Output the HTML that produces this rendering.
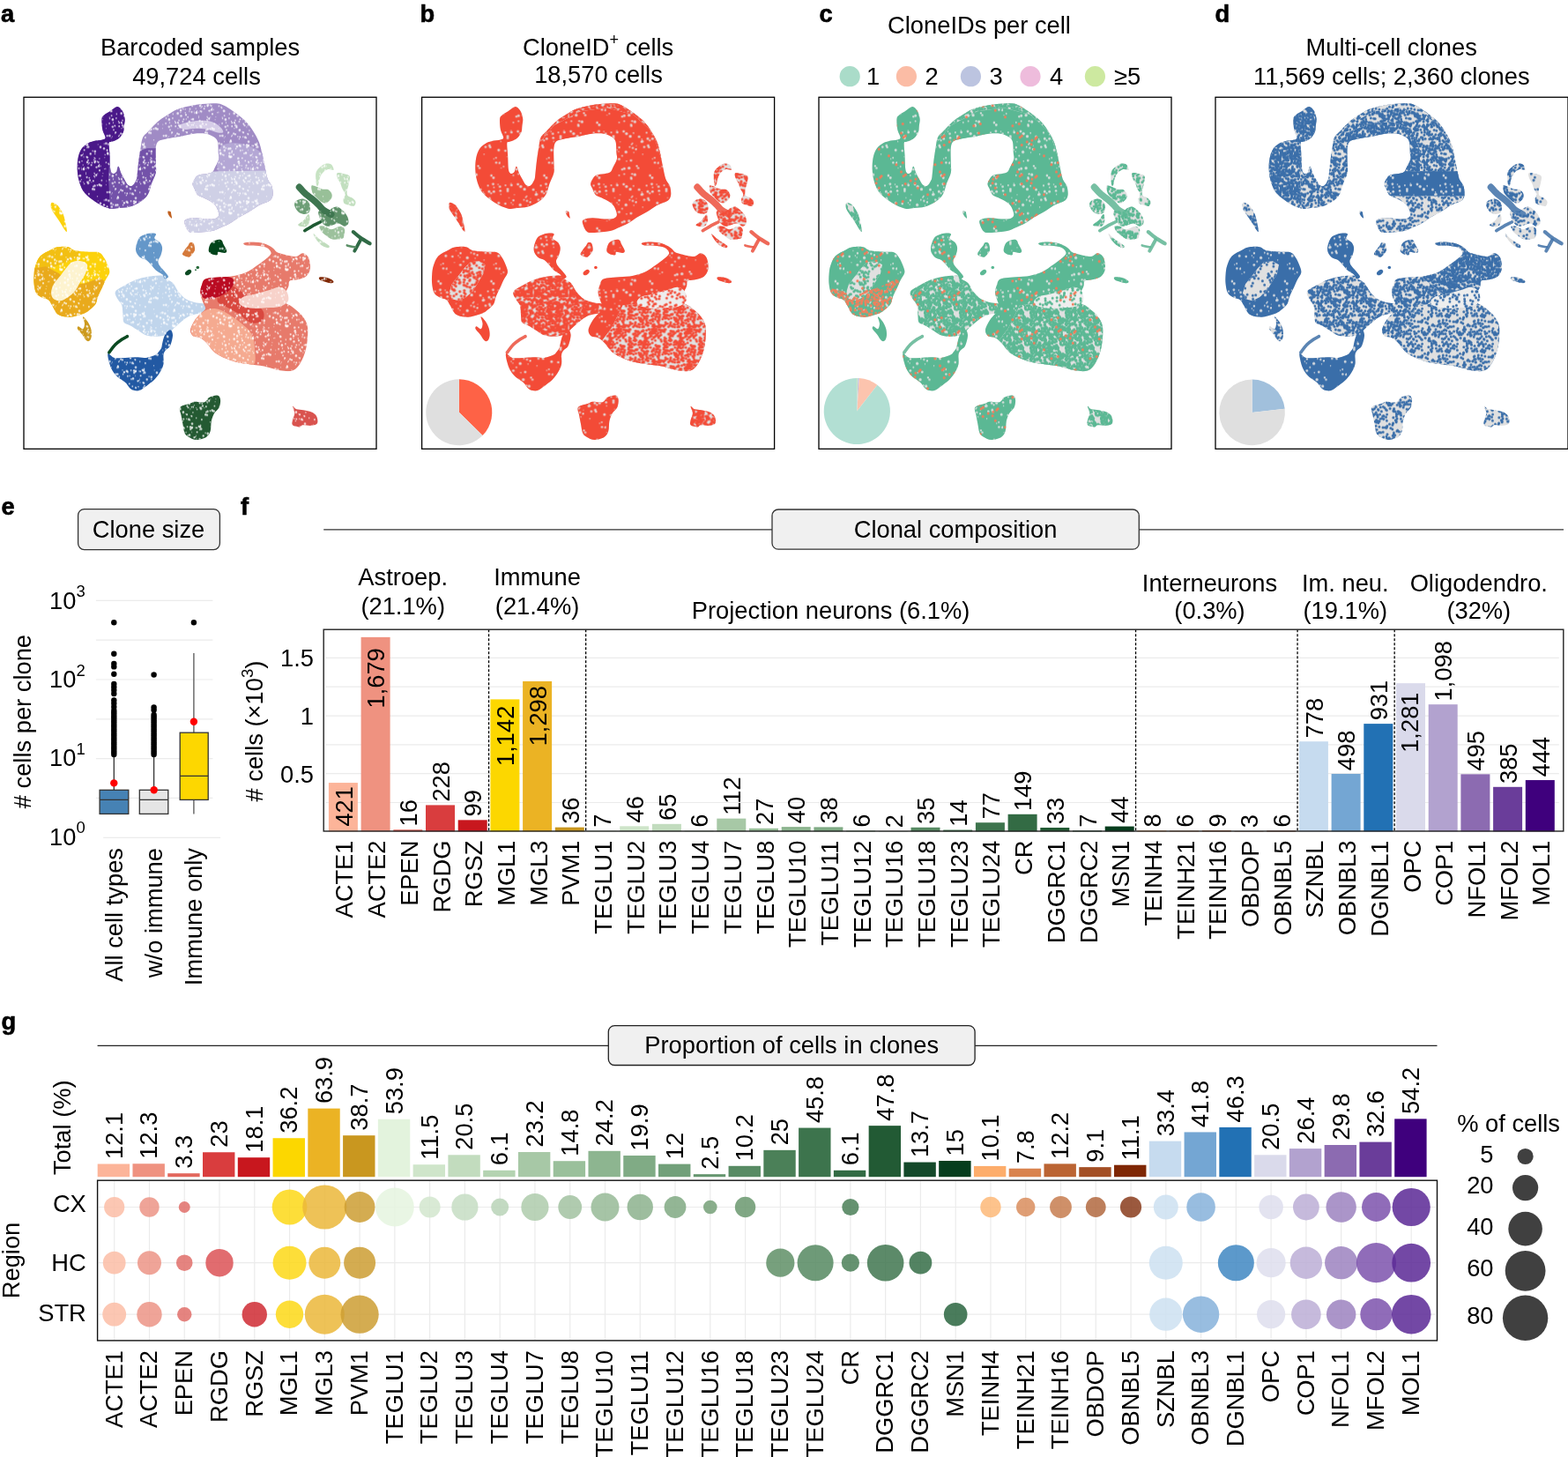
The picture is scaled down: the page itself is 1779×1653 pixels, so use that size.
<!DOCTYPE html><html><head><meta charset="utf-8"><title>Figure</title><style>html,body{margin:0;padding:0;background:#fff;width:1779px;height:1653px;overflow:hidden}svg{display:block}text{font-family:"Liberation Sans", Arial, Helvetica, sans-serif;font-size:27.3px;fill:#000}</style></head><body>
<svg width="1779" height="1653" viewBox="0 0 1779 1653">
<rect width="1779" height="1653" fill="#fff"/>
<text x="1" y="25" font-size="31" font-weight="bold" stroke="#000" stroke-width="0.6">a</text>
<text x="476.5" y="25" font-size="31" font-weight="bold" stroke="#000" stroke-width="0.6">b</text>
<text x="929.5" y="25" font-size="31" font-weight="bold" stroke="#000" stroke-width="0.6">c</text>
<text x="1378.5" y="25" font-size="31" font-weight="bold" stroke="#000" stroke-width="0.6">d</text>
<text x="227" y="63.3" text-anchor="middle">Barcoded samples</text>
<text x="223" y="95.8" text-anchor="middle">49,724 cells</text>
<text x="678.6" y="62.9" text-anchor="middle">CloneID<tspan dy="-12" font-size="18">+</tspan><tspan dy="12"> cells</tspan></text>
<text x="679" y="94.4" text-anchor="middle">18,570 cells</text>
<text x="1111" y="38.4" text-anchor="middle">CloneIDs per cell</text>
<text x="1578.7" y="63.3" text-anchor="middle">Multi-cell clones</text>
<text x="1578.8" y="95.8" text-anchor="middle">11,569 cells; 2,360 clones</text>
<circle cx="964.2" cy="86.7" r="11.6" fill="#aadcc9"/>
<text x="983" y="95.5">1</text>
<circle cx="1028.4" cy="86.7" r="11.6" fill="#fbbca5"/>
<text x="1049.5" y="95.5">2</text>
<circle cx="1101.4" cy="86.7" r="11.6" fill="#bcc4e0"/>
<text x="1122.5" y="95.5">3</text>
<circle cx="1169" cy="86.7" r="11.6" fill="#eebcdc"/>
<text x="1191" y="95.5">4</text>
<circle cx="1242.4" cy="86.7" r="11.6" fill="#cde9a0"/>
<text x="1264" y="95.5">≥5</text>
<defs><clipPath id="c_S"><path d="M104 11.4 C105.8 10.6 106.7 10.6 108.1 11.4 C109.5 12.2 111.1 14.1 112.2 16.3 C113.3 18.5 114.3 21.8 114.6 24.5 C114.9 27.2 114.1 30.3 113.8 32.7 C113.5 35.2 113.8 37 113 39.2 C112.2 41.4 110.4 44.2 108.9 45.8 C107.4 47.4 105.6 48.2 104 49 C102.4 49.8 100.3 50.2 99.1 50.7 C97.9 51.2 97 49.8 96.7 52.3 C96.4 54.8 97.2 60.5 97.5 65.4 C97.8 70.3 97.8 78.2 98.3 81.7 C98.8 85.2 99.7 86 100.8 86.6 C101.9 87.1 103.7 86.4 104.8 85 C105.9 83.6 106.3 78.1 107.3 78.4 C108.3 78.7 109.5 84.2 110.6 86.6 C111.7 89 112.8 90.8 114 93 C115.2 95.2 116.5 98.2 118 99.5 C119.5 100.8 121.5 101.2 123 100.5 C124.5 99.8 126.1 96.8 127 95 C127.9 93.2 128 93.5 128.5 89.9 C129 86.3 129.5 79 130.2 73.5 C130.9 68 131.8 61.8 132.6 57.2 C133.4 52.6 133.6 48.8 135 45.8 C136.4 42.8 137.8 42.3 140.8 39.2 C143.8 36.1 148.9 30.4 153 27 C157.1 23.6 161.6 21.1 165.3 18.8 C169 16.6 170.4 15.1 175 13.5 C179.6 11.9 187 10.1 193 9 C199 8 205.7 7.4 210.9 7.2 C216.1 7 219.9 6.6 224.4 8.1 C228.9 9.6 233.4 13 237.9 16.2 C242.4 19.3 247.7 23.2 251.4 27 C255.2 30.8 257.8 34.8 260.4 38.7 C262.9 42.6 265 46.4 266.7 50.4 C268.4 54.4 269.2 58.7 270.3 63 C271.4 67.3 271.9 71.5 273 76.4 C274.1 81.3 275.2 88.4 276.6 92.4 C278 96.4 280.3 97.5 281.3 100.5 C282.3 103.5 282.9 107.8 282.6 110.6 C282.3 113.4 281.2 115.6 279.3 117.3 C277.4 119 273.7 119.6 271.2 120.7 C268.7 121.8 267.2 122.4 264.4 124.1 C261.6 125.8 257.7 128.8 254.3 130.8 C250.9 132.8 247.6 134.2 244.2 136.2 C240.8 138.2 237.5 141.1 234.1 143 C230.7 144.9 227.4 146.2 224 147.7 C220.6 149.1 217.7 150.8 213.8 151.7 C209.9 152.6 204.7 152.9 200.4 153.1 C196.1 153.3 191.1 154.6 188.2 153.1 C185.3 151.6 183.6 146.7 182.8 144.3 C182 141.9 181.7 140.1 183.5 138.9 C185.3 137.7 189.7 137 193.6 136.9 C197.5 136.8 203.2 138.1 207.1 138.2 C211 138.3 214.8 138.4 217.2 137.6 C219.6 136.8 221.1 135.6 221.3 133.5 C221.5 131.4 219.8 127.1 218.6 124.8 C217.3 122.5 216.3 121.2 213.8 119.4 C211.3 117.6 206.5 115.5 203.7 114 C200.9 112.5 198.7 112.3 197 110.6 C195.3 108.9 194.5 105.9 193.6 103.8 C192.7 101.7 191 100.3 191.6 97.8 C192.2 95.3 194.4 90.8 197 89 C199.6 87.2 204.3 87.7 207.1 87 C209.9 86.3 212.1 86.3 213.8 85 C215.5 83.7 215.9 81.4 217.2 78.9 C218.4 76.4 220.7 72.8 221.3 70.1 C221.9 67.4 221 66.3 220.8 63 C220.6 59.7 220.8 53.4 219.9 50.4 C219 47.4 217.7 46.5 215.4 45 C213.2 43.5 210.1 42 206.4 41.4 C202.7 40.8 197.5 40.9 193 41.4 C188.5 41.9 182.5 43.5 179.5 44.1 C176.5 44.7 178.1 44.5 175 45 C171.9 45.5 164.9 46.6 161.2 47.4 C157.5 48.2 154.9 48.2 153 49.8 C151.1 51.4 150.3 53.2 149.8 57.2 C149.3 61.2 149.8 68.7 149.8 73.5 C149.8 78.3 150.6 81.7 149.8 85.8 C149 89.9 146.4 93.9 144.9 98 C143.4 102.1 142.9 106.9 140.8 110.3 C138.8 113.7 136 116.2 132.6 118.5 C129.2 120.8 124.5 123 120.4 124.2 C116.3 125.4 111.6 125.4 108.1 125.8 C104.5 126.2 102.5 127.1 99.1 126.6 C95.7 126 91.7 124.5 87.7 122.5 C83.8 120.5 78.8 117.1 75.4 114.4 C72 111.7 69.5 109.6 67.3 106.2 C65.1 102.8 63.5 98.1 62.4 94 C61.3 89.9 60.9 85.8 60.7 81.7 C60.6 77.6 60.8 73.1 61.5 69.4 C62.2 65.7 63.2 62.3 64.8 59.6 C66.4 56.9 68.8 54.7 71.3 53.1 C73.8 51.5 76.5 50.6 79.5 49.8 C82.5 49 87.1 48.9 89.3 48.2 C91.5 47.5 92.6 47.7 92.6 45.8 C92.6 43.9 90 40.3 89.3 36.8 C88.6 33.2 88.2 27.2 88.5 24.5 C88.8 21.8 89.5 21.8 91 20.4 C92.5 19 95.3 17.8 97.5 16.3 C99.7 14.8 102.2 12.2 104 11.4Z"/></clipPath><clipPath id="c_Y_STREAK"><path d="M31.5 119.8 C32.4 119 34.6 120.2 36 121 C37.4 121.8 38.5 122.6 40 124.6 C41.5 126.6 43.5 129.6 44.8 133 C46.1 136.4 47.1 141.8 47.8 145 C48.5 148.2 49.1 151.7 48.8 152.5 C48.5 153.3 47.3 151.8 46 150 C44.7 148.2 42.8 144.4 41 141.6 C39.2 138.8 36.7 135.6 35 133 C33.3 130.4 31.5 128 30.9 125.8 C30.3 123.6 30.6 120.6 31.5 119.8Z"/></clipPath><clipPath id="c_Y_RING"><path d="M13.2 191.2 C14.4 187.7 15.8 183.1 18.7 180.1 C21.6 177.1 27.2 174.8 30.5 173.1 C33.8 171.4 35.1 170.5 38.4 170 C41.7 169.5 46.9 169.3 50.2 170 C53.5 170.7 54.1 173 58 173.9 C61.9 174.8 69.2 175 73.8 175.4 C78.4 175.8 82.6 175.1 85.5 176.2 C88.4 177.3 89.3 179.5 91 182 C92.7 184.5 94.5 188.4 95.5 191.2 C96.5 194 97.7 196.4 97.3 199 C96.9 201.6 94.3 204.4 93 207 C91.7 209.6 91 211.4 89.5 214.7 C88 217.9 85.3 223.2 84 226.5 C82.7 229.8 83.1 232 81.6 234.4 C80.1 236.8 77 239.3 75 241 C73 242.7 72.6 243.3 69.8 244.6 C67 245.8 61.5 247.7 58 248.5 C54.5 249.3 51.9 249.7 48.6 249.3 C45.3 248.9 41.2 248.4 38.4 246.2 C35.6 244 33.7 238.7 32 236 C30.3 233.3 30 231.5 28 230 C26 228.5 22.3 228.3 20 227 C17.7 225.7 15.4 224.5 14 222 C12.6 219.5 12 215.5 11.6 212 C11.2 208.5 11.3 204.5 11.6 201 C11.9 197.5 12 194.7 13.2 191.2Z"/></clipPath><clipPath id="c_Y_TAIL"><path d="M67 249 C67.5 248.5 70.5 251.8 72 254 C73.5 256.2 75.2 259.3 76 262 C76.8 264.7 77.2 267.7 77 270 C76.8 272.3 76 275 75 276 C74 277 72.5 277.2 71 276 C69.5 274.8 67.7 271.2 66 269 C64.3 266.8 61.7 264.5 61 263 C60.3 261.5 61 260 62 260 C63 260 65.8 263.5 67 263 C68.2 262.5 69 259.3 69 257 C69 254.7 66.5 249.5 67 249Z"/></clipPath><clipPath id="c_B_MED"><path d="M127.2 169.6 C127.7 166.7 129.3 161.8 131.1 159.4 C132.9 157 135.7 156.2 138.2 155.4 C140.7 154.6 144.1 154.3 146.1 154.3 C148.1 154.3 149.6 154.4 150 155.4 C150.4 156.4 147.6 158.6 148.4 160.2 C149.2 161.8 153.2 163.1 154.7 164.9 C156.1 166.7 157 168.8 157.1 171.2 C157.2 173.6 156.3 176.7 155.5 179.1 C154.7 181.5 152.7 183.4 152.4 185.4 C152.2 187.4 152.9 189.1 154 190.9 C155.1 192.7 157 194.3 158.7 196.4 C160.4 198.5 163.8 201.9 164 203.5 C164.2 205.1 161.2 206.4 160 206 C158.8 205.6 158.8 202.7 157.1 201.1 C155.4 199.5 152.1 198.2 150 196.4 C147.9 194.6 146.3 192.1 144.5 190.1 C142.7 188.1 141 185.9 139 184.6 C137 183.3 134.5 183.5 132.7 182.2 C130.9 180.9 128.9 178.8 128 176.7 C127.1 174.6 126.7 172.5 127.2 169.6Z"/></clipPath><clipPath id="c_B_LIGHT"><path d="M104 220.6 C105.4 218 111.2 215.5 115 213.3 C118.8 211.1 122.8 208.9 127 207.3 C131.2 205.7 134.9 204.4 140 203.6 C145.1 202.8 153.4 201.8 157.3 202.4 C161.2 203 161.3 205.9 163.3 207.3 C165.3 208.7 167.4 208.8 169.4 211 C171.4 213.2 173 217.6 175.4 220.6 C177.8 223.6 181 227 184 229 C187 231 190.4 231.9 193.6 232.7 C196.8 233.5 199.9 233.3 203 234 C206.1 234.7 210 235.7 212 237 C214 238.3 216.2 240.7 215 242 C213.8 243.3 208.2 244.3 205 245 C201.8 245.7 198.9 245.4 196 246 C193.1 246.6 190.3 247 187.5 248.4 C184.7 249.8 182 252 179 254.4 C176 256.8 172 260.6 169.4 263 C166.8 265.4 166.3 267.6 163.3 269 C160.3 270.4 155.2 271.2 151.2 271.4 C147.1 271.6 142.4 271.2 139 270.2 C135.6 269.2 133.7 267.1 130.7 265.3 C127.7 263.5 123.8 260.9 121 259.3 C118.2 257.7 115.1 257.5 113.7 255.7 C112.3 253.9 112.9 251.6 112.5 248.4 C112.1 245.2 112.3 239.5 111.3 236.3 C110.3 233.1 107.7 231.6 106.5 229 C105.3 226.4 102.6 223.2 104 220.6Z"/></clipPath><clipPath id="c_B_DARK"><path d="M95.6 290.7 C96.6 289.9 99.6 294.8 102.8 295.6 C106 296.4 111 295.7 115 295.6 C119 295.5 123 295 127 295 C131 295 135.2 296.1 139 295.6 C142.8 295.1 147.8 293 150 292 C152.2 291 151.5 290.7 152.5 289.5 C153.5 288.3 155.2 286.5 156 284.7 C156.8 282.9 156.6 281.1 157.3 278.6 C158 276.2 158.6 272.4 160 270 C161.4 267.6 164.5 264 166 264 C167.5 264 169 266.9 169 270 C169 273.1 167.3 279.5 166 282.3 C164.7 285.1 162.2 285.4 161 287 C159.8 288.6 158.9 289.4 158.5 292 C158.1 294.6 159.1 299.6 158.5 302.8 C157.9 306 156.6 308.5 155 311.3 C153.4 314.1 151 317.4 148.8 319.8 C146.6 322.2 144.2 323.8 141.6 325.8 C139 327.8 135.4 330.7 133 331.9 C130.6 333.1 129 333.2 127 333 C125 332.8 123 332.3 121 330.7 C119 329.1 117.4 325.6 115 323.4 C112.6 321.2 108.9 319.6 106.5 317.4 C104.1 315.2 102 312.8 100.4 310 C98.8 307.2 97.6 303.6 96.8 300.4 C96 297.2 94.6 291.5 95.6 290.7Z"/></clipPath><clipPath id="c_R_MAIN"><path d="M249.6 165.4 C251 164.8 256.7 164.2 260.5 164.3 C264.3 164.4 269 164.9 272.6 166 C276.2 167.1 279.9 169.3 282.3 170.9 C284.7 172.5 285.1 174.5 287.1 175.7 C289.1 176.9 290.8 177.3 294.4 178.1 C298 178.9 305.3 180.8 308.9 180.6 C312.5 180.4 314 177 316.2 177 C318.4 177 320.8 178.8 322.2 180.6 C323.6 182.4 324.2 185.2 324.6 187.8 C325 190.4 325.4 193.7 324.6 196.3 C323.8 198.9 322.4 201.8 319.8 203.6 C317.2 205.4 311.9 206.4 308.9 207.2 C305.9 208 303 207.2 301.6 208.4 C300.2 209.6 301.2 212 300.4 214.4 C299.6 216.8 297.4 219.9 296.8 222.9 C296.2 225.9 295.6 230.2 296.8 232.6 C298 235 301 235 304 237.4 C307 239.8 312.2 243.8 315 247 C317.8 250.2 319.8 253.2 321 256.8 C322.2 260.4 322.4 263.9 322.2 268.9 C322 273.9 321.2 281.6 319.8 287 C318.4 292.4 316.1 297.8 313.7 301.6 C311.3 305.4 309.1 308.6 305.3 310 C301.5 311.4 296.1 310.8 290.7 310 C285.2 309.2 278.7 306.4 272.6 305.2 C266.6 304 260.4 303.8 254.4 302.8 C248.3 301.8 242.4 301.1 236.3 299.1 C230.2 297.1 222.9 294.1 218.1 290.7 C213.3 287.3 210.3 281.6 207.3 278.6 C204.3 275.7 202.6 274.3 200 273 C197.4 271.7 193.8 272.5 192 271 C190.2 269.5 188.7 267 189 264 C189.3 261 192.2 256 194 253 C195.8 250 198 248.2 200 246 C202 243.8 205.5 242.3 206 240 C206.5 237.7 204 235 203 232 C202 229 200.2 225.2 200 222 C199.8 218.8 201.2 215.5 202 213 C202.8 210.5 203.1 208.3 204.8 207 C206.5 205.7 208.8 205.5 212 205 C215.2 204.5 219.5 204.4 224.2 204 C228.9 203.6 235 203.6 240 202.5 C245 201.4 250.2 199.7 254.4 197.7 C258.6 195.7 261.9 192.9 265.3 190.5 C268.7 188.1 272.5 185.4 275 183.2 C277.5 181 280 179.3 280.5 177.5 C281 175.7 279.3 173.8 278 172.5 C276.7 171.2 275.5 170.5 272.6 169.8 C269.7 169.1 263.9 168.6 260.5 168.3 C257.1 168 253.8 168.5 252 168 C250.2 167.5 248.2 166 249.6 165.4Z"/></clipPath><clipPath id="c_R_SMALL"><path d="M305 350.6 C305.4 349.9 307.4 353.3 309.5 354 C311.6 354.7 314.6 354.4 317.4 355 C320.2 355.6 324 356.2 326.4 357.3 C328.8 358.4 330.9 359.7 332 361.8 C333.1 363.9 334 367.9 333.1 369.7 C332.2 371.5 329.2 372.1 326.4 372.5 C323.6 372.9 318.5 371.7 316.3 372 C314.1 372.3 314.9 374.2 313 374.2 C311.1 374.2 306.3 373.3 305 372 C303.7 370.7 304.6 368.6 305 366.3 C305.4 364.1 307.3 361.1 307.3 358.5 C307.3 355.9 304.6 351.4 305 350.6Z"/></clipPath><clipPath id="c_BROWN"><path d="M335.5 204.2 C336.7 203.8 340.8 204.1 343 204.5 C345.2 204.9 347.6 206 349 206.8 C350.4 207.7 351.7 208.9 351.5 209.6 C351.3 210.3 349.6 211 348 211 C346.4 211 344 210.1 342 209.5 C340 208.9 337.1 208.1 336 207.2 C334.9 206.3 334.3 204.6 335.5 204.2Z"/></clipPath><clipPath id="c_DG_BLOB"><path d="M209.7 174.2 C209.5 172.2 210.7 167.8 212.1 165.8 C213.5 163.8 216.1 162.7 218.1 162.1 C220.1 161.5 222.8 161.3 224.2 162.1 C225.6 162.9 225.6 165 226.6 167 C227.6 169 230 172.6 230.2 174.2 C230.4 175.8 229.4 176.4 227.8 176.6 C226.2 176.8 222 175 220.6 175.4 C219.2 175.8 220.6 178.6 219.4 179 C218.2 179.4 214.9 178.7 213.3 177.9 C211.7 177.1 209.9 176.2 209.7 174.2Z"/></clipPath><clipPath id="c_DG_BOTTOM"><path d="M177.4 351.7 C179 349.6 185.4 348.8 188.1 347.8 C190.8 346.8 190.9 345.8 193.7 345.5 C196.5 345.2 202.2 346.8 205 346 C207.8 345.2 208.2 341.8 210.6 340.5 C213 339.2 217.5 337.8 219.6 338.2 C221.7 338.6 222.6 340.4 223 342.7 C223.4 344.9 222.9 349.1 221.8 351.7 C220.7 354.3 217.7 355.9 216.2 358.5 C214.7 361.1 213.6 364.1 212.8 367.5 C212.1 370.9 212.6 375.7 211.7 378.7 C210.8 381.7 209.8 383.7 207.2 385.4 C204.6 387.1 199.4 388.8 196 388.8 C192.6 388.8 189.2 386.7 187 385.4 C184.8 384.1 183.6 383.6 182.5 381 C181.4 378.4 180.9 373.1 180.2 369.7 C179.5 366.3 179 363.7 178.5 360.7 C178 357.7 175.8 353.8 177.4 351.7Z"/></clipPath><clipPath id="c_G_ARC"><path d="M331.3 86.7 C331.8 83.6 333.1 82.2 334.8 80.4 C336.6 78.6 339.5 76.3 341.8 75.6 C344.1 74.9 347.1 75.1 348.7 76.3 C350.3 77.5 352.1 81.6 351.5 82.5 C350.9 83.4 347.3 81.2 345.2 81.8 C343.1 82.4 340.6 84.1 339 86 C337.4 87.9 336.3 90.7 335.5 93 C334.7 95.3 334.6 99 334 100 C333.4 101 332.4 101.4 332 99.2 C331.6 97 330.8 89.8 331.3 86.7Z"/></clipPath><clipPath id="c_G_RCOL"><path d="M355.7 86 C356.9 85.3 360.3 86.1 362.6 86.7 C364.9 87.3 368.6 87.7 369.6 89.5 C370.7 91.3 369.4 95 368.9 97.8 C368.4 100.6 367 103.9 366.8 106.2 C366.6 108.5 366.5 110.4 367.5 111.8 C368.5 113.2 371.5 113.3 373 114.5 C374.5 115.7 376.2 117.2 376.5 118.7 C376.8 120.2 375.9 123 374.5 123.6 C373.1 124.2 370.1 122.8 368.2 122.2 C366.3 121.6 364.2 121.3 363.3 120.1 C362.4 118.9 362.4 116.8 362.6 115.2 C362.8 113.6 364.9 112.4 364.7 110.4 C364.5 108.4 362.1 105.5 361.2 103.4 C360.3 101.3 360.1 99.9 359.2 97.8 C358.3 95.7 356.3 92.9 355.7 90.9 C355.1 88.9 354.5 86.7 355.7 86Z"/></clipPath><clipPath id="c_G_MEDTOP"><path d="M326.4 100.6 C327 99.3 329.3 100.7 331.3 101.3 C333.3 101.9 336 103.5 338.3 104.1 C340.6 104.7 343.4 103.9 345.2 104.8 C347 105.7 348.8 108 349.4 109.7 C350 111.4 349.8 113.5 348.7 115.2 C347.6 116.9 345 119.5 343.1 120.1 C341.2 120.7 339.3 119.6 337.6 118.7 C335.9 117.8 334.3 116.1 332.7 114.5 C331.1 112.9 328.9 111.3 327.8 109 C326.8 106.7 325.8 101.9 326.4 100.6Z"/></clipPath><clipPath id="c_G_LEFT"><path d="M307 122.2 C306.8 120.1 308.1 118.5 309.7 117.3 C311.3 116.1 314.5 115 316.7 115.2 C318.9 115.4 321.6 117 323 118.7 C324.4 120.5 325 123.6 325 125.7 C325 127.8 324.3 130 323 131.2 C321.7 132.3 319.4 132.8 317.4 132.6 C315.4 132.4 312.8 131.5 311.1 129.8 C309.4 128.1 307.2 124.3 307 122.2Z"/></clipPath><clipPath id="c_G_LL"><path d="M311.1 144.5 C311.7 143.3 315.4 141.6 317.4 139.6 C319.4 137.6 321.8 132.6 323 132.6 C324.2 132.6 324.8 137.3 324.4 139.6 C324 141.9 322.6 145.3 320.9 146.5 C319.1 147.7 315.5 146.8 313.9 146.5 C312.3 146.2 310.5 145.7 311.1 144.5Z"/></clipPath><clipPath id="c_G_CENTER"><path d="M334.8 129.2 C336.4 128 342.6 129.8 345.2 129.2 C347.8 128.6 348.4 126.5 350.1 125.7 C351.9 124.9 353.6 123.7 355.7 124.3 C357.8 124.9 360.6 127.2 362.6 129.2 C364.6 131.2 366.6 133.8 367.5 136.1 C368.4 138.4 368.8 141.4 368.2 143.1 C367.6 144.8 365.9 146.5 364 146.5 C362.1 146.5 359.4 143.3 357.1 143.1 C354.8 142.9 352.2 144.6 350.1 145.2 C348 145.8 346.4 146.8 344.5 146.5 C342.6 146.2 340.5 144.8 339 143.1 C337.5 141.4 336.2 138.4 335.5 136.1 C334.8 133.8 333.2 130.3 334.8 129.2Z"/></clipPath><clipPath id="c_G_RING"><path d="M335.5 146.5 C336.2 145.6 339.6 145.9 341.8 146.5 C344 147.1 345.8 150 348.7 150 C351.6 150 356.6 146.5 359.2 146.5 C361.8 146.5 363.3 148.2 364 150 C364.7 151.8 363.8 155.2 363.3 157 C362.8 158.8 363.4 159.8 361.2 160.5 C359 161.2 353.1 161.8 350.1 161.2 C347.1 160.6 345.2 158.5 343.1 157 C341 155.5 338.9 153.8 337.6 152.1 C336.3 150.3 334.8 147.4 335.5 146.5Z"/></clipPath><clipPath id="c_G_BSTREAK"><path d="M329.2 154.9 C330.1 155.5 332.7 158.8 334.8 160.5 C336.9 162.2 339.8 163.9 341.8 165.3 C343.8 166.7 346 167.9 346.6 168.8 C347.2 169.7 346.5 170.9 345.2 170.9 C343.9 170.9 341.1 170.2 339 168.8 C336.9 167.4 334.3 164.6 332.7 162.6 C331.1 160.6 329.8 158.3 329.2 157 C328.6 155.7 328.3 154.3 329.2 154.9Z"/></clipPath><clipPath id="c_ORANGE"><path d="M179.9 178.3 C179.6 177.1 181.2 175.2 182.3 173.6 C183.4 172 185.1 170.2 186.2 168.8 C187.2 167.4 187.5 165.4 188.6 164.9 C189.7 164.4 191.6 164.4 192.5 165.7 C193.4 167 194.2 170.8 194.1 172.8 C194 174.8 192.8 176.1 191.7 177.5 C190.6 178.9 189.1 180.9 187.8 181.4 C186.5 181.9 185.2 181.1 183.9 180.6 C182.6 180.1 180.2 179.5 179.9 178.3Z"/></clipPath><clipPath id="c_ORANGE_S"><path d="M163.3 129.5 C163.7 129 165.8 129.1 166.5 129.8 C167.2 130.6 167.2 132.8 167.5 134 C167.8 135.2 168.2 137 168 137.3 C167.8 137.6 166.9 136.7 166.2 136 C165.5 135.3 164.5 134.1 164 133 C163.5 131.9 162.9 130 163.3 129.5Z"/></clipPath><pattern id="pr75" patternUnits="userSpaceOnUse" width="40" height="40"><g fill="#f34b37"><circle cx="31.2" cy="9.4" r="1.5"/><circle cx="1.2" cy="8.9" r="1.5"/><circle cx="41.2" cy="8.9" r="1.5"/><circle cx="17.7" cy="3" r="1.5"/><circle cx="37.5" cy="2.8" r="1.5"/><circle cx="20.6" cy="14.7" r="1.5"/><circle cx="13.4" cy="17.5" r="1.5"/><circle cx="36" cy="36.1" r="1.5"/><circle cx="11" cy="1" r="1.5"/><circle cx="11" cy="41" r="1.5"/><circle cx="26.5" cy="20.2" r="1.5"/><circle cx="12.9" cy="7.1" r="1.5"/><circle cx="32.5" cy="24.9" r="1.5"/><circle cx="36.1" cy="24.6" r="1.5"/><circle cx="36.3" cy="24.7" r="1.5"/><circle cx="14.7" cy="22" r="1.5"/><circle cx="21.7" cy="3.2" r="1.5"/><circle cx="14.3" cy="0.8" r="1.5"/><circle cx="14.3" cy="40.8" r="1.5"/><circle cx="27.5" cy="33.9" r="1.5"/><circle cx="16.1" cy="34.8" r="1.5"/><circle cx="2.5" cy="12.1" r="1.5"/><circle cx="35.3" cy="32.9" r="1.5"/><circle cx="6.9" cy="16.5" r="1.5"/><circle cx="14" cy="4.4" r="1.5"/><circle cx="25.7" cy="1.2" r="1.5"/><circle cx="25.7" cy="41.2" r="1.5"/><circle cx="9.6" cy="7.5" r="1.5"/><circle cx="32.7" cy="19.2" r="1.5"/><circle cx="34" cy="3.4" r="1.5"/><circle cx="10.1" cy="30.5" r="1.5"/><circle cx="1.2" cy="34.7" r="1.5"/><circle cx="41.2" cy="34.7" r="1.5"/><circle cx="16.4" cy="30.6" r="1.5"/><circle cx="20.1" cy="7.4" r="1.5"/><circle cx="26.3" cy="3.9" r="1.5"/><circle cx="19" cy="26.3" r="1.5"/><circle cx="12.7" cy="22.2" r="1.5"/><circle cx="21.2" cy="15.7" r="1.5"/><circle cx="9.2" cy="21.5" r="1.5"/><circle cx="23.3" cy="3.7" r="1.5"/><circle cx="22.9" cy="2.4" r="1.5"/><circle cx="26.9" cy="21.1" r="1.5"/><circle cx="0.6" cy="24.9" r="1.5"/><circle cx="40.6" cy="24.9" r="1.5"/><circle cx="20.3" cy="26.1" r="1.5"/><circle cx="3.2" cy="4.1" r="1.5"/><circle cx="-0.9" cy="1.3" r="1.5"/><circle cx="-0.9" cy="41.3" r="1.5"/><circle cx="39.1" cy="1.3" r="1.5"/><circle cx="39.1" cy="41.3" r="1.5"/><circle cx="-0.5" cy="5.9" r="1.5"/><circle cx="39.5" cy="5.9" r="1.5"/><circle cx="14.2" cy="19.6" r="1.5"/><circle cx="24" cy="36.4" r="1.5"/><circle cx="15.5" cy="31.3" r="1.5"/><circle cx="17" cy="27.7" r="1.5"/><circle cx="22.8" cy="22.1" r="1.5"/><circle cx="25.2" cy="17.8" r="1.5"/><circle cx="8.6" cy="14.8" r="1.5"/><circle cx="25" cy="34.2" r="1.5"/><circle cx="13.8" cy="1.4" r="1.5"/><circle cx="13.8" cy="41.4" r="1.5"/><circle cx="34" cy="4.8" r="1.5"/><circle cx="28.4" cy="7.5" r="1.5"/><circle cx="24.1" cy="15.3" r="1.5"/><circle cx="13.4" cy="15.3" r="1.5"/><circle cx="17.3" cy="35.2" r="1.5"/><circle cx="25.6" cy="25.6" r="1.5"/><circle cx="34.1" cy="36.9" r="1.5"/><circle cx="30.7" cy="17.3" r="1.5"/><circle cx="-0.9" cy="19.7" r="1.5"/><circle cx="39.1" cy="19.7" r="1.5"/><circle cx="36.4" cy="20.5" r="1.5"/><circle cx="37.2" cy="13.2" r="1.5"/><circle cx="32.4" cy="12" r="1.5"/><circle cx="22.2" cy="34.2" r="1.5"/><circle cx="21.4" cy="32.8" r="1.5"/><circle cx="8.4" cy="23.4" r="1.5"/><circle cx="31.6" cy="19.9" r="1.5"/><circle cx="-0.8" cy="3" r="1.5"/><circle cx="39.2" cy="3" r="1.5"/><circle cx="28.8" cy="37.8" r="1.5"/><circle cx="36.3" cy="7" r="1.5"/><circle cx="37.1" cy="7.5" r="1.5"/><circle cx="23.2" cy="22.3" r="1.5"/><circle cx="27.7" cy="12.7" r="1.5"/><circle cx="3.2" cy="2.5" r="1.5"/><circle cx="28.4" cy="-1.4" r="1.5"/><circle cx="28.4" cy="38.6" r="1.5"/><circle cx="13.6" cy="31.5" r="1.5"/><circle cx="13.9" cy="6.3" r="1.5"/><circle cx="37.6" cy="37" r="1.5"/><circle cx="1.3" cy="14.4" r="1.5"/><circle cx="41.3" cy="14.4" r="1.5"/><circle cx="31.8" cy="32.4" r="1.5"/><circle cx="34.1" cy="1.1" r="1.5"/><circle cx="34.1" cy="41.1" r="1.5"/><circle cx="4.6" cy="3.4" r="1.5"/><circle cx="30.1" cy="33.8" r="1.5"/><circle cx="17.8" cy="6.5" r="1.5"/><circle cx="25.8" cy="1.2" r="1.5"/><circle cx="25.8" cy="41.2" r="1.5"/><circle cx="27.3" cy="20.7" r="1.5"/><circle cx="24.3" cy="2.7" r="1.5"/><circle cx="3.7" cy="21.3" r="1.5"/><circle cx="26.6" cy="37.1" r="1.5"/><circle cx="33.2" cy="14.2" r="1.5"/><circle cx="21.7" cy="27.8" r="1.5"/><circle cx="27.9" cy="9.1" r="1.5"/><circle cx="14.9" cy="38.3" r="1.5"/><circle cx="29.6" cy="25" r="1.5"/><circle cx="9.3" cy="21.6" r="1.5"/><circle cx="33.4" cy="35.1" r="1.5"/><circle cx="33.1" cy="22.3" r="1.5"/><circle cx="35" cy="20" r="1.5"/><circle cx="16.2" cy="33.8" r="1.5"/><circle cx="33.4" cy="32.5" r="1.5"/><circle cx="3.7" cy="4.7" r="1.5"/><circle cx="26.4" cy="14.3" r="1.5"/><circle cx="37.4" cy="-0.9" r="1.5"/><circle cx="37.4" cy="39.1" r="1.5"/><circle cx="3.7" cy="4.9" r="1.5"/><circle cx="15.2" cy="5.3" r="1.5"/><circle cx="13" cy="2.6" r="1.5"/><circle cx="24.3" cy="33.2" r="1.5"/><circle cx="17.6" cy="21.7" r="1.5"/><circle cx="5.5" cy="37.1" r="1.5"/><circle cx="24.4" cy="25.9" r="1.5"/><circle cx="-1.2" cy="5.9" r="1.5"/><circle cx="38.8" cy="5.9" r="1.5"/><circle cx="15.7" cy="22.4" r="1.5"/><circle cx="37.4" cy="5.9" r="1.5"/><circle cx="21" cy="17.9" r="1.5"/><circle cx="25.1" cy="7" r="1.5"/><circle cx="1.2" cy="25.4" r="1.5"/><circle cx="41.2" cy="25.4" r="1.5"/><circle cx="4.6" cy="2.2" r="1.5"/><circle cx="17.4" cy="20" r="1.5"/><circle cx="28.7" cy="35.5" r="1.5"/><circle cx="28" cy="20.2" r="1.5"/><circle cx="1.3" cy="12.9" r="1.5"/><circle cx="41.3" cy="12.9" r="1.5"/><circle cx="21" cy="19.2" r="1.5"/><circle cx="36.5" cy="9.7" r="1.5"/><circle cx="7.9" cy="28.4" r="1.5"/><circle cx="21.1" cy="21.5" r="1.5"/><circle cx="16.9" cy="5.1" r="1.5"/><circle cx="29.4" cy="23.1" r="1.5"/><circle cx="5" cy="4.5" r="1.5"/><circle cx="15.1" cy="0.5" r="1.5"/><circle cx="15.1" cy="40.5" r="1.5"/><circle cx="14" cy="18.6" r="1.5"/><circle cx="37.7" cy="20.7" r="1.5"/><circle cx="28.7" cy="21.4" r="1.5"/><circle cx="25.8" cy="32.9" r="1.5"/><circle cx="7.7" cy="30" r="1.5"/><circle cx="18.9" cy="28.2" r="1.5"/><circle cx="12.6" cy="26.4" r="1.5"/><circle cx="32.1" cy="17.2" r="1.5"/><circle cx="15.8" cy="23.9" r="1.5"/><circle cx="20.4" cy="28" r="1.5"/><circle cx="25.5" cy="31.5" r="1.5"/><circle cx="4" cy="11.8" r="1.5"/><circle cx="12.8" cy="32.1" r="1.5"/><circle cx="11.6" cy="32.1" r="1.5"/><circle cx="15.3" cy="13" r="1.5"/><circle cx="10.3" cy="29.9" r="1.5"/><circle cx="1.6" cy="16" r="1.5"/><circle cx="33.3" cy="22.4" r="1.5"/><circle cx="2.6" cy="16.4" r="1.5"/><circle cx="25.9" cy="11.3" r="1.5"/><circle cx="32.8" cy="-1.4" r="1.5"/><circle cx="32.8" cy="38.6" r="1.5"/><circle cx="2.7" cy="7.3" r="1.5"/><circle cx="2.6" cy="14" r="1.5"/><circle cx="2.7" cy="25.2" r="1.5"/><circle cx="13.9" cy="30.6" r="1.5"/><circle cx="17.7" cy="17.8" r="1.5"/><circle cx="35.7" cy="13.8" r="1.5"/><circle cx="4.2" cy="25.8" r="1.5"/><circle cx="19.4" cy="33" r="1.5"/><circle cx="26.9" cy="31.4" r="1.5"/><circle cx="11" cy="18.7" r="1.5"/><circle cx="35" cy="19.9" r="1.5"/><circle cx="32.6" cy="7" r="1.5"/><circle cx="17.3" cy="28.2" r="1.5"/><circle cx="32.1" cy="3.9" r="1.5"/><circle cx="2.1" cy="16.7" r="1.5"/><circle cx="35.9" cy="4.7" r="1.5"/><circle cx="25.4" cy="7.8" r="1.5"/><circle cx="21.7" cy="11.5" r="1.5"/><circle cx="6.8" cy="29.2" r="1.5"/><circle cx="14.7" cy="33.6" r="1.5"/><circle cx="13.3" cy="23.7" r="1.5"/><circle cx="14.7" cy="4.5" r="1.5"/><circle cx="8.9" cy="24.2" r="1.5"/><circle cx="0.8" cy="14.8" r="1.5"/><circle cx="40.8" cy="14.8" r="1.5"/><circle cx="37.7" cy="37.3" r="1.5"/><circle cx="35.1" cy="0.6" r="1.5"/><circle cx="35.1" cy="40.6" r="1.5"/><circle cx="29.7" cy="24.2" r="1.5"/><circle cx="8.2" cy="28.4" r="1.5"/><circle cx="12.6" cy="22.1" r="1.5"/><circle cx="30.7" cy="33" r="1.5"/><circle cx="26.3" cy="-1.5" r="1.5"/><circle cx="26.3" cy="38.5" r="1.5"/><circle cx="14.9" cy="25.1" r="1.5"/><circle cx="27.8" cy="24" r="1.5"/><circle cx="24.5" cy="16" r="1.5"/><circle cx="15.3" cy="32" r="1.5"/><circle cx="22.6" cy="37.7" r="1.5"/><circle cx="37.7" cy="22.9" r="1.5"/><circle cx="11" cy="21.8" r="1.5"/><circle cx="8.7" cy="6.4" r="1.5"/><circle cx="8.7" cy="11.1" r="1.5"/><circle cx="-0.6" cy="37.3" r="1.5"/><circle cx="39.4" cy="37.3" r="1.5"/><circle cx="14.7" cy="29.8" r="1.5"/><circle cx="-1.1" cy="34.9" r="1.5"/><circle cx="38.9" cy="34.9" r="1.5"/><circle cx="35.2" cy="3.1" r="1.5"/><circle cx="13.1" cy="5.8" r="1.5"/><circle cx="17.2" cy="10.2" r="1.5"/><circle cx="13.5" cy="35.2" r="1.5"/><circle cx="13.1" cy="18.3" r="1.5"/><circle cx="35.1" cy="13.1" r="1.5"/><circle cx="35.8" cy="36.6" r="1.5"/><circle cx="1.7" cy="12" r="1.5"/><circle cx="28.7" cy="7.9" r="1.5"/><circle cx="9.1" cy="21.7" r="1.5"/><circle cx="3.7" cy="2.1" r="1.5"/><circle cx="34.3" cy="24.3" r="1.5"/><circle cx="4.9" cy="23.4" r="1.5"/><circle cx="20.3" cy="8.5" r="1.5"/><circle cx="1.2" cy="25.9" r="1.5"/><circle cx="41.2" cy="25.9" r="1.5"/><circle cx="35" cy="24" r="1.5"/><circle cx="4.1" cy="30.6" r="1.5"/><circle cx="28.1" cy="0.9" r="1.5"/><circle cx="28.1" cy="40.9" r="1.5"/><circle cx="29.8" cy="21.7" r="1.5"/><circle cx="27.1" cy="23.2" r="1.5"/><circle cx="33.9" cy="3.9" r="1.5"/><circle cx="25.8" cy="13.9" r="1.5"/><circle cx="-0.5" cy="36.7" r="1.5"/><circle cx="39.5" cy="36.7" r="1.5"/><circle cx="20" cy="-0.8" r="1.5"/><circle cx="20" cy="39.2" r="1.5"/><circle cx="28.4" cy="15.8" r="1.5"/><circle cx="5.2" cy="35.8" r="1.5"/><circle cx="0.4" cy="21.4" r="1.5"/><circle cx="40.4" cy="21.4" r="1.5"/><circle cx="-0.5" cy="-1.4" r="1.5"/><circle cx="-0.5" cy="38.6" r="1.5"/><circle cx="39.5" cy="-1.4" r="1.5"/><circle cx="39.5" cy="38.6" r="1.5"/><circle cx="28.6" cy="13.2" r="1.5"/><circle cx="29.6" cy="6.2" r="1.5"/><circle cx="24.9" cy="1.4" r="1.5"/><circle cx="24.9" cy="41.4" r="1.5"/><circle cx="9.1" cy="20.3" r="1.5"/><circle cx="16.3" cy="9.8" r="1.5"/><circle cx="22.5" cy="26.1" r="1.5"/><circle cx="4.2" cy="20.8" r="1.5"/><circle cx="24.2" cy="26.1" r="1.5"/><circle cx="35.8" cy="33.9" r="1.5"/><circle cx="15.5" cy="30.9" r="1.5"/><circle cx="31.5" cy="34.3" r="1.5"/><circle cx="32.8" cy="34.8" r="1.5"/><circle cx="32.9" cy="34.7" r="1.5"/><circle cx="27" cy="4.5" r="1.5"/><circle cx="27.9" cy="16.7" r="1.5"/><circle cx="12.6" cy="15.4" r="1.5"/><circle cx="26.3" cy="37.3" r="1.5"/><circle cx="7.7" cy="25.8" r="1.5"/><circle cx="20.7" cy="10.3" r="1.5"/><circle cx="34.1" cy="12.4" r="1.5"/><circle cx="36.7" cy="22.3" r="1.5"/><circle cx="36" cy="14.5" r="1.5"/><circle cx="9.1" cy="6" r="1.5"/><circle cx="33.7" cy="8.9" r="1.5"/><circle cx="34" cy="2.1" r="1.5"/><circle cx="4.7" cy="18.7" r="1.5"/><circle cx="31.5" cy="-0.3" r="1.5"/><circle cx="31.5" cy="39.7" r="1.5"/><circle cx="7.3" cy="11.4" r="1.5"/><circle cx="31.5" cy="28.8" r="1.5"/><circle cx="9.2" cy="13.6" r="1.5"/><circle cx="0.4" cy="26.2" r="1.5"/><circle cx="40.4" cy="26.2" r="1.5"/><circle cx="28.1" cy="0.9" r="1.5"/><circle cx="28.1" cy="40.9" r="1.5"/><circle cx="23.9" cy="35" r="1.5"/><circle cx="25.8" cy="0.5" r="1.5"/><circle cx="25.8" cy="40.5" r="1.5"/><circle cx="13.8" cy="17.6" r="1.5"/><circle cx="23.6" cy="32.7" r="1.5"/><circle cx="35.4" cy="17.6" r="1.5"/><circle cx="12.2" cy="32.1" r="1.5"/><circle cx="33.9" cy="7.7" r="1.5"/><circle cx="15.5" cy="14.5" r="1.5"/><circle cx="11.7" cy="24.2" r="1.5"/><circle cx="17.8" cy="36.6" r="1.5"/><circle cx="15.4" cy="13.9" r="1.5"/><circle cx="30.4" cy="0.4" r="1.5"/><circle cx="30.4" cy="40.4" r="1.5"/><circle cx="4.8" cy="13.5" r="1.5"/><circle cx="36.5" cy="34.9" r="1.5"/><circle cx="10" cy="32.1" r="1.5"/><circle cx="2.9" cy="2.2" r="1.5"/><circle cx="17.6" cy="6.9" r="1.5"/><circle cx="26.3" cy="33.1" r="1.5"/><circle cx="1.2" cy="13.4" r="1.5"/><circle cx="41.2" cy="13.4" r="1.5"/><circle cx="6.2" cy="30.7" r="1.5"/><circle cx="8" cy="19" r="1.5"/><circle cx="8.3" cy="9.5" r="1.5"/><circle cx="8.3" cy="35.7" r="1.5"/><circle cx="31.3" cy="25.4" r="1.5"/><circle cx="4.8" cy="34.7" r="1.5"/><circle cx="3.8" cy="36.3" r="1.5"/><circle cx="36.5" cy="30.1" r="1.5"/><circle cx="9.3" cy="19.5" r="1.5"/><circle cx="32.9" cy="7.9" r="1.5"/><circle cx="4.1" cy="23.1" r="1.5"/><circle cx="2.8" cy="22.1" r="1.5"/><circle cx="24" cy="4.9" r="1.5"/><circle cx="6.2" cy="4.5" r="1.5"/><circle cx="21.7" cy="17.3" r="1.5"/><circle cx="26.2" cy="25.9" r="1.5"/><circle cx="11.4" cy="14" r="1.5"/><circle cx="17" cy="19" r="1.5"/><circle cx="35.6" cy="8" r="1.5"/><circle cx="27.1" cy="11.1" r="1.5"/><circle cx="5.4" cy="36.2" r="1.5"/><circle cx="2.3" cy="2" r="1.5"/><circle cx="8" cy="29.8" r="1.5"/><circle cx="23.9" cy="8.3" r="1.5"/><circle cx="7.3" cy="37.9" r="1.5"/><circle cx="29" cy="13.9" r="1.5"/><circle cx="22" cy="1.9" r="1.5"/><circle cx="15.3" cy="7.1" r="1.5"/><circle cx="28" cy="21.2" r="1.5"/><circle cx="4.5" cy="17.1" r="1.5"/><circle cx="23.6" cy="17.7" r="1.5"/><circle cx="34.2" cy="24" r="1.5"/><circle cx="37.9" cy="24.5" r="1.5"/><circle cx="13.3" cy="23.8" r="1.5"/><circle cx="16.1" cy="27.1" r="1.5"/><circle cx="17.6" cy="13.3" r="1.5"/><circle cx="31.1" cy="6.8" r="1.5"/><circle cx="31.5" cy="14.9" r="1.5"/><circle cx="5.5" cy="5.2" r="1.5"/><circle cx="37.9" cy="26.1" r="1.5"/><circle cx="17.8" cy="5.4" r="1.5"/><circle cx="12.8" cy="10.1" r="1.5"/><circle cx="10.7" cy="31" r="1.5"/><circle cx="27.8" cy="14" r="1.5"/><circle cx="11.9" cy="21.2" r="1.5"/><circle cx="29.2" cy="13.6" r="1.5"/><circle cx="32.3" cy="23.6" r="1.5"/><circle cx="8.6" cy="23.8" r="1.5"/><circle cx="34.9" cy="-0.9" r="1.5"/><circle cx="34.9" cy="39.1" r="1.5"/><circle cx="4.5" cy="21" r="1.5"/><circle cx="0.8" cy="29.5" r="1.5"/><circle cx="40.8" cy="29.5" r="1.5"/><circle cx="19.4" cy="5.2" r="1.5"/><circle cx="12.3" cy="5.1" r="1.5"/><circle cx="11.1" cy="-0.3" r="1.5"/><circle cx="11.1" cy="39.7" r="1.5"/><circle cx="1.9" cy="17.8" r="1.5"/><circle cx="24.6" cy="5.9" r="1.5"/><circle cx="19.5" cy="20.3" r="1.5"/><circle cx="0.7" cy="29.6" r="1.5"/><circle cx="40.7" cy="29.6" r="1.5"/><circle cx="37.3" cy="24.8" r="1.5"/><circle cx="23.6" cy="11.2" r="1.5"/><circle cx="23.1" cy="25.3" r="1.5"/><circle cx="36.5" cy="6" r="1.5"/><circle cx="4.8" cy="25.5" r="1.5"/><circle cx="3.3" cy="11.5" r="1.5"/><circle cx="8.5" cy="21.4" r="1.5"/><circle cx="25" cy="11.7" r="1.5"/><circle cx="6.6" cy="11.6" r="1.5"/><circle cx="26.4" cy="9.6" r="1.5"/><circle cx="24.4" cy="23.2" r="1.5"/><circle cx="23" cy="0.5" r="1.5"/><circle cx="23" cy="40.5" r="1.5"/><circle cx="13.1" cy="37.9" r="1.5"/><circle cx="12.4" cy="17.9" r="1.5"/><circle cx="5.5" cy="32.8" r="1.5"/><circle cx="18.5" cy="1.4" r="1.5"/><circle cx="18.5" cy="41.4" r="1.5"/><circle cx="19" cy="13.7" r="1.5"/><circle cx="10.9" cy="8.8" r="1.5"/><circle cx="27.1" cy="22.9" r="1.5"/><circle cx="3.7" cy="24" r="1.5"/><circle cx="1" cy="20" r="1.5"/><circle cx="41" cy="20" r="1.5"/><circle cx="30.7" cy="29.4" r="1.5"/><circle cx="37.4" cy="6.6" r="1.5"/><circle cx="3.6" cy="19.1" r="1.5"/><circle cx="37.3" cy="2.8" r="1.5"/><circle cx="28.7" cy="30.3" r="1.5"/><circle cx="28.2" cy="7.1" r="1.5"/><circle cx="-0.8" cy="6" r="1.5"/><circle cx="39.2" cy="6" r="1.5"/><circle cx="24.6" cy="36.5" r="1.5"/><circle cx="9.9" cy="20.7" r="1.5"/><circle cx="9.2" cy="22.1" r="1.5"/><circle cx="36.5" cy="34.8" r="1.5"/><circle cx="9.2" cy="37.3" r="1.5"/><circle cx="16.9" cy="0.6" r="1.5"/><circle cx="16.9" cy="40.6" r="1.5"/><circle cx="11.1" cy="35.5" r="1.5"/><circle cx="1" cy="19.2" r="1.5"/><circle cx="41" cy="19.2" r="1.5"/><circle cx="3.9" cy="35.2" r="1.5"/><circle cx="29.5" cy="14.8" r="1.5"/><circle cx="10.4" cy="4.6" r="1.5"/><circle cx="34.7" cy="5.2" r="1.5"/><circle cx="23" cy="29.6" r="1.5"/><circle cx="5" cy="24.5" r="1.5"/><circle cx="23.9" cy="25.8" r="1.5"/><circle cx="37" cy="13.9" r="1.5"/><circle cx="34.2" cy="22.6" r="1.5"/><circle cx="28.8" cy="38.2" r="1.5"/><circle cx="32.9" cy="9.8" r="1.5"/><circle cx="31.6" cy="-0.5" r="1.5"/><circle cx="31.6" cy="39.5" r="1.5"/><circle cx="4.9" cy="33.9" r="1.5"/><circle cx="13.3" cy="16.7" r="1.5"/><circle cx="5.5" cy="-0.8" r="1.5"/><circle cx="5.5" cy="39.2" r="1.5"/><circle cx="24.6" cy="10.9" r="1.5"/><circle cx="36.6" cy="5.4" r="1.5"/><circle cx="5" cy="5" r="1.5"/><circle cx="37.2" cy="21.2" r="1.5"/><circle cx="36.3" cy="21.6" r="1.5"/><circle cx="1.6" cy="8.7" r="1.5"/><circle cx="29.7" cy="33" r="1.5"/><circle cx="17.7" cy="0.6" r="1.5"/><circle cx="17.7" cy="40.6" r="1.5"/><circle cx="25.3" cy="25.1" r="1.5"/><circle cx="36.1" cy="26.6" r="1.5"/><circle cx="17.8" cy="24.9" r="1.5"/><circle cx="26.1" cy="24.1" r="1.5"/><circle cx="23.8" cy="8.4" r="1.5"/><circle cx="13.4" cy="23.5" r="1.5"/><circle cx="2.8" cy="29.1" r="1.5"/><circle cx="13.9" cy="31.7" r="1.5"/><circle cx="37.7" cy="8.2" r="1.5"/><circle cx="15.4" cy="32.1" r="1.5"/><circle cx="5.4" cy="15.7" r="1.5"/><circle cx="4.4" cy="18.1" r="1.5"/><circle cx="10.8" cy="23.1" r="1.5"/><circle cx="33.9" cy="19.4" r="1.5"/><circle cx="10.6" cy="33.3" r="1.5"/><circle cx="30.1" cy="20.4" r="1.5"/><circle cx="36.3" cy="12.2" r="1.5"/><circle cx="12.2" cy="10.1" r="1.5"/><circle cx="12" cy="22.9" r="1.5"/><circle cx="16.5" cy="26.4" r="1.5"/><circle cx="15.6" cy="38.5" r="1.5"/><circle cx="1.6" cy="33.5" r="1.5"/><circle cx="2.2" cy="10" r="1.5"/><circle cx="27" cy="6.5" r="1.5"/><circle cx="38.3" cy="28.5" r="1.5"/><circle cx="23" cy="11" r="1.5"/><circle cx="22.4" cy="7.7" r="1.5"/><circle cx="30.6" cy="33.5" r="1.5"/><circle cx="7.3" cy="11.8" r="1.5"/><circle cx="10.5" cy="0.2" r="1.5"/><circle cx="10.5" cy="40.2" r="1.5"/><circle cx="23.7" cy="-0.6" r="1.5"/><circle cx="23.7" cy="39.4" r="1.5"/><circle cx="34.5" cy="18.7" r="1.5"/><circle cx="27" cy="7.9" r="1.5"/><circle cx="16.7" cy="31.9" r="1.5"/><circle cx="9.8" cy="25.5" r="1.5"/><circle cx="33" cy="1.8" r="1.5"/><circle cx="33.2" cy="9.5" r="1.5"/><circle cx="23.8" cy="33" r="1.5"/><circle cx="0.1" cy="10.2" r="1.5"/><circle cx="40.1" cy="10.2" r="1.5"/></g></pattern><pattern id="pr55" patternUnits="userSpaceOnUse" width="40" height="40"><g fill="#f34b37"><circle cx="29.9" cy="9.3" r="1.5"/><circle cx="11.1" cy="16.1" r="1.5"/><circle cx="28.4" cy="9.4" r="1.5"/><circle cx="15.7" cy="15.4" r="1.5"/><circle cx="23.4" cy="26.6" r="1.5"/><circle cx="28.2" cy="21.1" r="1.5"/><circle cx="12.7" cy="3.4" r="1.5"/><circle cx="-0.1" cy="28.7" r="1.5"/><circle cx="39.9" cy="28.7" r="1.5"/><circle cx="12.9" cy="29.8" r="1.5"/><circle cx="23.3" cy="26.1" r="1.5"/><circle cx="7.3" cy="4.1" r="1.5"/><circle cx="35.5" cy="32.8" r="1.5"/><circle cx="14.9" cy="24.5" r="1.5"/><circle cx="11.1" cy="25.4" r="1.5"/><circle cx="30.3" cy="23.8" r="1.5"/><circle cx="20.7" cy="23.5" r="1.5"/><circle cx="31.3" cy="25.4" r="1.5"/><circle cx="37.3" cy="2.5" r="1.5"/><circle cx="29.2" cy="3.2" r="1.5"/><circle cx="36.1" cy="11" r="1.5"/><circle cx="28.8" cy="24" r="1.5"/><circle cx="36.5" cy="7.2" r="1.5"/><circle cx="12.4" cy="10.5" r="1.5"/><circle cx="23.4" cy="23.9" r="1.5"/><circle cx="34.3" cy="9.4" r="1.5"/><circle cx="13.9" cy="-1" r="1.5"/><circle cx="13.9" cy="39" r="1.5"/><circle cx="12.6" cy="38.4" r="1.5"/><circle cx="31.9" cy="37.1" r="1.5"/><circle cx="11" cy="2.2" r="1.5"/><circle cx="35.6" cy="8.9" r="1.5"/><circle cx="12.3" cy="30.4" r="1.5"/><circle cx="30.3" cy="20.4" r="1.5"/><circle cx="19.6" cy="30.6" r="1.5"/><circle cx="19.7" cy="16.6" r="1.5"/><circle cx="36.9" cy="33.9" r="1.5"/><circle cx="24.9" cy="19.8" r="1.5"/><circle cx="30.3" cy="20.3" r="1.5"/><circle cx="28.5" cy="21" r="1.5"/><circle cx="16" cy="0.5" r="1.5"/><circle cx="16" cy="40.5" r="1.5"/><circle cx="27.4" cy="20.3" r="1.5"/><circle cx="9.4" cy="12.4" r="1.5"/><circle cx="37.9" cy="10.6" r="1.5"/><circle cx="9" cy="-1.1" r="1.5"/><circle cx="9" cy="38.9" r="1.5"/><circle cx="2.1" cy="36.6" r="1.5"/><circle cx="29" cy="11.3" r="1.5"/><circle cx="14" cy="4.7" r="1.5"/><circle cx="4.6" cy="26.6" r="1.5"/><circle cx="36.9" cy="37.9" r="1.5"/><circle cx="3.6" cy="25.4" r="1.5"/><circle cx="27.7" cy="5.6" r="1.5"/><circle cx="11.3" cy="-0" r="1.5"/><circle cx="11.3" cy="40" r="1.5"/><circle cx="16.8" cy="19" r="1.5"/><circle cx="21.7" cy="26" r="1.5"/><circle cx="22.2" cy="14.3" r="1.5"/><circle cx="18.5" cy="28.2" r="1.5"/><circle cx="12.4" cy="8.8" r="1.5"/><circle cx="16.1" cy="3.9" r="1.5"/><circle cx="37.1" cy="37" r="1.5"/><circle cx="15.5" cy="8.6" r="1.5"/><circle cx="22.4" cy="11.6" r="1.5"/><circle cx="17" cy="37.8" r="1.5"/><circle cx="26.6" cy="3.3" r="1.5"/><circle cx="3.5" cy="19.5" r="1.5"/><circle cx="27.3" cy="19.9" r="1.5"/><circle cx="9.6" cy="37.7" r="1.5"/><circle cx="13" cy="28.3" r="1.5"/><circle cx="23.6" cy="17.7" r="1.5"/><circle cx="15.1" cy="16.6" r="1.5"/><circle cx="-0.1" cy="20.5" r="1.5"/><circle cx="39.9" cy="20.5" r="1.5"/><circle cx="29.2" cy="18.1" r="1.5"/><circle cx="-1.4" cy="16.9" r="1.5"/><circle cx="38.6" cy="16.9" r="1.5"/><circle cx="15.1" cy="33.3" r="1.5"/><circle cx="20.4" cy="31" r="1.5"/><circle cx="23.3" cy="32.2" r="1.5"/><circle cx="13.4" cy="31.3" r="1.5"/><circle cx="31.1" cy="35" r="1.5"/><circle cx="33.8" cy="25.2" r="1.5"/><circle cx="29.7" cy="2.4" r="1.5"/><circle cx="29.3" cy="13" r="1.5"/><circle cx="21.9" cy="23.5" r="1.5"/><circle cx="35.5" cy="37.2" r="1.5"/><circle cx="36.4" cy="23.6" r="1.5"/><circle cx="12.9" cy="11.2" r="1.5"/><circle cx="37.3" cy="17.1" r="1.5"/><circle cx="7.2" cy="36.7" r="1.5"/><circle cx="1.2" cy="33" r="1.5"/><circle cx="41.2" cy="33" r="1.5"/><circle cx="33.1" cy="11.8" r="1.5"/><circle cx="7" cy="11.8" r="1.5"/><circle cx="8.4" cy="10.8" r="1.5"/><circle cx="7.2" cy="12.4" r="1.5"/><circle cx="1.4" cy="19.1" r="1.5"/><circle cx="41.4" cy="19.1" r="1.5"/><circle cx="-1.2" cy="-0.4" r="1.5"/><circle cx="-1.2" cy="39.6" r="1.5"/><circle cx="38.8" cy="-0.4" r="1.5"/><circle cx="38.8" cy="39.6" r="1.5"/><circle cx="28.2" cy="27.5" r="1.5"/><circle cx="22.6" cy="6.7" r="1.5"/><circle cx="12.2" cy="3.9" r="1.5"/><circle cx="0.1" cy="11.8" r="1.5"/><circle cx="40.1" cy="11.8" r="1.5"/><circle cx="7" cy="20.7" r="1.5"/><circle cx="35.2" cy="23.7" r="1.5"/><circle cx="4.6" cy="20.3" r="1.5"/><circle cx="3.2" cy="35.8" r="1.5"/><circle cx="34.6" cy="0.4" r="1.5"/><circle cx="34.6" cy="40.4" r="1.5"/><circle cx="30.2" cy="7.1" r="1.5"/><circle cx="36.5" cy="15.5" r="1.5"/><circle cx="25.6" cy="23.1" r="1.5"/><circle cx="10.7" cy="30.9" r="1.5"/><circle cx="11.4" cy="20.2" r="1.5"/><circle cx="24.9" cy="25.2" r="1.5"/><circle cx="22.9" cy="23" r="1.5"/><circle cx="9.4" cy="25.8" r="1.5"/><circle cx="0.3" cy="29.1" r="1.5"/><circle cx="40.3" cy="29.1" r="1.5"/><circle cx="14.2" cy="28.3" r="1.5"/><circle cx="0.9" cy="0.9" r="1.5"/><circle cx="0.9" cy="40.9" r="1.5"/><circle cx="40.9" cy="0.9" r="1.5"/><circle cx="40.9" cy="40.9" r="1.5"/><circle cx="38.2" cy="2.9" r="1.5"/><circle cx="0.5" cy="35.9" r="1.5"/><circle cx="40.5" cy="35.9" r="1.5"/><circle cx="26.3" cy="30.3" r="1.5"/><circle cx="26.3" cy="5.9" r="1.5"/><circle cx="24.8" cy="12" r="1.5"/><circle cx="21.8" cy="20" r="1.5"/><circle cx="13.4" cy="30.1" r="1.5"/><circle cx="27.4" cy="13.7" r="1.5"/><circle cx="11.9" cy="20.4" r="1.5"/><circle cx="16.2" cy="18.9" r="1.5"/><circle cx="2.4" cy="25.2" r="1.5"/><circle cx="21.1" cy="34.7" r="1.5"/><circle cx="5.9" cy="1" r="1.5"/><circle cx="5.9" cy="41" r="1.5"/><circle cx="17.8" cy="23.6" r="1.5"/><circle cx="26.1" cy="6.2" r="1.5"/><circle cx="28.4" cy="15.7" r="1.5"/><circle cx="13.3" cy="31.4" r="1.5"/><circle cx="11" cy="7.9" r="1.5"/><circle cx="2.5" cy="0.3" r="1.5"/><circle cx="2.5" cy="40.3" r="1.5"/><circle cx="10.3" cy="17.5" r="1.5"/><circle cx="29.9" cy="6.9" r="1.5"/><circle cx="11.4" cy="2.9" r="1.5"/><circle cx="6.1" cy="9.9" r="1.5"/><circle cx="28" cy="2.3" r="1.5"/><circle cx="28.6" cy="2.7" r="1.5"/><circle cx="24.7" cy="31.4" r="1.5"/><circle cx="10.9" cy="13" r="1.5"/><circle cx="33.1" cy="19" r="1.5"/><circle cx="34.5" cy="25.8" r="1.5"/><circle cx="13.3" cy="1.1" r="1.5"/><circle cx="13.3" cy="41.1" r="1.5"/><circle cx="24.9" cy="35.9" r="1.5"/><circle cx="21" cy="8.5" r="1.5"/><circle cx="14" cy="17.9" r="1.5"/><circle cx="9.3" cy="37.9" r="1.5"/><circle cx="32.5" cy="24.3" r="1.5"/><circle cx="30.9" cy="27.1" r="1.5"/><circle cx="35.2" cy="26" r="1.5"/><circle cx="23.1" cy="33" r="1.5"/><circle cx="8.4" cy="14.5" r="1.5"/><circle cx="38.3" cy="7.4" r="1.5"/><circle cx="37.4" cy="3.9" r="1.5"/><circle cx="13.7" cy="29.1" r="1.5"/><circle cx="7.3" cy="18.1" r="1.5"/><circle cx="15.4" cy="11.3" r="1.5"/><circle cx="35.3" cy="3.8" r="1.5"/><circle cx="23.6" cy="21.3" r="1.5"/><circle cx="16.5" cy="8.2" r="1.5"/><circle cx="27.2" cy="29" r="1.5"/><circle cx="28.6" cy="33.1" r="1.5"/><circle cx="38" cy="-0.1" r="1.5"/><circle cx="38" cy="39.9" r="1.5"/><circle cx="9.9" cy="38.2" r="1.5"/><circle cx="16.8" cy="16" r="1.5"/><circle cx="28.4" cy="31.4" r="1.5"/><circle cx="36.1" cy="2.3" r="1.5"/><circle cx="2" cy="17" r="1.5"/><circle cx="15.1" cy="8.4" r="1.5"/><circle cx="6" cy="17.6" r="1.5"/><circle cx="6.3" cy="38.2" r="1.5"/><circle cx="25.8" cy="23.3" r="1.5"/><circle cx="15.1" cy="36.6" r="1.5"/><circle cx="2" cy="34.6" r="1.5"/><circle cx="17.5" cy="23.3" r="1.5"/><circle cx="3.6" cy="29.8" r="1.5"/><circle cx="-1.3" cy="7.5" r="1.5"/><circle cx="38.7" cy="7.5" r="1.5"/><circle cx="25.4" cy="1.4" r="1.5"/><circle cx="25.4" cy="41.4" r="1.5"/><circle cx="15.6" cy="8" r="1.5"/><circle cx="14.8" cy="13.5" r="1.5"/><circle cx="2.4" cy="15.4" r="1.5"/><circle cx="8.2" cy="36.5" r="1.5"/><circle cx="26.1" cy="25.6" r="1.5"/><circle cx="18.8" cy="13.3" r="1.5"/><circle cx="12.5" cy="36.9" r="1.5"/><circle cx="9.9" cy="5" r="1.5"/><circle cx="27.9" cy="14.6" r="1.5"/><circle cx="18.6" cy="27.3" r="1.5"/><circle cx="14.3" cy="0.4" r="1.5"/><circle cx="14.3" cy="40.4" r="1.5"/><circle cx="3.8" cy="6.7" r="1.5"/><circle cx="26.4" cy="8.8" r="1.5"/><circle cx="12.6" cy="36.3" r="1.5"/><circle cx="2" cy="28" r="1.5"/><circle cx="21.5" cy="-1.3" r="1.5"/><circle cx="21.5" cy="38.7" r="1.5"/><circle cx="13.4" cy="33.3" r="1.5"/><circle cx="10.3" cy="20.7" r="1.5"/><circle cx="34.6" cy="4.6" r="1.5"/><circle cx="18.7" cy="32" r="1.5"/><circle cx="5.6" cy="29" r="1.5"/><circle cx="1.9" cy="30.9" r="1.5"/><circle cx="13.7" cy="29.6" r="1.5"/><circle cx="1" cy="7.9" r="1.5"/><circle cx="41" cy="7.9" r="1.5"/><circle cx="16.5" cy="33.2" r="1.5"/><circle cx="23.1" cy="18.8" r="1.5"/><circle cx="16.6" cy="1.5" r="1.5"/><circle cx="16.6" cy="41.5" r="1.5"/><circle cx="11.1" cy="24.5" r="1.5"/><circle cx="34.6" cy="6.2" r="1.5"/><circle cx="16.5" cy="1" r="1.5"/><circle cx="16.5" cy="41" r="1.5"/><circle cx="38.1" cy="7.3" r="1.5"/><circle cx="20.6" cy="12.5" r="1.5"/><circle cx="2.6" cy="6.5" r="1.5"/><circle cx="25.2" cy="9.6" r="1.5"/><circle cx="19.7" cy="26.2" r="1.5"/><circle cx="8.4" cy="0.6" r="1.5"/><circle cx="8.4" cy="40.6" r="1.5"/><circle cx="4.4" cy="6" r="1.5"/><circle cx="12.7" cy="9.2" r="1.5"/><circle cx="14.8" cy="35.2" r="1.5"/><circle cx="29.8" cy="30.8" r="1.5"/><circle cx="22.8" cy="7.1" r="1.5"/><circle cx="35.7" cy="18.4" r="1.5"/><circle cx="31.4" cy="18.7" r="1.5"/><circle cx="9.5" cy="7.1" r="1.5"/><circle cx="22" cy="7" r="1.5"/><circle cx="4.4" cy="31" r="1.5"/><circle cx="19.5" cy="3.9" r="1.5"/><circle cx="13.3" cy="33.2" r="1.5"/><circle cx="34.4" cy="20.2" r="1.5"/><circle cx="12.1" cy="2.3" r="1.5"/><circle cx="21.9" cy="28.2" r="1.5"/><circle cx="13.8" cy="37.2" r="1.5"/><circle cx="23.3" cy="5" r="1.5"/><circle cx="7.3" cy="27.4" r="1.5"/><circle cx="35.1" cy="0.4" r="1.5"/><circle cx="35.1" cy="40.4" r="1.5"/><circle cx="20.2" cy="28.2" r="1.5"/><circle cx="31.3" cy="29.8" r="1.5"/><circle cx="5.6" cy="25.8" r="1.5"/><circle cx="38.4" cy="3.5" r="1.5"/><circle cx="35.2" cy="35.4" r="1.5"/><circle cx="10.2" cy="15.2" r="1.5"/><circle cx="18.6" cy="0.2" r="1.5"/><circle cx="18.6" cy="40.2" r="1.5"/><circle cx="8.4" cy="11.1" r="1.5"/><circle cx="2.9" cy="10.7" r="1.5"/><circle cx="23.1" cy="7.2" r="1.5"/><circle cx="24.6" cy="27.9" r="1.5"/><circle cx="22.3" cy="18.2" r="1.5"/></g></pattern><pattern id="pr35" patternUnits="userSpaceOnUse" width="40" height="40"><g fill="#f34b37"><circle cx="12" cy="4.4" r="1.5"/><circle cx="14" cy="8.2" r="1.5"/><circle cx="2" cy="29.5" r="1.5"/><circle cx="7.8" cy="13.2" r="1.5"/><circle cx="25.2" cy="33.4" r="1.5"/><circle cx="7.6" cy="9.9" r="1.5"/><circle cx="5.7" cy="28.8" r="1.5"/><circle cx="18.5" cy="23.6" r="1.5"/><circle cx="10.3" cy="36.6" r="1.5"/><circle cx="34.4" cy="7.3" r="1.5"/><circle cx="38.3" cy="10.6" r="1.5"/><circle cx="32.7" cy="37.6" r="1.5"/><circle cx="22.1" cy="31.1" r="1.5"/><circle cx="2.4" cy="7.2" r="1.5"/><circle cx="4.8" cy="25.4" r="1.5"/><circle cx="14.5" cy="1.6" r="1.5"/><circle cx="7.2" cy="30.7" r="1.5"/><circle cx="14.6" cy="34.6" r="1.5"/><circle cx="18.7" cy="1" r="1.5"/><circle cx="18.7" cy="41" r="1.5"/><circle cx="6.6" cy="35.6" r="1.5"/><circle cx="19.8" cy="28" r="1.5"/><circle cx="21.6" cy="12" r="1.5"/><circle cx="8" cy="37" r="1.5"/><circle cx="14.6" cy="7" r="1.5"/><circle cx="8.8" cy="26.9" r="1.5"/><circle cx="0.2" cy="4.7" r="1.5"/><circle cx="40.2" cy="4.7" r="1.5"/><circle cx="31" cy="37.3" r="1.5"/><circle cx="13.4" cy="28.8" r="1.5"/><circle cx="26.3" cy="38.2" r="1.5"/><circle cx="32.1" cy="25.4" r="1.5"/><circle cx="19.7" cy="26.4" r="1.5"/><circle cx="27.1" cy="9" r="1.5"/><circle cx="36.6" cy="18.2" r="1.5"/><circle cx="8" cy="12.9" r="1.5"/><circle cx="27.2" cy="7.6" r="1.5"/><circle cx="18.9" cy="28.7" r="1.5"/><circle cx="20" cy="17.1" r="1.5"/><circle cx="-1.2" cy="6.5" r="1.5"/><circle cx="38.8" cy="6.5" r="1.5"/><circle cx="14" cy="26.6" r="1.5"/><circle cx="37.4" cy="9.4" r="1.5"/><circle cx="16.7" cy="-0.4" r="1.5"/><circle cx="16.7" cy="39.6" r="1.5"/><circle cx="3.4" cy="9.7" r="1.5"/><circle cx="15" cy="15.9" r="1.5"/><circle cx="30.7" cy="21.8" r="1.5"/><circle cx="17.1" cy="12.9" r="1.5"/><circle cx="7.3" cy="-1.3" r="1.5"/><circle cx="7.3" cy="38.7" r="1.5"/><circle cx="37.2" cy="12.9" r="1.5"/><circle cx="16.4" cy="34.5" r="1.5"/><circle cx="19.7" cy="5.1" r="1.5"/><circle cx="17.2" cy="-1.4" r="1.5"/><circle cx="17.2" cy="38.6" r="1.5"/><circle cx="27.5" cy="26" r="1.5"/><circle cx="10.9" cy="33" r="1.5"/><circle cx="34.3" cy="17.5" r="1.5"/><circle cx="22.7" cy="-0.4" r="1.5"/><circle cx="22.7" cy="39.6" r="1.5"/><circle cx="15.8" cy="20.8" r="1.5"/><circle cx="13.7" cy="2.6" r="1.5"/><circle cx="15.9" cy="19.3" r="1.5"/><circle cx="31.9" cy="3.5" r="1.5"/><circle cx="14.4" cy="15.6" r="1.5"/><circle cx="11.5" cy="37.8" r="1.5"/><circle cx="1.3" cy="38.5" r="1.5"/><circle cx="41.3" cy="38.5" r="1.5"/><circle cx="13.3" cy="2.9" r="1.5"/><circle cx="31.7" cy="0.4" r="1.5"/><circle cx="31.7" cy="40.4" r="1.5"/><circle cx="19.1" cy="24.7" r="1.5"/><circle cx="13.9" cy="31.1" r="1.5"/><circle cx="20.3" cy="3.9" r="1.5"/><circle cx="26.9" cy="2.1" r="1.5"/><circle cx="33.9" cy="29" r="1.5"/><circle cx="7.9" cy="7.1" r="1.5"/><circle cx="32" cy="32.9" r="1.5"/><circle cx="23.6" cy="2.4" r="1.5"/><circle cx="-1.4" cy="14.6" r="1.5"/><circle cx="38.6" cy="14.6" r="1.5"/><circle cx="12.7" cy="2.3" r="1.5"/><circle cx="-0.8" cy="23.4" r="1.5"/><circle cx="39.2" cy="23.4" r="1.5"/><circle cx="19.3" cy="18.2" r="1.5"/><circle cx="23.9" cy="2.4" r="1.5"/><circle cx="24.7" cy="2.2" r="1.5"/><circle cx="33.5" cy="34.2" r="1.5"/><circle cx="23.9" cy="20" r="1.5"/><circle cx="22" cy="10" r="1.5"/><circle cx="-0.7" cy="6.7" r="1.5"/><circle cx="39.3" cy="6.7" r="1.5"/><circle cx="22.7" cy="10.5" r="1.5"/><circle cx="8.8" cy="37" r="1.5"/><circle cx="32.1" cy="29.6" r="1.5"/><circle cx="8.2" cy="19.3" r="1.5"/><circle cx="2.3" cy="11" r="1.5"/><circle cx="1.2" cy="31.9" r="1.5"/><circle cx="41.2" cy="31.9" r="1.5"/><circle cx="31.4" cy="38.1" r="1.5"/><circle cx="5.5" cy="31.6" r="1.5"/><circle cx="14.2" cy="30" r="1.5"/><circle cx="32.3" cy="35.5" r="1.5"/><circle cx="9" cy="3.6" r="1.5"/><circle cx="11.7" cy="11.5" r="1.5"/><circle cx="30.6" cy="-0.3" r="1.5"/><circle cx="30.6" cy="39.7" r="1.5"/><circle cx="11.5" cy="15" r="1.5"/><circle cx="4" cy="2.1" r="1.5"/><circle cx="15.1" cy="2.5" r="1.5"/><circle cx="11.3" cy="2" r="1.5"/><circle cx="33.6" cy="30.1" r="1.5"/><circle cx="2.6" cy="38" r="1.5"/><circle cx="26.1" cy="0.4" r="1.5"/><circle cx="26.1" cy="40.4" r="1.5"/><circle cx="37.1" cy="19.2" r="1.5"/><circle cx="29.4" cy="30" r="1.5"/><circle cx="34.9" cy="8.8" r="1.5"/><circle cx="13.8" cy="0.3" r="1.5"/><circle cx="13.8" cy="40.3" r="1.5"/><circle cx="37.2" cy="34.4" r="1.5"/><circle cx="32" cy="1.9" r="1.5"/><circle cx="18.8" cy="4" r="1.5"/><circle cx="27.5" cy="9.6" r="1.5"/><circle cx="25.4" cy="14.6" r="1.5"/><circle cx="16.8" cy="26.3" r="1.5"/><circle cx="17.9" cy="26.1" r="1.5"/><circle cx="3.1" cy="20.5" r="1.5"/><circle cx="8.5" cy="2.4" r="1.5"/><circle cx="3.1" cy="11.1" r="1.5"/><circle cx="18.5" cy="27.1" r="1.5"/><circle cx="14" cy="31.5" r="1.5"/><circle cx="8.1" cy="21.8" r="1.5"/><circle cx="24.8" cy="38.4" r="1.5"/><circle cx="23.4" cy="4.6" r="1.5"/><circle cx="9.4" cy="23.2" r="1.5"/><circle cx="16.7" cy="23" r="1.5"/><circle cx="8.5" cy="7.2" r="1.5"/><circle cx="33.6" cy="15.2" r="1.5"/><circle cx="26.6" cy="3.2" r="1.5"/><circle cx="29.4" cy="4.8" r="1.5"/><circle cx="22" cy="6.4" r="1.5"/><circle cx="23.5" cy="8.3" r="1.5"/><circle cx="35.9" cy="19" r="1.5"/><circle cx="37.6" cy="33.4" r="1.5"/><circle cx="28.7" cy="34.5" r="1.5"/><circle cx="24.9" cy="11.2" r="1.5"/><circle cx="8.3" cy="26.1" r="1.5"/><circle cx="13.4" cy="37.3" r="1.5"/><circle cx="34.5" cy="11.9" r="1.5"/><circle cx="37.7" cy="37" r="1.5"/><circle cx="9.9" cy="13.9" r="1.5"/><circle cx="36.3" cy="25.6" r="1.5"/><circle cx="20" cy="12.8" r="1.5"/></g></pattern><pattern id="pr20" patternUnits="userSpaceOnUse" width="40" height="40"><g fill="#f34b37"><circle cx="15.9" cy="-0.7" r="1.5"/><circle cx="15.9" cy="39.3" r="1.5"/><circle cx="2.4" cy="22.3" r="1.5"/><circle cx="1.8" cy="33" r="1.5"/><circle cx="20.9" cy="25.6" r="1.5"/><circle cx="3.6" cy="11.5" r="1.5"/><circle cx="31" cy="6.4" r="1.5"/><circle cx="2.1" cy="7.8" r="1.5"/><circle cx="20.4" cy="11.8" r="1.5"/><circle cx="24.1" cy="6.4" r="1.5"/><circle cx="4" cy="26.2" r="1.5"/><circle cx="37.5" cy="35.1" r="1.5"/><circle cx="37.8" cy="27.9" r="1.5"/><circle cx="2.2" cy="1.7" r="1.5"/><circle cx="35.8" cy="36" r="1.5"/><circle cx="19.4" cy="7.8" r="1.5"/><circle cx="37.6" cy="9.5" r="1.5"/><circle cx="24.5" cy="21.6" r="1.5"/><circle cx="10.9" cy="10" r="1.5"/><circle cx="1.4" cy="15" r="1.5"/><circle cx="41.4" cy="15" r="1.5"/><circle cx="10.9" cy="7" r="1.5"/><circle cx="12.3" cy="-0.5" r="1.5"/><circle cx="12.3" cy="39.5" r="1.5"/><circle cx="28.6" cy="15.5" r="1.5"/><circle cx="16.8" cy="32.7" r="1.5"/><circle cx="16" cy="26.5" r="1.5"/><circle cx="3" cy="38" r="1.5"/><circle cx="12.6" cy="15.6" r="1.5"/><circle cx="34.8" cy="3.4" r="1.5"/><circle cx="18.8" cy="30.5" r="1.5"/><circle cx="23.6" cy="34.8" r="1.5"/><circle cx="16" cy="38" r="1.5"/><circle cx="12" cy="22.9" r="1.5"/><circle cx="22.1" cy="7.9" r="1.5"/><circle cx="29.4" cy="5.4" r="1.5"/><circle cx="1.6" cy="37.9" r="1.5"/><circle cx="25" cy="19.8" r="1.5"/><circle cx="12.6" cy="9.6" r="1.5"/><circle cx="29.8" cy="25.7" r="1.5"/><circle cx="21.2" cy="16.2" r="1.5"/><circle cx="21.8" cy="31.8" r="1.5"/><circle cx="33.6" cy="19.4" r="1.5"/><circle cx="21.2" cy="22.7" r="1.5"/><circle cx="11.4" cy="13.7" r="1.5"/><circle cx="26.1" cy="29" r="1.5"/><circle cx="33.2" cy="37.9" r="1.5"/><circle cx="25.7" cy="23.5" r="1.5"/><circle cx="3.5" cy="2.8" r="1.5"/><circle cx="37" cy="3.8" r="1.5"/><circle cx="8.6" cy="35.8" r="1.5"/><circle cx="30.2" cy="3" r="1.5"/><circle cx="17.3" cy="28" r="1.5"/><circle cx="12.9" cy="18.2" r="1.5"/><circle cx="13.3" cy="26.7" r="1.5"/><circle cx="3.8" cy="20.1" r="1.5"/><circle cx="8.6" cy="6.5" r="1.5"/><circle cx="9.2" cy="28.2" r="1.5"/><circle cx="7.2" cy="21.4" r="1.5"/><circle cx="30.4" cy="37.3" r="1.5"/><circle cx="22.2" cy="15.5" r="1.5"/><circle cx="-0.7" cy="23.8" r="1.5"/><circle cx="39.3" cy="23.8" r="1.5"/><circle cx="29.3" cy="28.7" r="1.5"/><circle cx="17.9" cy="35" r="1.5"/><circle cx="27.9" cy="0" r="1.5"/><circle cx="27.9" cy="40" r="1.5"/><circle cx="22.3" cy="37.1" r="1.5"/><circle cx="25.2" cy="34.4" r="1.5"/><circle cx="16.2" cy="1.9" r="1.5"/><circle cx="0.4" cy="19.4" r="1.5"/><circle cx="40.4" cy="19.4" r="1.5"/><circle cx="7.4" cy="36.5" r="1.5"/><circle cx="10" cy="24.5" r="1.5"/><circle cx="3" cy="11.3" r="1.5"/><circle cx="14.8" cy="16.6" r="1.5"/><circle cx="24.6" cy="27" r="1.5"/><circle cx="26.2" cy="11.2" r="1.5"/><circle cx="14.9" cy="-1" r="1.5"/><circle cx="14.9" cy="39" r="1.5"/><circle cx="15.9" cy="11" r="1.5"/></g></pattern><pattern id="pt75" patternUnits="userSpaceOnUse" width="40" height="40"><g fill="#5bb894"><circle cx="2.6" cy="7.6" r="1.5"/><circle cx="21.4" cy="9.1" r="1.5"/><circle cx="37.1" cy="21.1" r="1.5"/><circle cx="13.1" cy="21.8" r="1.5"/><circle cx="32.9" cy="16.7" r="1.5"/><circle cx="16.8" cy="10" r="1.5"/><circle cx="28.4" cy="28.9" r="1.5"/><circle cx="36.3" cy="16.1" r="1.5"/><circle cx="32.1" cy="26.3" r="1.5"/><circle cx="37.6" cy="32.4" r="1.5"/><circle cx="16.1" cy="3.5" r="1.5"/><circle cx="17.6" cy="23" r="1.5"/><circle cx="37.3" cy="33.6" r="1.5"/><circle cx="21.5" cy="37.1" r="1.5"/><circle cx="29.5" cy="37.2" r="1.5"/><circle cx="28.6" cy="17.8" r="1.5"/><circle cx="19.7" cy="25.8" r="1.5"/><circle cx="18.3" cy="10.6" r="1.5"/><circle cx="33.1" cy="35.1" r="1.5"/><circle cx="30.2" cy="20.4" r="1.5"/><circle cx="10" cy="38.2" r="1.5"/><circle cx="21.8" cy="34.1" r="1.5"/><circle cx="24.2" cy="4" r="1.5"/><circle cx="29" cy="28.9" r="1.5"/><circle cx="25.1" cy="37.4" r="1.5"/><circle cx="16.7" cy="34.1" r="1.5"/><circle cx="21.4" cy="2.7" r="1.5"/><circle cx="1.9" cy="13.7" r="1.5"/><circle cx="-0.1" cy="0.4" r="1.5"/><circle cx="-0.1" cy="40.4" r="1.5"/><circle cx="39.9" cy="0.4" r="1.5"/><circle cx="39.9" cy="40.4" r="1.5"/><circle cx="10.9" cy="-0.5" r="1.5"/><circle cx="10.9" cy="39.5" r="1.5"/><circle cx="36.6" cy="15.4" r="1.5"/><circle cx="14.4" cy="1.1" r="1.5"/><circle cx="14.4" cy="41.1" r="1.5"/><circle cx="22.4" cy="9.2" r="1.5"/><circle cx="-0.8" cy="32.8" r="1.5"/><circle cx="39.2" cy="32.8" r="1.5"/><circle cx="2.5" cy="21.4" r="1.5"/><circle cx="30" cy="3.1" r="1.5"/><circle cx="10.6" cy="14.8" r="1.5"/><circle cx="23.4" cy="31.8" r="1.5"/><circle cx="9.4" cy="32.7" r="1.5"/><circle cx="35.1" cy="21.9" r="1.5"/><circle cx="16.8" cy="36.4" r="1.5"/><circle cx="11.6" cy="34.5" r="1.5"/><circle cx="19.4" cy="4.6" r="1.5"/><circle cx="26.9" cy="15.9" r="1.5"/><circle cx="4" cy="19.7" r="1.5"/><circle cx="12.3" cy="5.7" r="1.5"/><circle cx="21.4" cy="27.5" r="1.5"/><circle cx="28" cy="25" r="1.5"/><circle cx="8.9" cy="0.8" r="1.5"/><circle cx="8.9" cy="40.8" r="1.5"/><circle cx="4.2" cy="36.5" r="1.5"/><circle cx="4.5" cy="31.3" r="1.5"/><circle cx="17.4" cy="20.1" r="1.5"/><circle cx="7.8" cy="18.1" r="1.5"/><circle cx="3.8" cy="4.7" r="1.5"/><circle cx="36.9" cy="11" r="1.5"/><circle cx="35" cy="22.4" r="1.5"/><circle cx="6.5" cy="37.4" r="1.5"/><circle cx="9.6" cy="0.8" r="1.5"/><circle cx="9.6" cy="40.8" r="1.5"/><circle cx="24.2" cy="34.1" r="1.5"/><circle cx="27.4" cy="19.1" r="1.5"/><circle cx="17" cy="25.4" r="1.5"/><circle cx="21.4" cy="-1.3" r="1.5"/><circle cx="21.4" cy="38.7" r="1.5"/><circle cx="20.4" cy="29.9" r="1.5"/><circle cx="5.1" cy="17.3" r="1.5"/><circle cx="10.5" cy="25.6" r="1.5"/><circle cx="0.9" cy="4" r="1.5"/><circle cx="40.9" cy="4" r="1.5"/><circle cx="28.2" cy="35.2" r="1.5"/><circle cx="4.1" cy="14.4" r="1.5"/><circle cx="37.7" cy="13.9" r="1.5"/><circle cx="29.5" cy="9.4" r="1.5"/><circle cx="21.8" cy="29.3" r="1.5"/><circle cx="1.2" cy="22.5" r="1.5"/><circle cx="41.2" cy="22.5" r="1.5"/><circle cx="11.7" cy="19.3" r="1.5"/><circle cx="22.4" cy="13.6" r="1.5"/><circle cx="4.5" cy="2.6" r="1.5"/><circle cx="1.3" cy="13" r="1.5"/><circle cx="41.3" cy="13" r="1.5"/><circle cx="18.2" cy="8.3" r="1.5"/><circle cx="23.7" cy="-1.2" r="1.5"/><circle cx="23.7" cy="38.8" r="1.5"/><circle cx="16.9" cy="30.2" r="1.5"/><circle cx="9.7" cy="24.4" r="1.5"/><circle cx="15.9" cy="21.7" r="1.5"/><circle cx="25.7" cy="17" r="1.5"/><circle cx="4.7" cy="36.8" r="1.5"/><circle cx="30.8" cy="2.8" r="1.5"/><circle cx="34.6" cy="11.2" r="1.5"/><circle cx="32.5" cy="29.2" r="1.5"/><circle cx="30.7" cy="29.8" r="1.5"/><circle cx="16.5" cy="6.7" r="1.5"/><circle cx="5.3" cy="17.5" r="1.5"/><circle cx="7.1" cy="34.1" r="1.5"/><circle cx="38.5" cy="13" r="1.5"/><circle cx="36.5" cy="1.3" r="1.5"/><circle cx="36.5" cy="41.3" r="1.5"/><circle cx="28" cy="4.1" r="1.5"/><circle cx="21.5" cy="0" r="1.5"/><circle cx="21.5" cy="40" r="1.5"/><circle cx="10.8" cy="-1.2" r="1.5"/><circle cx="10.8" cy="38.8" r="1.5"/><circle cx="7" cy="4.2" r="1.5"/><circle cx="17.4" cy="15.1" r="1.5"/><circle cx="18.5" cy="14.4" r="1.5"/><circle cx="31.6" cy="4.2" r="1.5"/><circle cx="34.3" cy="13.9" r="1.5"/><circle cx="23.5" cy="4.1" r="1.5"/><circle cx="13.7" cy="33.7" r="1.5"/><circle cx="17.2" cy="36.8" r="1.5"/><circle cx="24.8" cy="34.6" r="1.5"/><circle cx="-0.2" cy="31.1" r="1.5"/><circle cx="39.8" cy="31.1" r="1.5"/><circle cx="23.7" cy="34.8" r="1.5"/><circle cx="2.8" cy="23.8" r="1.5"/><circle cx="24.6" cy="-1" r="1.5"/><circle cx="24.6" cy="39" r="1.5"/><circle cx="10.6" cy="17.4" r="1.5"/><circle cx="28.3" cy="13.3" r="1.5"/><circle cx="14.7" cy="4" r="1.5"/><circle cx="34.9" cy="12.3" r="1.5"/><circle cx="-0.4" cy="13.4" r="1.5"/><circle cx="39.6" cy="13.4" r="1.5"/><circle cx="21.5" cy="31.4" r="1.5"/><circle cx="12.7" cy="11.9" r="1.5"/><circle cx="32.5" cy="8.2" r="1.5"/><circle cx="1.5" cy="30.8" r="1.5"/><circle cx="41.5" cy="30.8" r="1.5"/><circle cx="10" cy="9.5" r="1.5"/><circle cx="31.4" cy="6.2" r="1.5"/><circle cx="3.3" cy="3.2" r="1.5"/><circle cx="25.3" cy="20.1" r="1.5"/><circle cx="9.7" cy="23.5" r="1.5"/><circle cx="31.4" cy="10.8" r="1.5"/><circle cx="29.2" cy="35" r="1.5"/><circle cx="-0.4" cy="22.7" r="1.5"/><circle cx="39.6" cy="22.7" r="1.5"/><circle cx="9.1" cy="16.8" r="1.5"/><circle cx="11.2" cy="30.3" r="1.5"/><circle cx="12.1" cy="2.1" r="1.5"/><circle cx="13.6" cy="12.7" r="1.5"/><circle cx="30.2" cy="31.3" r="1.5"/><circle cx="34.9" cy="14" r="1.5"/><circle cx="16" cy="18.4" r="1.5"/><circle cx="4.2" cy="26.3" r="1.5"/><circle cx="3.7" cy="6.9" r="1.5"/><circle cx="29.5" cy="25" r="1.5"/><circle cx="19.7" cy="26.7" r="1.5"/><circle cx="14.9" cy="32.4" r="1.5"/><circle cx="8.7" cy="12.3" r="1.5"/><circle cx="24.6" cy="5.3" r="1.5"/><circle cx="25.6" cy="14.7" r="1.5"/><circle cx="2.6" cy="3.5" r="1.5"/><circle cx="22" cy="22.3" r="1.5"/><circle cx="33.7" cy="24.6" r="1.5"/><circle cx="-0.7" cy="12.8" r="1.5"/><circle cx="39.3" cy="12.8" r="1.5"/><circle cx="34" cy="34.3" r="1.5"/><circle cx="5.4" cy="8.2" r="1.5"/><circle cx="22.8" cy="4.5" r="1.5"/><circle cx="33.1" cy="35.6" r="1.5"/><circle cx="25.9" cy="4.7" r="1.5"/><circle cx="35.8" cy="20.2" r="1.5"/><circle cx="2.6" cy="26.6" r="1.5"/><circle cx="30.2" cy="21.2" r="1.5"/><circle cx="1.3" cy="9.4" r="1.5"/><circle cx="41.3" cy="9.4" r="1.5"/><circle cx="16" cy="5.4" r="1.5"/><circle cx="24.7" cy="-0.5" r="1.5"/><circle cx="24.7" cy="39.5" r="1.5"/><circle cx="20.8" cy="6.1" r="1.5"/><circle cx="15.4" cy="5.2" r="1.5"/><circle cx="7.2" cy="3.7" r="1.5"/><circle cx="32" cy="13.6" r="1.5"/><circle cx="20.3" cy="26.1" r="1.5"/><circle cx="15.9" cy="2.7" r="1.5"/><circle cx="7.1" cy="9.7" r="1.5"/><circle cx="10.5" cy="29.6" r="1.5"/><circle cx="5.3" cy="19.1" r="1.5"/><circle cx="5.4" cy="34" r="1.5"/><circle cx="7.6" cy="24.9" r="1.5"/><circle cx="21.4" cy="13.8" r="1.5"/><circle cx="33.2" cy="33.3" r="1.5"/><circle cx="11.9" cy="7.9" r="1.5"/><circle cx="7.3" cy="36" r="1.5"/><circle cx="17" cy="34.1" r="1.5"/><circle cx="31.6" cy="26.3" r="1.5"/><circle cx="21.6" cy="23.7" r="1.5"/><circle cx="17.5" cy="-1" r="1.5"/><circle cx="17.5" cy="39" r="1.5"/><circle cx="12.6" cy="11.5" r="1.5"/><circle cx="0.5" cy="3.9" r="1.5"/><circle cx="40.5" cy="3.9" r="1.5"/><circle cx="36.5" cy="36.6" r="1.5"/><circle cx="36" cy="23" r="1.5"/><circle cx="10.9" cy="1.2" r="1.5"/><circle cx="10.9" cy="41.2" r="1.5"/><circle cx="33.4" cy="13.5" r="1.5"/><circle cx="35.7" cy="14" r="1.5"/><circle cx="34.1" cy="24.8" r="1.5"/><circle cx="25.8" cy="19.8" r="1.5"/><circle cx="7" cy="11.4" r="1.5"/><circle cx="24.7" cy="37.8" r="1.5"/><circle cx="35.2" cy="32" r="1.5"/><circle cx="24.7" cy="22.5" r="1.5"/><circle cx="6.2" cy="31.4" r="1.5"/><circle cx="24.7" cy="23.5" r="1.5"/><circle cx="8.4" cy="3" r="1.5"/><circle cx="5.7" cy="28.5" r="1.5"/><circle cx="25.2" cy="32.9" r="1.5"/><circle cx="32.7" cy="11.6" r="1.5"/><circle cx="13.4" cy="35.8" r="1.5"/><circle cx="14.8" cy="10" r="1.5"/><circle cx="2.5" cy="26.2" r="1.5"/><circle cx="5.7" cy="-0.7" r="1.5"/><circle cx="5.7" cy="39.3" r="1.5"/><circle cx="8.6" cy="17.3" r="1.5"/><circle cx="18.5" cy="28.4" r="1.5"/><circle cx="17.3" cy="29.5" r="1.5"/><circle cx="32.5" cy="13.1" r="1.5"/><circle cx="33.7" cy="16.4" r="1.5"/><circle cx="4.7" cy="23.7" r="1.5"/><circle cx="1.8" cy="6.7" r="1.5"/><circle cx="6.8" cy="35.8" r="1.5"/><circle cx="2" cy="33.4" r="1.5"/><circle cx="28.7" cy="5.7" r="1.5"/><circle cx="6.5" cy="5.7" r="1.5"/><circle cx="-1.4" cy="24.2" r="1.5"/><circle cx="38.6" cy="24.2" r="1.5"/><circle cx="29.1" cy="29.5" r="1.5"/><circle cx="6.4" cy="9.3" r="1.5"/><circle cx="17.3" cy="5.6" r="1.5"/><circle cx="31.3" cy="18.9" r="1.5"/><circle cx="22.4" cy="6.6" r="1.5"/><circle cx="25.4" cy="12.2" r="1.5"/><circle cx="21.7" cy="16.4" r="1.5"/><circle cx="3.8" cy="29.4" r="1.5"/><circle cx="17.7" cy="27.1" r="1.5"/><circle cx="13.2" cy="25.5" r="1.5"/><circle cx="21.7" cy="28.7" r="1.5"/><circle cx="2.5" cy="0" r="1.5"/><circle cx="2.5" cy="40" r="1.5"/><circle cx="16.6" cy="35.3" r="1.5"/><circle cx="31.4" cy="33.3" r="1.5"/><circle cx="20.2" cy="9.6" r="1.5"/><circle cx="19.1" cy="14.8" r="1.5"/><circle cx="-1.3" cy="35.6" r="1.5"/><circle cx="38.7" cy="35.6" r="1.5"/><circle cx="-1.5" cy="21.8" r="1.5"/><circle cx="38.5" cy="21.8" r="1.5"/><circle cx="12" cy="25.2" r="1.5"/><circle cx="0.8" cy="17.9" r="1.5"/><circle cx="40.8" cy="17.9" r="1.5"/><circle cx="20.6" cy="-1.2" r="1.5"/><circle cx="20.6" cy="38.8" r="1.5"/><circle cx="24" cy="28.9" r="1.5"/><circle cx="23.3" cy="15.4" r="1.5"/><circle cx="3.1" cy="2.3" r="1.5"/><circle cx="2.6" cy="16.7" r="1.5"/><circle cx="17.1" cy="30.9" r="1.5"/><circle cx="24.8" cy="13" r="1.5"/><circle cx="5.9" cy="31.2" r="1.5"/><circle cx="12.4" cy="7" r="1.5"/><circle cx="36" cy="34.6" r="1.5"/><circle cx="29.4" cy="24.2" r="1.5"/><circle cx="2.9" cy="11.3" r="1.5"/><circle cx="30" cy="24.6" r="1.5"/><circle cx="24.9" cy="32" r="1.5"/><circle cx="0.4" cy="5.4" r="1.5"/><circle cx="40.4" cy="5.4" r="1.5"/><circle cx="16.8" cy="35.5" r="1.5"/><circle cx="24.5" cy="29" r="1.5"/><circle cx="10.2" cy="10.9" r="1.5"/><circle cx="-0.8" cy="33.4" r="1.5"/><circle cx="39.2" cy="33.4" r="1.5"/><circle cx="25.1" cy="20.3" r="1.5"/><circle cx="17.3" cy="10" r="1.5"/><circle cx="34.2" cy="13.1" r="1.5"/><circle cx="-1" cy="12.8" r="1.5"/><circle cx="39" cy="12.8" r="1.5"/><circle cx="28.4" cy="34.8" r="1.5"/><circle cx="15.7" cy="23.9" r="1.5"/><circle cx="11.8" cy="13" r="1.5"/><circle cx="32.1" cy="17.5" r="1.5"/><circle cx="6.7" cy="8.1" r="1.5"/><circle cx="36" cy="31.7" r="1.5"/><circle cx="34.3" cy="37.9" r="1.5"/><circle cx="15.9" cy="4.8" r="1.5"/><circle cx="35" cy="29.7" r="1.5"/><circle cx="29.6" cy="23.8" r="1.5"/><circle cx="1" cy="37.7" r="1.5"/><circle cx="41" cy="37.7" r="1.5"/><circle cx="28.3" cy="2.6" r="1.5"/><circle cx="-1.3" cy="20.9" r="1.5"/><circle cx="38.7" cy="20.9" r="1.5"/><circle cx="25.8" cy="38.1" r="1.5"/><circle cx="23.1" cy="12.9" r="1.5"/><circle cx="23.4" cy="3.3" r="1.5"/><circle cx="4.5" cy="22.6" r="1.5"/><circle cx="26.8" cy="16.3" r="1.5"/><circle cx="13.2" cy="22.5" r="1.5"/><circle cx="33.8" cy="31.9" r="1.5"/><circle cx="25.6" cy="37" r="1.5"/><circle cx="26.9" cy="10.1" r="1.5"/><circle cx="36.9" cy="15.1" r="1.5"/><circle cx="32.9" cy="22.5" r="1.5"/><circle cx="14.6" cy="21.9" r="1.5"/><circle cx="1.1" cy="18.8" r="1.5"/><circle cx="41.1" cy="18.8" r="1.5"/><circle cx="3.7" cy="22.1" r="1.5"/><circle cx="0.2" cy="13" r="1.5"/><circle cx="40.2" cy="13" r="1.5"/><circle cx="5.5" cy="12.7" r="1.5"/><circle cx="-1.4" cy="12" r="1.5"/><circle cx="38.6" cy="12" r="1.5"/><circle cx="25.9" cy="37.1" r="1.5"/><circle cx="24.5" cy="8.7" r="1.5"/><circle cx="38.3" cy="13.6" r="1.5"/><circle cx="32.7" cy="25.7" r="1.5"/><circle cx="23.5" cy="30.8" r="1.5"/><circle cx="26.7" cy="2.6" r="1.5"/><circle cx="18.9" cy="21.4" r="1.5"/><circle cx="29.7" cy="1.2" r="1.5"/><circle cx="29.7" cy="41.2" r="1.5"/><circle cx="7.8" cy="10" r="1.5"/><circle cx="16.1" cy="24.5" r="1.5"/><circle cx="2.7" cy="22.9" r="1.5"/><circle cx="-1.5" cy="37" r="1.5"/><circle cx="38.5" cy="37" r="1.5"/><circle cx="28.9" cy="21.7" r="1.5"/><circle cx="31.9" cy="10" r="1.5"/><circle cx="0.8" cy="15.3" r="1.5"/><circle cx="40.8" cy="15.3" r="1.5"/><circle cx="10.6" cy="14.7" r="1.5"/><circle cx="31.4" cy="4.5" r="1.5"/><circle cx="34.9" cy="21" r="1.5"/><circle cx="37.6" cy="22.4" r="1.5"/><circle cx="11.9" cy="8.7" r="1.5"/><circle cx="18.9" cy="13.7" r="1.5"/><circle cx="26.9" cy="16" r="1.5"/><circle cx="7.4" cy="28.3" r="1.5"/><circle cx="10.9" cy="-1.2" r="1.5"/><circle cx="10.9" cy="38.8" r="1.5"/><circle cx="13.1" cy="28.7" r="1.5"/><circle cx="16.6" cy="17.6" r="1.5"/><circle cx="5.7" cy="31.7" r="1.5"/><circle cx="16.1" cy="31.2" r="1.5"/><circle cx="27.6" cy="27.3" r="1.5"/><circle cx="16.4" cy="30.5" r="1.5"/><circle cx="23.5" cy="8.5" r="1.5"/><circle cx="27.6" cy="34.6" r="1.5"/><circle cx="23.2" cy="18.2" r="1.5"/><circle cx="37" cy="24.1" r="1.5"/><circle cx="11.9" cy="29.7" r="1.5"/><circle cx="25.8" cy="21.1" r="1.5"/><circle cx="10.7" cy="3.4" r="1.5"/><circle cx="17.1" cy="6.4" r="1.5"/><circle cx="20.7" cy="3.8" r="1.5"/><circle cx="24.6" cy="6" r="1.5"/><circle cx="32.3" cy="23.4" r="1.5"/><circle cx="36.7" cy="11.9" r="1.5"/><circle cx="14.8" cy="28.9" r="1.5"/><circle cx="11.9" cy="18.3" r="1.5"/><circle cx="0.3" cy="4" r="1.5"/><circle cx="40.3" cy="4" r="1.5"/><circle cx="28.2" cy="2.8" r="1.5"/><circle cx="18.5" cy="10.3" r="1.5"/><circle cx="7.5" cy="16.5" r="1.5"/><circle cx="3.6" cy="-0.4" r="1.5"/><circle cx="3.6" cy="39.6" r="1.5"/><circle cx="25.6" cy="37.7" r="1.5"/><circle cx="2.4" cy="2.6" r="1.5"/><circle cx="27.6" cy="38.3" r="1.5"/><circle cx="29.3" cy="26.3" r="1.5"/><circle cx="31.5" cy="19.7" r="1.5"/><circle cx="4.8" cy="27.6" r="1.5"/><circle cx="36.3" cy="19.7" r="1.5"/><circle cx="28.1" cy="23.8" r="1.5"/><circle cx="34.8" cy="0.8" r="1.5"/><circle cx="34.8" cy="40.8" r="1.5"/><circle cx="21.8" cy="0.8" r="1.5"/><circle cx="21.8" cy="40.8" r="1.5"/><circle cx="33" cy="19.5" r="1.5"/><circle cx="11.1" cy="9.8" r="1.5"/><circle cx="36.3" cy="15.7" r="1.5"/><circle cx="29.3" cy="27.6" r="1.5"/><circle cx="10.7" cy="5.2" r="1.5"/><circle cx="11.2" cy="8.2" r="1.5"/><circle cx="35.5" cy="26.6" r="1.5"/><circle cx="11.7" cy="33.7" r="1.5"/><circle cx="15.7" cy="0.1" r="1.5"/><circle cx="15.7" cy="40.1" r="1.5"/><circle cx="30.2" cy="17.3" r="1.5"/><circle cx="12.4" cy="6.7" r="1.5"/><circle cx="35.8" cy="23.5" r="1.5"/><circle cx="21.4" cy="6.2" r="1.5"/><circle cx="27.3" cy="3.3" r="1.5"/><circle cx="35.4" cy="12.8" r="1.5"/><circle cx="28.9" cy="16.2" r="1.5"/><circle cx="5.9" cy="0.2" r="1.5"/><circle cx="5.9" cy="40.2" r="1.5"/><circle cx="36.8" cy="36.7" r="1.5"/><circle cx="15.5" cy="3.3" r="1.5"/><circle cx="12.4" cy="26.5" r="1.5"/><circle cx="8.5" cy="1.6" r="1.5"/><circle cx="18.3" cy="22.3" r="1.5"/><circle cx="11.5" cy="31.9" r="1.5"/><circle cx="27.8" cy="17.1" r="1.5"/><circle cx="18" cy="1" r="1.5"/><circle cx="18" cy="41" r="1.5"/><circle cx="0" cy="17.3" r="1.5"/><circle cx="40" cy="17.3" r="1.5"/><circle cx="14.6" cy="3.1" r="1.5"/><circle cx="0.3" cy="24.7" r="1.5"/><circle cx="40.3" cy="24.7" r="1.5"/><circle cx="6.9" cy="11.8" r="1.5"/><circle cx="27.1" cy="24.8" r="1.5"/><circle cx="19.2" cy="4.6" r="1.5"/><circle cx="24.9" cy="18.5" r="1.5"/><circle cx="9.9" cy="25.5" r="1.5"/><circle cx="7.1" cy="26.1" r="1.5"/><circle cx="6.7" cy="27" r="1.5"/><circle cx="15.1" cy="26.3" r="1.5"/><circle cx="21.7" cy="11.6" r="1.5"/><circle cx="25.4" cy="19.7" r="1.5"/><circle cx="27.5" cy="17.9" r="1.5"/><circle cx="6.3" cy="3.6" r="1.5"/><circle cx="8.6" cy="33" r="1.5"/><circle cx="15.9" cy="36.3" r="1.5"/><circle cx="8.2" cy="2.7" r="1.5"/><circle cx="3.1" cy="32.4" r="1.5"/><circle cx="1" cy="0.9" r="1.5"/><circle cx="1" cy="40.9" r="1.5"/><circle cx="41" cy="0.9" r="1.5"/><circle cx="41" cy="40.9" r="1.5"/><circle cx="10.8" cy="4.1" r="1.5"/><circle cx="6.6" cy="5" r="1.5"/><circle cx="20.3" cy="7.4" r="1.5"/><circle cx="32.2" cy="14.2" r="1.5"/><circle cx="17.7" cy="35.4" r="1.5"/><circle cx="7.3" cy="33.3" r="1.5"/><circle cx="26.2" cy="29.6" r="1.5"/><circle cx="5.3" cy="31.4" r="1.5"/><circle cx="20.5" cy="2" r="1.5"/><circle cx="24.1" cy="5.3" r="1.5"/><circle cx="2.5" cy="26.4" r="1.5"/><circle cx="32.9" cy="10.7" r="1.5"/><circle cx="33.6" cy="20.2" r="1.5"/><circle cx="3.8" cy="35.6" r="1.5"/><circle cx="34.4" cy="16.9" r="1.5"/><circle cx="24.6" cy="6.2" r="1.5"/><circle cx="16.3" cy="-0.8" r="1.5"/><circle cx="16.3" cy="39.2" r="1.5"/><circle cx="19.8" cy="0.6" r="1.5"/><circle cx="19.8" cy="40.6" r="1.5"/><circle cx="28.3" cy="28.2" r="1.5"/><circle cx="37.9" cy="32.5" r="1.5"/><circle cx="10.4" cy="13.5" r="1.5"/><circle cx="25.8" cy="33.6" r="1.5"/><circle cx="19.3" cy="13" r="1.5"/><circle cx="33.7" cy="17.5" r="1.5"/><circle cx="38.2" cy="0.5" r="1.5"/><circle cx="38.2" cy="40.5" r="1.5"/><circle cx="35.6" cy="28.9" r="1.5"/><circle cx="35.7" cy="34.6" r="1.5"/><circle cx="35.5" cy="29.5" r="1.5"/><circle cx="9.7" cy="30.2" r="1.5"/><circle cx="4.7" cy="9.5" r="1.5"/><circle cx="34.2" cy="-0.7" r="1.5"/><circle cx="34.2" cy="39.3" r="1.5"/><circle cx="1.7" cy="10" r="1.5"/><circle cx="3.6" cy="-0.8" r="1.5"/><circle cx="3.6" cy="39.2" r="1.5"/><circle cx="19" cy="-1.3" r="1.5"/><circle cx="19" cy="38.7" r="1.5"/><circle cx="33.6" cy="9.4" r="1.5"/><circle cx="29.3" cy="28.5" r="1.5"/><circle cx="13.1" cy="28.2" r="1.5"/><circle cx="38.4" cy="-0.7" r="1.5"/><circle cx="38.4" cy="39.3" r="1.5"/><circle cx="0.8" cy="8.1" r="1.5"/><circle cx="40.8" cy="8.1" r="1.5"/><circle cx="14" cy="26.1" r="1.5"/><circle cx="29.8" cy="5" r="1.5"/><circle cx="15.7" cy="15.2" r="1.5"/><circle cx="20.2" cy="24.2" r="1.5"/></g></pattern><pattern id="pt55" patternUnits="userSpaceOnUse" width="40" height="40"><g fill="#5bb894"><circle cx="31.2" cy="9.4" r="1.5"/><circle cx="1.2" cy="8.9" r="1.5"/><circle cx="41.2" cy="8.9" r="1.5"/><circle cx="17.7" cy="3" r="1.5"/><circle cx="37.5" cy="2.8" r="1.5"/><circle cx="20.6" cy="14.7" r="1.5"/><circle cx="13.4" cy="17.5" r="1.5"/><circle cx="36" cy="36.1" r="1.5"/><circle cx="11" cy="1" r="1.5"/><circle cx="11" cy="41" r="1.5"/><circle cx="26.5" cy="20.2" r="1.5"/><circle cx="12.9" cy="7.1" r="1.5"/><circle cx="32.5" cy="24.9" r="1.5"/><circle cx="36.1" cy="24.6" r="1.5"/><circle cx="36.3" cy="24.7" r="1.5"/><circle cx="14.7" cy="22" r="1.5"/><circle cx="21.7" cy="3.2" r="1.5"/><circle cx="14.3" cy="0.8" r="1.5"/><circle cx="14.3" cy="40.8" r="1.5"/><circle cx="27.5" cy="33.9" r="1.5"/><circle cx="16.1" cy="34.8" r="1.5"/><circle cx="2.5" cy="12.1" r="1.5"/><circle cx="35.3" cy="32.9" r="1.5"/><circle cx="6.9" cy="16.5" r="1.5"/><circle cx="14" cy="4.4" r="1.5"/><circle cx="25.7" cy="1.2" r="1.5"/><circle cx="25.7" cy="41.2" r="1.5"/><circle cx="9.6" cy="7.5" r="1.5"/><circle cx="32.7" cy="19.2" r="1.5"/><circle cx="34" cy="3.4" r="1.5"/><circle cx="10.1" cy="30.5" r="1.5"/><circle cx="1.2" cy="34.7" r="1.5"/><circle cx="41.2" cy="34.7" r="1.5"/><circle cx="16.4" cy="30.6" r="1.5"/><circle cx="20.1" cy="7.4" r="1.5"/><circle cx="26.3" cy="3.9" r="1.5"/><circle cx="19" cy="26.3" r="1.5"/><circle cx="12.7" cy="22.2" r="1.5"/><circle cx="21.2" cy="15.7" r="1.5"/><circle cx="9.2" cy="21.5" r="1.5"/><circle cx="23.3" cy="3.7" r="1.5"/><circle cx="22.9" cy="2.4" r="1.5"/><circle cx="26.9" cy="21.1" r="1.5"/><circle cx="0.6" cy="24.9" r="1.5"/><circle cx="40.6" cy="24.9" r="1.5"/><circle cx="20.3" cy="26.1" r="1.5"/><circle cx="3.2" cy="4.1" r="1.5"/><circle cx="-0.9" cy="1.3" r="1.5"/><circle cx="-0.9" cy="41.3" r="1.5"/><circle cx="39.1" cy="1.3" r="1.5"/><circle cx="39.1" cy="41.3" r="1.5"/><circle cx="-0.5" cy="5.9" r="1.5"/><circle cx="39.5" cy="5.9" r="1.5"/><circle cx="14.2" cy="19.6" r="1.5"/><circle cx="24" cy="36.4" r="1.5"/><circle cx="15.5" cy="31.3" r="1.5"/><circle cx="17" cy="27.7" r="1.5"/><circle cx="22.8" cy="22.1" r="1.5"/><circle cx="25.2" cy="17.8" r="1.5"/><circle cx="8.6" cy="14.8" r="1.5"/><circle cx="25" cy="34.2" r="1.5"/><circle cx="13.8" cy="1.4" r="1.5"/><circle cx="13.8" cy="41.4" r="1.5"/><circle cx="34" cy="4.8" r="1.5"/><circle cx="28.4" cy="7.5" r="1.5"/><circle cx="24.1" cy="15.3" r="1.5"/><circle cx="13.4" cy="15.3" r="1.5"/><circle cx="17.3" cy="35.2" r="1.5"/><circle cx="25.6" cy="25.6" r="1.5"/><circle cx="34.1" cy="36.9" r="1.5"/><circle cx="30.7" cy="17.3" r="1.5"/><circle cx="-0.9" cy="19.7" r="1.5"/><circle cx="39.1" cy="19.7" r="1.5"/><circle cx="36.4" cy="20.5" r="1.5"/><circle cx="37.2" cy="13.2" r="1.5"/><circle cx="32.4" cy="12" r="1.5"/><circle cx="22.2" cy="34.2" r="1.5"/><circle cx="21.4" cy="32.8" r="1.5"/><circle cx="8.4" cy="23.4" r="1.5"/><circle cx="31.6" cy="19.9" r="1.5"/><circle cx="-0.8" cy="3" r="1.5"/><circle cx="39.2" cy="3" r="1.5"/><circle cx="28.8" cy="37.8" r="1.5"/><circle cx="36.3" cy="7" r="1.5"/><circle cx="37.1" cy="7.5" r="1.5"/><circle cx="23.2" cy="22.3" r="1.5"/><circle cx="27.7" cy="12.7" r="1.5"/><circle cx="3.2" cy="2.5" r="1.5"/><circle cx="28.4" cy="-1.4" r="1.5"/><circle cx="28.4" cy="38.6" r="1.5"/><circle cx="13.6" cy="31.5" r="1.5"/><circle cx="13.9" cy="6.3" r="1.5"/><circle cx="37.6" cy="37" r="1.5"/><circle cx="1.3" cy="14.4" r="1.5"/><circle cx="41.3" cy="14.4" r="1.5"/><circle cx="31.8" cy="32.4" r="1.5"/><circle cx="34.1" cy="1.1" r="1.5"/><circle cx="34.1" cy="41.1" r="1.5"/><circle cx="4.6" cy="3.4" r="1.5"/><circle cx="30.1" cy="33.8" r="1.5"/><circle cx="17.8" cy="6.5" r="1.5"/><circle cx="25.8" cy="1.2" r="1.5"/><circle cx="25.8" cy="41.2" r="1.5"/><circle cx="27.3" cy="20.7" r="1.5"/><circle cx="24.3" cy="2.7" r="1.5"/><circle cx="3.7" cy="21.3" r="1.5"/><circle cx="26.6" cy="37.1" r="1.5"/><circle cx="33.2" cy="14.2" r="1.5"/><circle cx="21.7" cy="27.8" r="1.5"/><circle cx="27.9" cy="9.1" r="1.5"/><circle cx="14.9" cy="38.3" r="1.5"/><circle cx="29.6" cy="25" r="1.5"/><circle cx="9.3" cy="21.6" r="1.5"/><circle cx="33.4" cy="35.1" r="1.5"/><circle cx="33.1" cy="22.3" r="1.5"/><circle cx="35" cy="20" r="1.5"/><circle cx="16.2" cy="33.8" r="1.5"/><circle cx="33.4" cy="32.5" r="1.5"/><circle cx="3.7" cy="4.7" r="1.5"/><circle cx="26.4" cy="14.3" r="1.5"/><circle cx="37.4" cy="-0.9" r="1.5"/><circle cx="37.4" cy="39.1" r="1.5"/><circle cx="3.7" cy="4.9" r="1.5"/><circle cx="15.2" cy="5.3" r="1.5"/><circle cx="13" cy="2.6" r="1.5"/><circle cx="24.3" cy="33.2" r="1.5"/><circle cx="17.6" cy="21.7" r="1.5"/><circle cx="5.5" cy="37.1" r="1.5"/><circle cx="24.4" cy="25.9" r="1.5"/><circle cx="-1.2" cy="5.9" r="1.5"/><circle cx="38.8" cy="5.9" r="1.5"/><circle cx="15.7" cy="22.4" r="1.5"/><circle cx="37.4" cy="5.9" r="1.5"/><circle cx="21" cy="17.9" r="1.5"/><circle cx="25.1" cy="7" r="1.5"/><circle cx="1.2" cy="25.4" r="1.5"/><circle cx="41.2" cy="25.4" r="1.5"/><circle cx="4.6" cy="2.2" r="1.5"/><circle cx="17.4" cy="20" r="1.5"/><circle cx="28.7" cy="35.5" r="1.5"/><circle cx="28" cy="20.2" r="1.5"/><circle cx="1.3" cy="12.9" r="1.5"/><circle cx="41.3" cy="12.9" r="1.5"/><circle cx="21" cy="19.2" r="1.5"/><circle cx="36.5" cy="9.7" r="1.5"/><circle cx="7.9" cy="28.4" r="1.5"/><circle cx="21.1" cy="21.5" r="1.5"/><circle cx="16.9" cy="5.1" r="1.5"/><circle cx="29.4" cy="23.1" r="1.5"/><circle cx="5" cy="4.5" r="1.5"/><circle cx="15.1" cy="0.5" r="1.5"/><circle cx="15.1" cy="40.5" r="1.5"/><circle cx="14" cy="18.6" r="1.5"/><circle cx="37.7" cy="20.7" r="1.5"/><circle cx="28.7" cy="21.4" r="1.5"/><circle cx="25.8" cy="32.9" r="1.5"/><circle cx="7.7" cy="30" r="1.5"/><circle cx="18.9" cy="28.2" r="1.5"/><circle cx="12.6" cy="26.4" r="1.5"/><circle cx="32.1" cy="17.2" r="1.5"/><circle cx="15.8" cy="23.9" r="1.5"/><circle cx="20.4" cy="28" r="1.5"/><circle cx="25.5" cy="31.5" r="1.5"/><circle cx="4" cy="11.8" r="1.5"/><circle cx="12.8" cy="32.1" r="1.5"/><circle cx="11.6" cy="32.1" r="1.5"/><circle cx="15.3" cy="13" r="1.5"/><circle cx="10.3" cy="29.9" r="1.5"/><circle cx="1.6" cy="16" r="1.5"/><circle cx="33.3" cy="22.4" r="1.5"/><circle cx="2.6" cy="16.4" r="1.5"/><circle cx="25.9" cy="11.3" r="1.5"/><circle cx="32.8" cy="-1.4" r="1.5"/><circle cx="32.8" cy="38.6" r="1.5"/><circle cx="2.7" cy="7.3" r="1.5"/><circle cx="2.6" cy="14" r="1.5"/><circle cx="2.7" cy="25.2" r="1.5"/><circle cx="13.9" cy="30.6" r="1.5"/><circle cx="17.7" cy="17.8" r="1.5"/><circle cx="35.7" cy="13.8" r="1.5"/><circle cx="4.2" cy="25.8" r="1.5"/><circle cx="19.4" cy="33" r="1.5"/><circle cx="26.9" cy="31.4" r="1.5"/><circle cx="11" cy="18.7" r="1.5"/><circle cx="35" cy="19.9" r="1.5"/><circle cx="32.6" cy="7" r="1.5"/><circle cx="17.3" cy="28.2" r="1.5"/><circle cx="32.1" cy="3.9" r="1.5"/><circle cx="2.1" cy="16.7" r="1.5"/><circle cx="35.9" cy="4.7" r="1.5"/><circle cx="25.4" cy="7.8" r="1.5"/><circle cx="21.7" cy="11.5" r="1.5"/><circle cx="6.8" cy="29.2" r="1.5"/><circle cx="14.7" cy="33.6" r="1.5"/><circle cx="13.3" cy="23.7" r="1.5"/><circle cx="14.7" cy="4.5" r="1.5"/><circle cx="8.9" cy="24.2" r="1.5"/><circle cx="0.8" cy="14.8" r="1.5"/><circle cx="40.8" cy="14.8" r="1.5"/><circle cx="37.7" cy="37.3" r="1.5"/><circle cx="35.1" cy="0.6" r="1.5"/><circle cx="35.1" cy="40.6" r="1.5"/><circle cx="29.7" cy="24.2" r="1.5"/><circle cx="8.2" cy="28.4" r="1.5"/><circle cx="12.6" cy="22.1" r="1.5"/><circle cx="30.7" cy="33" r="1.5"/><circle cx="26.3" cy="-1.5" r="1.5"/><circle cx="26.3" cy="38.5" r="1.5"/><circle cx="14.9" cy="25.1" r="1.5"/><circle cx="27.8" cy="24" r="1.5"/><circle cx="24.5" cy="16" r="1.5"/><circle cx="15.3" cy="32" r="1.5"/><circle cx="22.6" cy="37.7" r="1.5"/><circle cx="37.7" cy="22.9" r="1.5"/><circle cx="11" cy="21.8" r="1.5"/><circle cx="8.7" cy="6.4" r="1.5"/><circle cx="8.7" cy="11.1" r="1.5"/><circle cx="-0.6" cy="37.3" r="1.5"/><circle cx="39.4" cy="37.3" r="1.5"/><circle cx="14.7" cy="29.8" r="1.5"/><circle cx="-1.1" cy="34.9" r="1.5"/><circle cx="38.9" cy="34.9" r="1.5"/><circle cx="35.2" cy="3.1" r="1.5"/><circle cx="13.1" cy="5.8" r="1.5"/><circle cx="17.2" cy="10.2" r="1.5"/><circle cx="13.5" cy="35.2" r="1.5"/><circle cx="13.1" cy="18.3" r="1.5"/><circle cx="35.1" cy="13.1" r="1.5"/><circle cx="35.8" cy="36.6" r="1.5"/><circle cx="1.7" cy="12" r="1.5"/><circle cx="28.7" cy="7.9" r="1.5"/><circle cx="9.1" cy="21.7" r="1.5"/><circle cx="3.7" cy="2.1" r="1.5"/><circle cx="34.3" cy="24.3" r="1.5"/><circle cx="4.9" cy="23.4" r="1.5"/><circle cx="20.3" cy="8.5" r="1.5"/><circle cx="1.2" cy="25.9" r="1.5"/><circle cx="41.2" cy="25.9" r="1.5"/><circle cx="35" cy="24" r="1.5"/><circle cx="4.1" cy="30.6" r="1.5"/><circle cx="28.1" cy="0.9" r="1.5"/><circle cx="28.1" cy="40.9" r="1.5"/><circle cx="29.8" cy="21.7" r="1.5"/><circle cx="27.1" cy="23.2" r="1.5"/><circle cx="33.9" cy="3.9" r="1.5"/><circle cx="25.8" cy="13.9" r="1.5"/><circle cx="-0.5" cy="36.7" r="1.5"/><circle cx="39.5" cy="36.7" r="1.5"/><circle cx="20" cy="-0.8" r="1.5"/><circle cx="20" cy="39.2" r="1.5"/><circle cx="28.4" cy="15.8" r="1.5"/><circle cx="5.2" cy="35.8" r="1.5"/><circle cx="0.4" cy="21.4" r="1.5"/><circle cx="40.4" cy="21.4" r="1.5"/><circle cx="-0.5" cy="-1.4" r="1.5"/><circle cx="-0.5" cy="38.6" r="1.5"/><circle cx="39.5" cy="-1.4" r="1.5"/><circle cx="39.5" cy="38.6" r="1.5"/><circle cx="28.6" cy="13.2" r="1.5"/><circle cx="29.6" cy="6.2" r="1.5"/><circle cx="24.9" cy="1.4" r="1.5"/><circle cx="24.9" cy="41.4" r="1.5"/><circle cx="9.1" cy="20.3" r="1.5"/><circle cx="16.3" cy="9.8" r="1.5"/><circle cx="22.5" cy="26.1" r="1.5"/><circle cx="4.2" cy="20.8" r="1.5"/><circle cx="24.2" cy="26.1" r="1.5"/><circle cx="35.8" cy="33.9" r="1.5"/><circle cx="15.5" cy="30.9" r="1.5"/><circle cx="31.5" cy="34.3" r="1.5"/><circle cx="32.8" cy="34.8" r="1.5"/><circle cx="32.9" cy="34.7" r="1.5"/><circle cx="27" cy="4.5" r="1.5"/><circle cx="27.9" cy="16.7" r="1.5"/><circle cx="12.6" cy="15.4" r="1.5"/><circle cx="26.3" cy="37.3" r="1.5"/><circle cx="7.7" cy="25.8" r="1.5"/><circle cx="20.7" cy="10.3" r="1.5"/><circle cx="34.1" cy="12.4" r="1.5"/><circle cx="36.7" cy="22.3" r="1.5"/><circle cx="36" cy="14.5" r="1.5"/></g></pattern><pattern id="pt35" patternUnits="userSpaceOnUse" width="40" height="40"><g fill="#5bb894"><circle cx="29.9" cy="9.3" r="1.5"/><circle cx="11.1" cy="16.1" r="1.5"/><circle cx="28.4" cy="9.4" r="1.5"/><circle cx="15.7" cy="15.4" r="1.5"/><circle cx="23.4" cy="26.6" r="1.5"/><circle cx="28.2" cy="21.1" r="1.5"/><circle cx="12.7" cy="3.4" r="1.5"/><circle cx="-0.1" cy="28.7" r="1.5"/><circle cx="39.9" cy="28.7" r="1.5"/><circle cx="12.9" cy="29.8" r="1.5"/><circle cx="23.3" cy="26.1" r="1.5"/><circle cx="7.3" cy="4.1" r="1.5"/><circle cx="35.5" cy="32.8" r="1.5"/><circle cx="14.9" cy="24.5" r="1.5"/><circle cx="11.1" cy="25.4" r="1.5"/><circle cx="30.3" cy="23.8" r="1.5"/><circle cx="20.7" cy="23.5" r="1.5"/><circle cx="31.3" cy="25.4" r="1.5"/><circle cx="37.3" cy="2.5" r="1.5"/><circle cx="29.2" cy="3.2" r="1.5"/><circle cx="36.1" cy="11" r="1.5"/><circle cx="28.8" cy="24" r="1.5"/><circle cx="36.5" cy="7.2" r="1.5"/><circle cx="12.4" cy="10.5" r="1.5"/><circle cx="23.4" cy="23.9" r="1.5"/><circle cx="34.3" cy="9.4" r="1.5"/><circle cx="13.9" cy="-1" r="1.5"/><circle cx="13.9" cy="39" r="1.5"/><circle cx="12.6" cy="38.4" r="1.5"/><circle cx="31.9" cy="37.1" r="1.5"/><circle cx="11" cy="2.2" r="1.5"/><circle cx="35.6" cy="8.9" r="1.5"/><circle cx="12.3" cy="30.4" r="1.5"/><circle cx="30.3" cy="20.4" r="1.5"/><circle cx="19.6" cy="30.6" r="1.5"/><circle cx="19.7" cy="16.6" r="1.5"/><circle cx="36.9" cy="33.9" r="1.5"/><circle cx="24.9" cy="19.8" r="1.5"/><circle cx="30.3" cy="20.3" r="1.5"/><circle cx="28.5" cy="21" r="1.5"/><circle cx="16" cy="0.5" r="1.5"/><circle cx="16" cy="40.5" r="1.5"/><circle cx="27.4" cy="20.3" r="1.5"/><circle cx="9.4" cy="12.4" r="1.5"/><circle cx="37.9" cy="10.6" r="1.5"/><circle cx="9" cy="-1.1" r="1.5"/><circle cx="9" cy="38.9" r="1.5"/><circle cx="2.1" cy="36.6" r="1.5"/><circle cx="29" cy="11.3" r="1.5"/><circle cx="14" cy="4.7" r="1.5"/><circle cx="4.6" cy="26.6" r="1.5"/><circle cx="36.9" cy="37.9" r="1.5"/><circle cx="3.6" cy="25.4" r="1.5"/><circle cx="27.7" cy="5.6" r="1.5"/><circle cx="11.3" cy="-0" r="1.5"/><circle cx="11.3" cy="40" r="1.5"/><circle cx="16.8" cy="19" r="1.5"/><circle cx="21.7" cy="26" r="1.5"/><circle cx="22.2" cy="14.3" r="1.5"/><circle cx="18.5" cy="28.2" r="1.5"/><circle cx="12.4" cy="8.8" r="1.5"/><circle cx="16.1" cy="3.9" r="1.5"/><circle cx="37.1" cy="37" r="1.5"/><circle cx="15.5" cy="8.6" r="1.5"/><circle cx="22.4" cy="11.6" r="1.5"/><circle cx="17" cy="37.8" r="1.5"/><circle cx="26.6" cy="3.3" r="1.5"/><circle cx="3.5" cy="19.5" r="1.5"/><circle cx="27.3" cy="19.9" r="1.5"/><circle cx="9.6" cy="37.7" r="1.5"/><circle cx="13" cy="28.3" r="1.5"/><circle cx="23.6" cy="17.7" r="1.5"/><circle cx="15.1" cy="16.6" r="1.5"/><circle cx="-0.1" cy="20.5" r="1.5"/><circle cx="39.9" cy="20.5" r="1.5"/><circle cx="29.2" cy="18.1" r="1.5"/><circle cx="-1.4" cy="16.9" r="1.5"/><circle cx="38.6" cy="16.9" r="1.5"/><circle cx="15.1" cy="33.3" r="1.5"/><circle cx="20.4" cy="31" r="1.5"/><circle cx="23.3" cy="32.2" r="1.5"/><circle cx="13.4" cy="31.3" r="1.5"/><circle cx="31.1" cy="35" r="1.5"/><circle cx="33.8" cy="25.2" r="1.5"/><circle cx="29.7" cy="2.4" r="1.5"/><circle cx="29.3" cy="13" r="1.5"/><circle cx="21.9" cy="23.5" r="1.5"/><circle cx="35.5" cy="37.2" r="1.5"/><circle cx="36.4" cy="23.6" r="1.5"/><circle cx="12.9" cy="11.2" r="1.5"/><circle cx="37.3" cy="17.1" r="1.5"/><circle cx="7.2" cy="36.7" r="1.5"/><circle cx="1.2" cy="33" r="1.5"/><circle cx="41.2" cy="33" r="1.5"/><circle cx="33.1" cy="11.8" r="1.5"/><circle cx="7" cy="11.8" r="1.5"/><circle cx="8.4" cy="10.8" r="1.5"/><circle cx="7.2" cy="12.4" r="1.5"/><circle cx="1.4" cy="19.1" r="1.5"/><circle cx="41.4" cy="19.1" r="1.5"/><circle cx="-1.2" cy="-0.4" r="1.5"/><circle cx="-1.2" cy="39.6" r="1.5"/><circle cx="38.8" cy="-0.4" r="1.5"/><circle cx="38.8" cy="39.6" r="1.5"/><circle cx="28.2" cy="27.5" r="1.5"/><circle cx="22.6" cy="6.7" r="1.5"/><circle cx="12.2" cy="3.9" r="1.5"/><circle cx="0.1" cy="11.8" r="1.5"/><circle cx="40.1" cy="11.8" r="1.5"/><circle cx="7" cy="20.7" r="1.5"/><circle cx="35.2" cy="23.7" r="1.5"/><circle cx="4.6" cy="20.3" r="1.5"/><circle cx="3.2" cy="35.8" r="1.5"/><circle cx="34.6" cy="0.4" r="1.5"/><circle cx="34.6" cy="40.4" r="1.5"/><circle cx="30.2" cy="7.1" r="1.5"/><circle cx="36.5" cy="15.5" r="1.5"/><circle cx="25.6" cy="23.1" r="1.5"/><circle cx="10.7" cy="30.9" r="1.5"/><circle cx="11.4" cy="20.2" r="1.5"/><circle cx="24.9" cy="25.2" r="1.5"/><circle cx="22.9" cy="23" r="1.5"/><circle cx="9.4" cy="25.8" r="1.5"/><circle cx="0.3" cy="29.1" r="1.5"/><circle cx="40.3" cy="29.1" r="1.5"/><circle cx="14.2" cy="28.3" r="1.5"/><circle cx="0.9" cy="0.9" r="1.5"/><circle cx="0.9" cy="40.9" r="1.5"/><circle cx="40.9" cy="0.9" r="1.5"/><circle cx="40.9" cy="40.9" r="1.5"/><circle cx="38.2" cy="2.9" r="1.5"/><circle cx="0.5" cy="35.9" r="1.5"/><circle cx="40.5" cy="35.9" r="1.5"/><circle cx="26.3" cy="30.3" r="1.5"/><circle cx="26.3" cy="5.9" r="1.5"/><circle cx="24.8" cy="12" r="1.5"/><circle cx="21.8" cy="20" r="1.5"/><circle cx="13.4" cy="30.1" r="1.5"/><circle cx="27.4" cy="13.7" r="1.5"/><circle cx="11.9" cy="20.4" r="1.5"/><circle cx="16.2" cy="18.9" r="1.5"/><circle cx="2.4" cy="25.2" r="1.5"/><circle cx="21.1" cy="34.7" r="1.5"/><circle cx="5.9" cy="1" r="1.5"/><circle cx="5.9" cy="41" r="1.5"/><circle cx="17.8" cy="23.6" r="1.5"/><circle cx="26.1" cy="6.2" r="1.5"/><circle cx="28.4" cy="15.7" r="1.5"/><circle cx="13.3" cy="31.4" r="1.5"/><circle cx="11" cy="7.9" r="1.5"/><circle cx="2.5" cy="0.3" r="1.5"/><circle cx="2.5" cy="40.3" r="1.5"/><circle cx="10.3" cy="17.5" r="1.5"/><circle cx="29.9" cy="6.9" r="1.5"/><circle cx="11.4" cy="2.9" r="1.5"/><circle cx="6.1" cy="9.9" r="1.5"/><circle cx="28" cy="2.3" r="1.5"/><circle cx="28.6" cy="2.7" r="1.5"/><circle cx="24.7" cy="31.4" r="1.5"/><circle cx="10.9" cy="13" r="1.5"/></g></pattern><pattern id="pt20" patternUnits="userSpaceOnUse" width="40" height="40"><g fill="#5bb894"><circle cx="20.7" cy="14.2" r="1.5"/><circle cx="21.6" cy="17.6" r="1.5"/><circle cx="1.7" cy="8.3" r="1.5"/><circle cx="36.8" cy="27.1" r="1.5"/><circle cx="22" cy="32.3" r="1.5"/><circle cx="2" cy="-0.4" r="1.5"/><circle cx="2" cy="39.6" r="1.5"/><circle cx="24.4" cy="34.4" r="1.5"/><circle cx="5.9" cy="26.8" r="1.5"/><circle cx="25.2" cy="27.9" r="1.5"/><circle cx="7.9" cy="17.2" r="1.5"/><circle cx="18.1" cy="0.6" r="1.5"/><circle cx="18.1" cy="40.6" r="1.5"/><circle cx="20.2" cy="8.5" r="1.5"/><circle cx="18" cy="1" r="1.5"/><circle cx="18" cy="41" r="1.5"/><circle cx="38.2" cy="25.1" r="1.5"/><circle cx="17.2" cy="34.3" r="1.5"/><circle cx="35.4" cy="2.3" r="1.5"/><circle cx="-0.8" cy="17.6" r="1.5"/><circle cx="39.2" cy="17.6" r="1.5"/><circle cx="18.5" cy="35.3" r="1.5"/><circle cx="7.7" cy="2.1" r="1.5"/><circle cx="14.3" cy="35.7" r="1.5"/><circle cx="22.6" cy="33" r="1.5"/><circle cx="32.4" cy="5.4" r="1.5"/><circle cx="27.1" cy="14.8" r="1.5"/><circle cx="13.4" cy="18.7" r="1.5"/><circle cx="34.5" cy="27.9" r="1.5"/><circle cx="8.3" cy="15.3" r="1.5"/><circle cx="10.7" cy="24.8" r="1.5"/><circle cx="2" cy="5.3" r="1.5"/><circle cx="38.4" cy="8.3" r="1.5"/><circle cx="7.8" cy="2.5" r="1.5"/><circle cx="6.1" cy="22.8" r="1.5"/><circle cx="24.6" cy="20.2" r="1.5"/><circle cx="25.6" cy="13.3" r="1.5"/><circle cx="18.1" cy="20.9" r="1.5"/><circle cx="2" cy="17.9" r="1.5"/><circle cx="13.5" cy="9.5" r="1.5"/><circle cx="27.3" cy="19.1" r="1.5"/><circle cx="7.3" cy="15.7" r="1.5"/><circle cx="17.8" cy="22.1" r="1.5"/><circle cx="8.1" cy="19.3" r="1.5"/><circle cx="7.3" cy="30.2" r="1.5"/><circle cx="8.9" cy="11.1" r="1.5"/><circle cx="30.9" cy="21.6" r="1.5"/><circle cx="37.4" cy="-0.3" r="1.5"/><circle cx="37.4" cy="39.7" r="1.5"/><circle cx="30.2" cy="27.6" r="1.5"/><circle cx="17.1" cy="30.9" r="1.5"/><circle cx="35.2" cy="18" r="1.5"/><circle cx="32.8" cy="22.3" r="1.5"/><circle cx="17" cy="28.6" r="1.5"/><circle cx="10.8" cy="14.4" r="1.5"/><circle cx="23.1" cy="14.5" r="1.5"/><circle cx="33.2" cy="16.3" r="1.5"/><circle cx="36.2" cy="8.5" r="1.5"/><circle cx="38.5" cy="22.8" r="1.5"/><circle cx="13.7" cy="-0.8" r="1.5"/><circle cx="13.7" cy="39.2" r="1.5"/><circle cx="24.1" cy="4.6" r="1.5"/><circle cx="-1.4" cy="22" r="1.5"/><circle cx="38.6" cy="22" r="1.5"/><circle cx="23.1" cy="-1.1" r="1.5"/><circle cx="23.1" cy="38.9" r="1.5"/><circle cx="33.1" cy="36.1" r="1.5"/><circle cx="2.5" cy="16.5" r="1.5"/><circle cx="13" cy="11.3" r="1.5"/><circle cx="9.4" cy="28.8" r="1.5"/><circle cx="14.4" cy="18.1" r="1.5"/><circle cx="35.9" cy="17.3" r="1.5"/><circle cx="19.7" cy="33.2" r="1.5"/><circle cx="30.1" cy="31.3" r="1.5"/><circle cx="10.3" cy="3.5" r="1.5"/><circle cx="11.1" cy="34.8" r="1.5"/><circle cx="29.9" cy="20.6" r="1.5"/><circle cx="36.9" cy="8.7" r="1.5"/><circle cx="21.9" cy="2.3" r="1.5"/><circle cx="38.3" cy="31.7" r="1.5"/><circle cx="32.5" cy="5.9" r="1.5"/><circle cx="34.7" cy="25.4" r="1.5"/></g></pattern><pattern id="pb75" patternUnits="userSpaceOnUse" width="40" height="40"><g fill="#3a6ea9"><circle cx="0.3" cy="12.2" r="1.5"/><circle cx="40.3" cy="12.2" r="1.5"/><circle cx="33.7" cy="35.8" r="1.5"/><circle cx="7.4" cy="10.4" r="1.5"/><circle cx="26" cy="7.7" r="1.5"/><circle cx="11" cy="27.2" r="1.5"/><circle cx="12.2" cy="17" r="1.5"/><circle cx="22.1" cy="12.1" r="1.5"/><circle cx="13.8" cy="12.7" r="1.5"/><circle cx="37.9" cy="27.8" r="1.5"/><circle cx="20.3" cy="7.6" r="1.5"/><circle cx="22.4" cy="32.7" r="1.5"/><circle cx="3.8" cy="2.6" r="1.5"/><circle cx="6.2" cy="30.1" r="1.5"/><circle cx="32.5" cy="15.4" r="1.5"/><circle cx="34.7" cy="-0.2" r="1.5"/><circle cx="34.7" cy="39.8" r="1.5"/><circle cx="2.3" cy="4.4" r="1.5"/><circle cx="26.3" cy="27.7" r="1.5"/><circle cx="6.9" cy="21.4" r="1.5"/><circle cx="-0.5" cy="2.3" r="1.5"/><circle cx="39.5" cy="2.3" r="1.5"/><circle cx="1.5" cy="21.7" r="1.5"/><circle cx="41.5" cy="21.7" r="1.5"/><circle cx="29.6" cy="13.3" r="1.5"/><circle cx="30.9" cy="11.5" r="1.5"/><circle cx="24" cy="0.2" r="1.5"/><circle cx="24" cy="40.2" r="1.5"/><circle cx="26.2" cy="28.7" r="1.5"/><circle cx="15.9" cy="29.2" r="1.5"/><circle cx="1.6" cy="17" r="1.5"/><circle cx="11.4" cy="26.6" r="1.5"/><circle cx="37.3" cy="25.5" r="1.5"/><circle cx="14.1" cy="7.2" r="1.5"/><circle cx="16.3" cy="9.6" r="1.5"/><circle cx="12.9" cy="-0.7" r="1.5"/><circle cx="12.9" cy="39.3" r="1.5"/><circle cx="-1.5" cy="10.1" r="1.5"/><circle cx="38.5" cy="10.1" r="1.5"/><circle cx="3.6" cy="21.8" r="1.5"/><circle cx="25.9" cy="0.2" r="1.5"/><circle cx="25.9" cy="40.2" r="1.5"/><circle cx="4.8" cy="4.2" r="1.5"/><circle cx="26.6" cy="8.6" r="1.5"/><circle cx="19" cy="7.2" r="1.5"/><circle cx="32.9" cy="20.4" r="1.5"/><circle cx="8.4" cy="26.8" r="1.5"/><circle cx="20.8" cy="-0" r="1.5"/><circle cx="20.8" cy="40" r="1.5"/><circle cx="14" cy="35.5" r="1.5"/><circle cx="27.8" cy="36.5" r="1.5"/><circle cx="19.3" cy="22.4" r="1.5"/><circle cx="33.4" cy="9.6" r="1.5"/><circle cx="30.8" cy="19.6" r="1.5"/><circle cx="32.8" cy="26.7" r="1.5"/><circle cx="20.1" cy="34.7" r="1.5"/><circle cx="28.9" cy="13.8" r="1.5"/><circle cx="7.1" cy="0.7" r="1.5"/><circle cx="7.1" cy="40.7" r="1.5"/><circle cx="7" cy="2.8" r="1.5"/><circle cx="25" cy="1.5" r="1.5"/><circle cx="25" cy="41.5" r="1.5"/><circle cx="29.3" cy="38.4" r="1.5"/><circle cx="29.2" cy="22.9" r="1.5"/><circle cx="-0.8" cy="-1.2" r="1.5"/><circle cx="-0.8" cy="38.8" r="1.5"/><circle cx="39.2" cy="-1.2" r="1.5"/><circle cx="39.2" cy="38.8" r="1.5"/><circle cx="2" cy="35.8" r="1.5"/><circle cx="32.8" cy="12.6" r="1.5"/><circle cx="36.8" cy="7.7" r="1.5"/><circle cx="22.6" cy="26.9" r="1.5"/><circle cx="33.6" cy="0.1" r="1.5"/><circle cx="33.6" cy="40.1" r="1.5"/><circle cx="23.4" cy="7" r="1.5"/><circle cx="34.4" cy="25.9" r="1.5"/><circle cx="31.5" cy="35.9" r="1.5"/><circle cx="10.6" cy="22.9" r="1.5"/><circle cx="18.5" cy="17.1" r="1.5"/><circle cx="29" cy="15.6" r="1.5"/><circle cx="18.6" cy="16.9" r="1.5"/><circle cx="8" cy="19.6" r="1.5"/><circle cx="26.3" cy="10.6" r="1.5"/><circle cx="15.7" cy="18.3" r="1.5"/><circle cx="1.7" cy="29.5" r="1.5"/><circle cx="31.9" cy="28.7" r="1.5"/><circle cx="19.4" cy="28" r="1.5"/><circle cx="18.1" cy="29" r="1.5"/><circle cx="20.1" cy="9.7" r="1.5"/><circle cx="28.4" cy="29.1" r="1.5"/><circle cx="-1" cy="35.1" r="1.5"/><circle cx="39" cy="35.1" r="1.5"/><circle cx="33.8" cy="1.1" r="1.5"/><circle cx="33.8" cy="41.1" r="1.5"/><circle cx="11.4" cy="35.4" r="1.5"/><circle cx="-0.3" cy="25" r="1.5"/><circle cx="39.7" cy="25" r="1.5"/><circle cx="9.4" cy="1.7" r="1.5"/><circle cx="35.2" cy="35.6" r="1.5"/><circle cx="2.5" cy="13.6" r="1.5"/><circle cx="21.1" cy="18.7" r="1.5"/><circle cx="33.9" cy="20.7" r="1.5"/><circle cx="38.3" cy="7.6" r="1.5"/><circle cx="6.5" cy="15.7" r="1.5"/><circle cx="31.3" cy="37.2" r="1.5"/><circle cx="4.2" cy="22.5" r="1.5"/><circle cx="2.3" cy="8.2" r="1.5"/><circle cx="5.8" cy="14" r="1.5"/><circle cx="6.3" cy="25.5" r="1.5"/><circle cx="31.3" cy="17.1" r="1.5"/><circle cx="18.1" cy="8.2" r="1.5"/><circle cx="2.9" cy="18" r="1.5"/><circle cx="32.5" cy="5.3" r="1.5"/><circle cx="37.2" cy="16.3" r="1.5"/><circle cx="17.7" cy="17.2" r="1.5"/><circle cx="12.7" cy="34.2" r="1.5"/><circle cx="10.5" cy="22.7" r="1.5"/><circle cx="19.5" cy="4.8" r="1.5"/><circle cx="28.5" cy="-1.4" r="1.5"/><circle cx="28.5" cy="38.6" r="1.5"/><circle cx="2.8" cy="12.8" r="1.5"/><circle cx="36.8" cy="24.8" r="1.5"/><circle cx="9.5" cy="14.7" r="1.5"/><circle cx="17.3" cy="35.2" r="1.5"/><circle cx="37.8" cy="23.4" r="1.5"/><circle cx="20.3" cy="35.3" r="1.5"/><circle cx="32.4" cy="2.4" r="1.5"/><circle cx="1" cy="36.3" r="1.5"/><circle cx="41" cy="36.3" r="1.5"/><circle cx="30.7" cy="-1.5" r="1.5"/><circle cx="30.7" cy="38.5" r="1.5"/><circle cx="20.5" cy="20.6" r="1.5"/><circle cx="32.6" cy="27.3" r="1.5"/><circle cx="26" cy="9.9" r="1.5"/><circle cx="20" cy="8.1" r="1.5"/><circle cx="2.6" cy="21.5" r="1.5"/><circle cx="6.2" cy="5" r="1.5"/><circle cx="15.4" cy="35.7" r="1.5"/><circle cx="11.8" cy="17.7" r="1.5"/><circle cx="18.6" cy="17.7" r="1.5"/><circle cx="37.5" cy="2" r="1.5"/><circle cx="30.9" cy="12.9" r="1.5"/><circle cx="14.4" cy="31.5" r="1.5"/><circle cx="6.9" cy="29.6" r="1.5"/><circle cx="24.9" cy="13.9" r="1.5"/><circle cx="33.6" cy="30.5" r="1.5"/><circle cx="11.5" cy="9.6" r="1.5"/><circle cx="27" cy="2.6" r="1.5"/><circle cx="4.1" cy="26.5" r="1.5"/><circle cx="-1.2" cy="25.6" r="1.5"/><circle cx="38.8" cy="25.6" r="1.5"/><circle cx="37.9" cy="9.2" r="1.5"/><circle cx="2.2" cy="35.3" r="1.5"/><circle cx="30.3" cy="37.4" r="1.5"/><circle cx="32.9" cy="29.8" r="1.5"/><circle cx="9.1" cy="4.2" r="1.5"/><circle cx="30" cy="14.6" r="1.5"/><circle cx="33.8" cy="12.4" r="1.5"/><circle cx="24.5" cy="20.3" r="1.5"/><circle cx="3.7" cy="5.5" r="1.5"/><circle cx="31.3" cy="6.9" r="1.5"/><circle cx="1.2" cy="30.9" r="1.5"/><circle cx="41.2" cy="30.9" r="1.5"/><circle cx="10.5" cy="29.6" r="1.5"/><circle cx="12.1" cy="24.6" r="1.5"/><circle cx="36.9" cy="3.9" r="1.5"/><circle cx="16.8" cy="-0.2" r="1.5"/><circle cx="16.8" cy="39.8" r="1.5"/><circle cx="26.2" cy="30.1" r="1.5"/><circle cx="6.1" cy="16.1" r="1.5"/><circle cx="37.3" cy="24.5" r="1.5"/><circle cx="5.2" cy="7.2" r="1.5"/><circle cx="11.2" cy="6.3" r="1.5"/><circle cx="16" cy="9.7" r="1.5"/><circle cx="-0.1" cy="29.3" r="1.5"/><circle cx="39.9" cy="29.3" r="1.5"/><circle cx="31.7" cy="2" r="1.5"/><circle cx="14" cy="18.4" r="1.5"/><circle cx="1.4" cy="17.5" r="1.5"/><circle cx="41.4" cy="17.5" r="1.5"/><circle cx="13" cy="6.3" r="1.5"/><circle cx="19.8" cy="11.9" r="1.5"/><circle cx="1.5" cy="24.3" r="1.5"/><circle cx="41.5" cy="24.3" r="1.5"/><circle cx="9.7" cy="28.3" r="1.5"/><circle cx="7.5" cy="15.1" r="1.5"/><circle cx="29.9" cy="1.2" r="1.5"/><circle cx="29.9" cy="41.2" r="1.5"/><circle cx="23.4" cy="0" r="1.5"/><circle cx="23.4" cy="40" r="1.5"/><circle cx="-0.8" cy="24" r="1.5"/><circle cx="39.2" cy="24" r="1.5"/><circle cx="-1.3" cy="7.6" r="1.5"/><circle cx="38.7" cy="7.6" r="1.5"/><circle cx="16.8" cy="11.5" r="1.5"/><circle cx="30.7" cy="37.5" r="1.5"/><circle cx="21.8" cy="31.8" r="1.5"/><circle cx="6.4" cy="27.6" r="1.5"/><circle cx="8.4" cy="21.1" r="1.5"/><circle cx="31.3" cy="-1.3" r="1.5"/><circle cx="31.3" cy="38.7" r="1.5"/><circle cx="29" cy="32.8" r="1.5"/><circle cx="16.6" cy="10.8" r="1.5"/><circle cx="37.8" cy="16.6" r="1.5"/><circle cx="23.4" cy="20.2" r="1.5"/><circle cx="7.7" cy="14" r="1.5"/><circle cx="0" cy="37.8" r="1.5"/><circle cx="40" cy="37.8" r="1.5"/><circle cx="24.7" cy="20.1" r="1.5"/><circle cx="36.6" cy="15.3" r="1.5"/><circle cx="13" cy="37.9" r="1.5"/><circle cx="34.6" cy="21.9" r="1.5"/><circle cx="24.1" cy="3.9" r="1.5"/><circle cx="23.2" cy="4.2" r="1.5"/><circle cx="25.1" cy="25.2" r="1.5"/><circle cx="29.4" cy="35.6" r="1.5"/><circle cx="32.6" cy="8.4" r="1.5"/><circle cx="-0.9" cy="22.9" r="1.5"/><circle cx="39.1" cy="22.9" r="1.5"/><circle cx="2.7" cy="3.7" r="1.5"/><circle cx="13.3" cy="5.9" r="1.5"/><circle cx="3.7" cy="2.7" r="1.5"/><circle cx="9.9" cy="30.2" r="1.5"/><circle cx="31.7" cy="30.3" r="1.5"/><circle cx="25.8" cy="14.5" r="1.5"/><circle cx="34.6" cy="22.4" r="1.5"/><circle cx="1.8" cy="35.1" r="1.5"/><circle cx="23.1" cy="3.2" r="1.5"/><circle cx="24.8" cy="15.5" r="1.5"/><circle cx="19" cy="29" r="1.5"/><circle cx="12.7" cy="20.3" r="1.5"/><circle cx="28.8" cy="9.5" r="1.5"/><circle cx="12.4" cy="7.8" r="1.5"/><circle cx="9.1" cy="34.8" r="1.5"/><circle cx="13.8" cy="32.5" r="1.5"/><circle cx="2.7" cy="31.5" r="1.5"/><circle cx="1.3" cy="9.1" r="1.5"/><circle cx="41.3" cy="9.1" r="1.5"/><circle cx="18.5" cy="34.3" r="1.5"/><circle cx="30.4" cy="11.9" r="1.5"/><circle cx="31.8" cy="15" r="1.5"/><circle cx="35.6" cy="22.3" r="1.5"/><circle cx="19.5" cy="2.3" r="1.5"/><circle cx="28.1" cy="15" r="1.5"/><circle cx="7.4" cy="21.6" r="1.5"/><circle cx="3.2" cy="16.3" r="1.5"/><circle cx="18.4" cy="9.4" r="1.5"/><circle cx="-1.1" cy="17.8" r="1.5"/><circle cx="38.9" cy="17.8" r="1.5"/><circle cx="10.8" cy="25.3" r="1.5"/><circle cx="12.7" cy="6" r="1.5"/><circle cx="17.9" cy="33.5" r="1.5"/><circle cx="6.3" cy="9.9" r="1.5"/><circle cx="34.6" cy="6.9" r="1.5"/><circle cx="37.2" cy="5.7" r="1.5"/><circle cx="28" cy="32.9" r="1.5"/><circle cx="0.7" cy="2.4" r="1.5"/><circle cx="40.7" cy="2.4" r="1.5"/><circle cx="14.1" cy="27.6" r="1.5"/><circle cx="30.2" cy="30.3" r="1.5"/><circle cx="19.4" cy="23.5" r="1.5"/><circle cx="28" cy="19.5" r="1.5"/><circle cx="6.7" cy="17.7" r="1.5"/><circle cx="14.8" cy="25.1" r="1.5"/><circle cx="8.5" cy="18.1" r="1.5"/><circle cx="14.9" cy="28.2" r="1.5"/><circle cx="35.2" cy="4.6" r="1.5"/><circle cx="4.6" cy="22.2" r="1.5"/><circle cx="6.1" cy="35" r="1.5"/><circle cx="24.5" cy="19.1" r="1.5"/><circle cx="30.2" cy="22.2" r="1.5"/><circle cx="4.2" cy="35.7" r="1.5"/><circle cx="0.1" cy="28.2" r="1.5"/><circle cx="40.1" cy="28.2" r="1.5"/><circle cx="25.3" cy="27" r="1.5"/><circle cx="25.6" cy="25.1" r="1.5"/><circle cx="6.4" cy="27.4" r="1.5"/><circle cx="12.6" cy="21.1" r="1.5"/><circle cx="23.2" cy="24" r="1.5"/><circle cx="6.8" cy="33.2" r="1.5"/><circle cx="31.1" cy="4.4" r="1.5"/><circle cx="37.7" cy="27.4" r="1.5"/><circle cx="-0.9" cy="36.4" r="1.5"/><circle cx="39.1" cy="36.4" r="1.5"/><circle cx="35.2" cy="38.4" r="1.5"/><circle cx="35.9" cy="15.4" r="1.5"/><circle cx="10.8" cy="30.3" r="1.5"/><circle cx="15.6" cy="21.5" r="1.5"/><circle cx="12.4" cy="9.4" r="1.5"/><circle cx="29.4" cy="34.9" r="1.5"/><circle cx="-0.7" cy="31.3" r="1.5"/><circle cx="39.3" cy="31.3" r="1.5"/><circle cx="33.5" cy="9.1" r="1.5"/><circle cx="29.1" cy="2.7" r="1.5"/><circle cx="19.6" cy="-1.3" r="1.5"/><circle cx="19.6" cy="38.7" r="1.5"/><circle cx="36.4" cy="3.3" r="1.5"/><circle cx="16" cy="21" r="1.5"/><circle cx="34.1" cy="14.8" r="1.5"/><circle cx="28.5" cy="19.4" r="1.5"/><circle cx="26.7" cy="14.8" r="1.5"/><circle cx="4.2" cy="8" r="1.5"/><circle cx="17.6" cy="32.4" r="1.5"/><circle cx="20.2" cy="37.4" r="1.5"/><circle cx="0.5" cy="-0.3" r="1.5"/><circle cx="0.5" cy="39.7" r="1.5"/><circle cx="40.5" cy="-0.3" r="1.5"/><circle cx="40.5" cy="39.7" r="1.5"/><circle cx="28" cy="32.5" r="1.5"/><circle cx="9.3" cy="35.1" r="1.5"/><circle cx="16.7" cy="33.4" r="1.5"/><circle cx="6.5" cy="31.8" r="1.5"/><circle cx="21.6" cy="38.4" r="1.5"/><circle cx="1.6" cy="27.6" r="1.5"/><circle cx="19.8" cy="25.2" r="1.5"/><circle cx="20.1" cy="20" r="1.5"/><circle cx="26.9" cy="22.9" r="1.5"/><circle cx="38" cy="18.7" r="1.5"/><circle cx="23.8" cy="12.8" r="1.5"/><circle cx="10.8" cy="26.4" r="1.5"/><circle cx="26.8" cy="15.7" r="1.5"/><circle cx="18.5" cy="30.5" r="1.5"/><circle cx="5.9" cy="6.1" r="1.5"/><circle cx="33" cy="32.2" r="1.5"/><circle cx="26.5" cy="10.9" r="1.5"/><circle cx="15.9" cy="17" r="1.5"/><circle cx="30.4" cy="26.8" r="1.5"/><circle cx="5.3" cy="24.2" r="1.5"/><circle cx="10.4" cy="13.3" r="1.5"/><circle cx="30.9" cy="31.3" r="1.5"/><circle cx="17" cy="1.1" r="1.5"/><circle cx="17" cy="41.1" r="1.5"/><circle cx="23.9" cy="10" r="1.5"/><circle cx="18.6" cy="27" r="1.5"/><circle cx="1.4" cy="31.8" r="1.5"/><circle cx="41.4" cy="31.8" r="1.5"/><circle cx="14.4" cy="31.7" r="1.5"/><circle cx="21.1" cy="25.5" r="1.5"/><circle cx="13.4" cy="23.1" r="1.5"/><circle cx="13.4" cy="25.3" r="1.5"/><circle cx="35.7" cy="19.8" r="1.5"/><circle cx="5.4" cy="16.6" r="1.5"/><circle cx="25.8" cy="36.7" r="1.5"/><circle cx="29.6" cy="27" r="1.5"/><circle cx="22.3" cy="29.5" r="1.5"/><circle cx="14.8" cy="2.9" r="1.5"/><circle cx="34.3" cy="24.1" r="1.5"/><circle cx="1" cy="34.9" r="1.5"/><circle cx="41" cy="34.9" r="1.5"/><circle cx="30.9" cy="15.1" r="1.5"/><circle cx="4.5" cy="20.6" r="1.5"/><circle cx="13.8" cy="8.6" r="1.5"/><circle cx="4.6" cy="29.1" r="1.5"/><circle cx="35.2" cy="8.3" r="1.5"/><circle cx="17.9" cy="38.4" r="1.5"/><circle cx="22.3" cy="3.9" r="1.5"/><circle cx="4.6" cy="36.1" r="1.5"/><circle cx="28.2" cy="27.2" r="1.5"/><circle cx="37.7" cy="29.1" r="1.5"/><circle cx="26.2" cy="18.2" r="1.5"/><circle cx="3.1" cy="23.1" r="1.5"/><circle cx="23.2" cy="28.7" r="1.5"/><circle cx="21.7" cy="26.8" r="1.5"/><circle cx="36.7" cy="25.5" r="1.5"/><circle cx="29.1" cy="34.6" r="1.5"/><circle cx="4.8" cy="6.9" r="1.5"/><circle cx="27.6" cy="12.3" r="1.5"/><circle cx="31.1" cy="26.7" r="1.5"/><circle cx="6.6" cy="3.3" r="1.5"/><circle cx="28.1" cy="11.7" r="1.5"/><circle cx="34.1" cy="35.8" r="1.5"/><circle cx="20.8" cy="10.3" r="1.5"/><circle cx="15.4" cy="36.4" r="1.5"/><circle cx="27.2" cy="1.7" r="1.5"/><circle cx="20.6" cy="12.6" r="1.5"/><circle cx="7.5" cy="-1.2" r="1.5"/><circle cx="7.5" cy="38.8" r="1.5"/><circle cx="24.2" cy="20.9" r="1.5"/><circle cx="21.7" cy="11.3" r="1.5"/><circle cx="31" cy="24.6" r="1.5"/><circle cx="3.6" cy="18.6" r="1.5"/><circle cx="12.4" cy="30.2" r="1.5"/><circle cx="10.2" cy="33" r="1.5"/><circle cx="36.2" cy="12.9" r="1.5"/><circle cx="23.9" cy="29.5" r="1.5"/><circle cx="7.5" cy="17.8" r="1.5"/><circle cx="29.8" cy="12.7" r="1.5"/><circle cx="23.8" cy="29" r="1.5"/><circle cx="11.5" cy="16.5" r="1.5"/><circle cx="31" cy="36.5" r="1.5"/><circle cx="25.6" cy="21.3" r="1.5"/><circle cx="28.2" cy="23.3" r="1.5"/><circle cx="24.7" cy="35.8" r="1.5"/><circle cx="23" cy="35.9" r="1.5"/><circle cx="28.1" cy="2.6" r="1.5"/><circle cx="2.3" cy="12.5" r="1.5"/><circle cx="6.1" cy="17.2" r="1.5"/><circle cx="0.7" cy="30.2" r="1.5"/><circle cx="40.7" cy="30.2" r="1.5"/><circle cx="36.9" cy="6.4" r="1.5"/><circle cx="35.4" cy="8.1" r="1.5"/><circle cx="12.2" cy="26.6" r="1.5"/><circle cx="25.9" cy="16.6" r="1.5"/><circle cx="22.4" cy="21.6" r="1.5"/><circle cx="26.9" cy="28.3" r="1.5"/><circle cx="7.8" cy="30.3" r="1.5"/><circle cx="36.2" cy="34.2" r="1.5"/><circle cx="19.2" cy="12" r="1.5"/><circle cx="33.1" cy="8.5" r="1.5"/><circle cx="6.9" cy="23.8" r="1.5"/><circle cx="26" cy="6.3" r="1.5"/><circle cx="15.9" cy="-1.2" r="1.5"/><circle cx="15.9" cy="38.8" r="1.5"/><circle cx="8.2" cy="8.8" r="1.5"/><circle cx="0.3" cy="19.1" r="1.5"/><circle cx="40.3" cy="19.1" r="1.5"/><circle cx="16.6" cy="22.2" r="1.5"/><circle cx="32.4" cy="9" r="1.5"/><circle cx="25.6" cy="11.3" r="1.5"/><circle cx="16.4" cy="25.3" r="1.5"/><circle cx="0.1" cy="4.2" r="1.5"/><circle cx="40.1" cy="4.2" r="1.5"/><circle cx="23.3" cy="34.5" r="1.5"/><circle cx="34.5" cy="33.3" r="1.5"/><circle cx="13.9" cy="4.7" r="1.5"/><circle cx="36.3" cy="34.9" r="1.5"/><circle cx="38.4" cy="5.8" r="1.5"/><circle cx="6.2" cy="16.5" r="1.5"/><circle cx="19.7" cy="19.2" r="1.5"/><circle cx="5.8" cy="6.5" r="1.5"/><circle cx="13.1" cy="37.9" r="1.5"/><circle cx="32.7" cy="4" r="1.5"/><circle cx="34.1" cy="27.8" r="1.5"/><circle cx="16" cy="9.2" r="1.5"/><circle cx="2.9" cy="37.4" r="1.5"/><circle cx="4.4" cy="3.9" r="1.5"/><circle cx="30.2" cy="29.5" r="1.5"/><circle cx="25.1" cy="11.3" r="1.5"/><circle cx="-1.2" cy="17.2" r="1.5"/><circle cx="38.8" cy="17.2" r="1.5"/><circle cx="17.2" cy="6.2" r="1.5"/><circle cx="19.9" cy="0.1" r="1.5"/><circle cx="19.9" cy="40.1" r="1.5"/><circle cx="7.8" cy="5.1" r="1.5"/><circle cx="9.5" cy="25.9" r="1.5"/><circle cx="20.2" cy="32.9" r="1.5"/><circle cx="35.4" cy="22.2" r="1.5"/><circle cx="25.2" cy="35.5" r="1.5"/><circle cx="9.5" cy="9.4" r="1.5"/><circle cx="28.3" cy="20" r="1.5"/><circle cx="34.3" cy="0.6" r="1.5"/><circle cx="34.3" cy="40.6" r="1.5"/><circle cx="4.8" cy="4.4" r="1.5"/><circle cx="37.7" cy="-1.3" r="1.5"/><circle cx="37.7" cy="38.7" r="1.5"/><circle cx="17.9" cy="-0.8" r="1.5"/><circle cx="17.9" cy="39.2" r="1.5"/><circle cx="14.5" cy="9.9" r="1.5"/><circle cx="30.6" cy="3.9" r="1.5"/><circle cx="19.3" cy="29.8" r="1.5"/><circle cx="18.1" cy="17.4" r="1.5"/><circle cx="16.6" cy="32" r="1.5"/><circle cx="29.2" cy="34.2" r="1.5"/><circle cx="15.4" cy="16.2" r="1.5"/><circle cx="33.5" cy="34.3" r="1.5"/><circle cx="0.7" cy="7.9" r="1.5"/><circle cx="40.7" cy="7.9" r="1.5"/><circle cx="28.2" cy="19.3" r="1.5"/><circle cx="21.4" cy="32.5" r="1.5"/><circle cx="27.6" cy="19.8" r="1.5"/><circle cx="10.4" cy="24.6" r="1.5"/><circle cx="29.2" cy="6" r="1.5"/><circle cx="31.4" cy="5.3" r="1.5"/><circle cx="37.1" cy="32.2" r="1.5"/><circle cx="25.7" cy="21.2" r="1.5"/><circle cx="23.2" cy="13.6" r="1.5"/><circle cx="18.8" cy="20.2" r="1.5"/><circle cx="35.2" cy="6.7" r="1.5"/><circle cx="19.4" cy="32.6" r="1.5"/><circle cx="38.4" cy="16.6" r="1.5"/><circle cx="11" cy="17.1" r="1.5"/><circle cx="-1.5" cy="23.4" r="1.5"/><circle cx="38.5" cy="23.4" r="1.5"/><circle cx="31.1" cy="8.8" r="1.5"/><circle cx="14.4" cy="17.1" r="1.5"/><circle cx="0.9" cy="-0.9" r="1.5"/><circle cx="0.9" cy="39.1" r="1.5"/><circle cx="40.9" cy="-0.9" r="1.5"/><circle cx="40.9" cy="39.1" r="1.5"/><circle cx="18.1" cy="-0.2" r="1.5"/><circle cx="18.1" cy="39.8" r="1.5"/><circle cx="29.2" cy="-0" r="1.5"/><circle cx="29.2" cy="40" r="1.5"/></g></pattern><pattern id="pb55" patternUnits="userSpaceOnUse" width="40" height="40"><g fill="#3a6ea9"><circle cx="15.9" cy="3.4" r="1.5"/><circle cx="5.3" cy="19.3" r="1.5"/><circle cx="27.9" cy="6.3" r="1.5"/><circle cx="2.9" cy="2.7" r="1.5"/><circle cx="-0.6" cy="34.5" r="1.5"/><circle cx="39.4" cy="34.5" r="1.5"/><circle cx="6.1" cy="7.9" r="1.5"/><circle cx="9.5" cy="6.8" r="1.5"/><circle cx="15.1" cy="12.9" r="1.5"/><circle cx="33.4" cy="5.4" r="1.5"/><circle cx="29.2" cy="1.4" r="1.5"/><circle cx="29.2" cy="41.4" r="1.5"/><circle cx="22.7" cy="17.9" r="1.5"/><circle cx="36.1" cy="21.2" r="1.5"/><circle cx="38.1" cy="7.3" r="1.5"/><circle cx="37.1" cy="33.5" r="1.5"/><circle cx="34.1" cy="5.9" r="1.5"/><circle cx="20.2" cy="-0.1" r="1.5"/><circle cx="20.2" cy="39.9" r="1.5"/><circle cx="15.8" cy="32.3" r="1.5"/><circle cx="16.3" cy="28.8" r="1.5"/><circle cx="31.3" cy="7.7" r="1.5"/><circle cx="37.7" cy="21.5" r="1.5"/><circle cx="28.1" cy="37.7" r="1.5"/><circle cx="24.7" cy="18.2" r="1.5"/><circle cx="29.3" cy="22.6" r="1.5"/><circle cx="14.7" cy="35.9" r="1.5"/><circle cx="29.5" cy="16.2" r="1.5"/><circle cx="14.9" cy="32.1" r="1.5"/><circle cx="7.2" cy="15" r="1.5"/><circle cx="6.5" cy="30" r="1.5"/><circle cx="6.6" cy="14.5" r="1.5"/><circle cx="4.4" cy="19.1" r="1.5"/><circle cx="11.6" cy="31.6" r="1.5"/><circle cx="37.2" cy="37.5" r="1.5"/><circle cx="8.2" cy="37.3" r="1.5"/><circle cx="32.1" cy="26.6" r="1.5"/><circle cx="15.7" cy="30.6" r="1.5"/><circle cx="34.8" cy="33.2" r="1.5"/><circle cx="9.8" cy="29.8" r="1.5"/><circle cx="35.7" cy="20.1" r="1.5"/><circle cx="0.6" cy="37.2" r="1.5"/><circle cx="40.6" cy="37.2" r="1.5"/><circle cx="29.8" cy="23.6" r="1.5"/><circle cx="17.7" cy="30.7" r="1.5"/><circle cx="14.3" cy="28.8" r="1.5"/><circle cx="26.8" cy="20.6" r="1.5"/><circle cx="6.7" cy="16.2" r="1.5"/><circle cx="7.1" cy="28.7" r="1.5"/><circle cx="19.3" cy="10.4" r="1.5"/><circle cx="6.5" cy="13.9" r="1.5"/><circle cx="18.2" cy="2.6" r="1.5"/><circle cx="20.2" cy="4.8" r="1.5"/><circle cx="15.4" cy="36.9" r="1.5"/><circle cx="24.4" cy="7.9" r="1.5"/><circle cx="3.1" cy="-1.1" r="1.5"/><circle cx="3.1" cy="38.9" r="1.5"/><circle cx="16.4" cy="34.8" r="1.5"/><circle cx="14.5" cy="32" r="1.5"/><circle cx="11.9" cy="7.4" r="1.5"/><circle cx="18.5" cy="35.9" r="1.5"/><circle cx="-0.2" cy="26.2" r="1.5"/><circle cx="39.8" cy="26.2" r="1.5"/><circle cx="29.4" cy="9.5" r="1.5"/><circle cx="2.1" cy="22.2" r="1.5"/><circle cx="26.7" cy="21.7" r="1.5"/><circle cx="32.4" cy="15.5" r="1.5"/><circle cx="36.2" cy="15" r="1.5"/><circle cx="20.1" cy="18.1" r="1.5"/><circle cx="22.1" cy="14.1" r="1.5"/><circle cx="36.5" cy="24.9" r="1.5"/><circle cx="4.2" cy="23.7" r="1.5"/><circle cx="7.9" cy="26.8" r="1.5"/><circle cx="25.2" cy="15.9" r="1.5"/><circle cx="35.4" cy="24.5" r="1.5"/><circle cx="36.9" cy="2.9" r="1.5"/><circle cx="15.7" cy="36.6" r="1.5"/><circle cx="9.7" cy="27.9" r="1.5"/><circle cx="-1" cy="19.4" r="1.5"/><circle cx="39" cy="19.4" r="1.5"/><circle cx="22.7" cy="3" r="1.5"/><circle cx="30.7" cy="9.6" r="1.5"/><circle cx="14.1" cy="8" r="1.5"/><circle cx="9.9" cy="17.4" r="1.5"/><circle cx="-0.8" cy="16.5" r="1.5"/><circle cx="39.2" cy="16.5" r="1.5"/><circle cx="30.4" cy="12.8" r="1.5"/><circle cx="28.8" cy="3.4" r="1.5"/><circle cx="5.9" cy="10.9" r="1.5"/><circle cx="8.1" cy="4.7" r="1.5"/><circle cx="19.7" cy="24.2" r="1.5"/><circle cx="29.2" cy="28.7" r="1.5"/><circle cx="-0.7" cy="35.5" r="1.5"/><circle cx="39.3" cy="35.5" r="1.5"/><circle cx="27.6" cy="9.2" r="1.5"/><circle cx="14.1" cy="34.4" r="1.5"/><circle cx="37.9" cy="35.6" r="1.5"/><circle cx="20.8" cy="7" r="1.5"/><circle cx="0.5" cy="31.3" r="1.5"/><circle cx="40.5" cy="31.3" r="1.5"/><circle cx="21.1" cy="33.1" r="1.5"/><circle cx="17.6" cy="30.7" r="1.5"/><circle cx="36.8" cy="22.7" r="1.5"/><circle cx="36.1" cy="27.8" r="1.5"/><circle cx="21.2" cy="24.5" r="1.5"/><circle cx="17" cy="29.2" r="1.5"/><circle cx="5.6" cy="33.5" r="1.5"/><circle cx="5" cy="31.3" r="1.5"/><circle cx="7.1" cy="24.1" r="1.5"/><circle cx="28.6" cy="19.2" r="1.5"/><circle cx="29.4" cy="37.5" r="1.5"/><circle cx="8.2" cy="32" r="1.5"/><circle cx="15.1" cy="20.2" r="1.5"/><circle cx="9.6" cy="29.1" r="1.5"/><circle cx="6.5" cy="13.8" r="1.5"/><circle cx="29.4" cy="19.3" r="1.5"/><circle cx="32.4" cy="14" r="1.5"/><circle cx="1" cy="27.5" r="1.5"/><circle cx="41" cy="27.5" r="1.5"/><circle cx="13.5" cy="15.2" r="1.5"/><circle cx="30.6" cy="24.5" r="1.5"/><circle cx="24.1" cy="9.4" r="1.5"/><circle cx="32.8" cy="36.9" r="1.5"/><circle cx="19.5" cy="11" r="1.5"/><circle cx="31.5" cy="32.4" r="1.5"/><circle cx="17.7" cy="29.4" r="1.5"/><circle cx="21.6" cy="31.6" r="1.5"/><circle cx="26" cy="7.6" r="1.5"/><circle cx="11.4" cy="28.1" r="1.5"/><circle cx="30.7" cy="23.6" r="1.5"/><circle cx="11.1" cy="27.6" r="1.5"/><circle cx="36.2" cy="32.6" r="1.5"/><circle cx="1.1" cy="24.9" r="1.5"/><circle cx="41.1" cy="24.9" r="1.5"/><circle cx="18.6" cy="18.4" r="1.5"/><circle cx="26.3" cy="34.6" r="1.5"/><circle cx="6.2" cy="13.2" r="1.5"/><circle cx="-0.4" cy="15.7" r="1.5"/><circle cx="39.6" cy="15.7" r="1.5"/><circle cx="7.4" cy="4.9" r="1.5"/><circle cx="22.1" cy="9.9" r="1.5"/><circle cx="16.4" cy="23.8" r="1.5"/><circle cx="26.5" cy="6.8" r="1.5"/><circle cx="10.7" cy="25.1" r="1.5"/><circle cx="24.6" cy="29" r="1.5"/><circle cx="26.6" cy="18.6" r="1.5"/><circle cx="6.4" cy="14.6" r="1.5"/><circle cx="28.5" cy="26.9" r="1.5"/><circle cx="24.4" cy="1.5" r="1.5"/><circle cx="22" cy="30" r="1.5"/><circle cx="5.7" cy="1.9" r="1.5"/><circle cx="6.2" cy="19.1" r="1.5"/><circle cx="8.2" cy="11.3" r="1.5"/><circle cx="23.7" cy="16.5" r="1.5"/><circle cx="11.4" cy="32" r="1.5"/><circle cx="14.4" cy="10" r="1.5"/><circle cx="1.6" cy="20.9" r="1.5"/><circle cx="34" cy="-0" r="1.5"/><circle cx="34" cy="40" r="1.5"/><circle cx="36.2" cy="31.4" r="1.5"/><circle cx="14.3" cy="13.4" r="1.5"/><circle cx="0.7" cy="0.1" r="1.5"/><circle cx="0.7" cy="40.1" r="1.5"/><circle cx="40.7" cy="0.1" r="1.5"/><circle cx="40.7" cy="40.1" r="1.5"/><circle cx="21.9" cy="13.1" r="1.5"/><circle cx="14" cy="5.4" r="1.5"/><circle cx="20.6" cy="36.4" r="1.5"/><circle cx="19.7" cy="16.1" r="1.5"/><circle cx="9.8" cy="14.8" r="1.5"/><circle cx="7.7" cy="6.1" r="1.5"/><circle cx="12.2" cy="15.9" r="1.5"/><circle cx="31.9" cy="15.7" r="1.5"/><circle cx="37.7" cy="16.1" r="1.5"/><circle cx="17.1" cy="13.3" r="1.5"/><circle cx="2.8" cy="20.3" r="1.5"/><circle cx="10.8" cy="38.1" r="1.5"/><circle cx="8.4" cy="20.4" r="1.5"/><circle cx="7.3" cy="28.8" r="1.5"/><circle cx="0.4" cy="32.7" r="1.5"/><circle cx="40.4" cy="32.7" r="1.5"/><circle cx="4.7" cy="2.8" r="1.5"/><circle cx="13.3" cy="32" r="1.5"/><circle cx="30.6" cy="27" r="1.5"/><circle cx="26.8" cy="20.3" r="1.5"/><circle cx="33.8" cy="24.8" r="1.5"/><circle cx="2.3" cy="1" r="1.5"/><circle cx="2.3" cy="41" r="1.5"/><circle cx="26.2" cy="36.7" r="1.5"/><circle cx="35" cy="6.1" r="1.5"/><circle cx="30.5" cy="33.4" r="1.5"/><circle cx="13.6" cy="17.9" r="1.5"/><circle cx="11.4" cy="17.9" r="1.5"/><circle cx="27.8" cy="32.7" r="1.5"/><circle cx="25.2" cy="36.1" r="1.5"/><circle cx="26.9" cy="38" r="1.5"/><circle cx="35.4" cy="8" r="1.5"/><circle cx="5" cy="33.7" r="1.5"/><circle cx="35.6" cy="17" r="1.5"/><circle cx="36.9" cy="34.6" r="1.5"/><circle cx="6.8" cy="24.6" r="1.5"/><circle cx="9.3" cy="18.8" r="1.5"/><circle cx="37.3" cy="33.6" r="1.5"/><circle cx="23.6" cy="14.8" r="1.5"/><circle cx="19.6" cy="30.2" r="1.5"/><circle cx="26.3" cy="20.3" r="1.5"/><circle cx="-0.5" cy="16.1" r="1.5"/><circle cx="39.5" cy="16.1" r="1.5"/><circle cx="9.9" cy="21.5" r="1.5"/><circle cx="0.4" cy="15.5" r="1.5"/><circle cx="40.4" cy="15.5" r="1.5"/><circle cx="4.7" cy="12.2" r="1.5"/><circle cx="1.5" cy="32" r="1.5"/><circle cx="41.5" cy="32" r="1.5"/><circle cx="27.5" cy="27.6" r="1.5"/><circle cx="18" cy="9.2" r="1.5"/><circle cx="4.1" cy="20" r="1.5"/><circle cx="6.6" cy="7.4" r="1.5"/><circle cx="16.8" cy="16.5" r="1.5"/><circle cx="24.7" cy="2.2" r="1.5"/><circle cx="4.6" cy="7.4" r="1.5"/><circle cx="28.7" cy="22.5" r="1.5"/><circle cx="14.5" cy="1.7" r="1.5"/><circle cx="2.4" cy="17.9" r="1.5"/><circle cx="25.1" cy="0.3" r="1.5"/><circle cx="25.1" cy="40.3" r="1.5"/><circle cx="29.7" cy="20.6" r="1.5"/><circle cx="29.9" cy="20.2" r="1.5"/><circle cx="24.4" cy="10.7" r="1.5"/><circle cx="4.2" cy="6.5" r="1.5"/><circle cx="28.5" cy="3.3" r="1.5"/><circle cx="11.8" cy="6.2" r="1.5"/><circle cx="11.9" cy="33.8" r="1.5"/><circle cx="33.2" cy="13.4" r="1.5"/><circle cx="7.7" cy="23.2" r="1.5"/><circle cx="18.3" cy="19.4" r="1.5"/><circle cx="3.7" cy="15.3" r="1.5"/><circle cx="28" cy="37.4" r="1.5"/><circle cx="4.6" cy="13.8" r="1.5"/><circle cx="32" cy="21.2" r="1.5"/><circle cx="15.8" cy="0.7" r="1.5"/><circle cx="15.8" cy="40.7" r="1.5"/><circle cx="34" cy="12.9" r="1.5"/><circle cx="31.8" cy="23.9" r="1.5"/><circle cx="17.4" cy="38.2" r="1.5"/><circle cx="24.9" cy="9.7" r="1.5"/><circle cx="2.8" cy="7.5" r="1.5"/><circle cx="37.5" cy="0.1" r="1.5"/><circle cx="37.5" cy="40.1" r="1.5"/><circle cx="9.9" cy="2.5" r="1.5"/><circle cx="0.2" cy="1.7" r="1.5"/><circle cx="40.2" cy="1.7" r="1.5"/><circle cx="6" cy="19.7" r="1.5"/><circle cx="5.6" cy="24.7" r="1.5"/><circle cx="-0.2" cy="18.1" r="1.5"/><circle cx="39.8" cy="18.1" r="1.5"/><circle cx="25.4" cy="7.3" r="1.5"/><circle cx="29.4" cy="36.3" r="1.5"/><circle cx="14.4" cy="29.1" r="1.5"/><circle cx="28.3" cy="35.9" r="1.5"/><circle cx="21.6" cy="14.8" r="1.5"/><circle cx="19.9" cy="31.4" r="1.5"/><circle cx="2.3" cy="3.2" r="1.5"/><circle cx="9.9" cy="22.3" r="1.5"/><circle cx="4" cy="30.7" r="1.5"/><circle cx="5.8" cy="28.4" r="1.5"/><circle cx="28.7" cy="31.3" r="1.5"/><circle cx="19.4" cy="3.6" r="1.5"/><circle cx="21.3" cy="6.4" r="1.5"/><circle cx="0.8" cy="31" r="1.5"/><circle cx="40.8" cy="31" r="1.5"/><circle cx="13.2" cy="2.9" r="1.5"/></g></pattern><pattern id="pb35" patternUnits="userSpaceOnUse" width="40" height="40"><g fill="#3a6ea9"><circle cx="30.6" cy="25.8" r="1.5"/><circle cx="7.9" cy="27.1" r="1.5"/><circle cx="17.1" cy="34" r="1.5"/><circle cx="21.1" cy="8.1" r="1.5"/><circle cx="24.5" cy="34.2" r="1.5"/><circle cx="34.8" cy="13.1" r="1.5"/><circle cx="18.6" cy="28.6" r="1.5"/><circle cx="1.5" cy="9.9" r="1.5"/><circle cx="41.5" cy="9.9" r="1.5"/><circle cx="18.9" cy="34.5" r="1.5"/><circle cx="1.8" cy="35.9" r="1.5"/><circle cx="30.8" cy="1.5" r="1.5"/><circle cx="7.1" cy="36.6" r="1.5"/><circle cx="5.1" cy="8.8" r="1.5"/><circle cx="7.9" cy="-0.7" r="1.5"/><circle cx="7.9" cy="39.3" r="1.5"/><circle cx="26" cy="7.7" r="1.5"/><circle cx="34.6" cy="-0.1" r="1.5"/><circle cx="34.6" cy="39.9" r="1.5"/><circle cx="14" cy="2.3" r="1.5"/><circle cx="15.4" cy="20.8" r="1.5"/><circle cx="14" cy="6.3" r="1.5"/><circle cx="14" cy="13.8" r="1.5"/><circle cx="23.5" cy="0.6" r="1.5"/><circle cx="23.5" cy="40.6" r="1.5"/><circle cx="-1.2" cy="15.6" r="1.5"/><circle cx="38.8" cy="15.6" r="1.5"/><circle cx="4.2" cy="36.7" r="1.5"/><circle cx="34.6" cy="27.1" r="1.5"/><circle cx="12.1" cy="26.2" r="1.5"/><circle cx="5.2" cy="7.4" r="1.5"/><circle cx="5.3" cy="2.2" r="1.5"/><circle cx="13.9" cy="26" r="1.5"/><circle cx="24.2" cy="1.1" r="1.5"/><circle cx="24.2" cy="41.1" r="1.5"/><circle cx="22.6" cy="6.3" r="1.5"/><circle cx="2.5" cy="26.1" r="1.5"/><circle cx="19.9" cy="0.3" r="1.5"/><circle cx="19.9" cy="40.3" r="1.5"/><circle cx="27.3" cy="31.7" r="1.5"/><circle cx="18.7" cy="1.5" r="1.5"/><circle cx="18.7" cy="41.5" r="1.5"/><circle cx="30.2" cy="20" r="1.5"/><circle cx="9.4" cy="26.6" r="1.5"/><circle cx="24.1" cy="2.9" r="1.5"/><circle cx="24.8" cy="9.4" r="1.5"/><circle cx="0.8" cy="16.7" r="1.5"/><circle cx="40.8" cy="16.7" r="1.5"/><circle cx="25.9" cy="20.2" r="1.5"/><circle cx="27.7" cy="20.4" r="1.5"/><circle cx="35" cy="22.6" r="1.5"/><circle cx="14.9" cy="6.1" r="1.5"/><circle cx="24.1" cy="21.5" r="1.5"/><circle cx="18" cy="15.4" r="1.5"/><circle cx="10.1" cy="38.5" r="1.5"/><circle cx="12" cy="19.7" r="1.5"/><circle cx="38" cy="28" r="1.5"/><circle cx="32.3" cy="14.7" r="1.5"/><circle cx="18.6" cy="2.1" r="1.5"/><circle cx="22.1" cy="31.5" r="1.5"/><circle cx="-0.9" cy="29.5" r="1.5"/><circle cx="39.1" cy="29.5" r="1.5"/><circle cx="9.1" cy="37.4" r="1.5"/><circle cx="25.4" cy="7.8" r="1.5"/><circle cx="7.9" cy="36.7" r="1.5"/><circle cx="28" cy="27.7" r="1.5"/><circle cx="11.6" cy="8.1" r="1.5"/><circle cx="5.6" cy="-0" r="1.5"/><circle cx="5.6" cy="40" r="1.5"/><circle cx="0.9" cy="12" r="1.5"/><circle cx="40.9" cy="12" r="1.5"/><circle cx="16.2" cy="5.6" r="1.5"/><circle cx="2" cy="22.9" r="1.5"/><circle cx="27.1" cy="5" r="1.5"/><circle cx="22.1" cy="13" r="1.5"/><circle cx="10.4" cy="30" r="1.5"/><circle cx="16.5" cy="28.2" r="1.5"/><circle cx="36.8" cy="29.7" r="1.5"/><circle cx="34" cy="25.1" r="1.5"/><circle cx="28.4" cy="36.6" r="1.5"/><circle cx="13.8" cy="29.4" r="1.5"/><circle cx="21" cy="28.6" r="1.5"/><circle cx="13.3" cy="8" r="1.5"/><circle cx="6.7" cy="17.9" r="1.5"/><circle cx="15.2" cy="17.3" r="1.5"/><circle cx="23.6" cy="21.6" r="1.5"/><circle cx="30" cy="14.7" r="1.5"/><circle cx="38.1" cy="33.3" r="1.5"/><circle cx="37.1" cy="26.6" r="1.5"/><circle cx="1.7" cy="9.9" r="1.5"/><circle cx="19.4" cy="0.2" r="1.5"/><circle cx="19.4" cy="40.2" r="1.5"/><circle cx="2.7" cy="33.5" r="1.5"/><circle cx="32" cy="32.4" r="1.5"/><circle cx="15.1" cy="20.7" r="1.5"/><circle cx="10.5" cy="0.9" r="1.5"/><circle cx="10.5" cy="40.9" r="1.5"/><circle cx="36.1" cy="28.8" r="1.5"/><circle cx="13.7" cy="17.5" r="1.5"/><circle cx="20.4" cy="33.5" r="1.5"/><circle cx="25.6" cy="25.9" r="1.5"/><circle cx="6.1" cy="4.7" r="1.5"/><circle cx="34.3" cy="35.3" r="1.5"/><circle cx="21.9" cy="24.8" r="1.5"/><circle cx="11.9" cy="19.4" r="1.5"/><circle cx="13.3" cy="14.6" r="1.5"/><circle cx="8.4" cy="19.5" r="1.5"/><circle cx="2.4" cy="20.7" r="1.5"/><circle cx="21" cy="-0.5" r="1.5"/><circle cx="21" cy="39.5" r="1.5"/><circle cx="25" cy="35" r="1.5"/><circle cx="30.8" cy="5.3" r="1.5"/><circle cx="30.4" cy="31.2" r="1.5"/><circle cx="1.8" cy="3.4" r="1.5"/><circle cx="2.6" cy="36.4" r="1.5"/><circle cx="9.3" cy="29" r="1.5"/><circle cx="34.4" cy="14.1" r="1.5"/><circle cx="33.5" cy="2.9" r="1.5"/><circle cx="15.2" cy="28.3" r="1.5"/><circle cx="16.9" cy="8.3" r="1.5"/><circle cx="16.8" cy="25.9" r="1.5"/><circle cx="22.3" cy="37.8" r="1.5"/><circle cx="9.5" cy="30.9" r="1.5"/><circle cx="20.4" cy="16.4" r="1.5"/><circle cx="13.2" cy="31.9" r="1.5"/><circle cx="10" cy="23.6" r="1.5"/><circle cx="6.3" cy="29.2" r="1.5"/><circle cx="10.4" cy="4.9" r="1.5"/><circle cx="26.2" cy="28.5" r="1.5"/><circle cx="24.1" cy="7.6" r="1.5"/><circle cx="5.4" cy="-0.7" r="1.5"/><circle cx="5.4" cy="39.3" r="1.5"/><circle cx="33.9" cy="15.3" r="1.5"/><circle cx="17.5" cy="37.7" r="1.5"/><circle cx="31" cy="2" r="1.5"/><circle cx="1.2" cy="24.3" r="1.5"/><circle cx="41.2" cy="24.3" r="1.5"/><circle cx="5.9" cy="19" r="1.5"/><circle cx="18.9" cy="24.7" r="1.5"/><circle cx="18.8" cy="16.9" r="1.5"/><circle cx="37.5" cy="10.9" r="1.5"/><circle cx="18.3" cy="12.7" r="1.5"/><circle cx="34.4" cy="7.1" r="1.5"/><circle cx="33.6" cy="34.6" r="1.5"/><circle cx="0.6" cy="27.9" r="1.5"/><circle cx="40.6" cy="27.9" r="1.5"/><circle cx="28.8" cy="4.6" r="1.5"/><circle cx="3.7" cy="23.6" r="1.5"/><circle cx="2.4" cy="34" r="1.5"/><circle cx="25.9" cy="13.9" r="1.5"/><circle cx="22.7" cy="9" r="1.5"/><circle cx="4.3" cy="6.4" r="1.5"/><circle cx="20.3" cy="23.8" r="1.5"/><circle cx="23" cy="17.2" r="1.5"/><circle cx="21.1" cy="19.5" r="1.5"/><circle cx="29.7" cy="2" r="1.5"/><circle cx="26.6" cy="-0.1" r="1.5"/><circle cx="26.6" cy="39.9" r="1.5"/></g></pattern><pattern id="pb20" patternUnits="userSpaceOnUse" width="40" height="40"><g fill="#3a6ea9"><circle cx="26" cy="28.4" r="1.5"/><circle cx="31.8" cy="8.4" r="1.5"/><circle cx="25.9" cy="32" r="1.5"/><circle cx="28.4" cy="6.2" r="1.5"/><circle cx="4.3" cy="5.5" r="1.5"/><circle cx="11" cy="34.8" r="1.5"/><circle cx="2.6" cy="29" r="1.5"/><circle cx="19.4" cy="24.3" r="1.5"/><circle cx="2.3" cy="25" r="1.5"/><circle cx="4.6" cy="-0.4" r="1.5"/><circle cx="4.6" cy="39.6" r="1.5"/><circle cx="32" cy="25.2" r="1.5"/><circle cx="21.8" cy="7.6" r="1.5"/><circle cx="29.9" cy="24" r="1.5"/><circle cx="23.7" cy="38" r="1.5"/><circle cx="34.3" cy="26.9" r="1.5"/><circle cx="21.3" cy="2.9" r="1.5"/><circle cx="15.7" cy="12.9" r="1.5"/><circle cx="19.9" cy="17.3" r="1.5"/><circle cx="28.6" cy="15.9" r="1.5"/><circle cx="9.4" cy="30.6" r="1.5"/><circle cx="22.7" cy="9.9" r="1.5"/><circle cx="33.6" cy="16.7" r="1.5"/><circle cx="15.8" cy="20.5" r="1.5"/><circle cx="1" cy="3.6" r="1.5"/><circle cx="41" cy="3.6" r="1.5"/><circle cx="24.5" cy="10" r="1.5"/><circle cx="18.3" cy="30" r="1.5"/><circle cx="25" cy="11.3" r="1.5"/><circle cx="19.5" cy="26.6" r="1.5"/><circle cx="19" cy="19.8" r="1.5"/><circle cx="32.8" cy="0.4" r="1.5"/><circle cx="32.8" cy="40.4" r="1.5"/><circle cx="5" cy="37.1" r="1.5"/><circle cx="20.4" cy="25.4" r="1.5"/><circle cx="3.3" cy="3.7" r="1.5"/><circle cx="24.5" cy="15.6" r="1.5"/><circle cx="35.7" cy="2" r="1.5"/><circle cx="36.5" cy="31.9" r="1.5"/><circle cx="20.8" cy="2.2" r="1.5"/><circle cx="1" cy="14.3" r="1.5"/><circle cx="41" cy="14.3" r="1.5"/><circle cx="33.5" cy="29" r="1.5"/><circle cx="34" cy="29.3" r="1.5"/><circle cx="4.1" cy="37.2" r="1.5"/><circle cx="8.8" cy="5.7" r="1.5"/><circle cx="6" cy="2.6" r="1.5"/><circle cx="24.2" cy="5.5" r="1.5"/><circle cx="14.1" cy="24.7" r="1.5"/><circle cx="29.8" cy="37.4" r="1.5"/><circle cx="15.6" cy="27.4" r="1.5"/><circle cx="31.3" cy="12.9" r="1.5"/><circle cx="11.3" cy="20.4" r="1.5"/><circle cx="36.1" cy="24.1" r="1.5"/><circle cx="38.3" cy="7" r="1.5"/><circle cx="28" cy="1.7" r="1.5"/><circle cx="33.4" cy="36.2" r="1.5"/><circle cx="13.4" cy="8.6" r="1.5"/><circle cx="33" cy="5.4" r="1.5"/><circle cx="16.5" cy="21" r="1.5"/><circle cx="23.3" cy="24" r="1.5"/><circle cx="24.4" cy="23.2" r="1.5"/><circle cx="29.1" cy="26.7" r="1.5"/><circle cx="27.4" cy="3.9" r="1.5"/><circle cx="5.7" cy="24.4" r="1.5"/><circle cx="2.9" cy="34.6" r="1.5"/><circle cx="8.9" cy="38.4" r="1.5"/><circle cx="-0.5" cy="4.4" r="1.5"/><circle cx="39.5" cy="4.4" r="1.5"/><circle cx="2.4" cy="11.1" r="1.5"/><circle cx="27.3" cy="20.7" r="1.5"/><circle cx="17.1" cy="19.9" r="1.5"/><circle cx="20.3" cy="23.4" r="1.5"/><circle cx="20" cy="0.6" r="1.5"/><circle cx="20" cy="40.6" r="1.5"/><circle cx="25.5" cy="7.5" r="1.5"/><circle cx="12" cy="31.5" r="1.5"/><circle cx="2.9" cy="31.4" r="1.5"/><circle cx="19.3" cy="4.5" r="1.5"/><circle cx="33.1" cy="28.7" r="1.5"/></g></pattern><pattern id="po35" patternUnits="userSpaceOnUse" width="40" height="40"><g fill="#f0805c"><circle cx="1.8" cy="36.8" r="1.5"/><circle cx="11.5" cy="3.4" r="1.5"/><circle cx="15" cy="27" r="1.5"/><circle cx="23.8" cy="33" r="1.5"/><circle cx="4.8" cy="31.8" r="1.5"/><circle cx="17.3" cy="6.1" r="1.5"/><circle cx="24.4" cy="16.4" r="1.5"/><circle cx="25.6" cy="32.6" r="1.5"/><circle cx="13.1" cy="2.3" r="1.5"/><circle cx="6.2" cy="12.6" r="1.5"/><circle cx="9.3" cy="30.3" r="1.5"/><circle cx="36.8" cy="6.7" r="1.5"/><circle cx="0.5" cy="27.6" r="1.5"/><circle cx="40.5" cy="27.6" r="1.5"/><circle cx="22.7" cy="23.2" r="1.5"/><circle cx="20.1" cy="21.2" r="1.5"/><circle cx="31.8" cy="1.2" r="1.5"/><circle cx="31.8" cy="41.2" r="1.5"/><circle cx="30.9" cy="19.8" r="1.5"/><circle cx="-0.7" cy="6.4" r="1.5"/><circle cx="39.3" cy="6.4" r="1.5"/><circle cx="4" cy="14.6" r="1.5"/><circle cx="32.7" cy="32.8" r="1.5"/><circle cx="32.1" cy="13.5" r="1.5"/><circle cx="20.7" cy="9.6" r="1.5"/><circle cx="20.1" cy="2.4" r="1.5"/><circle cx="3.4" cy="31" r="1.5"/><circle cx="13.1" cy="1.5" r="1.5"/><circle cx="6.9" cy="4.9" r="1.5"/><circle cx="19.5" cy="18.6" r="1.5"/><circle cx="8.6" cy="20.3" r="1.5"/><circle cx="38.2" cy="9.8" r="1.5"/><circle cx="14.7" cy="4" r="1.5"/><circle cx="8.3" cy="8.5" r="1.5"/><circle cx="0.6" cy="11.8" r="1.5"/><circle cx="40.6" cy="11.8" r="1.5"/><circle cx="2.7" cy="14.9" r="1.5"/><circle cx="30.7" cy="37.2" r="1.5"/><circle cx="-0.6" cy="7.5" r="1.5"/><circle cx="39.4" cy="7.5" r="1.5"/><circle cx="26.4" cy="25" r="1.5"/><circle cx="23.6" cy="35.3" r="1.5"/><circle cx="6.4" cy="30.3" r="1.5"/><circle cx="4.6" cy="10.8" r="1.5"/><circle cx="15.9" cy="18.6" r="1.5"/><circle cx="7.2" cy="24.1" r="1.5"/><circle cx="28.5" cy="6.8" r="1.5"/><circle cx="2.7" cy="9.5" r="1.5"/><circle cx="22.1" cy="16.2" r="1.5"/><circle cx="27.1" cy="18.8" r="1.5"/><circle cx="3" cy="8.7" r="1.5"/><circle cx="32" cy="13.2" r="1.5"/><circle cx="28.3" cy="6" r="1.5"/><circle cx="12.7" cy="31.5" r="1.5"/><circle cx="32.8" cy="35.3" r="1.5"/><circle cx="30.8" cy="28.9" r="1.5"/><circle cx="14.1" cy="20.2" r="1.5"/><circle cx="24.2" cy="24.7" r="1.5"/><circle cx="28.2" cy="27" r="1.5"/><circle cx="37.2" cy="31.4" r="1.5"/><circle cx="23.8" cy="19.3" r="1.5"/><circle cx="1.3" cy="1.5" r="1.5"/><circle cx="1.3" cy="41.5" r="1.5"/><circle cx="41.3" cy="1.5" r="1.5"/><circle cx="41.3" cy="41.5" r="1.5"/><circle cx="22.5" cy="9.4" r="1.5"/><circle cx="32.6" cy="34.6" r="1.5"/><circle cx="23" cy="27.6" r="1.5"/><circle cx="17.8" cy="18.5" r="1.5"/><circle cx="5.5" cy="-0" r="1.5"/><circle cx="5.5" cy="40" r="1.5"/><circle cx="-0.9" cy="13.3" r="1.5"/><circle cx="39.1" cy="13.3" r="1.5"/><circle cx="33.5" cy="31" r="1.5"/><circle cx="27.3" cy="29.8" r="1.5"/><circle cx="8.3" cy="0.2" r="1.5"/><circle cx="8.3" cy="40.2" r="1.5"/><circle cx="13" cy="33.6" r="1.5"/><circle cx="12.4" cy="9.6" r="1.5"/><circle cx="-1" cy="29.6" r="1.5"/><circle cx="39" cy="29.6" r="1.5"/><circle cx="19" cy="36.5" r="1.5"/><circle cx="9.8" cy="22.5" r="1.5"/><circle cx="27.8" cy="33.8" r="1.5"/><circle cx="29.9" cy="9.4" r="1.5"/><circle cx="2.8" cy="32.9" r="1.5"/><circle cx="16.5" cy="24.6" r="1.5"/><circle cx="27.8" cy="-0.4" r="1.5"/><circle cx="27.8" cy="39.6" r="1.5"/><circle cx="17.5" cy="6" r="1.5"/><circle cx="8.7" cy="9.2" r="1.5"/><circle cx="24.7" cy="4.9" r="1.5"/><circle cx="11.7" cy="8.3" r="1.5"/><circle cx="35.1" cy="30.2" r="1.5"/><circle cx="5.1" cy="35.1" r="1.5"/><circle cx="23.9" cy="33.1" r="1.5"/><circle cx="19.1" cy="21.3" r="1.5"/><circle cx="8.5" cy="10.1" r="1.5"/><circle cx="32.6" cy="26.6" r="1.5"/><circle cx="16" cy="32.5" r="1.5"/><circle cx="22.9" cy="29" r="1.5"/><circle cx="25.6" cy="15.8" r="1.5"/><circle cx="16.1" cy="27" r="1.5"/><circle cx="37.5" cy="20.8" r="1.5"/><circle cx="10.8" cy="9.2" r="1.5"/><circle cx="15.3" cy="13" r="1.5"/><circle cx="3.4" cy="28.5" r="1.5"/><circle cx="28.7" cy="5.1" r="1.5"/><circle cx="8.6" cy="32.2" r="1.5"/><circle cx="10.3" cy="3.3" r="1.5"/><circle cx="21.7" cy="17.9" r="1.5"/><circle cx="8.2" cy="8.7" r="1.5"/><circle cx="9.6" cy="3.1" r="1.5"/><circle cx="29.1" cy="10.2" r="1.5"/><circle cx="10.3" cy="27.9" r="1.5"/><circle cx="26.3" cy="36.3" r="1.5"/><circle cx="4.7" cy="11.4" r="1.5"/><circle cx="12.2" cy="20.5" r="1.5"/><circle cx="25.1" cy="-0.6" r="1.5"/><circle cx="25.1" cy="39.4" r="1.5"/><circle cx="18.5" cy="19.9" r="1.5"/><circle cx="38.5" cy="16.8" r="1.5"/><circle cx="31.6" cy="19.7" r="1.5"/><circle cx="19.8" cy="6.3" r="1.5"/><circle cx="31.1" cy="31.9" r="1.5"/><circle cx="3.5" cy="36" r="1.5"/><circle cx="3.7" cy="15.3" r="1.5"/><circle cx="22.6" cy="33.2" r="1.5"/><circle cx="35.3" cy="21" r="1.5"/><circle cx="15.4" cy="10" r="1.5"/><circle cx="31.5" cy="0.4" r="1.5"/><circle cx="31.5" cy="40.4" r="1.5"/><circle cx="35.9" cy="-0.9" r="1.5"/><circle cx="35.9" cy="39.1" r="1.5"/><circle cx="22.5" cy="12.2" r="1.5"/><circle cx="28.3" cy="22.5" r="1.5"/><circle cx="15.2" cy="24.1" r="1.5"/><circle cx="16" cy="31.5" r="1.5"/><circle cx="27.8" cy="18.8" r="1.5"/><circle cx="38.2" cy="33.6" r="1.5"/><circle cx="7.3" cy="24" r="1.5"/><circle cx="17.7" cy="8.6" r="1.5"/><circle cx="36.1" cy="1.2" r="1.5"/><circle cx="36.1" cy="41.2" r="1.5"/><circle cx="1.8" cy="18" r="1.5"/><circle cx="8.3" cy="34.3" r="1.5"/><circle cx="36.6" cy="12.6" r="1.5"/><circle cx="10.9" cy="13.5" r="1.5"/><circle cx="30.3" cy="23" r="1.5"/><circle cx="1" cy="18.2" r="1.5"/><circle cx="41" cy="18.2" r="1.5"/><circle cx="13.2" cy="35.8" r="1.5"/><circle cx="30.2" cy="6.1" r="1.5"/><circle cx="36.9" cy="19.8" r="1.5"/><circle cx="19.2" cy="30.1" r="1.5"/><circle cx="24.8" cy="20" r="1.5"/><circle cx="7" cy="18.2" r="1.5"/></g></pattern><pattern id="porsprinkle" patternUnits="userSpaceOnUse" width="44" height="44"><g fill="#ef7d5a"><circle cx="7.3" cy="30.3" r="1.5"/><circle cx="21.1" cy="9.5" r="1.5"/><circle cx="35.5" cy="22.5" r="1.5"/><circle cx="10.4" cy="0.1" r="1.5"/><circle cx="10.4" cy="44.1" r="1.5"/><circle cx="25.8" cy="3" r="1.5"/><circle cx="10.2" cy="10.2" r="1.5"/><circle cx="-0.1" cy="32.5" r="1.5"/><circle cx="43.9" cy="32.5" r="1.5"/><circle cx="27.1" cy="1.5" r="1.5"/><circle cx="27.1" cy="45.5" r="1.5"/><circle cx="21.9" cy="5.1" r="1.5"/><circle cx="16.2" cy="6.8" r="1.5"/><circle cx="5.5" cy="40.8" r="1.5"/><circle cx="24.3" cy="15.1" r="1.5"/><circle cx="8.2" cy="1.6" r="1.5"/></g></pattern><pattern id="pholes" patternUnits="userSpaceOnUse" width="60" height="60"><g fill="#e3e3e3" fill-opacity="0.9"><circle cx="37.4" cy="44.5" r="1.4"/><circle cx="56.5" cy="44.4" r="1.6"/><circle cx="1.7" cy="27.9" r="1.6"/><circle cx="38.9" cy="54.1" r="0.7"/><circle cx="28.1" cy="14.8" r="1.1"/><circle cx="34.4" cy="0.8" r="0.8"/><circle cx="34.4" cy="60.8" r="0.8"/><circle cx="16.8" cy="55" r="1.4"/><circle cx="9.6" cy="47.8" r="0.7"/><circle cx="37" cy="7.6" r="0.6"/><circle cx="52.3" cy="12.6" r="0.8"/><circle cx="58.9" cy="52.3" r="0.9"/><circle cx="57.7" cy="32.4" r="1.3"/><circle cx="12.3" cy="56.5" r="1.3"/><circle cx="58" cy="53.6" r="0.9"/><circle cx="21.7" cy="10" r="0.7"/><circle cx="3.9" cy="18.1" r="1.2"/><circle cx="0.2" cy="40.7" r="0.9"/><circle cx="60.2" cy="40.7" r="0.9"/><circle cx="18.6" cy="49.1" r="1.1"/><circle cx="18.9" cy="28.9" r="1.3"/><circle cx="3.4" cy="58.5" r="0.6"/><circle cx="45" cy="50.7" r="0.6"/><circle cx="47.3" cy="22" r="1.2"/><circle cx="0.5" cy="2.8" r="0.7"/><circle cx="60.5" cy="2.8" r="0.7"/><circle cx="57.3" cy="11.8" r="1.4"/><circle cx="55.8" cy="56.5" r="0.9"/><circle cx="21.3" cy="31.5" r="1.4"/><circle cx="6.5" cy="44.9" r="1.4"/><circle cx="51.6" cy="2.2" r="1.6"/><circle cx="5.5" cy="20.4" r="1.2"/><circle cx="55.1" cy="20.4" r="1.6"/><circle cx="32.7" cy="18.7" r="0.9"/><circle cx="10.6" cy="4.7" r="0.7"/><circle cx="41.4" cy="-0.2" r="0.7"/><circle cx="41.4" cy="59.8" r="0.7"/><circle cx="2.9" cy="-0.8" r="1.1"/><circle cx="2.9" cy="59.2" r="1.1"/><circle cx="24.4" cy="14.2" r="1.2"/><circle cx="49.6" cy="27.3" r="1"/><circle cx="3.3" cy="55" r="0.6"/><circle cx="29.6" cy="50.3" r="0.7"/><circle cx="43.9" cy="57" r="1.2"/><circle cx="47.3" cy="6.4" r="1"/><circle cx="9" cy="50.7" r="0.9"/><circle cx="27.2" cy="-0" r="1.5"/><circle cx="27.2" cy="60" r="1.5"/><circle cx="58.6" cy="27.2" r="1.1"/><circle cx="43.8" cy="28.7" r="0.9"/><circle cx="24.2" cy="8.8" r="1"/><circle cx="-0.7" cy="57.6" r="1.2"/><circle cx="59.3" cy="57.6" r="1.2"/><circle cx="30" cy="20.3" r="0.6"/><circle cx="16.3" cy="46.9" r="1.5"/><circle cx="21.7" cy="47.2" r="1.4"/><circle cx="41.7" cy="39.8" r="1.4"/><circle cx="21.8" cy="42.3" r="0.9"/><circle cx="29.1" cy="46.2" r="1.3"/><circle cx="17.6" cy="56.7" r="1.3"/><circle cx="34.8" cy="0.7" r="1.2"/><circle cx="34.8" cy="60.7" r="1.2"/><circle cx="15" cy="40.3" r="1.1"/><circle cx="49" cy="38.8" r="1.4"/><circle cx="20.9" cy="38.6" r="1.4"/><circle cx="49.7" cy="21" r="1.5"/><circle cx="52.2" cy="41.3" r="1.6"/><circle cx="57.4" cy="31.1" r="1.1"/><circle cx="10" cy="50.2" r="1.6"/><circle cx="28.6" cy="41.5" r="1.3"/><circle cx="43.8" cy="10.3" r="1.4"/><circle cx="34.9" cy="39.9" r="1"/><circle cx="37.4" cy="46.5" r="1.3"/><circle cx="43.2" cy="1.7" r="0.7"/><circle cx="26.5" cy="39" r="0.8"/><circle cx="41.2" cy="37.9" r="0.6"/><circle cx="28.3" cy="13.6" r="0.6"/></g></pattern><pattern id="pspeck" patternUnits="userSpaceOnUse" width="64" height="64"><g fill="#ffffff" fill-opacity="0.8"><circle cx="20.7" cy="9.7" r="1"/><circle cx="4.6" cy="34.3" r="0.8"/><circle cx="3.7" cy="32.5" r="0.5"/><circle cx="27.8" cy="4.5" r="0.5"/><circle cx="27.2" cy="52.9" r="0.6"/><circle cx="14.3" cy="40.2" r="1.3"/><circle cx="36.9" cy="25.4" r="1.3"/><circle cx="3" cy="54.9" r="0.7"/><circle cx="9.2" cy="7.5" r="0.7"/><circle cx="52.2" cy="11.6" r="1"/><circle cx="40.9" cy="23.8" r="0.9"/><circle cx="4" cy="3.8" r="0.6"/><circle cx="43.5" cy="27.4" r="0.7"/><circle cx="37.5" cy="29" r="0.7"/><circle cx="50.8" cy="44.7" r="0.7"/><circle cx="36.8" cy="33.6" r="1.2"/><circle cx="46.7" cy="18.4" r="1.3"/><circle cx="7.6" cy="26.8" r="1.1"/><circle cx="9.7" cy="31.3" r="0.5"/><circle cx="42.8" cy="48.9" r="1"/><circle cx="56" cy="20.1" r="1.1"/><circle cx="38" cy="37.1" r="0.9"/><circle cx="53.8" cy="60.5" r="0.9"/><circle cx="42.5" cy="3.9" r="1.1"/><circle cx="41.4" cy="-0.4" r="1.2"/><circle cx="41.4" cy="63.6" r="1.2"/><circle cx="18.2" cy="24.7" r="1.1"/><circle cx="1.4" cy="29.5" r="0.6"/><circle cx="7.5" cy="3.8" r="1.1"/><circle cx="8.3" cy="15.8" r="0.8"/><circle cx="55.8" cy="5.2" r="0.9"/><circle cx="35.2" cy="56.5" r="1.2"/><circle cx="55.3" cy="17.8" r="0.8"/><circle cx="23" cy="56.6" r="1.3"/><circle cx="9.7" cy="11.3" r="0.7"/><circle cx="14.9" cy="31" r="1"/><circle cx="16.8" cy="0.3" r="0.8"/><circle cx="16.8" cy="64.3" r="0.8"/><circle cx="23.6" cy="36.2" r="1.3"/><circle cx="44.2" cy="33" r="1"/><circle cx="43.3" cy="3.5" r="1.3"/><circle cx="49.9" cy="56" r="1.2"/><circle cx="25.1" cy="25.5" r="0.5"/><circle cx="40.6" cy="4" r="0.5"/><circle cx="13.4" cy="10.4" r="0.8"/><circle cx="3.4" cy="0" r="0.6"/><circle cx="3.4" cy="64" r="0.6"/><circle cx="6.5" cy="23.3" r="0.5"/><circle cx="56" cy="39.3" r="0.6"/><circle cx="16.1" cy="22.2" r="0.8"/><circle cx="7.9" cy="54.3" r="1.3"/><circle cx="29.8" cy="31" r="0.5"/><circle cx="6.5" cy="21.9" r="0.7"/><circle cx="53" cy="10.3" r="0.5"/><circle cx="60.9" cy="33.8" r="0.6"/><circle cx="34.8" cy="1.7" r="0.9"/><circle cx="62.6" cy="55.3" r="1.1"/><circle cx="16.7" cy="23.5" r="0.6"/><circle cx="49.4" cy="34.1" r="1.2"/><circle cx="21.1" cy="14.3" r="1.2"/><circle cx="-1" cy="54.6" r="1.2"/><circle cx="63" cy="54.6" r="1.2"/><circle cx="52.4" cy="47.4" r="0.7"/><circle cx="33.1" cy="22.8" r="0.5"/><circle cx="1.8" cy="17.9" r="0.7"/><circle cx="44.3" cy="61.2" r="0.9"/><circle cx="60" cy="-0.8" r="1.3"/><circle cx="60" cy="63.2" r="1.3"/><circle cx="23.3" cy="14.1" r="0.7"/><circle cx="12.6" cy="13.1" r="1"/><circle cx="57.6" cy="53.8" r="0.9"/><circle cx="41.8" cy="51.2" r="0.5"/><circle cx="42.3" cy="58.2" r="1.2"/><circle cx="48" cy="30.6" r="0.6"/><circle cx="50.5" cy="21.3" r="1.2"/><circle cx="62.2" cy="25.3" r="0.8"/><circle cx="60.6" cy="46.4" r="0.6"/><circle cx="8.1" cy="9.7" r="1.3"/><circle cx="51.6" cy="9.4" r="1.2"/><circle cx="62.7" cy="42.1" r="0.8"/><circle cx="35.1" cy="8.4" r="0.5"/><circle cx="62.1" cy="41.6" r="0.9"/><circle cx="59.8" cy="27.8" r="1.2"/><circle cx="52.9" cy="13.5" r="0.7"/><circle cx="18.7" cy="15.4" r="1"/><circle cx="16.6" cy="26.8" r="0.6"/><circle cx="58.2" cy="22.6" r="0.9"/><circle cx="37.3" cy="57.9" r="0.8"/><circle cx="58.7" cy="32.1" r="0.9"/><circle cx="33.5" cy="1.2" r="0.8"/><circle cx="11.7" cy="0.3" r="1.2"/><circle cx="11.7" cy="64.3" r="1.2"/><circle cx="11" cy="30.3" r="1.1"/><circle cx="35.6" cy="20.9" r="0.9"/><circle cx="35.5" cy="50.2" r="0.5"/><circle cx="35.9" cy="15.9" r="0.7"/><circle cx="49.4" cy="32.5" r="1"/><circle cx="48.6" cy="58.4" r="0.8"/><circle cx="39.2" cy="32.4" r="0.9"/><circle cx="44.3" cy="29" r="0.9"/><circle cx="30.6" cy="60.3" r="1.1"/><circle cx="56.1" cy="60.3" r="0.7"/><circle cx="35.8" cy="60.4" r="1.2"/><circle cx="8.8" cy="7.8" r="0.8"/><circle cx="4.6" cy="15.4" r="0.5"/><circle cx="42.8" cy="50.2" r="1.3"/><circle cx="9.9" cy="45.8" r="1"/><circle cx="9.2" cy="56.5" r="1.3"/><circle cx="14.1" cy="61" r="0.8"/><circle cx="31.2" cy="-0.6" r="1.2"/><circle cx="31.2" cy="63.4" r="1.2"/><circle cx="10.3" cy="27.6" r="0.9"/><circle cx="21.7" cy="12.5" r="0.7"/><circle cx="46.2" cy="1.2" r="0.9"/><circle cx="28.2" cy="1.2" r="0.7"/><circle cx="39.9" cy="32.8" r="0.5"/><circle cx="-1" cy="50.5" r="1.3"/><circle cx="63" cy="50.5" r="1.3"/><circle cx="6.7" cy="17" r="0.5"/><circle cx="49.9" cy="17.3" r="0.6"/><circle cx="27" cy="58.3" r="1.2"/><circle cx="16.6" cy="9.6" r="1.3"/><circle cx="36.5" cy="44.8" r="0.5"/><circle cx="3.7" cy="44" r="0.8"/><circle cx="4.6" cy="60.1" r="1"/><circle cx="51.3" cy="5.4" r="1.2"/><circle cx="4.3" cy="55.2" r="0.9"/><circle cx="21.7" cy="35.4" r="1.3"/><circle cx="17.1" cy="8.3" r="0.9"/><circle cx="15.3" cy="7" r="0.6"/><circle cx="3.2" cy="12.9" r="0.7"/><circle cx="19.5" cy="48.6" r="0.7"/><circle cx="32" cy="11.4" r="0.8"/><circle cx="1.2" cy="16" r="0.5"/><circle cx="46.9" cy="35.3" r="0.6"/><circle cx="30.4" cy="59.8" r="0.5"/><circle cx="52.4" cy="27.7" r="0.9"/><circle cx="53.4" cy="25.2" r="0.9"/><circle cx="44" cy="62.9" r="0.8"/><circle cx="53.3" cy="45.2" r="1"/><circle cx="25.9" cy="22.2" r="0.5"/><circle cx="8.3" cy="4.5" r="1.1"/><circle cx="16.4" cy="10.4" r="0.5"/><circle cx="53.8" cy="55.7" r="1.1"/><circle cx="18" cy="15.5" r="0.7"/><circle cx="29.4" cy="10.1" r="0.9"/><circle cx="16.8" cy="61.6" r="1.3"/><circle cx="35" cy="15.6" r="1.3"/><circle cx="19.8" cy="22.8" r="0.5"/><circle cx="24.4" cy="30.4" r="0.9"/><circle cx="12.9" cy="32.3" r="0.5"/><circle cx="16.9" cy="5.7" r="0.8"/><circle cx="2.7" cy="1.4" r="0.7"/><circle cx="14.9" cy="37.5" r="0.9"/><circle cx="48" cy="42.1" r="1.1"/><circle cx="56.3" cy="24.9" r="0.7"/><circle cx="-1" cy="9.6" r="1.1"/><circle cx="63" cy="9.6" r="1.1"/><circle cx="41.2" cy="2.8" r="1.2"/><circle cx="57.1" cy="40.1" r="1.1"/><circle cx="52" cy="8.9" r="0.9"/><circle cx="32.3" cy="53.4" r="1.2"/><circle cx="52.9" cy="37.4" r="1.3"/><circle cx="43.7" cy="44.4" r="0.7"/><circle cx="2" cy="8.5" r="0.8"/><circle cx="6.7" cy="53.5" r="1"/><circle cx="40.2" cy="40.1" r="1.1"/><circle cx="31.3" cy="0.2" r="1.2"/><circle cx="31.3" cy="64.2" r="1.2"/><circle cx="47.9" cy="32.2" r="0.9"/><circle cx="42.2" cy="4.2" r="1.1"/><circle cx="16.1" cy="4.8" r="0.7"/><circle cx="46.7" cy="13.1" r="1.1"/><circle cx="62.4" cy="31.6" r="0.8"/><circle cx="30.7" cy="43.8" r="1.1"/><circle cx="39.5" cy="41.1" r="0.5"/><circle cx="9.4" cy="16.3" r="1.1"/><circle cx="19.5" cy="36.3" r="0.5"/><circle cx="3.9" cy="17.2" r="1.1"/><circle cx="44.3" cy="43.2" r="0.7"/><circle cx="33.1" cy="29.7" r="0.9"/><circle cx="7.6" cy="57.2" r="0.6"/><circle cx="62.6" cy="59.9" r="0.5"/><circle cx="29.4" cy="52.5" r="1.3"/><circle cx="28.8" cy="17.2" r="0.6"/><circle cx="60.5" cy="13.5" r="1"/><circle cx="9.1" cy="33.5" r="1.3"/><circle cx="8.5" cy="52.5" r="0.9"/><circle cx="56.8" cy="45" r="0.7"/><circle cx="57.5" cy="31.1" r="0.5"/><circle cx="0.2" cy="31.5" r="0.9"/><circle cx="64.2" cy="31.5" r="0.9"/><circle cx="19.3" cy="9" r="0.8"/><circle cx="20.2" cy="53.8" r="0.5"/><circle cx="48" cy="53.7" r="0.6"/><circle cx="59.3" cy="45.6" r="1.3"/><circle cx="18.5" cy="23.8" r="0.8"/><circle cx="-0.1" cy="37.7" r="0.8"/><circle cx="63.9" cy="37.7" r="0.8"/><circle cx="27.4" cy="17.6" r="0.5"/><circle cx="6.5" cy="53.4" r="0.7"/><circle cx="59.9" cy="16" r="0.7"/><circle cx="32.7" cy="12.2" r="0.8"/><circle cx="61.2" cy="56.6" r="1.2"/><circle cx="40.4" cy="58.5" r="1.3"/><circle cx="35.2" cy="46.1" r="0.5"/><circle cx="46.9" cy="28.9" r="1.1"/><circle cx="41.2" cy="18.3" r="0.5"/><circle cx="59.3" cy="8.1" r="0.9"/><circle cx="22" cy="19.1" r="1.1"/><circle cx="62.5" cy="16.7" r="1"/><circle cx="19.3" cy="35.7" r="0.8"/><circle cx="10.7" cy="10.3" r="0.6"/><circle cx="58" cy="31.8" r="0.6"/><circle cx="58" cy="-0.2" r="0.9"/><circle cx="58" cy="63.8" r="0.9"/><circle cx="8.9" cy="12.3" r="0.5"/><circle cx="21.9" cy="5.8" r="0.7"/><circle cx="16.5" cy="36.5" r="1.2"/><circle cx="48" cy="26.4" r="0.8"/><circle cx="33.5" cy="24.1" r="0.8"/><circle cx="4" cy="17.8" r="1.3"/><circle cx="8.1" cy="32.2" r="1"/><circle cx="55.2" cy="13.8" r="0.7"/><circle cx="15.9" cy="25.6" r="0.9"/><circle cx="61.1" cy="54.3" r="1.2"/><circle cx="1.4" cy="2.1" r="1.1"/><circle cx="57.3" cy="30.3" r="1"/><circle cx="0" cy="25.1" r="1.3"/><circle cx="64" cy="25.1" r="1.3"/><circle cx="52.8" cy="54.7" r="1.3"/><circle cx="15.9" cy="7" r="0.6"/><circle cx="33.4" cy="43.7" r="1.3"/><circle cx="46.2" cy="41.4" r="1.1"/><circle cx="29.3" cy="35.3" r="0.5"/><circle cx="50.1" cy="14.9" r="1.3"/><circle cx="41.3" cy="19.4" r="0.6"/><circle cx="16.1" cy="40.7" r="1.1"/></g></pattern><pattern id="pgspeck" patternUnits="userSpaceOnUse" width="20" height="20"><g fill="#e4e4e4"><circle cx="9" cy="11.2" r="1.4"/><circle cx="9.3" cy="10.2" r="1.4"/><circle cx="3.7" cy="10.2" r="1.4"/><circle cx="15.9" cy="1.9" r="1.4"/><circle cx="1.8" cy="16.2" r="1.4"/><circle cx="0.8" cy="-0.4" r="1.4"/><circle cx="0.8" cy="19.6" r="1.4"/><circle cx="20.8" cy="-0.4" r="1.4"/><circle cx="20.8" cy="19.6" r="1.4"/><circle cx="13.1" cy="12.3" r="1.4"/></g></pattern></defs>
<g transform="translate(27 110.3)">
<clipPath id="clipS"><path d="M104 11.4 C105.8 10.6 106.7 10.6 108.1 11.4 C109.5 12.2 111.1 14.1 112.2 16.3 C113.3 18.5 114.3 21.8 114.6 24.5 C114.9 27.2 114.1 30.3 113.8 32.7 C113.5 35.2 113.8 37 113 39.2 C112.2 41.4 110.4 44.2 108.9 45.8 C107.4 47.4 105.6 48.2 104 49 C102.4 49.8 100.3 50.2 99.1 50.7 C97.9 51.2 97 49.8 96.7 52.3 C96.4 54.8 97.2 60.5 97.5 65.4 C97.8 70.3 97.8 78.2 98.3 81.7 C98.8 85.2 99.7 86 100.8 86.6 C101.9 87.1 103.7 86.4 104.8 85 C105.9 83.6 106.3 78.1 107.3 78.4 C108.3 78.7 109.5 84.2 110.6 86.6 C111.7 89 112.8 90.8 114 93 C115.2 95.2 116.5 98.2 118 99.5 C119.5 100.8 121.5 101.2 123 100.5 C124.5 99.8 126.1 96.8 127 95 C127.9 93.2 128 93.5 128.5 89.9 C129 86.3 129.5 79 130.2 73.5 C130.9 68 131.8 61.8 132.6 57.2 C133.4 52.6 133.6 48.8 135 45.8 C136.4 42.8 137.8 42.3 140.8 39.2 C143.8 36.1 148.9 30.4 153 27 C157.1 23.6 161.6 21.1 165.3 18.8 C169 16.6 170.4 15.1 175 13.5 C179.6 11.9 187 10.1 193 9 C199 8 205.7 7.4 210.9 7.2 C216.1 7 219.9 6.6 224.4 8.1 C228.9 9.6 233.4 13 237.9 16.2 C242.4 19.3 247.7 23.2 251.4 27 C255.2 30.8 257.8 34.8 260.4 38.7 C262.9 42.6 265 46.4 266.7 50.4 C268.4 54.4 269.2 58.7 270.3 63 C271.4 67.3 271.9 71.5 273 76.4 C274.1 81.3 275.2 88.4 276.6 92.4 C278 96.4 280.3 97.5 281.3 100.5 C282.3 103.5 282.9 107.8 282.6 110.6 C282.3 113.4 281.2 115.6 279.3 117.3 C277.4 119 273.7 119.6 271.2 120.7 C268.7 121.8 267.2 122.4 264.4 124.1 C261.6 125.8 257.7 128.8 254.3 130.8 C250.9 132.8 247.6 134.2 244.2 136.2 C240.8 138.2 237.5 141.1 234.1 143 C230.7 144.9 227.4 146.2 224 147.7 C220.6 149.1 217.7 150.8 213.8 151.7 C209.9 152.6 204.7 152.9 200.4 153.1 C196.1 153.3 191.1 154.6 188.2 153.1 C185.3 151.6 183.6 146.7 182.8 144.3 C182 141.9 181.7 140.1 183.5 138.9 C185.3 137.7 189.7 137 193.6 136.9 C197.5 136.8 203.2 138.1 207.1 138.2 C211 138.3 214.8 138.4 217.2 137.6 C219.6 136.8 221.1 135.6 221.3 133.5 C221.5 131.4 219.8 127.1 218.6 124.8 C217.3 122.5 216.3 121.2 213.8 119.4 C211.3 117.6 206.5 115.5 203.7 114 C200.9 112.5 198.7 112.3 197 110.6 C195.3 108.9 194.5 105.9 193.6 103.8 C192.7 101.7 191 100.3 191.6 97.8 C192.2 95.3 194.4 90.8 197 89 C199.6 87.2 204.3 87.7 207.1 87 C209.9 86.3 212.1 86.3 213.8 85 C215.5 83.7 215.9 81.4 217.2 78.9 C218.4 76.4 220.7 72.8 221.3 70.1 C221.9 67.4 221 66.3 220.8 63 C220.6 59.7 220.8 53.4 219.9 50.4 C219 47.4 217.7 46.5 215.4 45 C213.2 43.5 210.1 42 206.4 41.4 C202.7 40.8 197.5 40.9 193 41.4 C188.5 41.9 182.5 43.5 179.5 44.1 C176.5 44.7 178.1 44.5 175 45 C171.9 45.5 164.9 46.6 161.2 47.4 C157.5 48.2 154.9 48.2 153 49.8 C151.1 51.4 150.3 53.2 149.8 57.2 C149.3 61.2 149.8 68.7 149.8 73.5 C149.8 78.3 150.6 81.7 149.8 85.8 C149 89.9 146.4 93.9 144.9 98 C143.4 102.1 142.9 106.9 140.8 110.3 C138.8 113.7 136 116.2 132.6 118.5 C129.2 120.8 124.5 123 120.4 124.2 C116.3 125.4 111.6 125.4 108.1 125.8 C104.5 126.2 102.5 127.1 99.1 126.6 C95.7 126 91.7 124.5 87.7 122.5 C83.8 120.5 78.8 117.1 75.4 114.4 C72 111.7 69.5 109.6 67.3 106.2 C65.1 102.8 63.5 98.1 62.4 94 C61.3 89.9 60.9 85.8 60.7 81.7 C60.6 77.6 60.8 73.1 61.5 69.4 C62.2 65.7 63.2 62.3 64.8 59.6 C66.4 56.9 68.8 54.7 71.3 53.1 C73.8 51.5 76.5 50.6 79.5 49.8 C82.5 49 87.1 48.9 89.3 48.2 C91.5 47.5 92.6 47.7 92.6 45.8 C92.6 43.9 90 40.3 89.3 36.8 C88.6 33.2 88.2 27.2 88.5 24.5 C88.8 21.8 89.5 21.8 91 20.4 C92.5 19 95.3 17.8 97.5 16.3 C99.7 14.8 102.2 12.2 104 11.4Z"/></clipPath><g clip-path="url(#clipS)"><rect x="50" y="0" width="250" height="160" fill="#a08bc5"/><path d="M90 62 L128 62 L140 58 L160 58 L160 140 L90 140Z" fill="#7352a9"/><path d="M50 0 L118 0 L118 45 L98 60 L96 90 L98 130 L50 130Z" fill="#4a1889"/><path d="M222 58 C225 52.3 233.3 52 240 52 C246.7 52 256 55 262 58 C268 61 273.3 65.7 276 70 C278.7 74.3 282.3 81.3 278 84 C273.7 86.7 259.3 85.7 250 86 C240.7 86.3 226.7 90.7 222 86 C217.3 81.3 219 63.7 222 58Z" fill="#b4a7d5"/><path d="M176 32 C177.3 30.5 185.2 28.4 190 27.5 C194.8 26.6 200.7 26.2 205 26.5 C209.3 26.8 212.8 27.6 216 29 C219.2 30.4 222.3 33.2 224 35 C225.7 36.8 226.8 39.2 226 40 C225.2 40.8 222 40.6 219 40 C216 39.4 212 37.2 208 36.5 C204 35.8 199.3 35.5 195 35.5 C190.7 35.5 185.2 37.1 182 36.5 C178.8 35.9 174.7 33.5 176 32Z" fill="#d6cde8"/><path d="M185 88 L213 84.5 L222 84 L290 83 L300 160 L180 160Z" fill="#cfd0e6"/></g><path d="M31.5 119.8 C32.4 119 34.6 120.2 36 121 C37.4 121.8 38.5 122.6 40 124.6 C41.5 126.6 43.5 129.6 44.8 133 C46.1 136.4 47.1 141.8 47.8 145 C48.5 148.2 49.1 151.7 48.8 152.5 C48.5 153.3 47.3 151.8 46 150 C44.7 148.2 42.8 144.4 41 141.6 C39.2 138.8 36.7 135.6 35 133 C33.3 130.4 31.5 128 30.9 125.8 C30.3 123.6 30.6 120.6 31.5 119.8Z" fill="#fbd10c"/><clipPath id="clipY"><path d="M13.2 191.2 C14.4 187.7 15.8 183.1 18.7 180.1 C21.6 177.1 27.2 174.8 30.5 173.1 C33.8 171.4 35.1 170.5 38.4 170 C41.7 169.5 46.9 169.3 50.2 170 C53.5 170.7 54.1 173 58 173.9 C61.9 174.8 69.2 175 73.8 175.4 C78.4 175.8 82.6 175.1 85.5 176.2 C88.4 177.3 89.3 179.5 91 182 C92.7 184.5 94.5 188.4 95.5 191.2 C96.5 194 97.7 196.4 97.3 199 C96.9 201.6 94.3 204.4 93 207 C91.7 209.6 91 211.4 89.5 214.7 C88 217.9 85.3 223.2 84 226.5 C82.7 229.8 83.1 232 81.6 234.4 C80.1 236.8 77 239.3 75 241 C73 242.7 72.6 243.3 69.8 244.6 C67 245.8 61.5 247.7 58 248.5 C54.5 249.3 51.9 249.7 48.6 249.3 C45.3 248.9 41.2 248.4 38.4 246.2 C35.6 244 33.7 238.7 32 236 C30.3 233.3 30 231.5 28 230 C26 228.5 22.3 228.3 20 227 C17.7 225.7 15.4 224.5 14 222 C12.6 219.5 12 215.5 11.6 212 C11.2 208.5 11.3 204.5 11.6 201 C11.9 197.5 12 194.7 13.2 191.2Z"/></clipPath><g clip-path="url(#clipY)"><rect x="0" y="160" width="110" height="100" fill="#fcd20b"/><path d="M0 165 L65 165 L62 182 L45 188 L25 196 L0 200Z" fill="#f2bf12"/><path d="M0 196 L25 192 L40 200 L52 214 L70 211 L86 205 L100 214 L100 260 L0 260Z" fill="#e9aa1c"/></g><path d="M55 187 C57.8 185.7 62.2 185.5 65 186 C67.8 186.5 71.2 187.7 72 190 C72.8 192.3 71.3 196.7 70 200 C68.7 203.3 66 206.7 64 210 C62 213.3 60.3 217.2 58 220 C55.7 222.8 52.7 225.2 50 227 C47.3 228.8 44.7 230.7 42 231 C39.3 231.3 35.8 230.5 34 229 C32.2 227.5 31 224.8 31 222 C31 219.2 32.2 215.3 34 212 C35.8 208.7 39.7 205 42 202 C44.3 199 45.8 196.5 48 194 C50.2 191.5 52.2 188.3 55 187Z" fill="#fdf3cf"/><path d="M67 249 C67.5 248.5 70.5 251.8 72 254 C73.5 256.2 75.2 259.3 76 262 C76.8 264.7 77.2 267.7 77 270 C76.8 272.3 76 275 75 276 C74 277 72.5 277.2 71 276 C69.5 274.8 67.7 271.2 66 269 C64.3 266.8 61.7 264.5 61 263 C60.3 261.5 61 260 62 260 C63 260 65.8 263.5 67 263 C68.2 262.5 69 259.3 69 257 C69 254.7 66.5 249.5 67 249Z" fill="#cc9a1e"/><path d="M104 220.6 C105.4 218 111.2 215.5 115 213.3 C118.8 211.1 122.8 208.9 127 207.3 C131.2 205.7 134.9 204.4 140 203.6 C145.1 202.8 153.4 201.8 157.3 202.4 C161.2 203 161.3 205.9 163.3 207.3 C165.3 208.7 167.4 208.8 169.4 211 C171.4 213.2 173 217.6 175.4 220.6 C177.8 223.6 181 227 184 229 C187 231 190.4 231.9 193.6 232.7 C196.8 233.5 199.9 233.3 203 234 C206.1 234.7 210 235.7 212 237 C214 238.3 216.2 240.7 215 242 C213.8 243.3 208.2 244.3 205 245 C201.8 245.7 198.9 245.4 196 246 C193.1 246.6 190.3 247 187.5 248.4 C184.7 249.8 182 252 179 254.4 C176 256.8 172 260.6 169.4 263 C166.8 265.4 166.3 267.6 163.3 269 C160.3 270.4 155.2 271.2 151.2 271.4 C147.1 271.6 142.4 271.2 139 270.2 C135.6 269.2 133.7 267.1 130.7 265.3 C127.7 263.5 123.8 260.9 121 259.3 C118.2 257.7 115.1 257.5 113.7 255.7 C112.3 253.9 112.9 251.6 112.5 248.4 C112.1 245.2 112.3 239.5 111.3 236.3 C110.3 233.1 107.7 231.6 106.5 229 C105.3 226.4 102.6 223.2 104 220.6Z" fill="#c0d5ec"/><path d="M127.2 169.6 C127.7 166.7 129.3 161.8 131.1 159.4 C132.9 157 135.7 156.2 138.2 155.4 C140.7 154.6 144.1 154.3 146.1 154.3 C148.1 154.3 149.6 154.4 150 155.4 C150.4 156.4 147.6 158.6 148.4 160.2 C149.2 161.8 153.2 163.1 154.7 164.9 C156.1 166.7 157 168.8 157.1 171.2 C157.2 173.6 156.3 176.7 155.5 179.1 C154.7 181.5 152.7 183.4 152.4 185.4 C152.2 187.4 152.9 189.1 154 190.9 C155.1 192.7 157 194.3 158.7 196.4 C160.4 198.5 163.8 201.9 164 203.5 C164.2 205.1 161.2 206.4 160 206 C158.8 205.6 158.8 202.7 157.1 201.1 C155.4 199.5 152.1 198.2 150 196.4 C147.9 194.6 146.3 192.1 144.5 190.1 C142.7 188.1 141 185.9 139 184.6 C137 183.3 134.5 183.5 132.7 182.2 C130.9 180.9 128.9 178.8 128 176.7 C127.1 174.6 126.7 172.5 127.2 169.6Z" fill="#6497c9"/><path d="M95.6 290.7 C96.6 289.9 99.6 294.8 102.8 295.6 C106 296.4 111 295.7 115 295.6 C119 295.5 123 295 127 295 C131 295 135.2 296.1 139 295.6 C142.8 295.1 147.8 293 150 292 C152.2 291 151.5 290.7 152.5 289.5 C153.5 288.3 155.2 286.5 156 284.7 C156.8 282.9 156.6 281.1 157.3 278.6 C158 276.2 158.6 272.4 160 270 C161.4 267.6 164.5 264 166 264 C167.5 264 169 266.9 169 270 C169 273.1 167.3 279.5 166 282.3 C164.7 285.1 162.2 285.4 161 287 C159.8 288.6 158.9 289.4 158.5 292 C158.1 294.6 159.1 299.6 158.5 302.8 C157.9 306 156.6 308.5 155 311.3 C153.4 314.1 151 317.4 148.8 319.8 C146.6 322.2 144.2 323.8 141.6 325.8 C139 327.8 135.4 330.7 133 331.9 C130.6 333.1 129 333.2 127 333 C125 332.8 123 332.3 121 330.7 C119 329.1 117.4 325.6 115 323.4 C112.6 321.2 108.9 319.6 106.5 317.4 C104.1 315.2 102 312.8 100.4 310 C98.8 307.2 97.6 303.6 96.8 300.4 C96 297.2 94.6 291.5 95.6 290.7Z" fill="#2259a3"/><clipPath id="clipR"><path d="M249.6 165.4 C251 164.8 256.7 164.2 260.5 164.3 C264.3 164.4 269 164.9 272.6 166 C276.2 167.1 279.9 169.3 282.3 170.9 C284.7 172.5 285.1 174.5 287.1 175.7 C289.1 176.9 290.8 177.3 294.4 178.1 C298 178.9 305.3 180.8 308.9 180.6 C312.5 180.4 314 177 316.2 177 C318.4 177 320.8 178.8 322.2 180.6 C323.6 182.4 324.2 185.2 324.6 187.8 C325 190.4 325.4 193.7 324.6 196.3 C323.8 198.9 322.4 201.8 319.8 203.6 C317.2 205.4 311.9 206.4 308.9 207.2 C305.9 208 303 207.2 301.6 208.4 C300.2 209.6 301.2 212 300.4 214.4 C299.6 216.8 297.4 219.9 296.8 222.9 C296.2 225.9 295.6 230.2 296.8 232.6 C298 235 301 235 304 237.4 C307 239.8 312.2 243.8 315 247 C317.8 250.2 319.8 253.2 321 256.8 C322.2 260.4 322.4 263.9 322.2 268.9 C322 273.9 321.2 281.6 319.8 287 C318.4 292.4 316.1 297.8 313.7 301.6 C311.3 305.4 309.1 308.6 305.3 310 C301.5 311.4 296.1 310.8 290.7 310 C285.2 309.2 278.7 306.4 272.6 305.2 C266.6 304 260.4 303.8 254.4 302.8 C248.3 301.8 242.4 301.1 236.3 299.1 C230.2 297.1 222.9 294.1 218.1 290.7 C213.3 287.3 210.3 281.6 207.3 278.6 C204.3 275.7 202.6 274.3 200 273 C197.4 271.7 193.8 272.5 192 271 C190.2 269.5 188.7 267 189 264 C189.3 261 192.2 256 194 253 C195.8 250 198 248.2 200 246 C202 243.8 205.5 242.3 206 240 C206.5 237.7 204 235 203 232 C202 229 200.2 225.2 200 222 C199.8 218.8 201.2 215.5 202 213 C202.8 210.5 203.1 208.3 204.8 207 C206.5 205.7 208.8 205.5 212 205 C215.2 204.5 219.5 204.4 224.2 204 C228.9 203.6 235 203.6 240 202.5 C245 201.4 250.2 199.7 254.4 197.7 C258.6 195.7 261.9 192.9 265.3 190.5 C268.7 188.1 272.5 185.4 275 183.2 C277.5 181 280 179.3 280.5 177.5 C281 175.7 279.3 173.8 278 172.5 C276.7 171.2 275.5 170.5 272.6 169.8 C269.7 169.1 263.9 168.6 260.5 168.3 C257.1 168 253.8 168.5 252 168 C250.2 167.5 248.2 166 249.6 165.4Z"/></clipPath><g clip-path="url(#clipR)"><rect x="180" y="160" width="150" height="160" fill="#e77a6b"/><path d="M190 262 C190.7 258.5 193.3 253.3 196 250 C198.7 246.7 202.3 243.7 206 242 C209.7 240.3 213.7 239.3 218 240 C222.3 240.7 227.3 243.3 232 246 C236.7 248.7 241.7 252.3 246 256 C250.3 259.7 255.3 263.2 258 268 C260.7 272.8 261.7 279 262 285 C262.3 291 264.3 301.6 260 304 C255.7 306.4 243.3 301.3 236.3 299.1 C229.3 296.9 222.9 294.1 218.1 290.7 C213.3 287.3 210.3 281.6 207.3 278.6 C204.3 275.7 202.6 274.3 200 273 C197.4 271.7 193.7 272.8 192 271 C190.3 269.2 189.3 265.5 190 262Z" fill="#f5aa90"/><path d="M222 224 C224.3 221 230 214.7 234 214 C238 213.3 241.3 217 246 220 C250.7 223 257.7 228 262 232 C266.3 236 270.7 240.3 272 244 C273.3 247.7 272.3 252 270 254 C267.7 256 262.3 257.3 258 256 C253.7 254.7 248.7 249 244 246 C239.3 243 234 240.3 230 238 C226 235.7 221.3 234.3 220 232 C218.7 229.7 219.7 227 222 224Z" fill="#d9483f"/><path d="M202 205 C204 203.2 208.3 203.8 212 203.5 C215.7 203.2 220 203.2 224 203.5 C228 203.8 233.7 203.6 236 205 C238.3 206.4 238.7 209.5 238 212 C237.3 214.5 234.7 217.7 232 220 C229.3 222.3 225.7 224.5 222 226 C218.3 227.5 213.3 229 210 229 C206.7 229 203.7 228.5 202 226 C200.3 223.5 200 217.5 200 214 C200 210.5 200 206.8 202 205Z" fill="#ba0b22"/></g><path d="M244 232 C244.3 230.2 247 227.4 250 226 C253 224.6 257.3 224.7 262 223.5 C266.7 222.3 273.3 220.3 278 219 C282.7 217.7 286.7 215.3 290 215.5 C293.3 215.7 296.3 217.4 298 220 C299.7 222.6 301.2 228.1 300 231 C298.8 233.9 295.2 236.2 291 237.5 C286.8 238.8 280.2 238.7 275 239 C269.8 239.3 264.5 239.8 260 239.5 C255.5 239.2 250.7 238.2 248 237 C245.3 235.8 243.7 233.8 244 232Z" fill="#f7d2ca"/><path d="M305 350.6 C305.4 349.9 307.4 353.3 309.5 354 C311.6 354.7 314.6 354.4 317.4 355 C320.2 355.6 324 356.2 326.4 357.3 C328.8 358.4 330.9 359.7 332 361.8 C333.1 363.9 334 367.9 333.1 369.7 C332.2 371.5 329.2 372.1 326.4 372.5 C323.6 372.9 318.5 371.7 316.3 372 C314.1 372.3 314.9 374.2 313 374.2 C311.1 374.2 306.3 373.3 305 372 C303.7 370.7 304.6 368.6 305 366.3 C305.4 364.1 307.3 361.1 307.3 358.5 C307.3 355.9 304.6 351.4 305 350.6Z" fill="#d9534f"/><path d="M335.5 204.2 C336.7 203.8 340.8 204.1 343 204.5 C345.2 204.9 347.6 206 349 206.8 C350.4 207.7 351.7 208.9 351.5 209.6 C351.3 210.3 349.6 211 348 211 C346.4 211 344 210.1 342 209.5 C340 208.9 337.1 208.1 336 207.2 C334.9 206.3 334.3 204.6 335.5 204.2Z" fill="#7f2704"/><path d="M209.7 174.2 C209.5 172.2 210.7 167.8 212.1 165.8 C213.5 163.8 216.1 162.7 218.1 162.1 C220.1 161.5 222.8 161.3 224.2 162.1 C225.6 162.9 225.6 165 226.6 167 C227.6 169 230 172.6 230.2 174.2 C230.4 175.8 229.4 176.4 227.8 176.6 C226.2 176.8 222 175 220.6 175.4 C219.2 175.8 220.6 178.6 219.4 179 C218.2 179.4 214.9 178.7 213.3 177.9 C211.7 177.1 209.9 176.2 209.7 174.2Z" fill="#00441b"/><path d="M177.4 351.7 C179 349.6 185.4 348.8 188.1 347.8 C190.8 346.8 190.9 345.8 193.7 345.5 C196.5 345.2 202.2 346.8 205 346 C207.8 345.2 208.2 341.8 210.6 340.5 C213 339.2 217.5 337.8 219.6 338.2 C221.7 338.6 222.6 340.4 223 342.7 C223.4 344.9 222.9 349.1 221.8 351.7 C220.7 354.3 217.7 355.9 216.2 358.5 C214.7 361.1 213.6 364.1 212.8 367.5 C212.1 370.9 212.6 375.7 211.7 378.7 C210.8 381.7 209.8 383.7 207.2 385.4 C204.6 387.1 199.4 388.8 196 388.8 C192.6 388.8 189.2 386.7 187 385.4 C184.8 384.1 183.6 383.6 182.5 381 C181.4 378.4 180.9 373.1 180.2 369.7 C179.5 366.3 179 363.7 178.5 360.7 C178 357.7 175.8 353.8 177.4 351.7Z" fill="#245a32"/><path d="M331.3 86.7 C331.8 83.6 333.1 82.2 334.8 80.4 C336.6 78.6 339.5 76.3 341.8 75.6 C344.1 74.9 347.1 75.1 348.7 76.3 C350.3 77.5 352.1 81.6 351.5 82.5 C350.9 83.4 347.3 81.2 345.2 81.8 C343.1 82.4 340.6 84.1 339 86 C337.4 87.9 336.3 90.7 335.5 93 C334.7 95.3 334.6 99 334 100 C333.4 101 332.4 101.4 332 99.2 C331.6 97 330.8 89.8 331.3 86.7Z" fill="#c7e3c3"/><path d="M355.7 86 C356.9 85.3 360.3 86.1 362.6 86.7 C364.9 87.3 368.6 87.7 369.6 89.5 C370.7 91.3 369.4 95 368.9 97.8 C368.4 100.6 367 103.9 366.8 106.2 C366.6 108.5 366.5 110.4 367.5 111.8 C368.5 113.2 371.5 113.3 373 114.5 C374.5 115.7 376.2 117.2 376.5 118.7 C376.8 120.2 375.9 123 374.5 123.6 C373.1 124.2 370.1 122.8 368.2 122.2 C366.3 121.6 364.2 121.3 363.3 120.1 C362.4 118.9 362.4 116.8 362.6 115.2 C362.8 113.6 364.9 112.4 364.7 110.4 C364.5 108.4 362.1 105.5 361.2 103.4 C360.3 101.3 360.1 99.9 359.2 97.8 C358.3 95.7 356.3 92.9 355.7 90.9 C355.1 88.9 354.5 86.7 355.7 86Z" fill="#c2dfbf"/><path d="M311.1 144.5 C311.7 143.3 315.4 141.6 317.4 139.6 C319.4 137.6 321.8 132.6 323 132.6 C324.2 132.6 324.8 137.3 324.4 139.6 C324 141.9 322.6 145.3 320.9 146.5 C319.1 147.7 315.5 146.8 313.9 146.5 C312.3 146.2 310.5 145.7 311.1 144.5Z" fill="#bcd9b8"/><path d="M329.2 154.9 C330.1 155.5 332.7 158.8 334.8 160.5 C336.9 162.2 339.8 163.9 341.8 165.3 C343.8 166.7 346 167.9 346.6 168.8 C347.2 169.7 346.5 170.9 345.2 170.9 C343.9 170.9 341.1 170.2 339 168.8 C336.9 167.4 334.3 164.6 332.7 162.6 C331.1 160.6 329.8 158.3 329.2 157 C328.6 155.7 328.3 154.3 329.2 154.9Z" fill="#c0dcbd"/><path d="M326.4 100.6 C327 99.3 329.3 100.7 331.3 101.3 C333.3 101.9 336 103.5 338.3 104.1 C340.6 104.7 343.4 103.9 345.2 104.8 C347 105.7 348.8 108 349.4 109.7 C350 111.4 349.8 113.5 348.7 115.2 C347.6 116.9 345 119.5 343.1 120.1 C341.2 120.7 339.3 119.6 337.6 118.7 C335.9 117.8 334.3 116.1 332.7 114.5 C331.1 112.9 328.9 111.3 327.8 109 C326.8 106.7 325.8 101.9 326.4 100.6Z" fill="#98c098"/><path d="M335.5 146.5 C336.2 145.6 339.6 145.9 341.8 146.5 C344 147.1 345.8 150 348.7 150 C351.6 150 356.6 146.5 359.2 146.5 C361.8 146.5 363.3 148.2 364 150 C364.7 151.8 363.8 155.2 363.3 157 C362.8 158.8 363.4 159.8 361.2 160.5 C359 161.2 353.1 161.8 350.1 161.2 C347.1 160.6 345.2 158.5 343.1 157 C341 155.5 338.9 153.8 337.6 152.1 C336.3 150.3 334.8 147.4 335.5 146.5Z" fill="#9cc19c"/><path d="M307 122.2 C306.8 120.1 308.1 118.5 309.7 117.3 C311.3 116.1 314.5 115 316.7 115.2 C318.9 115.4 321.6 117 323 118.7 C324.4 120.5 325 123.6 325 125.7 C325 127.8 324.3 130 323 131.2 C321.7 132.3 319.4 132.8 317.4 132.6 C315.4 132.4 312.8 131.5 311.1 129.8 C309.4 128.1 307.2 124.3 307 122.2Z" fill="#6d9e76"/><path d="M334.8 129.2 C336.4 128 342.6 129.8 345.2 129.2 C347.8 128.6 348.4 126.5 350.1 125.7 C351.9 124.9 353.6 123.7 355.7 124.3 C357.8 124.9 360.6 127.2 362.6 129.2 C364.6 131.2 366.6 133.8 367.5 136.1 C368.4 138.4 368.8 141.4 368.2 143.1 C367.6 144.8 365.9 146.5 364 146.5 C362.1 146.5 359.4 143.3 357.1 143.1 C354.8 142.9 352.2 144.6 350.1 145.2 C348 145.8 346.4 146.8 344.5 146.5 C342.6 146.2 340.5 144.8 339 143.1 C337.5 141.4 336.2 138.4 335.5 136.1 C334.8 133.8 333.2 130.3 334.8 129.2Z" fill="#5e9169"/><path d="M312.5 102 C313.8 103.3 317.4 107.7 320 110 C322.6 112.3 325.6 114 328 116 C330.4 118 332.5 120 334.5 122 C336.5 124 337.6 126.2 340 128 C342.4 129.8 347.2 132.2 348.7 133" fill="none" stroke="#3e7650" stroke-width="7.5" stroke-linecap="round" stroke-linejoin="round"/><path d="M318.8 151.4 C320 150.7 323.1 148.6 326 147 C328.9 145.4 334.5 142.6 336.2 141.7" fill="none" stroke="#1f5a33" stroke-width="3.6" stroke-linecap="round" stroke-linejoin="round"/><path d="M373.8 152.8 C375.2 153.9 378.9 157.3 382 159.5 C385.1 161.7 390.8 164.9 392.6 166" fill="none" stroke="#2f6a45" stroke-width="4.2" stroke-linecap="round" stroke-linejoin="round"/><path d="M382.1 161.9 C381.5 163 379.6 166.4 378.5 168.5 C377.4 170.6 375.8 173.4 375.2 174.4" fill="none" stroke="#2f6a45" stroke-width="3.8" stroke-linecap="round" stroke-linejoin="round"/><path d="M366.8 168.1 C367.7 168.3 370.5 169.2 372 169.5 C373.5 169.8 375.3 169.9 376 170" fill="none" stroke="#5a8f66" stroke-width="2.6" stroke-linecap="round" stroke-linejoin="round"/><path d="M96.8 289.5 C98 288 101.6 282.9 104 280.5 C106.4 278.1 108.8 276.5 111 275 C113.2 273.5 116.3 272 117.4 271.4" fill="none" stroke="#0b4a22" stroke-width="3.6" stroke-linecap="round" stroke-linejoin="round"/><path d="M179.9 178.3 C179.6 177.1 181.2 175.2 182.3 173.6 C183.4 172 185.1 170.2 186.2 168.8 C187.2 167.4 187.5 165.4 188.6 164.9 C189.7 164.4 191.6 164.4 192.5 165.7 C193.4 167 194.2 170.8 194.1 172.8 C194 174.8 192.8 176.1 191.7 177.5 C190.6 178.9 189.1 180.9 187.8 181.4 C186.5 181.9 185.2 181.1 183.9 180.6 C182.6 180.1 180.2 179.5 179.9 178.3Z" fill="#d5793a"/><path d="M163.3 129.5 C163.7 129 165.8 129.1 166.5 129.8 C167.2 130.6 167.2 132.8 167.5 134 C167.8 135.2 168.2 137 168 137.3 C167.8 137.6 166.9 136.7 166.2 136 C165.5 135.3 164.5 134.1 164 133 C163.5 131.9 162.9 130 163.3 129.5Z" fill="#c0601f"/><ellipse cx="186.6" cy="198.8" rx="4" ry="2.5" transform="rotate(-35 186.6 198.8)" fill="#0b4a22"/><circle cx="197.3" cy="193.2" r="1.8" fill="#2a6b3c"/><circle cx="195" cy="196" r="1" fill="#3d7a50"/><g fill="url(#pspeck)"><path d="M104 11.4 C105.8 10.6 106.7 10.6 108.1 11.4 C109.5 12.2 111.1 14.1 112.2 16.3 C113.3 18.5 114.3 21.8 114.6 24.5 C114.9 27.2 114.1 30.3 113.8 32.7 C113.5 35.2 113.8 37 113 39.2 C112.2 41.4 110.4 44.2 108.9 45.8 C107.4 47.4 105.6 48.2 104 49 C102.4 49.8 100.3 50.2 99.1 50.7 C97.9 51.2 97 49.8 96.7 52.3 C96.4 54.8 97.2 60.5 97.5 65.4 C97.8 70.3 97.8 78.2 98.3 81.7 C98.8 85.2 99.7 86 100.8 86.6 C101.9 87.1 103.7 86.4 104.8 85 C105.9 83.6 106.3 78.1 107.3 78.4 C108.3 78.7 109.5 84.2 110.6 86.6 C111.7 89 112.8 90.8 114 93 C115.2 95.2 116.5 98.2 118 99.5 C119.5 100.8 121.5 101.2 123 100.5 C124.5 99.8 126.1 96.8 127 95 C127.9 93.2 128 93.5 128.5 89.9 C129 86.3 129.5 79 130.2 73.5 C130.9 68 131.8 61.8 132.6 57.2 C133.4 52.6 133.6 48.8 135 45.8 C136.4 42.8 137.8 42.3 140.8 39.2 C143.8 36.1 148.9 30.4 153 27 C157.1 23.6 161.6 21.1 165.3 18.8 C169 16.6 170.4 15.1 175 13.5 C179.6 11.9 187 10.1 193 9 C199 8 205.7 7.4 210.9 7.2 C216.1 7 219.9 6.6 224.4 8.1 C228.9 9.6 233.4 13 237.9 16.2 C242.4 19.3 247.7 23.2 251.4 27 C255.2 30.8 257.8 34.8 260.4 38.7 C262.9 42.6 265 46.4 266.7 50.4 C268.4 54.4 269.2 58.7 270.3 63 C271.4 67.3 271.9 71.5 273 76.4 C274.1 81.3 275.2 88.4 276.6 92.4 C278 96.4 280.3 97.5 281.3 100.5 C282.3 103.5 282.9 107.8 282.6 110.6 C282.3 113.4 281.2 115.6 279.3 117.3 C277.4 119 273.7 119.6 271.2 120.7 C268.7 121.8 267.2 122.4 264.4 124.1 C261.6 125.8 257.7 128.8 254.3 130.8 C250.9 132.8 247.6 134.2 244.2 136.2 C240.8 138.2 237.5 141.1 234.1 143 C230.7 144.9 227.4 146.2 224 147.7 C220.6 149.1 217.7 150.8 213.8 151.7 C209.9 152.6 204.7 152.9 200.4 153.1 C196.1 153.3 191.1 154.6 188.2 153.1 C185.3 151.6 183.6 146.7 182.8 144.3 C182 141.9 181.7 140.1 183.5 138.9 C185.3 137.7 189.7 137 193.6 136.9 C197.5 136.8 203.2 138.1 207.1 138.2 C211 138.3 214.8 138.4 217.2 137.6 C219.6 136.8 221.1 135.6 221.3 133.5 C221.5 131.4 219.8 127.1 218.6 124.8 C217.3 122.5 216.3 121.2 213.8 119.4 C211.3 117.6 206.5 115.5 203.7 114 C200.9 112.5 198.7 112.3 197 110.6 C195.3 108.9 194.5 105.9 193.6 103.8 C192.7 101.7 191 100.3 191.6 97.8 C192.2 95.3 194.4 90.8 197 89 C199.6 87.2 204.3 87.7 207.1 87 C209.9 86.3 212.1 86.3 213.8 85 C215.5 83.7 215.9 81.4 217.2 78.9 C218.4 76.4 220.7 72.8 221.3 70.1 C221.9 67.4 221 66.3 220.8 63 C220.6 59.7 220.8 53.4 219.9 50.4 C219 47.4 217.7 46.5 215.4 45 C213.2 43.5 210.1 42 206.4 41.4 C202.7 40.8 197.5 40.9 193 41.4 C188.5 41.9 182.5 43.5 179.5 44.1 C176.5 44.7 178.1 44.5 175 45 C171.9 45.5 164.9 46.6 161.2 47.4 C157.5 48.2 154.9 48.2 153 49.8 C151.1 51.4 150.3 53.2 149.8 57.2 C149.3 61.2 149.8 68.7 149.8 73.5 C149.8 78.3 150.6 81.7 149.8 85.8 C149 89.9 146.4 93.9 144.9 98 C143.4 102.1 142.9 106.9 140.8 110.3 C138.8 113.7 136 116.2 132.6 118.5 C129.2 120.8 124.5 123 120.4 124.2 C116.3 125.4 111.6 125.4 108.1 125.8 C104.5 126.2 102.5 127.1 99.1 126.6 C95.7 126 91.7 124.5 87.7 122.5 C83.8 120.5 78.8 117.1 75.4 114.4 C72 111.7 69.5 109.6 67.3 106.2 C65.1 102.8 63.5 98.1 62.4 94 C61.3 89.9 60.9 85.8 60.7 81.7 C60.6 77.6 60.8 73.1 61.5 69.4 C62.2 65.7 63.2 62.3 64.8 59.6 C66.4 56.9 68.8 54.7 71.3 53.1 C73.8 51.5 76.5 50.6 79.5 49.8 C82.5 49 87.1 48.9 89.3 48.2 C91.5 47.5 92.6 47.7 92.6 45.8 C92.6 43.9 90 40.3 89.3 36.8 C88.6 33.2 88.2 27.2 88.5 24.5 C88.8 21.8 89.5 21.8 91 20.4 C92.5 19 95.3 17.8 97.5 16.3 C99.7 14.8 102.2 12.2 104 11.4Z"/><path d="M31.5 119.8 C32.4 119 34.6 120.2 36 121 C37.4 121.8 38.5 122.6 40 124.6 C41.5 126.6 43.5 129.6 44.8 133 C46.1 136.4 47.1 141.8 47.8 145 C48.5 148.2 49.1 151.7 48.8 152.5 C48.5 153.3 47.3 151.8 46 150 C44.7 148.2 42.8 144.4 41 141.6 C39.2 138.8 36.7 135.6 35 133 C33.3 130.4 31.5 128 30.9 125.8 C30.3 123.6 30.6 120.6 31.5 119.8Z"/><path d="M13.2 191.2 C14.4 187.7 15.8 183.1 18.7 180.1 C21.6 177.1 27.2 174.8 30.5 173.1 C33.8 171.4 35.1 170.5 38.4 170 C41.7 169.5 46.9 169.3 50.2 170 C53.5 170.7 54.1 173 58 173.9 C61.9 174.8 69.2 175 73.8 175.4 C78.4 175.8 82.6 175.1 85.5 176.2 C88.4 177.3 89.3 179.5 91 182 C92.7 184.5 94.5 188.4 95.5 191.2 C96.5 194 97.7 196.4 97.3 199 C96.9 201.6 94.3 204.4 93 207 C91.7 209.6 91 211.4 89.5 214.7 C88 217.9 85.3 223.2 84 226.5 C82.7 229.8 83.1 232 81.6 234.4 C80.1 236.8 77 239.3 75 241 C73 242.7 72.6 243.3 69.8 244.6 C67 245.8 61.5 247.7 58 248.5 C54.5 249.3 51.9 249.7 48.6 249.3 C45.3 248.9 41.2 248.4 38.4 246.2 C35.6 244 33.7 238.7 32 236 C30.3 233.3 30 231.5 28 230 C26 228.5 22.3 228.3 20 227 C17.7 225.7 15.4 224.5 14 222 C12.6 219.5 12 215.5 11.6 212 C11.2 208.5 11.3 204.5 11.6 201 C11.9 197.5 12 194.7 13.2 191.2Z"/><path d="M67 249 C67.5 248.5 70.5 251.8 72 254 C73.5 256.2 75.2 259.3 76 262 C76.8 264.7 77.2 267.7 77 270 C76.8 272.3 76 275 75 276 C74 277 72.5 277.2 71 276 C69.5 274.8 67.7 271.2 66 269 C64.3 266.8 61.7 264.5 61 263 C60.3 261.5 61 260 62 260 C63 260 65.8 263.5 67 263 C68.2 262.5 69 259.3 69 257 C69 254.7 66.5 249.5 67 249Z"/><path d="M127.2 169.6 C127.7 166.7 129.3 161.8 131.1 159.4 C132.9 157 135.7 156.2 138.2 155.4 C140.7 154.6 144.1 154.3 146.1 154.3 C148.1 154.3 149.6 154.4 150 155.4 C150.4 156.4 147.6 158.6 148.4 160.2 C149.2 161.8 153.2 163.1 154.7 164.9 C156.1 166.7 157 168.8 157.1 171.2 C157.2 173.6 156.3 176.7 155.5 179.1 C154.7 181.5 152.7 183.4 152.4 185.4 C152.2 187.4 152.9 189.1 154 190.9 C155.1 192.7 157 194.3 158.7 196.4 C160.4 198.5 163.8 201.9 164 203.5 C164.2 205.1 161.2 206.4 160 206 C158.8 205.6 158.8 202.7 157.1 201.1 C155.4 199.5 152.1 198.2 150 196.4 C147.9 194.6 146.3 192.1 144.5 190.1 C142.7 188.1 141 185.9 139 184.6 C137 183.3 134.5 183.5 132.7 182.2 C130.9 180.9 128.9 178.8 128 176.7 C127.1 174.6 126.7 172.5 127.2 169.6Z"/><path d="M104 220.6 C105.4 218 111.2 215.5 115 213.3 C118.8 211.1 122.8 208.9 127 207.3 C131.2 205.7 134.9 204.4 140 203.6 C145.1 202.8 153.4 201.8 157.3 202.4 C161.2 203 161.3 205.9 163.3 207.3 C165.3 208.7 167.4 208.8 169.4 211 C171.4 213.2 173 217.6 175.4 220.6 C177.8 223.6 181 227 184 229 C187 231 190.4 231.9 193.6 232.7 C196.8 233.5 199.9 233.3 203 234 C206.1 234.7 210 235.7 212 237 C214 238.3 216.2 240.7 215 242 C213.8 243.3 208.2 244.3 205 245 C201.8 245.7 198.9 245.4 196 246 C193.1 246.6 190.3 247 187.5 248.4 C184.7 249.8 182 252 179 254.4 C176 256.8 172 260.6 169.4 263 C166.8 265.4 166.3 267.6 163.3 269 C160.3 270.4 155.2 271.2 151.2 271.4 C147.1 271.6 142.4 271.2 139 270.2 C135.6 269.2 133.7 267.1 130.7 265.3 C127.7 263.5 123.8 260.9 121 259.3 C118.2 257.7 115.1 257.5 113.7 255.7 C112.3 253.9 112.9 251.6 112.5 248.4 C112.1 245.2 112.3 239.5 111.3 236.3 C110.3 233.1 107.7 231.6 106.5 229 C105.3 226.4 102.6 223.2 104 220.6Z"/><path d="M95.6 290.7 C96.6 289.9 99.6 294.8 102.8 295.6 C106 296.4 111 295.7 115 295.6 C119 295.5 123 295 127 295 C131 295 135.2 296.1 139 295.6 C142.8 295.1 147.8 293 150 292 C152.2 291 151.5 290.7 152.5 289.5 C153.5 288.3 155.2 286.5 156 284.7 C156.8 282.9 156.6 281.1 157.3 278.6 C158 276.2 158.6 272.4 160 270 C161.4 267.6 164.5 264 166 264 C167.5 264 169 266.9 169 270 C169 273.1 167.3 279.5 166 282.3 C164.7 285.1 162.2 285.4 161 287 C159.8 288.6 158.9 289.4 158.5 292 C158.1 294.6 159.1 299.6 158.5 302.8 C157.9 306 156.6 308.5 155 311.3 C153.4 314.1 151 317.4 148.8 319.8 C146.6 322.2 144.2 323.8 141.6 325.8 C139 327.8 135.4 330.7 133 331.9 C130.6 333.1 129 333.2 127 333 C125 332.8 123 332.3 121 330.7 C119 329.1 117.4 325.6 115 323.4 C112.6 321.2 108.9 319.6 106.5 317.4 C104.1 315.2 102 312.8 100.4 310 C98.8 307.2 97.6 303.6 96.8 300.4 C96 297.2 94.6 291.5 95.6 290.7Z"/><path d="M249.6 165.4 C251 164.8 256.7 164.2 260.5 164.3 C264.3 164.4 269 164.9 272.6 166 C276.2 167.1 279.9 169.3 282.3 170.9 C284.7 172.5 285.1 174.5 287.1 175.7 C289.1 176.9 290.8 177.3 294.4 178.1 C298 178.9 305.3 180.8 308.9 180.6 C312.5 180.4 314 177 316.2 177 C318.4 177 320.8 178.8 322.2 180.6 C323.6 182.4 324.2 185.2 324.6 187.8 C325 190.4 325.4 193.7 324.6 196.3 C323.8 198.9 322.4 201.8 319.8 203.6 C317.2 205.4 311.9 206.4 308.9 207.2 C305.9 208 303 207.2 301.6 208.4 C300.2 209.6 301.2 212 300.4 214.4 C299.6 216.8 297.4 219.9 296.8 222.9 C296.2 225.9 295.6 230.2 296.8 232.6 C298 235 301 235 304 237.4 C307 239.8 312.2 243.8 315 247 C317.8 250.2 319.8 253.2 321 256.8 C322.2 260.4 322.4 263.9 322.2 268.9 C322 273.9 321.2 281.6 319.8 287 C318.4 292.4 316.1 297.8 313.7 301.6 C311.3 305.4 309.1 308.6 305.3 310 C301.5 311.4 296.1 310.8 290.7 310 C285.2 309.2 278.7 306.4 272.6 305.2 C266.6 304 260.4 303.8 254.4 302.8 C248.3 301.8 242.4 301.1 236.3 299.1 C230.2 297.1 222.9 294.1 218.1 290.7 C213.3 287.3 210.3 281.6 207.3 278.6 C204.3 275.7 202.6 274.3 200 273 C197.4 271.7 193.8 272.5 192 271 C190.2 269.5 188.7 267 189 264 C189.3 261 192.2 256 194 253 C195.8 250 198 248.2 200 246 C202 243.8 205.5 242.3 206 240 C206.5 237.7 204 235 203 232 C202 229 200.2 225.2 200 222 C199.8 218.8 201.2 215.5 202 213 C202.8 210.5 203.1 208.3 204.8 207 C206.5 205.7 208.8 205.5 212 205 C215.2 204.5 219.5 204.4 224.2 204 C228.9 203.6 235 203.6 240 202.5 C245 201.4 250.2 199.7 254.4 197.7 C258.6 195.7 261.9 192.9 265.3 190.5 C268.7 188.1 272.5 185.4 275 183.2 C277.5 181 280 179.3 280.5 177.5 C281 175.7 279.3 173.8 278 172.5 C276.7 171.2 275.5 170.5 272.6 169.8 C269.7 169.1 263.9 168.6 260.5 168.3 C257.1 168 253.8 168.5 252 168 C250.2 167.5 248.2 166 249.6 165.4Z"/><path d="M305 350.6 C305.4 349.9 307.4 353.3 309.5 354 C311.6 354.7 314.6 354.4 317.4 355 C320.2 355.6 324 356.2 326.4 357.3 C328.8 358.4 330.9 359.7 332 361.8 C333.1 363.9 334 367.9 333.1 369.7 C332.2 371.5 329.2 372.1 326.4 372.5 C323.6 372.9 318.5 371.7 316.3 372 C314.1 372.3 314.9 374.2 313 374.2 C311.1 374.2 306.3 373.3 305 372 C303.7 370.7 304.6 368.6 305 366.3 C305.4 364.1 307.3 361.1 307.3 358.5 C307.3 355.9 304.6 351.4 305 350.6Z"/><path d="M335.5 204.2 C336.7 203.8 340.8 204.1 343 204.5 C345.2 204.9 347.6 206 349 206.8 C350.4 207.7 351.7 208.9 351.5 209.6 C351.3 210.3 349.6 211 348 211 C346.4 211 344 210.1 342 209.5 C340 208.9 337.1 208.1 336 207.2 C334.9 206.3 334.3 204.6 335.5 204.2Z"/><path d="M209.7 174.2 C209.5 172.2 210.7 167.8 212.1 165.8 C213.5 163.8 216.1 162.7 218.1 162.1 C220.1 161.5 222.8 161.3 224.2 162.1 C225.6 162.9 225.6 165 226.6 167 C227.6 169 230 172.6 230.2 174.2 C230.4 175.8 229.4 176.4 227.8 176.6 C226.2 176.8 222 175 220.6 175.4 C219.2 175.8 220.6 178.6 219.4 179 C218.2 179.4 214.9 178.7 213.3 177.9 C211.7 177.1 209.9 176.2 209.7 174.2Z"/><path d="M177.4 351.7 C179 349.6 185.4 348.8 188.1 347.8 C190.8 346.8 190.9 345.8 193.7 345.5 C196.5 345.2 202.2 346.8 205 346 C207.8 345.2 208.2 341.8 210.6 340.5 C213 339.2 217.5 337.8 219.6 338.2 C221.7 338.6 222.6 340.4 223 342.7 C223.4 344.9 222.9 349.1 221.8 351.7 C220.7 354.3 217.7 355.9 216.2 358.5 C214.7 361.1 213.6 364.1 212.8 367.5 C212.1 370.9 212.6 375.7 211.7 378.7 C210.8 381.7 209.8 383.7 207.2 385.4 C204.6 387.1 199.4 388.8 196 388.8 C192.6 388.8 189.2 386.7 187 385.4 C184.8 384.1 183.6 383.6 182.5 381 C181.4 378.4 180.9 373.1 180.2 369.7 C179.5 366.3 179 363.7 178.5 360.7 C178 357.7 175.8 353.8 177.4 351.7Z"/><path d="M331.3 86.7 C331.8 83.6 333.1 82.2 334.8 80.4 C336.6 78.6 339.5 76.3 341.8 75.6 C344.1 74.9 347.1 75.1 348.7 76.3 C350.3 77.5 352.1 81.6 351.5 82.5 C350.9 83.4 347.3 81.2 345.2 81.8 C343.1 82.4 340.6 84.1 339 86 C337.4 87.9 336.3 90.7 335.5 93 C334.7 95.3 334.6 99 334 100 C333.4 101 332.4 101.4 332 99.2 C331.6 97 330.8 89.8 331.3 86.7Z"/><path d="M355.7 86 C356.9 85.3 360.3 86.1 362.6 86.7 C364.9 87.3 368.6 87.7 369.6 89.5 C370.7 91.3 369.4 95 368.9 97.8 C368.4 100.6 367 103.9 366.8 106.2 C366.6 108.5 366.5 110.4 367.5 111.8 C368.5 113.2 371.5 113.3 373 114.5 C374.5 115.7 376.2 117.2 376.5 118.7 C376.8 120.2 375.9 123 374.5 123.6 C373.1 124.2 370.1 122.8 368.2 122.2 C366.3 121.6 364.2 121.3 363.3 120.1 C362.4 118.9 362.4 116.8 362.6 115.2 C362.8 113.6 364.9 112.4 364.7 110.4 C364.5 108.4 362.1 105.5 361.2 103.4 C360.3 101.3 360.1 99.9 359.2 97.8 C358.3 95.7 356.3 92.9 355.7 90.9 C355.1 88.9 354.5 86.7 355.7 86Z"/><path d="M326.4 100.6 C327 99.3 329.3 100.7 331.3 101.3 C333.3 101.9 336 103.5 338.3 104.1 C340.6 104.7 343.4 103.9 345.2 104.8 C347 105.7 348.8 108 349.4 109.7 C350 111.4 349.8 113.5 348.7 115.2 C347.6 116.9 345 119.5 343.1 120.1 C341.2 120.7 339.3 119.6 337.6 118.7 C335.9 117.8 334.3 116.1 332.7 114.5 C331.1 112.9 328.9 111.3 327.8 109 C326.8 106.7 325.8 101.9 326.4 100.6Z"/><path d="M307 122.2 C306.8 120.1 308.1 118.5 309.7 117.3 C311.3 116.1 314.5 115 316.7 115.2 C318.9 115.4 321.6 117 323 118.7 C324.4 120.5 325 123.6 325 125.7 C325 127.8 324.3 130 323 131.2 C321.7 132.3 319.4 132.8 317.4 132.6 C315.4 132.4 312.8 131.5 311.1 129.8 C309.4 128.1 307.2 124.3 307 122.2Z"/><path d="M311.1 144.5 C311.7 143.3 315.4 141.6 317.4 139.6 C319.4 137.6 321.8 132.6 323 132.6 C324.2 132.6 324.8 137.3 324.4 139.6 C324 141.9 322.6 145.3 320.9 146.5 C319.1 147.7 315.5 146.8 313.9 146.5 C312.3 146.2 310.5 145.7 311.1 144.5Z"/><path d="M334.8 129.2 C336.4 128 342.6 129.8 345.2 129.2 C347.8 128.6 348.4 126.5 350.1 125.7 C351.9 124.9 353.6 123.7 355.7 124.3 C357.8 124.9 360.6 127.2 362.6 129.2 C364.6 131.2 366.6 133.8 367.5 136.1 C368.4 138.4 368.8 141.4 368.2 143.1 C367.6 144.8 365.9 146.5 364 146.5 C362.1 146.5 359.4 143.3 357.1 143.1 C354.8 142.9 352.2 144.6 350.1 145.2 C348 145.8 346.4 146.8 344.5 146.5 C342.6 146.2 340.5 144.8 339 143.1 C337.5 141.4 336.2 138.4 335.5 136.1 C334.8 133.8 333.2 130.3 334.8 129.2Z"/><path d="M335.5 146.5 C336.2 145.6 339.6 145.9 341.8 146.5 C344 147.1 345.8 150 348.7 150 C351.6 150 356.6 146.5 359.2 146.5 C361.8 146.5 363.3 148.2 364 150 C364.7 151.8 363.8 155.2 363.3 157 C362.8 158.8 363.4 159.8 361.2 160.5 C359 161.2 353.1 161.8 350.1 161.2 C347.1 160.6 345.2 158.5 343.1 157 C341 155.5 338.9 153.8 337.6 152.1 C336.3 150.3 334.8 147.4 335.5 146.5Z"/><path d="M329.2 154.9 C330.1 155.5 332.7 158.8 334.8 160.5 C336.9 162.2 339.8 163.9 341.8 165.3 C343.8 166.7 346 167.9 346.6 168.8 C347.2 169.7 346.5 170.9 345.2 170.9 C343.9 170.9 341.1 170.2 339 168.8 C336.9 167.4 334.3 164.6 332.7 162.6 C331.1 160.6 329.8 158.3 329.2 157 C328.6 155.7 328.3 154.3 329.2 154.9Z"/><path d="M179.9 178.3 C179.6 177.1 181.2 175.2 182.3 173.6 C183.4 172 185.1 170.2 186.2 168.8 C187.2 167.4 187.5 165.4 188.6 164.9 C189.7 164.4 191.6 164.4 192.5 165.7 C193.4 167 194.2 170.8 194.1 172.8 C194 174.8 192.8 176.1 191.7 177.5 C190.6 178.9 189.1 180.9 187.8 181.4 C186.5 181.9 185.2 181.1 183.9 180.6 C182.6 180.1 180.2 179.5 179.9 178.3Z"/><path d="M163.3 129.5 C163.7 129 165.8 129.1 166.5 129.8 C167.2 130.6 167.2 132.8 167.5 134 C167.8 135.2 168.2 137 168 137.3 C167.8 137.6 166.9 136.7 166.2 136 C165.5 135.3 164.5 134.1 164 133 C163.5 131.9 162.9 130 163.3 129.5Z"/></g>
<rect x="0" y="0" width="400" height="399" fill="none" stroke="#000" stroke-width="1.3"/>
</g>
<g transform="translate(478.6 110.3)">
<path d="M104 11.4 C105.8 10.6 106.7 10.6 108.1 11.4 C109.5 12.2 111.1 14.1 112.2 16.3 C113.3 18.5 114.3 21.8 114.6 24.5 C114.9 27.2 114.1 30.3 113.8 32.7 C113.5 35.2 113.8 37 113 39.2 C112.2 41.4 110.4 44.2 108.9 45.8 C107.4 47.4 105.6 48.2 104 49 C102.4 49.8 100.3 50.2 99.1 50.7 C97.9 51.2 97 49.8 96.7 52.3 C96.4 54.8 97.2 60.5 97.5 65.4 C97.8 70.3 97.8 78.2 98.3 81.7 C98.8 85.2 99.7 86 100.8 86.6 C101.9 87.1 103.7 86.4 104.8 85 C105.9 83.6 106.3 78.1 107.3 78.4 C108.3 78.7 109.5 84.2 110.6 86.6 C111.7 89 112.8 90.8 114 93 C115.2 95.2 116.5 98.2 118 99.5 C119.5 100.8 121.5 101.2 123 100.5 C124.5 99.8 126.1 96.8 127 95 C127.9 93.2 128 93.5 128.5 89.9 C129 86.3 129.5 79 130.2 73.5 C130.9 68 131.8 61.8 132.6 57.2 C133.4 52.6 133.6 48.8 135 45.8 C136.4 42.8 137.8 42.3 140.8 39.2 C143.8 36.1 148.9 30.4 153 27 C157.1 23.6 161.6 21.1 165.3 18.8 C169 16.6 170.4 15.1 175 13.5 C179.6 11.9 187 10.1 193 9 C199 8 205.7 7.4 210.9 7.2 C216.1 7 219.9 6.6 224.4 8.1 C228.9 9.6 233.4 13 237.9 16.2 C242.4 19.3 247.7 23.2 251.4 27 C255.2 30.8 257.8 34.8 260.4 38.7 C262.9 42.6 265 46.4 266.7 50.4 C268.4 54.4 269.2 58.7 270.3 63 C271.4 67.3 271.9 71.5 273 76.4 C274.1 81.3 275.2 88.4 276.6 92.4 C278 96.4 280.3 97.5 281.3 100.5 C282.3 103.5 282.9 107.8 282.6 110.6 C282.3 113.4 281.2 115.6 279.3 117.3 C277.4 119 273.7 119.6 271.2 120.7 C268.7 121.8 267.2 122.4 264.4 124.1 C261.6 125.8 257.7 128.8 254.3 130.8 C250.9 132.8 247.6 134.2 244.2 136.2 C240.8 138.2 237.5 141.1 234.1 143 C230.7 144.9 227.4 146.2 224 147.7 C220.6 149.1 217.7 150.8 213.8 151.7 C209.9 152.6 204.7 152.9 200.4 153.1 C196.1 153.3 191.1 154.6 188.2 153.1 C185.3 151.6 183.6 146.7 182.8 144.3 C182 141.9 181.7 140.1 183.5 138.9 C185.3 137.7 189.7 137 193.6 136.9 C197.5 136.8 203.2 138.1 207.1 138.2 C211 138.3 214.8 138.4 217.2 137.6 C219.6 136.8 221.1 135.6 221.3 133.5 C221.5 131.4 219.8 127.1 218.6 124.8 C217.3 122.5 216.3 121.2 213.8 119.4 C211.3 117.6 206.5 115.5 203.7 114 C200.9 112.5 198.7 112.3 197 110.6 C195.3 108.9 194.5 105.9 193.6 103.8 C192.7 101.7 191 100.3 191.6 97.8 C192.2 95.3 194.4 90.8 197 89 C199.6 87.2 204.3 87.7 207.1 87 C209.9 86.3 212.1 86.3 213.8 85 C215.5 83.7 215.9 81.4 217.2 78.9 C218.4 76.4 220.7 72.8 221.3 70.1 C221.9 67.4 221 66.3 220.8 63 C220.6 59.7 220.8 53.4 219.9 50.4 C219 47.4 217.7 46.5 215.4 45 C213.2 43.5 210.1 42 206.4 41.4 C202.7 40.8 197.5 40.9 193 41.4 C188.5 41.9 182.5 43.5 179.5 44.1 C176.5 44.7 178.1 44.5 175 45 C171.9 45.5 164.9 46.6 161.2 47.4 C157.5 48.2 154.9 48.2 153 49.8 C151.1 51.4 150.3 53.2 149.8 57.2 C149.3 61.2 149.8 68.7 149.8 73.5 C149.8 78.3 150.6 81.7 149.8 85.8 C149 89.9 146.4 93.9 144.9 98 C143.4 102.1 142.9 106.9 140.8 110.3 C138.8 113.7 136 116.2 132.6 118.5 C129.2 120.8 124.5 123 120.4 124.2 C116.3 125.4 111.6 125.4 108.1 125.8 C104.5 126.2 102.5 127.1 99.1 126.6 C95.7 126 91.7 124.5 87.7 122.5 C83.8 120.5 78.8 117.1 75.4 114.4 C72 111.7 69.5 109.6 67.3 106.2 C65.1 102.8 63.5 98.1 62.4 94 C61.3 89.9 60.9 85.8 60.7 81.7 C60.6 77.6 60.8 73.1 61.5 69.4 C62.2 65.7 63.2 62.3 64.8 59.6 C66.4 56.9 68.8 54.7 71.3 53.1 C73.8 51.5 76.5 50.6 79.5 49.8 C82.5 49 87.1 48.9 89.3 48.2 C91.5 47.5 92.6 47.7 92.6 45.8 C92.6 43.9 90 40.3 89.3 36.8 C88.6 33.2 88.2 27.2 88.5 24.5 C88.8 21.8 89.5 21.8 91 20.4 C92.5 19 95.3 17.8 97.5 16.3 C99.7 14.8 102.2 12.2 104 11.4Z" fill="#e0e0e0"/><path d="M31.5 119.8 C32.4 119 34.6 120.2 36 121 C37.4 121.8 38.5 122.6 40 124.6 C41.5 126.6 43.5 129.6 44.8 133 C46.1 136.4 47.1 141.8 47.8 145 C48.5 148.2 49.1 151.7 48.8 152.5 C48.5 153.3 47.3 151.8 46 150 C44.7 148.2 42.8 144.4 41 141.6 C39.2 138.8 36.7 135.6 35 133 C33.3 130.4 31.5 128 30.9 125.8 C30.3 123.6 30.6 120.6 31.5 119.8Z" fill="#e0e0e0"/><path d="M13.2 191.2 C14.4 187.7 15.8 183.1 18.7 180.1 C21.6 177.1 27.2 174.8 30.5 173.1 C33.8 171.4 35.1 170.5 38.4 170 C41.7 169.5 46.9 169.3 50.2 170 C53.5 170.7 54.1 173 58 173.9 C61.9 174.8 69.2 175 73.8 175.4 C78.4 175.8 82.6 175.1 85.5 176.2 C88.4 177.3 89.3 179.5 91 182 C92.7 184.5 94.5 188.4 95.5 191.2 C96.5 194 97.7 196.4 97.3 199 C96.9 201.6 94.3 204.4 93 207 C91.7 209.6 91 211.4 89.5 214.7 C88 217.9 85.3 223.2 84 226.5 C82.7 229.8 83.1 232 81.6 234.4 C80.1 236.8 77 239.3 75 241 C73 242.7 72.6 243.3 69.8 244.6 C67 245.8 61.5 247.7 58 248.5 C54.5 249.3 51.9 249.7 48.6 249.3 C45.3 248.9 41.2 248.4 38.4 246.2 C35.6 244 33.7 238.7 32 236 C30.3 233.3 30 231.5 28 230 C26 228.5 22.3 228.3 20 227 C17.7 225.7 15.4 224.5 14 222 C12.6 219.5 12 215.5 11.6 212 C11.2 208.5 11.3 204.5 11.6 201 C11.9 197.5 12 194.7 13.2 191.2Z" fill="#e0e0e0"/><path d="M67 249 C67.5 248.5 70.5 251.8 72 254 C73.5 256.2 75.2 259.3 76 262 C76.8 264.7 77.2 267.7 77 270 C76.8 272.3 76 275 75 276 C74 277 72.5 277.2 71 276 C69.5 274.8 67.7 271.2 66 269 C64.3 266.8 61.7 264.5 61 263 C60.3 261.5 61 260 62 260 C63 260 65.8 263.5 67 263 C68.2 262.5 69 259.3 69 257 C69 254.7 66.5 249.5 67 249Z" fill="#e0e0e0"/><path d="M127.2 169.6 C127.7 166.7 129.3 161.8 131.1 159.4 C132.9 157 135.7 156.2 138.2 155.4 C140.7 154.6 144.1 154.3 146.1 154.3 C148.1 154.3 149.6 154.4 150 155.4 C150.4 156.4 147.6 158.6 148.4 160.2 C149.2 161.8 153.2 163.1 154.7 164.9 C156.1 166.7 157 168.8 157.1 171.2 C157.2 173.6 156.3 176.7 155.5 179.1 C154.7 181.5 152.7 183.4 152.4 185.4 C152.2 187.4 152.9 189.1 154 190.9 C155.1 192.7 157 194.3 158.7 196.4 C160.4 198.5 163.8 201.9 164 203.5 C164.2 205.1 161.2 206.4 160 206 C158.8 205.6 158.8 202.7 157.1 201.1 C155.4 199.5 152.1 198.2 150 196.4 C147.9 194.6 146.3 192.1 144.5 190.1 C142.7 188.1 141 185.9 139 184.6 C137 183.3 134.5 183.5 132.7 182.2 C130.9 180.9 128.9 178.8 128 176.7 C127.1 174.6 126.7 172.5 127.2 169.6Z" fill="#e0e0e0"/><path d="M104 220.6 C105.4 218 111.2 215.5 115 213.3 C118.8 211.1 122.8 208.9 127 207.3 C131.2 205.7 134.9 204.4 140 203.6 C145.1 202.8 153.4 201.8 157.3 202.4 C161.2 203 161.3 205.9 163.3 207.3 C165.3 208.7 167.4 208.8 169.4 211 C171.4 213.2 173 217.6 175.4 220.6 C177.8 223.6 181 227 184 229 C187 231 190.4 231.9 193.6 232.7 C196.8 233.5 199.9 233.3 203 234 C206.1 234.7 210 235.7 212 237 C214 238.3 216.2 240.7 215 242 C213.8 243.3 208.2 244.3 205 245 C201.8 245.7 198.9 245.4 196 246 C193.1 246.6 190.3 247 187.5 248.4 C184.7 249.8 182 252 179 254.4 C176 256.8 172 260.6 169.4 263 C166.8 265.4 166.3 267.6 163.3 269 C160.3 270.4 155.2 271.2 151.2 271.4 C147.1 271.6 142.4 271.2 139 270.2 C135.6 269.2 133.7 267.1 130.7 265.3 C127.7 263.5 123.8 260.9 121 259.3 C118.2 257.7 115.1 257.5 113.7 255.7 C112.3 253.9 112.9 251.6 112.5 248.4 C112.1 245.2 112.3 239.5 111.3 236.3 C110.3 233.1 107.7 231.6 106.5 229 C105.3 226.4 102.6 223.2 104 220.6Z" fill="#e0e0e0"/><path d="M95.6 290.7 C96.6 289.9 99.6 294.8 102.8 295.6 C106 296.4 111 295.7 115 295.6 C119 295.5 123 295 127 295 C131 295 135.2 296.1 139 295.6 C142.8 295.1 147.8 293 150 292 C152.2 291 151.5 290.7 152.5 289.5 C153.5 288.3 155.2 286.5 156 284.7 C156.8 282.9 156.6 281.1 157.3 278.6 C158 276.2 158.6 272.4 160 270 C161.4 267.6 164.5 264 166 264 C167.5 264 169 266.9 169 270 C169 273.1 167.3 279.5 166 282.3 C164.7 285.1 162.2 285.4 161 287 C159.8 288.6 158.9 289.4 158.5 292 C158.1 294.6 159.1 299.6 158.5 302.8 C157.9 306 156.6 308.5 155 311.3 C153.4 314.1 151 317.4 148.8 319.8 C146.6 322.2 144.2 323.8 141.6 325.8 C139 327.8 135.4 330.7 133 331.9 C130.6 333.1 129 333.2 127 333 C125 332.8 123 332.3 121 330.7 C119 329.1 117.4 325.6 115 323.4 C112.6 321.2 108.9 319.6 106.5 317.4 C104.1 315.2 102 312.8 100.4 310 C98.8 307.2 97.6 303.6 96.8 300.4 C96 297.2 94.6 291.5 95.6 290.7Z" fill="#e0e0e0"/><path d="M249.6 165.4 C251 164.8 256.7 164.2 260.5 164.3 C264.3 164.4 269 164.9 272.6 166 C276.2 167.1 279.9 169.3 282.3 170.9 C284.7 172.5 285.1 174.5 287.1 175.7 C289.1 176.9 290.8 177.3 294.4 178.1 C298 178.9 305.3 180.8 308.9 180.6 C312.5 180.4 314 177 316.2 177 C318.4 177 320.8 178.8 322.2 180.6 C323.6 182.4 324.2 185.2 324.6 187.8 C325 190.4 325.4 193.7 324.6 196.3 C323.8 198.9 322.4 201.8 319.8 203.6 C317.2 205.4 311.9 206.4 308.9 207.2 C305.9 208 303 207.2 301.6 208.4 C300.2 209.6 301.2 212 300.4 214.4 C299.6 216.8 297.4 219.9 296.8 222.9 C296.2 225.9 295.6 230.2 296.8 232.6 C298 235 301 235 304 237.4 C307 239.8 312.2 243.8 315 247 C317.8 250.2 319.8 253.2 321 256.8 C322.2 260.4 322.4 263.9 322.2 268.9 C322 273.9 321.2 281.6 319.8 287 C318.4 292.4 316.1 297.8 313.7 301.6 C311.3 305.4 309.1 308.6 305.3 310 C301.5 311.4 296.1 310.8 290.7 310 C285.2 309.2 278.7 306.4 272.6 305.2 C266.6 304 260.4 303.8 254.4 302.8 C248.3 301.8 242.4 301.1 236.3 299.1 C230.2 297.1 222.9 294.1 218.1 290.7 C213.3 287.3 210.3 281.6 207.3 278.6 C204.3 275.7 202.6 274.3 200 273 C197.4 271.7 193.8 272.5 192 271 C190.2 269.5 188.7 267 189 264 C189.3 261 192.2 256 194 253 C195.8 250 198 248.2 200 246 C202 243.8 205.5 242.3 206 240 C206.5 237.7 204 235 203 232 C202 229 200.2 225.2 200 222 C199.8 218.8 201.2 215.5 202 213 C202.8 210.5 203.1 208.3 204.8 207 C206.5 205.7 208.8 205.5 212 205 C215.2 204.5 219.5 204.4 224.2 204 C228.9 203.6 235 203.6 240 202.5 C245 201.4 250.2 199.7 254.4 197.7 C258.6 195.7 261.9 192.9 265.3 190.5 C268.7 188.1 272.5 185.4 275 183.2 C277.5 181 280 179.3 280.5 177.5 C281 175.7 279.3 173.8 278 172.5 C276.7 171.2 275.5 170.5 272.6 169.8 C269.7 169.1 263.9 168.6 260.5 168.3 C257.1 168 253.8 168.5 252 168 C250.2 167.5 248.2 166 249.6 165.4Z" fill="#e0e0e0"/><path d="M305 350.6 C305.4 349.9 307.4 353.3 309.5 354 C311.6 354.7 314.6 354.4 317.4 355 C320.2 355.6 324 356.2 326.4 357.3 C328.8 358.4 330.9 359.7 332 361.8 C333.1 363.9 334 367.9 333.1 369.7 C332.2 371.5 329.2 372.1 326.4 372.5 C323.6 372.9 318.5 371.7 316.3 372 C314.1 372.3 314.9 374.2 313 374.2 C311.1 374.2 306.3 373.3 305 372 C303.7 370.7 304.6 368.6 305 366.3 C305.4 364.1 307.3 361.1 307.3 358.5 C307.3 355.9 304.6 351.4 305 350.6Z" fill="#e0e0e0"/><path d="M335.5 204.2 C336.7 203.8 340.8 204.1 343 204.5 C345.2 204.9 347.6 206 349 206.8 C350.4 207.7 351.7 208.9 351.5 209.6 C351.3 210.3 349.6 211 348 211 C346.4 211 344 210.1 342 209.5 C340 208.9 337.1 208.1 336 207.2 C334.9 206.3 334.3 204.6 335.5 204.2Z" fill="#e0e0e0"/><path d="M209.7 174.2 C209.5 172.2 210.7 167.8 212.1 165.8 C213.5 163.8 216.1 162.7 218.1 162.1 C220.1 161.5 222.8 161.3 224.2 162.1 C225.6 162.9 225.6 165 226.6 167 C227.6 169 230 172.6 230.2 174.2 C230.4 175.8 229.4 176.4 227.8 176.6 C226.2 176.8 222 175 220.6 175.4 C219.2 175.8 220.6 178.6 219.4 179 C218.2 179.4 214.9 178.7 213.3 177.9 C211.7 177.1 209.9 176.2 209.7 174.2Z" fill="#e0e0e0"/><path d="M177.4 351.7 C179 349.6 185.4 348.8 188.1 347.8 C190.8 346.8 190.9 345.8 193.7 345.5 C196.5 345.2 202.2 346.8 205 346 C207.8 345.2 208.2 341.8 210.6 340.5 C213 339.2 217.5 337.8 219.6 338.2 C221.7 338.6 222.6 340.4 223 342.7 C223.4 344.9 222.9 349.1 221.8 351.7 C220.7 354.3 217.7 355.9 216.2 358.5 C214.7 361.1 213.6 364.1 212.8 367.5 C212.1 370.9 212.6 375.7 211.7 378.7 C210.8 381.7 209.8 383.7 207.2 385.4 C204.6 387.1 199.4 388.8 196 388.8 C192.6 388.8 189.2 386.7 187 385.4 C184.8 384.1 183.6 383.6 182.5 381 C181.4 378.4 180.9 373.1 180.2 369.7 C179.5 366.3 179 363.7 178.5 360.7 C178 357.7 175.8 353.8 177.4 351.7Z" fill="#e0e0e0"/><path d="M331.3 86.7 C331.8 83.6 333.1 82.2 334.8 80.4 C336.6 78.6 339.5 76.3 341.8 75.6 C344.1 74.9 347.1 75.1 348.7 76.3 C350.3 77.5 352.1 81.6 351.5 82.5 C350.9 83.4 347.3 81.2 345.2 81.8 C343.1 82.4 340.6 84.1 339 86 C337.4 87.9 336.3 90.7 335.5 93 C334.7 95.3 334.6 99 334 100 C333.4 101 332.4 101.4 332 99.2 C331.6 97 330.8 89.8 331.3 86.7Z" fill="#e0e0e0"/><path d="M355.7 86 C356.9 85.3 360.3 86.1 362.6 86.7 C364.9 87.3 368.6 87.7 369.6 89.5 C370.7 91.3 369.4 95 368.9 97.8 C368.4 100.6 367 103.9 366.8 106.2 C366.6 108.5 366.5 110.4 367.5 111.8 C368.5 113.2 371.5 113.3 373 114.5 C374.5 115.7 376.2 117.2 376.5 118.7 C376.8 120.2 375.9 123 374.5 123.6 C373.1 124.2 370.1 122.8 368.2 122.2 C366.3 121.6 364.2 121.3 363.3 120.1 C362.4 118.9 362.4 116.8 362.6 115.2 C362.8 113.6 364.9 112.4 364.7 110.4 C364.5 108.4 362.1 105.5 361.2 103.4 C360.3 101.3 360.1 99.9 359.2 97.8 C358.3 95.7 356.3 92.9 355.7 90.9 C355.1 88.9 354.5 86.7 355.7 86Z" fill="#e0e0e0"/><path d="M326.4 100.6 C327 99.3 329.3 100.7 331.3 101.3 C333.3 101.9 336 103.5 338.3 104.1 C340.6 104.7 343.4 103.9 345.2 104.8 C347 105.7 348.8 108 349.4 109.7 C350 111.4 349.8 113.5 348.7 115.2 C347.6 116.9 345 119.5 343.1 120.1 C341.2 120.7 339.3 119.6 337.6 118.7 C335.9 117.8 334.3 116.1 332.7 114.5 C331.1 112.9 328.9 111.3 327.8 109 C326.8 106.7 325.8 101.9 326.4 100.6Z" fill="#e0e0e0"/><path d="M307 122.2 C306.8 120.1 308.1 118.5 309.7 117.3 C311.3 116.1 314.5 115 316.7 115.2 C318.9 115.4 321.6 117 323 118.7 C324.4 120.5 325 123.6 325 125.7 C325 127.8 324.3 130 323 131.2 C321.7 132.3 319.4 132.8 317.4 132.6 C315.4 132.4 312.8 131.5 311.1 129.8 C309.4 128.1 307.2 124.3 307 122.2Z" fill="#e0e0e0"/><path d="M311.1 144.5 C311.7 143.3 315.4 141.6 317.4 139.6 C319.4 137.6 321.8 132.6 323 132.6 C324.2 132.6 324.8 137.3 324.4 139.6 C324 141.9 322.6 145.3 320.9 146.5 C319.1 147.7 315.5 146.8 313.9 146.5 C312.3 146.2 310.5 145.7 311.1 144.5Z" fill="#e0e0e0"/><path d="M334.8 129.2 C336.4 128 342.6 129.8 345.2 129.2 C347.8 128.6 348.4 126.5 350.1 125.7 C351.9 124.9 353.6 123.7 355.7 124.3 C357.8 124.9 360.6 127.2 362.6 129.2 C364.6 131.2 366.6 133.8 367.5 136.1 C368.4 138.4 368.8 141.4 368.2 143.1 C367.6 144.8 365.9 146.5 364 146.5 C362.1 146.5 359.4 143.3 357.1 143.1 C354.8 142.9 352.2 144.6 350.1 145.2 C348 145.8 346.4 146.8 344.5 146.5 C342.6 146.2 340.5 144.8 339 143.1 C337.5 141.4 336.2 138.4 335.5 136.1 C334.8 133.8 333.2 130.3 334.8 129.2Z" fill="#e0e0e0"/><path d="M335.5 146.5 C336.2 145.6 339.6 145.9 341.8 146.5 C344 147.1 345.8 150 348.7 150 C351.6 150 356.6 146.5 359.2 146.5 C361.8 146.5 363.3 148.2 364 150 C364.7 151.8 363.8 155.2 363.3 157 C362.8 158.8 363.4 159.8 361.2 160.5 C359 161.2 353.1 161.8 350.1 161.2 C347.1 160.6 345.2 158.5 343.1 157 C341 155.5 338.9 153.8 337.6 152.1 C336.3 150.3 334.8 147.4 335.5 146.5Z" fill="#e0e0e0"/><path d="M329.2 154.9 C330.1 155.5 332.7 158.8 334.8 160.5 C336.9 162.2 339.8 163.9 341.8 165.3 C343.8 166.7 346 167.9 346.6 168.8 C347.2 169.7 346.5 170.9 345.2 170.9 C343.9 170.9 341.1 170.2 339 168.8 C336.9 167.4 334.3 164.6 332.7 162.6 C331.1 160.6 329.8 158.3 329.2 157 C328.6 155.7 328.3 154.3 329.2 154.9Z" fill="#e0e0e0"/><path d="M179.9 178.3 C179.6 177.1 181.2 175.2 182.3 173.6 C183.4 172 185.1 170.2 186.2 168.8 C187.2 167.4 187.5 165.4 188.6 164.9 C189.7 164.4 191.6 164.4 192.5 165.7 C193.4 167 194.2 170.8 194.1 172.8 C194 174.8 192.8 176.1 191.7 177.5 C190.6 178.9 189.1 180.9 187.8 181.4 C186.5 181.9 185.2 181.1 183.9 180.6 C182.6 180.1 180.2 179.5 179.9 178.3Z" fill="#e0e0e0"/><path d="M163.3 129.5 C163.7 129 165.8 129.1 166.5 129.8 C167.2 130.6 167.2 132.8 167.5 134 C167.8 135.2 168.2 137 168 137.3 C167.8 137.6 166.9 136.7 166.2 136 C165.5 135.3 164.5 134.1 164 133 C163.5 131.9 162.9 130 163.3 129.5Z" fill="#e0e0e0"/><path d="M312.5 102 C313.8 103.3 317.4 107.7 320 110 C322.6 112.3 325.6 114 328 116 C330.4 118 332.5 120 334.5 122 C336.5 124 337.6 126.2 340 128 C342.4 129.8 347.2 132.2 348.7 133" fill="none" stroke="#e0e0e0" stroke-width="7.5" stroke-linecap="round"/><path d="M318.8 151.4 C320 150.7 323.1 148.6 326 147 C328.9 145.4 334.5 142.6 336.2 141.7" fill="none" stroke="#e0e0e0" stroke-width="3.6" stroke-linecap="round"/><path d="M373.8 152.8 C375.2 153.9 378.9 157.3 382 159.5 C385.1 161.7 390.8 164.9 392.6 166" fill="none" stroke="#e0e0e0" stroke-width="4.2" stroke-linecap="round"/><path d="M382.1 161.9 C381.5 163 379.6 166.4 378.5 168.5 C377.4 170.6 375.8 173.4 375.2 174.4" fill="none" stroke="#e0e0e0" stroke-width="3.8" stroke-linecap="round"/><path d="M366.8 168.1 C367.7 168.3 370.5 169.2 372 169.5 C373.5 169.8 375.3 169.9 376 170" fill="none" stroke="#e0e0e0" stroke-width="2.6" stroke-linecap="round"/><path d="M96.8 289.5 C98 288 101.6 282.9 104 280.5 C106.4 278.1 108.8 276.5 111 275 C113.2 273.5 116.3 272 117.4 271.4" fill="none" stroke="#e0e0e0" stroke-width="3.6" stroke-linecap="round"/><path d="M104 11.4 C105.8 10.6 106.7 10.6 108.1 11.4 C109.5 12.2 111.1 14.1 112.2 16.3 C113.3 18.5 114.3 21.8 114.6 24.5 C114.9 27.2 114.1 30.3 113.8 32.7 C113.5 35.2 113.8 37 113 39.2 C112.2 41.4 110.4 44.2 108.9 45.8 C107.4 47.4 105.6 48.2 104 49 C102.4 49.8 100.3 50.2 99.1 50.7 C97.9 51.2 97 49.8 96.7 52.3 C96.4 54.8 97.2 60.5 97.5 65.4 C97.8 70.3 97.8 78.2 98.3 81.7 C98.8 85.2 99.7 86 100.8 86.6 C101.9 87.1 103.7 86.4 104.8 85 C105.9 83.6 106.3 78.1 107.3 78.4 C108.3 78.7 109.5 84.2 110.6 86.6 C111.7 89 112.8 90.8 114 93 C115.2 95.2 116.5 98.2 118 99.5 C119.5 100.8 121.5 101.2 123 100.5 C124.5 99.8 126.1 96.8 127 95 C127.9 93.2 128 93.5 128.5 89.9 C129 86.3 129.5 79 130.2 73.5 C130.9 68 131.8 61.8 132.6 57.2 C133.4 52.6 133.6 48.8 135 45.8 C136.4 42.8 137.8 42.3 140.8 39.2 C143.8 36.1 148.9 30.4 153 27 C157.1 23.6 161.6 21.1 165.3 18.8 C169 16.6 170.4 15.1 175 13.5 C179.6 11.9 187 10.1 193 9 C199 8 205.7 7.4 210.9 7.2 C216.1 7 219.9 6.6 224.4 8.1 C228.9 9.6 233.4 13 237.9 16.2 C242.4 19.3 247.7 23.2 251.4 27 C255.2 30.8 257.8 34.8 260.4 38.7 C262.9 42.6 265 46.4 266.7 50.4 C268.4 54.4 269.2 58.7 270.3 63 C271.4 67.3 271.9 71.5 273 76.4 C274.1 81.3 275.2 88.4 276.6 92.4 C278 96.4 280.3 97.5 281.3 100.5 C282.3 103.5 282.9 107.8 282.6 110.6 C282.3 113.4 281.2 115.6 279.3 117.3 C277.4 119 273.7 119.6 271.2 120.7 C268.7 121.8 267.2 122.4 264.4 124.1 C261.6 125.8 257.7 128.8 254.3 130.8 C250.9 132.8 247.6 134.2 244.2 136.2 C240.8 138.2 237.5 141.1 234.1 143 C230.7 144.9 227.4 146.2 224 147.7 C220.6 149.1 217.7 150.8 213.8 151.7 C209.9 152.6 204.7 152.9 200.4 153.1 C196.1 153.3 191.1 154.6 188.2 153.1 C185.3 151.6 183.6 146.7 182.8 144.3 C182 141.9 181.7 140.1 183.5 138.9 C185.3 137.7 189.7 137 193.6 136.9 C197.5 136.8 203.2 138.1 207.1 138.2 C211 138.3 214.8 138.4 217.2 137.6 C219.6 136.8 221.1 135.6 221.3 133.5 C221.5 131.4 219.8 127.1 218.6 124.8 C217.3 122.5 216.3 121.2 213.8 119.4 C211.3 117.6 206.5 115.5 203.7 114 C200.9 112.5 198.7 112.3 197 110.6 C195.3 108.9 194.5 105.9 193.6 103.8 C192.7 101.7 191 100.3 191.6 97.8 C192.2 95.3 194.4 90.8 197 89 C199.6 87.2 204.3 87.7 207.1 87 C209.9 86.3 212.1 86.3 213.8 85 C215.5 83.7 215.9 81.4 217.2 78.9 C218.4 76.4 220.7 72.8 221.3 70.1 C221.9 67.4 221 66.3 220.8 63 C220.6 59.7 220.8 53.4 219.9 50.4 C219 47.4 217.7 46.5 215.4 45 C213.2 43.5 210.1 42 206.4 41.4 C202.7 40.8 197.5 40.9 193 41.4 C188.5 41.9 182.5 43.5 179.5 44.1 C176.5 44.7 178.1 44.5 175 45 C171.9 45.5 164.9 46.6 161.2 47.4 C157.5 48.2 154.9 48.2 153 49.8 C151.1 51.4 150.3 53.2 149.8 57.2 C149.3 61.2 149.8 68.7 149.8 73.5 C149.8 78.3 150.6 81.7 149.8 85.8 C149 89.9 146.4 93.9 144.9 98 C143.4 102.1 142.9 106.9 140.8 110.3 C138.8 113.7 136 116.2 132.6 118.5 C129.2 120.8 124.5 123 120.4 124.2 C116.3 125.4 111.6 125.4 108.1 125.8 C104.5 126.2 102.5 127.1 99.1 126.6 C95.7 126 91.7 124.5 87.7 122.5 C83.8 120.5 78.8 117.1 75.4 114.4 C72 111.7 69.5 109.6 67.3 106.2 C65.1 102.8 63.5 98.1 62.4 94 C61.3 89.9 60.9 85.8 60.7 81.7 C60.6 77.6 60.8 73.1 61.5 69.4 C62.2 65.7 63.2 62.3 64.8 59.6 C66.4 56.9 68.8 54.7 71.3 53.1 C73.8 51.5 76.5 50.6 79.5 49.8 C82.5 49 87.1 48.9 89.3 48.2 C91.5 47.5 92.6 47.7 92.6 45.8 C92.6 43.9 90 40.3 89.3 36.8 C88.6 33.2 88.2 27.2 88.5 24.5 C88.8 21.8 89.5 21.8 91 20.4 C92.5 19 95.3 17.8 97.5 16.3 C99.7 14.8 102.2 12.2 104 11.4Z" fill="#f34b37"/><path d="M104 11.4 C105.8 10.6 106.7 10.6 108.1 11.4 C109.5 12.2 111.1 14.1 112.2 16.3 C113.3 18.5 114.3 21.8 114.6 24.5 C114.9 27.2 114.1 30.3 113.8 32.7 C113.5 35.2 113.8 37 113 39.2 C112.2 41.4 110.4 44.2 108.9 45.8 C107.4 47.4 105.6 48.2 104 49 C102.4 49.8 100.3 50.2 99.1 50.7 C97.9 51.2 97 49.8 96.7 52.3 C96.4 54.8 97.2 60.5 97.5 65.4 C97.8 70.3 97.8 78.2 98.3 81.7 C98.8 85.2 99.7 86 100.8 86.6 C101.9 87.1 103.7 86.4 104.8 85 C105.9 83.6 106.3 78.1 107.3 78.4 C108.3 78.7 109.5 84.2 110.6 86.6 C111.7 89 112.8 90.8 114 93 C115.2 95.2 116.5 98.2 118 99.5 C119.5 100.8 121.5 101.2 123 100.5 C124.5 99.8 126.1 96.8 127 95 C127.9 93.2 128 93.5 128.5 89.9 C129 86.3 129.5 79 130.2 73.5 C130.9 68 131.8 61.8 132.6 57.2 C133.4 52.6 133.6 48.8 135 45.8 C136.4 42.8 137.8 42.3 140.8 39.2 C143.8 36.1 148.9 30.4 153 27 C157.1 23.6 161.6 21.1 165.3 18.8 C169 16.6 170.4 15.1 175 13.5 C179.6 11.9 187 10.1 193 9 C199 8 205.7 7.4 210.9 7.2 C216.1 7 219.9 6.6 224.4 8.1 C228.9 9.6 233.4 13 237.9 16.2 C242.4 19.3 247.7 23.2 251.4 27 C255.2 30.8 257.8 34.8 260.4 38.7 C262.9 42.6 265 46.4 266.7 50.4 C268.4 54.4 269.2 58.7 270.3 63 C271.4 67.3 271.9 71.5 273 76.4 C274.1 81.3 275.2 88.4 276.6 92.4 C278 96.4 280.3 97.5 281.3 100.5 C282.3 103.5 282.9 107.8 282.6 110.6 C282.3 113.4 281.2 115.6 279.3 117.3 C277.4 119 273.7 119.6 271.2 120.7 C268.7 121.8 267.2 122.4 264.4 124.1 C261.6 125.8 257.7 128.8 254.3 130.8 C250.9 132.8 247.6 134.2 244.2 136.2 C240.8 138.2 237.5 141.1 234.1 143 C230.7 144.9 227.4 146.2 224 147.7 C220.6 149.1 217.7 150.8 213.8 151.7 C209.9 152.6 204.7 152.9 200.4 153.1 C196.1 153.3 191.1 154.6 188.2 153.1 C185.3 151.6 183.6 146.7 182.8 144.3 C182 141.9 181.7 140.1 183.5 138.9 C185.3 137.7 189.7 137 193.6 136.9 C197.5 136.8 203.2 138.1 207.1 138.2 C211 138.3 214.8 138.4 217.2 137.6 C219.6 136.8 221.1 135.6 221.3 133.5 C221.5 131.4 219.8 127.1 218.6 124.8 C217.3 122.5 216.3 121.2 213.8 119.4 C211.3 117.6 206.5 115.5 203.7 114 C200.9 112.5 198.7 112.3 197 110.6 C195.3 108.9 194.5 105.9 193.6 103.8 C192.7 101.7 191 100.3 191.6 97.8 C192.2 95.3 194.4 90.8 197 89 C199.6 87.2 204.3 87.7 207.1 87 C209.9 86.3 212.1 86.3 213.8 85 C215.5 83.7 215.9 81.4 217.2 78.9 C218.4 76.4 220.7 72.8 221.3 70.1 C221.9 67.4 221 66.3 220.8 63 C220.6 59.7 220.8 53.4 219.9 50.4 C219 47.4 217.7 46.5 215.4 45 C213.2 43.5 210.1 42 206.4 41.4 C202.7 40.8 197.5 40.9 193 41.4 C188.5 41.9 182.5 43.5 179.5 44.1 C176.5 44.7 178.1 44.5 175 45 C171.9 45.5 164.9 46.6 161.2 47.4 C157.5 48.2 154.9 48.2 153 49.8 C151.1 51.4 150.3 53.2 149.8 57.2 C149.3 61.2 149.8 68.7 149.8 73.5 C149.8 78.3 150.6 81.7 149.8 85.8 C149 89.9 146.4 93.9 144.9 98 C143.4 102.1 142.9 106.9 140.8 110.3 C138.8 113.7 136 116.2 132.6 118.5 C129.2 120.8 124.5 123 120.4 124.2 C116.3 125.4 111.6 125.4 108.1 125.8 C104.5 126.2 102.5 127.1 99.1 126.6 C95.7 126 91.7 124.5 87.7 122.5 C83.8 120.5 78.8 117.1 75.4 114.4 C72 111.7 69.5 109.6 67.3 106.2 C65.1 102.8 63.5 98.1 62.4 94 C61.3 89.9 60.9 85.8 60.7 81.7 C60.6 77.6 60.8 73.1 61.5 69.4 C62.2 65.7 63.2 62.3 64.8 59.6 C66.4 56.9 68.8 54.7 71.3 53.1 C73.8 51.5 76.5 50.6 79.5 49.8 C82.5 49 87.1 48.9 89.3 48.2 C91.5 47.5 92.6 47.7 92.6 45.8 C92.6 43.9 90 40.3 89.3 36.8 C88.6 33.2 88.2 27.2 88.5 24.5 C88.8 21.8 89.5 21.8 91 20.4 C92.5 19 95.3 17.8 97.5 16.3 C99.7 14.8 102.2 12.2 104 11.4Z" fill="url(#pholes)"/><path d="M31.5 119.8 C32.4 119 34.6 120.2 36 121 C37.4 121.8 38.5 122.6 40 124.6 C41.5 126.6 43.5 129.6 44.8 133 C46.1 136.4 47.1 141.8 47.8 145 C48.5 148.2 49.1 151.7 48.8 152.5 C48.5 153.3 47.3 151.8 46 150 C44.7 148.2 42.8 144.4 41 141.6 C39.2 138.8 36.7 135.6 35 133 C33.3 130.4 31.5 128 30.9 125.8 C30.3 123.6 30.6 120.6 31.5 119.8Z" fill="url(#pr75)"/><path d="M13.2 191.2 C14.4 187.7 15.8 183.1 18.7 180.1 C21.6 177.1 27.2 174.8 30.5 173.1 C33.8 171.4 35.1 170.5 38.4 170 C41.7 169.5 46.9 169.3 50.2 170 C53.5 170.7 54.1 173 58 173.9 C61.9 174.8 69.2 175 73.8 175.4 C78.4 175.8 82.6 175.1 85.5 176.2 C88.4 177.3 89.3 179.5 91 182 C92.7 184.5 94.5 188.4 95.5 191.2 C96.5 194 97.7 196.4 97.3 199 C96.9 201.6 94.3 204.4 93 207 C91.7 209.6 91 211.4 89.5 214.7 C88 217.9 85.3 223.2 84 226.5 C82.7 229.8 83.1 232 81.6 234.4 C80.1 236.8 77 239.3 75 241 C73 242.7 72.6 243.3 69.8 244.6 C67 245.8 61.5 247.7 58 248.5 C54.5 249.3 51.9 249.7 48.6 249.3 C45.3 248.9 41.2 248.4 38.4 246.2 C35.6 244 33.7 238.7 32 236 C30.3 233.3 30 231.5 28 230 C26 228.5 22.3 228.3 20 227 C17.7 225.7 15.4 224.5 14 222 C12.6 219.5 12 215.5 11.6 212 C11.2 208.5 11.3 204.5 11.6 201 C11.9 197.5 12 194.7 13.2 191.2Z" fill="#f34b37"/><path d="M13.2 191.2 C14.4 187.7 15.8 183.1 18.7 180.1 C21.6 177.1 27.2 174.8 30.5 173.1 C33.8 171.4 35.1 170.5 38.4 170 C41.7 169.5 46.9 169.3 50.2 170 C53.5 170.7 54.1 173 58 173.9 C61.9 174.8 69.2 175 73.8 175.4 C78.4 175.8 82.6 175.1 85.5 176.2 C88.4 177.3 89.3 179.5 91 182 C92.7 184.5 94.5 188.4 95.5 191.2 C96.5 194 97.7 196.4 97.3 199 C96.9 201.6 94.3 204.4 93 207 C91.7 209.6 91 211.4 89.5 214.7 C88 217.9 85.3 223.2 84 226.5 C82.7 229.8 83.1 232 81.6 234.4 C80.1 236.8 77 239.3 75 241 C73 242.7 72.6 243.3 69.8 244.6 C67 245.8 61.5 247.7 58 248.5 C54.5 249.3 51.9 249.7 48.6 249.3 C45.3 248.9 41.2 248.4 38.4 246.2 C35.6 244 33.7 238.7 32 236 C30.3 233.3 30 231.5 28 230 C26 228.5 22.3 228.3 20 227 C17.7 225.7 15.4 224.5 14 222 C12.6 219.5 12 215.5 11.6 212 C11.2 208.5 11.3 204.5 11.6 201 C11.9 197.5 12 194.7 13.2 191.2Z" fill="url(#pholes)"/><path d="M67 249 C67.5 248.5 70.5 251.8 72 254 C73.5 256.2 75.2 259.3 76 262 C76.8 264.7 77.2 267.7 77 270 C76.8 272.3 76 275 75 276 C74 277 72.5 277.2 71 276 C69.5 274.8 67.7 271.2 66 269 C64.3 266.8 61.7 264.5 61 263 C60.3 261.5 61 260 62 260 C63 260 65.8 263.5 67 263 C68.2 262.5 69 259.3 69 257 C69 254.7 66.5 249.5 67 249Z" fill="#f34b37"/><path d="M67 249 C67.5 248.5 70.5 251.8 72 254 C73.5 256.2 75.2 259.3 76 262 C76.8 264.7 77.2 267.7 77 270 C76.8 272.3 76 275 75 276 C74 277 72.5 277.2 71 276 C69.5 274.8 67.7 271.2 66 269 C64.3 266.8 61.7 264.5 61 263 C60.3 261.5 61 260 62 260 C63 260 65.8 263.5 67 263 C68.2 262.5 69 259.3 69 257 C69 254.7 66.5 249.5 67 249Z" fill="url(#pholes)"/><path d="M127.2 169.6 C127.7 166.7 129.3 161.8 131.1 159.4 C132.9 157 135.7 156.2 138.2 155.4 C140.7 154.6 144.1 154.3 146.1 154.3 C148.1 154.3 149.6 154.4 150 155.4 C150.4 156.4 147.6 158.6 148.4 160.2 C149.2 161.8 153.2 163.1 154.7 164.9 C156.1 166.7 157 168.8 157.1 171.2 C157.2 173.6 156.3 176.7 155.5 179.1 C154.7 181.5 152.7 183.4 152.4 185.4 C152.2 187.4 152.9 189.1 154 190.9 C155.1 192.7 157 194.3 158.7 196.4 C160.4 198.5 163.8 201.9 164 203.5 C164.2 205.1 161.2 206.4 160 206 C158.8 205.6 158.8 202.7 157.1 201.1 C155.4 199.5 152.1 198.2 150 196.4 C147.9 194.6 146.3 192.1 144.5 190.1 C142.7 188.1 141 185.9 139 184.6 C137 183.3 134.5 183.5 132.7 182.2 C130.9 180.9 128.9 178.8 128 176.7 C127.1 174.6 126.7 172.5 127.2 169.6Z" fill="#f34b37"/><path d="M127.2 169.6 C127.7 166.7 129.3 161.8 131.1 159.4 C132.9 157 135.7 156.2 138.2 155.4 C140.7 154.6 144.1 154.3 146.1 154.3 C148.1 154.3 149.6 154.4 150 155.4 C150.4 156.4 147.6 158.6 148.4 160.2 C149.2 161.8 153.2 163.1 154.7 164.9 C156.1 166.7 157 168.8 157.1 171.2 C157.2 173.6 156.3 176.7 155.5 179.1 C154.7 181.5 152.7 183.4 152.4 185.4 C152.2 187.4 152.9 189.1 154 190.9 C155.1 192.7 157 194.3 158.7 196.4 C160.4 198.5 163.8 201.9 164 203.5 C164.2 205.1 161.2 206.4 160 206 C158.8 205.6 158.8 202.7 157.1 201.1 C155.4 199.5 152.1 198.2 150 196.4 C147.9 194.6 146.3 192.1 144.5 190.1 C142.7 188.1 141 185.9 139 184.6 C137 183.3 134.5 183.5 132.7 182.2 C130.9 180.9 128.9 178.8 128 176.7 C127.1 174.6 126.7 172.5 127.2 169.6Z" fill="url(#pholes)"/><path d="M104 220.6 C105.4 218 111.2 215.5 115 213.3 C118.8 211.1 122.8 208.9 127 207.3 C131.2 205.7 134.9 204.4 140 203.6 C145.1 202.8 153.4 201.8 157.3 202.4 C161.2 203 161.3 205.9 163.3 207.3 C165.3 208.7 167.4 208.8 169.4 211 C171.4 213.2 173 217.6 175.4 220.6 C177.8 223.6 181 227 184 229 C187 231 190.4 231.9 193.6 232.7 C196.8 233.5 199.9 233.3 203 234 C206.1 234.7 210 235.7 212 237 C214 238.3 216.2 240.7 215 242 C213.8 243.3 208.2 244.3 205 245 C201.8 245.7 198.9 245.4 196 246 C193.1 246.6 190.3 247 187.5 248.4 C184.7 249.8 182 252 179 254.4 C176 256.8 172 260.6 169.4 263 C166.8 265.4 166.3 267.6 163.3 269 C160.3 270.4 155.2 271.2 151.2 271.4 C147.1 271.6 142.4 271.2 139 270.2 C135.6 269.2 133.7 267.1 130.7 265.3 C127.7 263.5 123.8 260.9 121 259.3 C118.2 257.7 115.1 257.5 113.7 255.7 C112.3 253.9 112.9 251.6 112.5 248.4 C112.1 245.2 112.3 239.5 111.3 236.3 C110.3 233.1 107.7 231.6 106.5 229 C105.3 226.4 102.6 223.2 104 220.6Z" fill="url(#pr75)"/><path d="M95.6 290.7 C96.6 289.9 99.6 294.8 102.8 295.6 C106 296.4 111 295.7 115 295.6 C119 295.5 123 295 127 295 C131 295 135.2 296.1 139 295.6 C142.8 295.1 147.8 293 150 292 C152.2 291 151.5 290.7 152.5 289.5 C153.5 288.3 155.2 286.5 156 284.7 C156.8 282.9 156.6 281.1 157.3 278.6 C158 276.2 158.6 272.4 160 270 C161.4 267.6 164.5 264 166 264 C167.5 264 169 266.9 169 270 C169 273.1 167.3 279.5 166 282.3 C164.7 285.1 162.2 285.4 161 287 C159.8 288.6 158.9 289.4 158.5 292 C158.1 294.6 159.1 299.6 158.5 302.8 C157.9 306 156.6 308.5 155 311.3 C153.4 314.1 151 317.4 148.8 319.8 C146.6 322.2 144.2 323.8 141.6 325.8 C139 327.8 135.4 330.7 133 331.9 C130.6 333.1 129 333.2 127 333 C125 332.8 123 332.3 121 330.7 C119 329.1 117.4 325.6 115 323.4 C112.6 321.2 108.9 319.6 106.5 317.4 C104.1 315.2 102 312.8 100.4 310 C98.8 307.2 97.6 303.6 96.8 300.4 C96 297.2 94.6 291.5 95.6 290.7Z" fill="#f34b37"/><path d="M95.6 290.7 C96.6 289.9 99.6 294.8 102.8 295.6 C106 296.4 111 295.7 115 295.6 C119 295.5 123 295 127 295 C131 295 135.2 296.1 139 295.6 C142.8 295.1 147.8 293 150 292 C152.2 291 151.5 290.7 152.5 289.5 C153.5 288.3 155.2 286.5 156 284.7 C156.8 282.9 156.6 281.1 157.3 278.6 C158 276.2 158.6 272.4 160 270 C161.4 267.6 164.5 264 166 264 C167.5 264 169 266.9 169 270 C169 273.1 167.3 279.5 166 282.3 C164.7 285.1 162.2 285.4 161 287 C159.8 288.6 158.9 289.4 158.5 292 C158.1 294.6 159.1 299.6 158.5 302.8 C157.9 306 156.6 308.5 155 311.3 C153.4 314.1 151 317.4 148.8 319.8 C146.6 322.2 144.2 323.8 141.6 325.8 C139 327.8 135.4 330.7 133 331.9 C130.6 333.1 129 333.2 127 333 C125 332.8 123 332.3 121 330.7 C119 329.1 117.4 325.6 115 323.4 C112.6 321.2 108.9 319.6 106.5 317.4 C104.1 315.2 102 312.8 100.4 310 C98.8 307.2 97.6 303.6 96.8 300.4 C96 297.2 94.6 291.5 95.6 290.7Z" fill="url(#pholes)"/><path d="M249.6 165.4 C251 164.8 256.7 164.2 260.5 164.3 C264.3 164.4 269 164.9 272.6 166 C276.2 167.1 279.9 169.3 282.3 170.9 C284.7 172.5 285.1 174.5 287.1 175.7 C289.1 176.9 290.8 177.3 294.4 178.1 C298 178.9 305.3 180.8 308.9 180.6 C312.5 180.4 314 177 316.2 177 C318.4 177 320.8 178.8 322.2 180.6 C323.6 182.4 324.2 185.2 324.6 187.8 C325 190.4 325.4 193.7 324.6 196.3 C323.8 198.9 322.4 201.8 319.8 203.6 C317.2 205.4 311.9 206.4 308.9 207.2 C305.9 208 303 207.2 301.6 208.4 C300.2 209.6 301.2 212 300.4 214.4 C299.6 216.8 297.4 219.9 296.8 222.9 C296.2 225.9 295.6 230.2 296.8 232.6 C298 235 301 235 304 237.4 C307 239.8 312.2 243.8 315 247 C317.8 250.2 319.8 253.2 321 256.8 C322.2 260.4 322.4 263.9 322.2 268.9 C322 273.9 321.2 281.6 319.8 287 C318.4 292.4 316.1 297.8 313.7 301.6 C311.3 305.4 309.1 308.6 305.3 310 C301.5 311.4 296.1 310.8 290.7 310 C285.2 309.2 278.7 306.4 272.6 305.2 C266.6 304 260.4 303.8 254.4 302.8 C248.3 301.8 242.4 301.1 236.3 299.1 C230.2 297.1 222.9 294.1 218.1 290.7 C213.3 287.3 210.3 281.6 207.3 278.6 C204.3 275.7 202.6 274.3 200 273 C197.4 271.7 193.8 272.5 192 271 C190.2 269.5 188.7 267 189 264 C189.3 261 192.2 256 194 253 C195.8 250 198 248.2 200 246 C202 243.8 205.5 242.3 206 240 C206.5 237.7 204 235 203 232 C202 229 200.2 225.2 200 222 C199.8 218.8 201.2 215.5 202 213 C202.8 210.5 203.1 208.3 204.8 207 C206.5 205.7 208.8 205.5 212 205 C215.2 204.5 219.5 204.4 224.2 204 C228.9 203.6 235 203.6 240 202.5 C245 201.4 250.2 199.7 254.4 197.7 C258.6 195.7 261.9 192.9 265.3 190.5 C268.7 188.1 272.5 185.4 275 183.2 C277.5 181 280 179.3 280.5 177.5 C281 175.7 279.3 173.8 278 172.5 C276.7 171.2 275.5 170.5 272.6 169.8 C269.7 169.1 263.9 168.6 260.5 168.3 C257.1 168 253.8 168.5 252 168 C250.2 167.5 248.2 166 249.6 165.4Z" fill="#f34b37"/><path d="M249.6 165.4 C251 164.8 256.7 164.2 260.5 164.3 C264.3 164.4 269 164.9 272.6 166 C276.2 167.1 279.9 169.3 282.3 170.9 C284.7 172.5 285.1 174.5 287.1 175.7 C289.1 176.9 290.8 177.3 294.4 178.1 C298 178.9 305.3 180.8 308.9 180.6 C312.5 180.4 314 177 316.2 177 C318.4 177 320.8 178.8 322.2 180.6 C323.6 182.4 324.2 185.2 324.6 187.8 C325 190.4 325.4 193.7 324.6 196.3 C323.8 198.9 322.4 201.8 319.8 203.6 C317.2 205.4 311.9 206.4 308.9 207.2 C305.9 208 303 207.2 301.6 208.4 C300.2 209.6 301.2 212 300.4 214.4 C299.6 216.8 297.4 219.9 296.8 222.9 C296.2 225.9 295.6 230.2 296.8 232.6 C298 235 301 235 304 237.4 C307 239.8 312.2 243.8 315 247 C317.8 250.2 319.8 253.2 321 256.8 C322.2 260.4 322.4 263.9 322.2 268.9 C322 273.9 321.2 281.6 319.8 287 C318.4 292.4 316.1 297.8 313.7 301.6 C311.3 305.4 309.1 308.6 305.3 310 C301.5 311.4 296.1 310.8 290.7 310 C285.2 309.2 278.7 306.4 272.6 305.2 C266.6 304 260.4 303.8 254.4 302.8 C248.3 301.8 242.4 301.1 236.3 299.1 C230.2 297.1 222.9 294.1 218.1 290.7 C213.3 287.3 210.3 281.6 207.3 278.6 C204.3 275.7 202.6 274.3 200 273 C197.4 271.7 193.8 272.5 192 271 C190.2 269.5 188.7 267 189 264 C189.3 261 192.2 256 194 253 C195.8 250 198 248.2 200 246 C202 243.8 205.5 242.3 206 240 C206.5 237.7 204 235 203 232 C202 229 200.2 225.2 200 222 C199.8 218.8 201.2 215.5 202 213 C202.8 210.5 203.1 208.3 204.8 207 C206.5 205.7 208.8 205.5 212 205 C215.2 204.5 219.5 204.4 224.2 204 C228.9 203.6 235 203.6 240 202.5 C245 201.4 250.2 199.7 254.4 197.7 C258.6 195.7 261.9 192.9 265.3 190.5 C268.7 188.1 272.5 185.4 275 183.2 C277.5 181 280 179.3 280.5 177.5 C281 175.7 279.3 173.8 278 172.5 C276.7 171.2 275.5 170.5 272.6 169.8 C269.7 169.1 263.9 168.6 260.5 168.3 C257.1 168 253.8 168.5 252 168 C250.2 167.5 248.2 166 249.6 165.4Z" fill="url(#pholes)"/><path d="M305 350.6 C305.4 349.9 307.4 353.3 309.5 354 C311.6 354.7 314.6 354.4 317.4 355 C320.2 355.6 324 356.2 326.4 357.3 C328.8 358.4 330.9 359.7 332 361.8 C333.1 363.9 334 367.9 333.1 369.7 C332.2 371.5 329.2 372.1 326.4 372.5 C323.6 372.9 318.5 371.7 316.3 372 C314.1 372.3 314.9 374.2 313 374.2 C311.1 374.2 306.3 373.3 305 372 C303.7 370.7 304.6 368.6 305 366.3 C305.4 364.1 307.3 361.1 307.3 358.5 C307.3 355.9 304.6 351.4 305 350.6Z" fill="url(#pr75)"/><path d="M335.5 204.2 C336.7 203.8 340.8 204.1 343 204.5 C345.2 204.9 347.6 206 349 206.8 C350.4 207.7 351.7 208.9 351.5 209.6 C351.3 210.3 349.6 211 348 211 C346.4 211 344 210.1 342 209.5 C340 208.9 337.1 208.1 336 207.2 C334.9 206.3 334.3 204.6 335.5 204.2Z" fill="#f34b37"/><path d="M335.5 204.2 C336.7 203.8 340.8 204.1 343 204.5 C345.2 204.9 347.6 206 349 206.8 C350.4 207.7 351.7 208.9 351.5 209.6 C351.3 210.3 349.6 211 348 211 C346.4 211 344 210.1 342 209.5 C340 208.9 337.1 208.1 336 207.2 C334.9 206.3 334.3 204.6 335.5 204.2Z" fill="url(#pholes)"/><path d="M209.7 174.2 C209.5 172.2 210.7 167.8 212.1 165.8 C213.5 163.8 216.1 162.7 218.1 162.1 C220.1 161.5 222.8 161.3 224.2 162.1 C225.6 162.9 225.6 165 226.6 167 C227.6 169 230 172.6 230.2 174.2 C230.4 175.8 229.4 176.4 227.8 176.6 C226.2 176.8 222 175 220.6 175.4 C219.2 175.8 220.6 178.6 219.4 179 C218.2 179.4 214.9 178.7 213.3 177.9 C211.7 177.1 209.9 176.2 209.7 174.2Z" fill="#f34b37"/><path d="M209.7 174.2 C209.5 172.2 210.7 167.8 212.1 165.8 C213.5 163.8 216.1 162.7 218.1 162.1 C220.1 161.5 222.8 161.3 224.2 162.1 C225.6 162.9 225.6 165 226.6 167 C227.6 169 230 172.6 230.2 174.2 C230.4 175.8 229.4 176.4 227.8 176.6 C226.2 176.8 222 175 220.6 175.4 C219.2 175.8 220.6 178.6 219.4 179 C218.2 179.4 214.9 178.7 213.3 177.9 C211.7 177.1 209.9 176.2 209.7 174.2Z" fill="url(#pholes)"/><path d="M177.4 351.7 C179 349.6 185.4 348.8 188.1 347.8 C190.8 346.8 190.9 345.8 193.7 345.5 C196.5 345.2 202.2 346.8 205 346 C207.8 345.2 208.2 341.8 210.6 340.5 C213 339.2 217.5 337.8 219.6 338.2 C221.7 338.6 222.6 340.4 223 342.7 C223.4 344.9 222.9 349.1 221.8 351.7 C220.7 354.3 217.7 355.9 216.2 358.5 C214.7 361.1 213.6 364.1 212.8 367.5 C212.1 370.9 212.6 375.7 211.7 378.7 C210.8 381.7 209.8 383.7 207.2 385.4 C204.6 387.1 199.4 388.8 196 388.8 C192.6 388.8 189.2 386.7 187 385.4 C184.8 384.1 183.6 383.6 182.5 381 C181.4 378.4 180.9 373.1 180.2 369.7 C179.5 366.3 179 363.7 178.5 360.7 C178 357.7 175.8 353.8 177.4 351.7Z" fill="#f34b37"/><path d="M177.4 351.7 C179 349.6 185.4 348.8 188.1 347.8 C190.8 346.8 190.9 345.8 193.7 345.5 C196.5 345.2 202.2 346.8 205 346 C207.8 345.2 208.2 341.8 210.6 340.5 C213 339.2 217.5 337.8 219.6 338.2 C221.7 338.6 222.6 340.4 223 342.7 C223.4 344.9 222.9 349.1 221.8 351.7 C220.7 354.3 217.7 355.9 216.2 358.5 C214.7 361.1 213.6 364.1 212.8 367.5 C212.1 370.9 212.6 375.7 211.7 378.7 C210.8 381.7 209.8 383.7 207.2 385.4 C204.6 387.1 199.4 388.8 196 388.8 C192.6 388.8 189.2 386.7 187 385.4 C184.8 384.1 183.6 383.6 182.5 381 C181.4 378.4 180.9 373.1 180.2 369.7 C179.5 366.3 179 363.7 178.5 360.7 C178 357.7 175.8 353.8 177.4 351.7Z" fill="url(#pholes)"/><path d="M331.3 86.7 C331.8 83.6 333.1 82.2 334.8 80.4 C336.6 78.6 339.5 76.3 341.8 75.6 C344.1 74.9 347.1 75.1 348.7 76.3 C350.3 77.5 352.1 81.6 351.5 82.5 C350.9 83.4 347.3 81.2 345.2 81.8 C343.1 82.4 340.6 84.1 339 86 C337.4 87.9 336.3 90.7 335.5 93 C334.7 95.3 334.6 99 334 100 C333.4 101 332.4 101.4 332 99.2 C331.6 97 330.8 89.8 331.3 86.7Z" fill="url(#pr55)"/><path d="M355.7 86 C356.9 85.3 360.3 86.1 362.6 86.7 C364.9 87.3 368.6 87.7 369.6 89.5 C370.7 91.3 369.4 95 368.9 97.8 C368.4 100.6 367 103.9 366.8 106.2 C366.6 108.5 366.5 110.4 367.5 111.8 C368.5 113.2 371.5 113.3 373 114.5 C374.5 115.7 376.2 117.2 376.5 118.7 C376.8 120.2 375.9 123 374.5 123.6 C373.1 124.2 370.1 122.8 368.2 122.2 C366.3 121.6 364.2 121.3 363.3 120.1 C362.4 118.9 362.4 116.8 362.6 115.2 C362.8 113.6 364.9 112.4 364.7 110.4 C364.5 108.4 362.1 105.5 361.2 103.4 C360.3 101.3 360.1 99.9 359.2 97.8 C358.3 95.7 356.3 92.9 355.7 90.9 C355.1 88.9 354.5 86.7 355.7 86Z" fill="url(#pr55)"/><path d="M326.4 100.6 C327 99.3 329.3 100.7 331.3 101.3 C333.3 101.9 336 103.5 338.3 104.1 C340.6 104.7 343.4 103.9 345.2 104.8 C347 105.7 348.8 108 349.4 109.7 C350 111.4 349.8 113.5 348.7 115.2 C347.6 116.9 345 119.5 343.1 120.1 C341.2 120.7 339.3 119.6 337.6 118.7 C335.9 117.8 334.3 116.1 332.7 114.5 C331.1 112.9 328.9 111.3 327.8 109 C326.8 106.7 325.8 101.9 326.4 100.6Z" fill="url(#pr55)"/><path d="M307 122.2 C306.8 120.1 308.1 118.5 309.7 117.3 C311.3 116.1 314.5 115 316.7 115.2 C318.9 115.4 321.6 117 323 118.7 C324.4 120.5 325 123.6 325 125.7 C325 127.8 324.3 130 323 131.2 C321.7 132.3 319.4 132.8 317.4 132.6 C315.4 132.4 312.8 131.5 311.1 129.8 C309.4 128.1 307.2 124.3 307 122.2Z" fill="url(#pr55)"/><path d="M311.1 144.5 C311.7 143.3 315.4 141.6 317.4 139.6 C319.4 137.6 321.8 132.6 323 132.6 C324.2 132.6 324.8 137.3 324.4 139.6 C324 141.9 322.6 145.3 320.9 146.5 C319.1 147.7 315.5 146.8 313.9 146.5 C312.3 146.2 310.5 145.7 311.1 144.5Z" fill="url(#pr55)"/><path d="M334.8 129.2 C336.4 128 342.6 129.8 345.2 129.2 C347.8 128.6 348.4 126.5 350.1 125.7 C351.9 124.9 353.6 123.7 355.7 124.3 C357.8 124.9 360.6 127.2 362.6 129.2 C364.6 131.2 366.6 133.8 367.5 136.1 C368.4 138.4 368.8 141.4 368.2 143.1 C367.6 144.8 365.9 146.5 364 146.5 C362.1 146.5 359.4 143.3 357.1 143.1 C354.8 142.9 352.2 144.6 350.1 145.2 C348 145.8 346.4 146.8 344.5 146.5 C342.6 146.2 340.5 144.8 339 143.1 C337.5 141.4 336.2 138.4 335.5 136.1 C334.8 133.8 333.2 130.3 334.8 129.2Z" fill="url(#pr55)"/><path d="M335.5 146.5 C336.2 145.6 339.6 145.9 341.8 146.5 C344 147.1 345.8 150 348.7 150 C351.6 150 356.6 146.5 359.2 146.5 C361.8 146.5 363.3 148.2 364 150 C364.7 151.8 363.8 155.2 363.3 157 C362.8 158.8 363.4 159.8 361.2 160.5 C359 161.2 353.1 161.8 350.1 161.2 C347.1 160.6 345.2 158.5 343.1 157 C341 155.5 338.9 153.8 337.6 152.1 C336.3 150.3 334.8 147.4 335.5 146.5Z" fill="url(#pr55)"/><path d="M329.2 154.9 C330.1 155.5 332.7 158.8 334.8 160.5 C336.9 162.2 339.8 163.9 341.8 165.3 C343.8 166.7 346 167.9 346.6 168.8 C347.2 169.7 346.5 170.9 345.2 170.9 C343.9 170.9 341.1 170.2 339 168.8 C336.9 167.4 334.3 164.6 332.7 162.6 C331.1 160.6 329.8 158.3 329.2 157 C328.6 155.7 328.3 154.3 329.2 154.9Z" fill="url(#pr55)"/><path d="M179.9 178.3 C179.6 177.1 181.2 175.2 182.3 173.6 C183.4 172 185.1 170.2 186.2 168.8 C187.2 167.4 187.5 165.4 188.6 164.9 C189.7 164.4 191.6 164.4 192.5 165.7 C193.4 167 194.2 170.8 194.1 172.8 C194 174.8 192.8 176.1 191.7 177.5 C190.6 178.9 189.1 180.9 187.8 181.4 C186.5 181.9 185.2 181.1 183.9 180.6 C182.6 180.1 180.2 179.5 179.9 178.3Z" fill="#f34b37"/><path d="M179.9 178.3 C179.6 177.1 181.2 175.2 182.3 173.6 C183.4 172 185.1 170.2 186.2 168.8 C187.2 167.4 187.5 165.4 188.6 164.9 C189.7 164.4 191.6 164.4 192.5 165.7 C193.4 167 194.2 170.8 194.1 172.8 C194 174.8 192.8 176.1 191.7 177.5 C190.6 178.9 189.1 180.9 187.8 181.4 C186.5 181.9 185.2 181.1 183.9 180.6 C182.6 180.1 180.2 179.5 179.9 178.3Z" fill="url(#pholes)"/><path d="M163.3 129.5 C163.7 129 165.8 129.1 166.5 129.8 C167.2 130.6 167.2 132.8 167.5 134 C167.8 135.2 168.2 137 168 137.3 C167.8 137.6 166.9 136.7 166.2 136 C165.5 135.3 164.5 134.1 164 133 C163.5 131.9 162.9 130 163.3 129.5Z" fill="#f34b37"/><path d="M163.3 129.5 C163.7 129 165.8 129.1 166.5 129.8 C167.2 130.6 167.2 132.8 167.5 134 C167.8 135.2 168.2 137 168 137.3 C167.8 137.6 166.9 136.7 166.2 136 C165.5 135.3 164.5 134.1 164 133 C163.5 131.9 162.9 130 163.3 129.5Z" fill="url(#pholes)"/><g clip-path="url(#c_S)"><path d="M130 0 L300 0 L300 80 L275 80 L262 40 L240 20 L210 12 L180 16 L150 32 L135 50 L128 50Z" fill="#e0e0e0"/><path d="M130 0 L300 0 L300 80 L275 80 L262 40 L240 20 L210 12 L180 16 L150 32 L135 50 L128 50Z" fill="url(#pr75)"/></g><g clip-path="url(#c_R_MAIN)"><path d="M228 236 L300 230 L330 240 L330 320 L200 320 L200 282 L215 262Z" fill="#e0e0e0"/><path d="M228 236 L300 230 L330 240 L330 320 L200 320 L200 282 L215 262Z" fill="url(#pr55)"/></g><g clip-path="url(#c_Y_RING)"><path d="M55 187 L65 186 L72 190 L70 200 L64 210 L58 220 L50 227 L42 231 L34 229 L31 222 L34 212 L42 202 L48 194Z" fill="#e0e0e0"/><path d="M55 187 L65 186 L72 190 L70 200 L64 210 L58 220 L50 227 L42 231 L34 229 L31 222 L34 212 L42 202 L48 194Z" fill="url(#pr35)"/></g><path d="M244 232 C244.3 230.2 247 227.4 250 226 C253 224.6 257.3 224.7 262 223.5 C266.7 222.3 273.3 220.3 278 219 C282.7 217.7 286.7 215.3 290 215.5 C293.3 215.7 296.3 217.4 298 220 C299.7 222.6 301.2 228.1 300 231 C298.8 233.9 295.2 236.2 291 237.5 C286.8 238.8 280.2 238.7 275 239 C269.8 239.3 264.5 239.8 260 239.5 C255.5 239.2 250.7 238.2 248 237 C245.3 235.8 243.7 233.8 244 232Z" fill="#eeeeee"/><path d="M244 232 C244.3 230.2 247 227.4 250 226 C253 224.6 257.3 224.7 262 223.5 C266.7 222.3 273.3 220.3 278 219 C282.7 217.7 286.7 215.3 290 215.5 C293.3 215.7 296.3 217.4 298 220 C299.7 222.6 301.2 228.1 300 231 C298.8 233.9 295.2 236.2 291 237.5 C286.8 238.8 280.2 238.7 275 239 C269.8 239.3 264.5 239.8 260 239.5 C255.5 239.2 250.7 238.2 248 237 C245.3 235.8 243.7 233.8 244 232Z" fill="url(#pr20)"/><ellipse cx="186.6" cy="198.8" rx="4" ry="2.5" transform="rotate(-35 186.6 198.8)" fill="#f34b37"/><circle cx="197.3" cy="193.2" r="1.8" fill="#f34b37"/><path d="M312.5 102 C313.8 103.3 317.4 107.7 320 110 C322.6 112.3 325.6 114 328 116 C330.4 118 332.5 120 334.5 122 C336.5 124 337.6 126.2 340 128 C342.4 129.8 347.2 132.2 348.7 133" fill="none" stroke="#f34b37" stroke-opacity="0.8" stroke-width="7.5" stroke-linecap="round"/><path d="M318.8 151.4 C320 150.7 323.1 148.6 326 147 C328.9 145.4 334.5 142.6 336.2 141.7" fill="none" stroke="#f34b37" stroke-opacity="0.8" stroke-width="3.6" stroke-linecap="round"/><path d="M373.8 152.8 C375.2 153.9 378.9 157.3 382 159.5 C385.1 161.7 390.8 164.9 392.6 166" fill="none" stroke="#f34b37" stroke-opacity="0.8" stroke-width="4.2" stroke-linecap="round"/><path d="M382.1 161.9 C381.5 163 379.6 166.4 378.5 168.5 C377.4 170.6 375.8 173.4 375.2 174.4" fill="none" stroke="#f34b37" stroke-opacity="0.8" stroke-width="3.8" stroke-linecap="round"/><path d="M366.8 168.1 C367.7 168.3 370.5 169.2 372 169.5 C373.5 169.8 375.3 169.9 376 170" fill="none" stroke="#f34b37" stroke-opacity="0.8" stroke-width="2.6" stroke-linecap="round"/><path d="M96.8 289.5 C98 288 101.6 282.9 104 280.5 C106.4 278.1 108.8 276.5 111 275 C113.2 273.5 116.3 272 117.4 271.4" fill="none" stroke="#f34b37" stroke-opacity="0.8" stroke-width="3.6" stroke-linecap="round"/>
<path d="M42.2 357.4 L42.2 320 A37.5 37.5 0 0 1 68.9 383.8 Z" fill="#fe6246"/><path d="M42.2 357.4 L68.9 383.8 A37.5 37.5 0 1 1 42.2 320 Z" fill="#dfdfdf"/>
<rect x="0" y="0" width="400" height="399" fill="none" stroke="#000" stroke-width="1.3"/>
</g>
<g transform="translate(929 110.3)">
<path d="M104 11.4 C105.8 10.6 106.7 10.6 108.1 11.4 C109.5 12.2 111.1 14.1 112.2 16.3 C113.3 18.5 114.3 21.8 114.6 24.5 C114.9 27.2 114.1 30.3 113.8 32.7 C113.5 35.2 113.8 37 113 39.2 C112.2 41.4 110.4 44.2 108.9 45.8 C107.4 47.4 105.6 48.2 104 49 C102.4 49.8 100.3 50.2 99.1 50.7 C97.9 51.2 97 49.8 96.7 52.3 C96.4 54.8 97.2 60.5 97.5 65.4 C97.8 70.3 97.8 78.2 98.3 81.7 C98.8 85.2 99.7 86 100.8 86.6 C101.9 87.1 103.7 86.4 104.8 85 C105.9 83.6 106.3 78.1 107.3 78.4 C108.3 78.7 109.5 84.2 110.6 86.6 C111.7 89 112.8 90.8 114 93 C115.2 95.2 116.5 98.2 118 99.5 C119.5 100.8 121.5 101.2 123 100.5 C124.5 99.8 126.1 96.8 127 95 C127.9 93.2 128 93.5 128.5 89.9 C129 86.3 129.5 79 130.2 73.5 C130.9 68 131.8 61.8 132.6 57.2 C133.4 52.6 133.6 48.8 135 45.8 C136.4 42.8 137.8 42.3 140.8 39.2 C143.8 36.1 148.9 30.4 153 27 C157.1 23.6 161.6 21.1 165.3 18.8 C169 16.6 170.4 15.1 175 13.5 C179.6 11.9 187 10.1 193 9 C199 8 205.7 7.4 210.9 7.2 C216.1 7 219.9 6.6 224.4 8.1 C228.9 9.6 233.4 13 237.9 16.2 C242.4 19.3 247.7 23.2 251.4 27 C255.2 30.8 257.8 34.8 260.4 38.7 C262.9 42.6 265 46.4 266.7 50.4 C268.4 54.4 269.2 58.7 270.3 63 C271.4 67.3 271.9 71.5 273 76.4 C274.1 81.3 275.2 88.4 276.6 92.4 C278 96.4 280.3 97.5 281.3 100.5 C282.3 103.5 282.9 107.8 282.6 110.6 C282.3 113.4 281.2 115.6 279.3 117.3 C277.4 119 273.7 119.6 271.2 120.7 C268.7 121.8 267.2 122.4 264.4 124.1 C261.6 125.8 257.7 128.8 254.3 130.8 C250.9 132.8 247.6 134.2 244.2 136.2 C240.8 138.2 237.5 141.1 234.1 143 C230.7 144.9 227.4 146.2 224 147.7 C220.6 149.1 217.7 150.8 213.8 151.7 C209.9 152.6 204.7 152.9 200.4 153.1 C196.1 153.3 191.1 154.6 188.2 153.1 C185.3 151.6 183.6 146.7 182.8 144.3 C182 141.9 181.7 140.1 183.5 138.9 C185.3 137.7 189.7 137 193.6 136.9 C197.5 136.8 203.2 138.1 207.1 138.2 C211 138.3 214.8 138.4 217.2 137.6 C219.6 136.8 221.1 135.6 221.3 133.5 C221.5 131.4 219.8 127.1 218.6 124.8 C217.3 122.5 216.3 121.2 213.8 119.4 C211.3 117.6 206.5 115.5 203.7 114 C200.9 112.5 198.7 112.3 197 110.6 C195.3 108.9 194.5 105.9 193.6 103.8 C192.7 101.7 191 100.3 191.6 97.8 C192.2 95.3 194.4 90.8 197 89 C199.6 87.2 204.3 87.7 207.1 87 C209.9 86.3 212.1 86.3 213.8 85 C215.5 83.7 215.9 81.4 217.2 78.9 C218.4 76.4 220.7 72.8 221.3 70.1 C221.9 67.4 221 66.3 220.8 63 C220.6 59.7 220.8 53.4 219.9 50.4 C219 47.4 217.7 46.5 215.4 45 C213.2 43.5 210.1 42 206.4 41.4 C202.7 40.8 197.5 40.9 193 41.4 C188.5 41.9 182.5 43.5 179.5 44.1 C176.5 44.7 178.1 44.5 175 45 C171.9 45.5 164.9 46.6 161.2 47.4 C157.5 48.2 154.9 48.2 153 49.8 C151.1 51.4 150.3 53.2 149.8 57.2 C149.3 61.2 149.8 68.7 149.8 73.5 C149.8 78.3 150.6 81.7 149.8 85.8 C149 89.9 146.4 93.9 144.9 98 C143.4 102.1 142.9 106.9 140.8 110.3 C138.8 113.7 136 116.2 132.6 118.5 C129.2 120.8 124.5 123 120.4 124.2 C116.3 125.4 111.6 125.4 108.1 125.8 C104.5 126.2 102.5 127.1 99.1 126.6 C95.7 126 91.7 124.5 87.7 122.5 C83.8 120.5 78.8 117.1 75.4 114.4 C72 111.7 69.5 109.6 67.3 106.2 C65.1 102.8 63.5 98.1 62.4 94 C61.3 89.9 60.9 85.8 60.7 81.7 C60.6 77.6 60.8 73.1 61.5 69.4 C62.2 65.7 63.2 62.3 64.8 59.6 C66.4 56.9 68.8 54.7 71.3 53.1 C73.8 51.5 76.5 50.6 79.5 49.8 C82.5 49 87.1 48.9 89.3 48.2 C91.5 47.5 92.6 47.7 92.6 45.8 C92.6 43.9 90 40.3 89.3 36.8 C88.6 33.2 88.2 27.2 88.5 24.5 C88.8 21.8 89.5 21.8 91 20.4 C92.5 19 95.3 17.8 97.5 16.3 C99.7 14.8 102.2 12.2 104 11.4Z" fill="#e0e0e0"/><path d="M31.5 119.8 C32.4 119 34.6 120.2 36 121 C37.4 121.8 38.5 122.6 40 124.6 C41.5 126.6 43.5 129.6 44.8 133 C46.1 136.4 47.1 141.8 47.8 145 C48.5 148.2 49.1 151.7 48.8 152.5 C48.5 153.3 47.3 151.8 46 150 C44.7 148.2 42.8 144.4 41 141.6 C39.2 138.8 36.7 135.6 35 133 C33.3 130.4 31.5 128 30.9 125.8 C30.3 123.6 30.6 120.6 31.5 119.8Z" fill="#e0e0e0"/><path d="M13.2 191.2 C14.4 187.7 15.8 183.1 18.7 180.1 C21.6 177.1 27.2 174.8 30.5 173.1 C33.8 171.4 35.1 170.5 38.4 170 C41.7 169.5 46.9 169.3 50.2 170 C53.5 170.7 54.1 173 58 173.9 C61.9 174.8 69.2 175 73.8 175.4 C78.4 175.8 82.6 175.1 85.5 176.2 C88.4 177.3 89.3 179.5 91 182 C92.7 184.5 94.5 188.4 95.5 191.2 C96.5 194 97.7 196.4 97.3 199 C96.9 201.6 94.3 204.4 93 207 C91.7 209.6 91 211.4 89.5 214.7 C88 217.9 85.3 223.2 84 226.5 C82.7 229.8 83.1 232 81.6 234.4 C80.1 236.8 77 239.3 75 241 C73 242.7 72.6 243.3 69.8 244.6 C67 245.8 61.5 247.7 58 248.5 C54.5 249.3 51.9 249.7 48.6 249.3 C45.3 248.9 41.2 248.4 38.4 246.2 C35.6 244 33.7 238.7 32 236 C30.3 233.3 30 231.5 28 230 C26 228.5 22.3 228.3 20 227 C17.7 225.7 15.4 224.5 14 222 C12.6 219.5 12 215.5 11.6 212 C11.2 208.5 11.3 204.5 11.6 201 C11.9 197.5 12 194.7 13.2 191.2Z" fill="#e0e0e0"/><path d="M67 249 C67.5 248.5 70.5 251.8 72 254 C73.5 256.2 75.2 259.3 76 262 C76.8 264.7 77.2 267.7 77 270 C76.8 272.3 76 275 75 276 C74 277 72.5 277.2 71 276 C69.5 274.8 67.7 271.2 66 269 C64.3 266.8 61.7 264.5 61 263 C60.3 261.5 61 260 62 260 C63 260 65.8 263.5 67 263 C68.2 262.5 69 259.3 69 257 C69 254.7 66.5 249.5 67 249Z" fill="#e0e0e0"/><path d="M127.2 169.6 C127.7 166.7 129.3 161.8 131.1 159.4 C132.9 157 135.7 156.2 138.2 155.4 C140.7 154.6 144.1 154.3 146.1 154.3 C148.1 154.3 149.6 154.4 150 155.4 C150.4 156.4 147.6 158.6 148.4 160.2 C149.2 161.8 153.2 163.1 154.7 164.9 C156.1 166.7 157 168.8 157.1 171.2 C157.2 173.6 156.3 176.7 155.5 179.1 C154.7 181.5 152.7 183.4 152.4 185.4 C152.2 187.4 152.9 189.1 154 190.9 C155.1 192.7 157 194.3 158.7 196.4 C160.4 198.5 163.8 201.9 164 203.5 C164.2 205.1 161.2 206.4 160 206 C158.8 205.6 158.8 202.7 157.1 201.1 C155.4 199.5 152.1 198.2 150 196.4 C147.9 194.6 146.3 192.1 144.5 190.1 C142.7 188.1 141 185.9 139 184.6 C137 183.3 134.5 183.5 132.7 182.2 C130.9 180.9 128.9 178.8 128 176.7 C127.1 174.6 126.7 172.5 127.2 169.6Z" fill="#e0e0e0"/><path d="M104 220.6 C105.4 218 111.2 215.5 115 213.3 C118.8 211.1 122.8 208.9 127 207.3 C131.2 205.7 134.9 204.4 140 203.6 C145.1 202.8 153.4 201.8 157.3 202.4 C161.2 203 161.3 205.9 163.3 207.3 C165.3 208.7 167.4 208.8 169.4 211 C171.4 213.2 173 217.6 175.4 220.6 C177.8 223.6 181 227 184 229 C187 231 190.4 231.9 193.6 232.7 C196.8 233.5 199.9 233.3 203 234 C206.1 234.7 210 235.7 212 237 C214 238.3 216.2 240.7 215 242 C213.8 243.3 208.2 244.3 205 245 C201.8 245.7 198.9 245.4 196 246 C193.1 246.6 190.3 247 187.5 248.4 C184.7 249.8 182 252 179 254.4 C176 256.8 172 260.6 169.4 263 C166.8 265.4 166.3 267.6 163.3 269 C160.3 270.4 155.2 271.2 151.2 271.4 C147.1 271.6 142.4 271.2 139 270.2 C135.6 269.2 133.7 267.1 130.7 265.3 C127.7 263.5 123.8 260.9 121 259.3 C118.2 257.7 115.1 257.5 113.7 255.7 C112.3 253.9 112.9 251.6 112.5 248.4 C112.1 245.2 112.3 239.5 111.3 236.3 C110.3 233.1 107.7 231.6 106.5 229 C105.3 226.4 102.6 223.2 104 220.6Z" fill="#e0e0e0"/><path d="M95.6 290.7 C96.6 289.9 99.6 294.8 102.8 295.6 C106 296.4 111 295.7 115 295.6 C119 295.5 123 295 127 295 C131 295 135.2 296.1 139 295.6 C142.8 295.1 147.8 293 150 292 C152.2 291 151.5 290.7 152.5 289.5 C153.5 288.3 155.2 286.5 156 284.7 C156.8 282.9 156.6 281.1 157.3 278.6 C158 276.2 158.6 272.4 160 270 C161.4 267.6 164.5 264 166 264 C167.5 264 169 266.9 169 270 C169 273.1 167.3 279.5 166 282.3 C164.7 285.1 162.2 285.4 161 287 C159.8 288.6 158.9 289.4 158.5 292 C158.1 294.6 159.1 299.6 158.5 302.8 C157.9 306 156.6 308.5 155 311.3 C153.4 314.1 151 317.4 148.8 319.8 C146.6 322.2 144.2 323.8 141.6 325.8 C139 327.8 135.4 330.7 133 331.9 C130.6 333.1 129 333.2 127 333 C125 332.8 123 332.3 121 330.7 C119 329.1 117.4 325.6 115 323.4 C112.6 321.2 108.9 319.6 106.5 317.4 C104.1 315.2 102 312.8 100.4 310 C98.8 307.2 97.6 303.6 96.8 300.4 C96 297.2 94.6 291.5 95.6 290.7Z" fill="#e0e0e0"/><path d="M249.6 165.4 C251 164.8 256.7 164.2 260.5 164.3 C264.3 164.4 269 164.9 272.6 166 C276.2 167.1 279.9 169.3 282.3 170.9 C284.7 172.5 285.1 174.5 287.1 175.7 C289.1 176.9 290.8 177.3 294.4 178.1 C298 178.9 305.3 180.8 308.9 180.6 C312.5 180.4 314 177 316.2 177 C318.4 177 320.8 178.8 322.2 180.6 C323.6 182.4 324.2 185.2 324.6 187.8 C325 190.4 325.4 193.7 324.6 196.3 C323.8 198.9 322.4 201.8 319.8 203.6 C317.2 205.4 311.9 206.4 308.9 207.2 C305.9 208 303 207.2 301.6 208.4 C300.2 209.6 301.2 212 300.4 214.4 C299.6 216.8 297.4 219.9 296.8 222.9 C296.2 225.9 295.6 230.2 296.8 232.6 C298 235 301 235 304 237.4 C307 239.8 312.2 243.8 315 247 C317.8 250.2 319.8 253.2 321 256.8 C322.2 260.4 322.4 263.9 322.2 268.9 C322 273.9 321.2 281.6 319.8 287 C318.4 292.4 316.1 297.8 313.7 301.6 C311.3 305.4 309.1 308.6 305.3 310 C301.5 311.4 296.1 310.8 290.7 310 C285.2 309.2 278.7 306.4 272.6 305.2 C266.6 304 260.4 303.8 254.4 302.8 C248.3 301.8 242.4 301.1 236.3 299.1 C230.2 297.1 222.9 294.1 218.1 290.7 C213.3 287.3 210.3 281.6 207.3 278.6 C204.3 275.7 202.6 274.3 200 273 C197.4 271.7 193.8 272.5 192 271 C190.2 269.5 188.7 267 189 264 C189.3 261 192.2 256 194 253 C195.8 250 198 248.2 200 246 C202 243.8 205.5 242.3 206 240 C206.5 237.7 204 235 203 232 C202 229 200.2 225.2 200 222 C199.8 218.8 201.2 215.5 202 213 C202.8 210.5 203.1 208.3 204.8 207 C206.5 205.7 208.8 205.5 212 205 C215.2 204.5 219.5 204.4 224.2 204 C228.9 203.6 235 203.6 240 202.5 C245 201.4 250.2 199.7 254.4 197.7 C258.6 195.7 261.9 192.9 265.3 190.5 C268.7 188.1 272.5 185.4 275 183.2 C277.5 181 280 179.3 280.5 177.5 C281 175.7 279.3 173.8 278 172.5 C276.7 171.2 275.5 170.5 272.6 169.8 C269.7 169.1 263.9 168.6 260.5 168.3 C257.1 168 253.8 168.5 252 168 C250.2 167.5 248.2 166 249.6 165.4Z" fill="#e0e0e0"/><path d="M305 350.6 C305.4 349.9 307.4 353.3 309.5 354 C311.6 354.7 314.6 354.4 317.4 355 C320.2 355.6 324 356.2 326.4 357.3 C328.8 358.4 330.9 359.7 332 361.8 C333.1 363.9 334 367.9 333.1 369.7 C332.2 371.5 329.2 372.1 326.4 372.5 C323.6 372.9 318.5 371.7 316.3 372 C314.1 372.3 314.9 374.2 313 374.2 C311.1 374.2 306.3 373.3 305 372 C303.7 370.7 304.6 368.6 305 366.3 C305.4 364.1 307.3 361.1 307.3 358.5 C307.3 355.9 304.6 351.4 305 350.6Z" fill="#e0e0e0"/><path d="M335.5 204.2 C336.7 203.8 340.8 204.1 343 204.5 C345.2 204.9 347.6 206 349 206.8 C350.4 207.7 351.7 208.9 351.5 209.6 C351.3 210.3 349.6 211 348 211 C346.4 211 344 210.1 342 209.5 C340 208.9 337.1 208.1 336 207.2 C334.9 206.3 334.3 204.6 335.5 204.2Z" fill="#e0e0e0"/><path d="M209.7 174.2 C209.5 172.2 210.7 167.8 212.1 165.8 C213.5 163.8 216.1 162.7 218.1 162.1 C220.1 161.5 222.8 161.3 224.2 162.1 C225.6 162.9 225.6 165 226.6 167 C227.6 169 230 172.6 230.2 174.2 C230.4 175.8 229.4 176.4 227.8 176.6 C226.2 176.8 222 175 220.6 175.4 C219.2 175.8 220.6 178.6 219.4 179 C218.2 179.4 214.9 178.7 213.3 177.9 C211.7 177.1 209.9 176.2 209.7 174.2Z" fill="#e0e0e0"/><path d="M177.4 351.7 C179 349.6 185.4 348.8 188.1 347.8 C190.8 346.8 190.9 345.8 193.7 345.5 C196.5 345.2 202.2 346.8 205 346 C207.8 345.2 208.2 341.8 210.6 340.5 C213 339.2 217.5 337.8 219.6 338.2 C221.7 338.6 222.6 340.4 223 342.7 C223.4 344.9 222.9 349.1 221.8 351.7 C220.7 354.3 217.7 355.9 216.2 358.5 C214.7 361.1 213.6 364.1 212.8 367.5 C212.1 370.9 212.6 375.7 211.7 378.7 C210.8 381.7 209.8 383.7 207.2 385.4 C204.6 387.1 199.4 388.8 196 388.8 C192.6 388.8 189.2 386.7 187 385.4 C184.8 384.1 183.6 383.6 182.5 381 C181.4 378.4 180.9 373.1 180.2 369.7 C179.5 366.3 179 363.7 178.5 360.7 C178 357.7 175.8 353.8 177.4 351.7Z" fill="#e0e0e0"/><path d="M331.3 86.7 C331.8 83.6 333.1 82.2 334.8 80.4 C336.6 78.6 339.5 76.3 341.8 75.6 C344.1 74.9 347.1 75.1 348.7 76.3 C350.3 77.5 352.1 81.6 351.5 82.5 C350.9 83.4 347.3 81.2 345.2 81.8 C343.1 82.4 340.6 84.1 339 86 C337.4 87.9 336.3 90.7 335.5 93 C334.7 95.3 334.6 99 334 100 C333.4 101 332.4 101.4 332 99.2 C331.6 97 330.8 89.8 331.3 86.7Z" fill="#e0e0e0"/><path d="M355.7 86 C356.9 85.3 360.3 86.1 362.6 86.7 C364.9 87.3 368.6 87.7 369.6 89.5 C370.7 91.3 369.4 95 368.9 97.8 C368.4 100.6 367 103.9 366.8 106.2 C366.6 108.5 366.5 110.4 367.5 111.8 C368.5 113.2 371.5 113.3 373 114.5 C374.5 115.7 376.2 117.2 376.5 118.7 C376.8 120.2 375.9 123 374.5 123.6 C373.1 124.2 370.1 122.8 368.2 122.2 C366.3 121.6 364.2 121.3 363.3 120.1 C362.4 118.9 362.4 116.8 362.6 115.2 C362.8 113.6 364.9 112.4 364.7 110.4 C364.5 108.4 362.1 105.5 361.2 103.4 C360.3 101.3 360.1 99.9 359.2 97.8 C358.3 95.7 356.3 92.9 355.7 90.9 C355.1 88.9 354.5 86.7 355.7 86Z" fill="#e0e0e0"/><path d="M326.4 100.6 C327 99.3 329.3 100.7 331.3 101.3 C333.3 101.9 336 103.5 338.3 104.1 C340.6 104.7 343.4 103.9 345.2 104.8 C347 105.7 348.8 108 349.4 109.7 C350 111.4 349.8 113.5 348.7 115.2 C347.6 116.9 345 119.5 343.1 120.1 C341.2 120.7 339.3 119.6 337.6 118.7 C335.9 117.8 334.3 116.1 332.7 114.5 C331.1 112.9 328.9 111.3 327.8 109 C326.8 106.7 325.8 101.9 326.4 100.6Z" fill="#e0e0e0"/><path d="M307 122.2 C306.8 120.1 308.1 118.5 309.7 117.3 C311.3 116.1 314.5 115 316.7 115.2 C318.9 115.4 321.6 117 323 118.7 C324.4 120.5 325 123.6 325 125.7 C325 127.8 324.3 130 323 131.2 C321.7 132.3 319.4 132.8 317.4 132.6 C315.4 132.4 312.8 131.5 311.1 129.8 C309.4 128.1 307.2 124.3 307 122.2Z" fill="#e0e0e0"/><path d="M311.1 144.5 C311.7 143.3 315.4 141.6 317.4 139.6 C319.4 137.6 321.8 132.6 323 132.6 C324.2 132.6 324.8 137.3 324.4 139.6 C324 141.9 322.6 145.3 320.9 146.5 C319.1 147.7 315.5 146.8 313.9 146.5 C312.3 146.2 310.5 145.7 311.1 144.5Z" fill="#e0e0e0"/><path d="M334.8 129.2 C336.4 128 342.6 129.8 345.2 129.2 C347.8 128.6 348.4 126.5 350.1 125.7 C351.9 124.9 353.6 123.7 355.7 124.3 C357.8 124.9 360.6 127.2 362.6 129.2 C364.6 131.2 366.6 133.8 367.5 136.1 C368.4 138.4 368.8 141.4 368.2 143.1 C367.6 144.8 365.9 146.5 364 146.5 C362.1 146.5 359.4 143.3 357.1 143.1 C354.8 142.9 352.2 144.6 350.1 145.2 C348 145.8 346.4 146.8 344.5 146.5 C342.6 146.2 340.5 144.8 339 143.1 C337.5 141.4 336.2 138.4 335.5 136.1 C334.8 133.8 333.2 130.3 334.8 129.2Z" fill="#e0e0e0"/><path d="M335.5 146.5 C336.2 145.6 339.6 145.9 341.8 146.5 C344 147.1 345.8 150 348.7 150 C351.6 150 356.6 146.5 359.2 146.5 C361.8 146.5 363.3 148.2 364 150 C364.7 151.8 363.8 155.2 363.3 157 C362.8 158.8 363.4 159.8 361.2 160.5 C359 161.2 353.1 161.8 350.1 161.2 C347.1 160.6 345.2 158.5 343.1 157 C341 155.5 338.9 153.8 337.6 152.1 C336.3 150.3 334.8 147.4 335.5 146.5Z" fill="#e0e0e0"/><path d="M329.2 154.9 C330.1 155.5 332.7 158.8 334.8 160.5 C336.9 162.2 339.8 163.9 341.8 165.3 C343.8 166.7 346 167.9 346.6 168.8 C347.2 169.7 346.5 170.9 345.2 170.9 C343.9 170.9 341.1 170.2 339 168.8 C336.9 167.4 334.3 164.6 332.7 162.6 C331.1 160.6 329.8 158.3 329.2 157 C328.6 155.7 328.3 154.3 329.2 154.9Z" fill="#e0e0e0"/><path d="M179.9 178.3 C179.6 177.1 181.2 175.2 182.3 173.6 C183.4 172 185.1 170.2 186.2 168.8 C187.2 167.4 187.5 165.4 188.6 164.9 C189.7 164.4 191.6 164.4 192.5 165.7 C193.4 167 194.2 170.8 194.1 172.8 C194 174.8 192.8 176.1 191.7 177.5 C190.6 178.9 189.1 180.9 187.8 181.4 C186.5 181.9 185.2 181.1 183.9 180.6 C182.6 180.1 180.2 179.5 179.9 178.3Z" fill="#e0e0e0"/><path d="M163.3 129.5 C163.7 129 165.8 129.1 166.5 129.8 C167.2 130.6 167.2 132.8 167.5 134 C167.8 135.2 168.2 137 168 137.3 C167.8 137.6 166.9 136.7 166.2 136 C165.5 135.3 164.5 134.1 164 133 C163.5 131.9 162.9 130 163.3 129.5Z" fill="#e0e0e0"/><path d="M312.5 102 C313.8 103.3 317.4 107.7 320 110 C322.6 112.3 325.6 114 328 116 C330.4 118 332.5 120 334.5 122 C336.5 124 337.6 126.2 340 128 C342.4 129.8 347.2 132.2 348.7 133" fill="none" stroke="#e0e0e0" stroke-width="7.5" stroke-linecap="round"/><path d="M318.8 151.4 C320 150.7 323.1 148.6 326 147 C328.9 145.4 334.5 142.6 336.2 141.7" fill="none" stroke="#e0e0e0" stroke-width="3.6" stroke-linecap="round"/><path d="M373.8 152.8 C375.2 153.9 378.9 157.3 382 159.5 C385.1 161.7 390.8 164.9 392.6 166" fill="none" stroke="#e0e0e0" stroke-width="4.2" stroke-linecap="round"/><path d="M382.1 161.9 C381.5 163 379.6 166.4 378.5 168.5 C377.4 170.6 375.8 173.4 375.2 174.4" fill="none" stroke="#e0e0e0" stroke-width="3.8" stroke-linecap="round"/><path d="M366.8 168.1 C367.7 168.3 370.5 169.2 372 169.5 C373.5 169.8 375.3 169.9 376 170" fill="none" stroke="#e0e0e0" stroke-width="2.6" stroke-linecap="round"/><path d="M96.8 289.5 C98 288 101.6 282.9 104 280.5 C106.4 278.1 108.8 276.5 111 275 C113.2 273.5 116.3 272 117.4 271.4" fill="none" stroke="#e0e0e0" stroke-width="3.6" stroke-linecap="round"/><path d="M104 11.4 C105.8 10.6 106.7 10.6 108.1 11.4 C109.5 12.2 111.1 14.1 112.2 16.3 C113.3 18.5 114.3 21.8 114.6 24.5 C114.9 27.2 114.1 30.3 113.8 32.7 C113.5 35.2 113.8 37 113 39.2 C112.2 41.4 110.4 44.2 108.9 45.8 C107.4 47.4 105.6 48.2 104 49 C102.4 49.8 100.3 50.2 99.1 50.7 C97.9 51.2 97 49.8 96.7 52.3 C96.4 54.8 97.2 60.5 97.5 65.4 C97.8 70.3 97.8 78.2 98.3 81.7 C98.8 85.2 99.7 86 100.8 86.6 C101.9 87.1 103.7 86.4 104.8 85 C105.9 83.6 106.3 78.1 107.3 78.4 C108.3 78.7 109.5 84.2 110.6 86.6 C111.7 89 112.8 90.8 114 93 C115.2 95.2 116.5 98.2 118 99.5 C119.5 100.8 121.5 101.2 123 100.5 C124.5 99.8 126.1 96.8 127 95 C127.9 93.2 128 93.5 128.5 89.9 C129 86.3 129.5 79 130.2 73.5 C130.9 68 131.8 61.8 132.6 57.2 C133.4 52.6 133.6 48.8 135 45.8 C136.4 42.8 137.8 42.3 140.8 39.2 C143.8 36.1 148.9 30.4 153 27 C157.1 23.6 161.6 21.1 165.3 18.8 C169 16.6 170.4 15.1 175 13.5 C179.6 11.9 187 10.1 193 9 C199 8 205.7 7.4 210.9 7.2 C216.1 7 219.9 6.6 224.4 8.1 C228.9 9.6 233.4 13 237.9 16.2 C242.4 19.3 247.7 23.2 251.4 27 C255.2 30.8 257.8 34.8 260.4 38.7 C262.9 42.6 265 46.4 266.7 50.4 C268.4 54.4 269.2 58.7 270.3 63 C271.4 67.3 271.9 71.5 273 76.4 C274.1 81.3 275.2 88.4 276.6 92.4 C278 96.4 280.3 97.5 281.3 100.5 C282.3 103.5 282.9 107.8 282.6 110.6 C282.3 113.4 281.2 115.6 279.3 117.3 C277.4 119 273.7 119.6 271.2 120.7 C268.7 121.8 267.2 122.4 264.4 124.1 C261.6 125.8 257.7 128.8 254.3 130.8 C250.9 132.8 247.6 134.2 244.2 136.2 C240.8 138.2 237.5 141.1 234.1 143 C230.7 144.9 227.4 146.2 224 147.7 C220.6 149.1 217.7 150.8 213.8 151.7 C209.9 152.6 204.7 152.9 200.4 153.1 C196.1 153.3 191.1 154.6 188.2 153.1 C185.3 151.6 183.6 146.7 182.8 144.3 C182 141.9 181.7 140.1 183.5 138.9 C185.3 137.7 189.7 137 193.6 136.9 C197.5 136.8 203.2 138.1 207.1 138.2 C211 138.3 214.8 138.4 217.2 137.6 C219.6 136.8 221.1 135.6 221.3 133.5 C221.5 131.4 219.8 127.1 218.6 124.8 C217.3 122.5 216.3 121.2 213.8 119.4 C211.3 117.6 206.5 115.5 203.7 114 C200.9 112.5 198.7 112.3 197 110.6 C195.3 108.9 194.5 105.9 193.6 103.8 C192.7 101.7 191 100.3 191.6 97.8 C192.2 95.3 194.4 90.8 197 89 C199.6 87.2 204.3 87.7 207.1 87 C209.9 86.3 212.1 86.3 213.8 85 C215.5 83.7 215.9 81.4 217.2 78.9 C218.4 76.4 220.7 72.8 221.3 70.1 C221.9 67.4 221 66.3 220.8 63 C220.6 59.7 220.8 53.4 219.9 50.4 C219 47.4 217.7 46.5 215.4 45 C213.2 43.5 210.1 42 206.4 41.4 C202.7 40.8 197.5 40.9 193 41.4 C188.5 41.9 182.5 43.5 179.5 44.1 C176.5 44.7 178.1 44.5 175 45 C171.9 45.5 164.9 46.6 161.2 47.4 C157.5 48.2 154.9 48.2 153 49.8 C151.1 51.4 150.3 53.2 149.8 57.2 C149.3 61.2 149.8 68.7 149.8 73.5 C149.8 78.3 150.6 81.7 149.8 85.8 C149 89.9 146.4 93.9 144.9 98 C143.4 102.1 142.9 106.9 140.8 110.3 C138.8 113.7 136 116.2 132.6 118.5 C129.2 120.8 124.5 123 120.4 124.2 C116.3 125.4 111.6 125.4 108.1 125.8 C104.5 126.2 102.5 127.1 99.1 126.6 C95.7 126 91.7 124.5 87.7 122.5 C83.8 120.5 78.8 117.1 75.4 114.4 C72 111.7 69.5 109.6 67.3 106.2 C65.1 102.8 63.5 98.1 62.4 94 C61.3 89.9 60.9 85.8 60.7 81.7 C60.6 77.6 60.8 73.1 61.5 69.4 C62.2 65.7 63.2 62.3 64.8 59.6 C66.4 56.9 68.8 54.7 71.3 53.1 C73.8 51.5 76.5 50.6 79.5 49.8 C82.5 49 87.1 48.9 89.3 48.2 C91.5 47.5 92.6 47.7 92.6 45.8 C92.6 43.9 90 40.3 89.3 36.8 C88.6 33.2 88.2 27.2 88.5 24.5 C88.8 21.8 89.5 21.8 91 20.4 C92.5 19 95.3 17.8 97.5 16.3 C99.7 14.8 102.2 12.2 104 11.4Z" fill="#5bb894"/><path d="M104 11.4 C105.8 10.6 106.7 10.6 108.1 11.4 C109.5 12.2 111.1 14.1 112.2 16.3 C113.3 18.5 114.3 21.8 114.6 24.5 C114.9 27.2 114.1 30.3 113.8 32.7 C113.5 35.2 113.8 37 113 39.2 C112.2 41.4 110.4 44.2 108.9 45.8 C107.4 47.4 105.6 48.2 104 49 C102.4 49.8 100.3 50.2 99.1 50.7 C97.9 51.2 97 49.8 96.7 52.3 C96.4 54.8 97.2 60.5 97.5 65.4 C97.8 70.3 97.8 78.2 98.3 81.7 C98.8 85.2 99.7 86 100.8 86.6 C101.9 87.1 103.7 86.4 104.8 85 C105.9 83.6 106.3 78.1 107.3 78.4 C108.3 78.7 109.5 84.2 110.6 86.6 C111.7 89 112.8 90.8 114 93 C115.2 95.2 116.5 98.2 118 99.5 C119.5 100.8 121.5 101.2 123 100.5 C124.5 99.8 126.1 96.8 127 95 C127.9 93.2 128 93.5 128.5 89.9 C129 86.3 129.5 79 130.2 73.5 C130.9 68 131.8 61.8 132.6 57.2 C133.4 52.6 133.6 48.8 135 45.8 C136.4 42.8 137.8 42.3 140.8 39.2 C143.8 36.1 148.9 30.4 153 27 C157.1 23.6 161.6 21.1 165.3 18.8 C169 16.6 170.4 15.1 175 13.5 C179.6 11.9 187 10.1 193 9 C199 8 205.7 7.4 210.9 7.2 C216.1 7 219.9 6.6 224.4 8.1 C228.9 9.6 233.4 13 237.9 16.2 C242.4 19.3 247.7 23.2 251.4 27 C255.2 30.8 257.8 34.8 260.4 38.7 C262.9 42.6 265 46.4 266.7 50.4 C268.4 54.4 269.2 58.7 270.3 63 C271.4 67.3 271.9 71.5 273 76.4 C274.1 81.3 275.2 88.4 276.6 92.4 C278 96.4 280.3 97.5 281.3 100.5 C282.3 103.5 282.9 107.8 282.6 110.6 C282.3 113.4 281.2 115.6 279.3 117.3 C277.4 119 273.7 119.6 271.2 120.7 C268.7 121.8 267.2 122.4 264.4 124.1 C261.6 125.8 257.7 128.8 254.3 130.8 C250.9 132.8 247.6 134.2 244.2 136.2 C240.8 138.2 237.5 141.1 234.1 143 C230.7 144.9 227.4 146.2 224 147.7 C220.6 149.1 217.7 150.8 213.8 151.7 C209.9 152.6 204.7 152.9 200.4 153.1 C196.1 153.3 191.1 154.6 188.2 153.1 C185.3 151.6 183.6 146.7 182.8 144.3 C182 141.9 181.7 140.1 183.5 138.9 C185.3 137.7 189.7 137 193.6 136.9 C197.5 136.8 203.2 138.1 207.1 138.2 C211 138.3 214.8 138.4 217.2 137.6 C219.6 136.8 221.1 135.6 221.3 133.5 C221.5 131.4 219.8 127.1 218.6 124.8 C217.3 122.5 216.3 121.2 213.8 119.4 C211.3 117.6 206.5 115.5 203.7 114 C200.9 112.5 198.7 112.3 197 110.6 C195.3 108.9 194.5 105.9 193.6 103.8 C192.7 101.7 191 100.3 191.6 97.8 C192.2 95.3 194.4 90.8 197 89 C199.6 87.2 204.3 87.7 207.1 87 C209.9 86.3 212.1 86.3 213.8 85 C215.5 83.7 215.9 81.4 217.2 78.9 C218.4 76.4 220.7 72.8 221.3 70.1 C221.9 67.4 221 66.3 220.8 63 C220.6 59.7 220.8 53.4 219.9 50.4 C219 47.4 217.7 46.5 215.4 45 C213.2 43.5 210.1 42 206.4 41.4 C202.7 40.8 197.5 40.9 193 41.4 C188.5 41.9 182.5 43.5 179.5 44.1 C176.5 44.7 178.1 44.5 175 45 C171.9 45.5 164.9 46.6 161.2 47.4 C157.5 48.2 154.9 48.2 153 49.8 C151.1 51.4 150.3 53.2 149.8 57.2 C149.3 61.2 149.8 68.7 149.8 73.5 C149.8 78.3 150.6 81.7 149.8 85.8 C149 89.9 146.4 93.9 144.9 98 C143.4 102.1 142.9 106.9 140.8 110.3 C138.8 113.7 136 116.2 132.6 118.5 C129.2 120.8 124.5 123 120.4 124.2 C116.3 125.4 111.6 125.4 108.1 125.8 C104.5 126.2 102.5 127.1 99.1 126.6 C95.7 126 91.7 124.5 87.7 122.5 C83.8 120.5 78.8 117.1 75.4 114.4 C72 111.7 69.5 109.6 67.3 106.2 C65.1 102.8 63.5 98.1 62.4 94 C61.3 89.9 60.9 85.8 60.7 81.7 C60.6 77.6 60.8 73.1 61.5 69.4 C62.2 65.7 63.2 62.3 64.8 59.6 C66.4 56.9 68.8 54.7 71.3 53.1 C73.8 51.5 76.5 50.6 79.5 49.8 C82.5 49 87.1 48.9 89.3 48.2 C91.5 47.5 92.6 47.7 92.6 45.8 C92.6 43.9 90 40.3 89.3 36.8 C88.6 33.2 88.2 27.2 88.5 24.5 C88.8 21.8 89.5 21.8 91 20.4 C92.5 19 95.3 17.8 97.5 16.3 C99.7 14.8 102.2 12.2 104 11.4Z" fill="url(#pholes)"/><path d="M31.5 119.8 C32.4 119 34.6 120.2 36 121 C37.4 121.8 38.5 122.6 40 124.6 C41.5 126.6 43.5 129.6 44.8 133 C46.1 136.4 47.1 141.8 47.8 145 C48.5 148.2 49.1 151.7 48.8 152.5 C48.5 153.3 47.3 151.8 46 150 C44.7 148.2 42.8 144.4 41 141.6 C39.2 138.8 36.7 135.6 35 133 C33.3 130.4 31.5 128 30.9 125.8 C30.3 123.6 30.6 120.6 31.5 119.8Z" fill="url(#pt75)"/><path d="M13.2 191.2 C14.4 187.7 15.8 183.1 18.7 180.1 C21.6 177.1 27.2 174.8 30.5 173.1 C33.8 171.4 35.1 170.5 38.4 170 C41.7 169.5 46.9 169.3 50.2 170 C53.5 170.7 54.1 173 58 173.9 C61.9 174.8 69.2 175 73.8 175.4 C78.4 175.8 82.6 175.1 85.5 176.2 C88.4 177.3 89.3 179.5 91 182 C92.7 184.5 94.5 188.4 95.5 191.2 C96.5 194 97.7 196.4 97.3 199 C96.9 201.6 94.3 204.4 93 207 C91.7 209.6 91 211.4 89.5 214.7 C88 217.9 85.3 223.2 84 226.5 C82.7 229.8 83.1 232 81.6 234.4 C80.1 236.8 77 239.3 75 241 C73 242.7 72.6 243.3 69.8 244.6 C67 245.8 61.5 247.7 58 248.5 C54.5 249.3 51.9 249.7 48.6 249.3 C45.3 248.9 41.2 248.4 38.4 246.2 C35.6 244 33.7 238.7 32 236 C30.3 233.3 30 231.5 28 230 C26 228.5 22.3 228.3 20 227 C17.7 225.7 15.4 224.5 14 222 C12.6 219.5 12 215.5 11.6 212 C11.2 208.5 11.3 204.5 11.6 201 C11.9 197.5 12 194.7 13.2 191.2Z" fill="#5bb894"/><path d="M13.2 191.2 C14.4 187.7 15.8 183.1 18.7 180.1 C21.6 177.1 27.2 174.8 30.5 173.1 C33.8 171.4 35.1 170.5 38.4 170 C41.7 169.5 46.9 169.3 50.2 170 C53.5 170.7 54.1 173 58 173.9 C61.9 174.8 69.2 175 73.8 175.4 C78.4 175.8 82.6 175.1 85.5 176.2 C88.4 177.3 89.3 179.5 91 182 C92.7 184.5 94.5 188.4 95.5 191.2 C96.5 194 97.7 196.4 97.3 199 C96.9 201.6 94.3 204.4 93 207 C91.7 209.6 91 211.4 89.5 214.7 C88 217.9 85.3 223.2 84 226.5 C82.7 229.8 83.1 232 81.6 234.4 C80.1 236.8 77 239.3 75 241 C73 242.7 72.6 243.3 69.8 244.6 C67 245.8 61.5 247.7 58 248.5 C54.5 249.3 51.9 249.7 48.6 249.3 C45.3 248.9 41.2 248.4 38.4 246.2 C35.6 244 33.7 238.7 32 236 C30.3 233.3 30 231.5 28 230 C26 228.5 22.3 228.3 20 227 C17.7 225.7 15.4 224.5 14 222 C12.6 219.5 12 215.5 11.6 212 C11.2 208.5 11.3 204.5 11.6 201 C11.9 197.5 12 194.7 13.2 191.2Z" fill="url(#pholes)"/><path d="M67 249 C67.5 248.5 70.5 251.8 72 254 C73.5 256.2 75.2 259.3 76 262 C76.8 264.7 77.2 267.7 77 270 C76.8 272.3 76 275 75 276 C74 277 72.5 277.2 71 276 C69.5 274.8 67.7 271.2 66 269 C64.3 266.8 61.7 264.5 61 263 C60.3 261.5 61 260 62 260 C63 260 65.8 263.5 67 263 C68.2 262.5 69 259.3 69 257 C69 254.7 66.5 249.5 67 249Z" fill="#5bb894"/><path d="M67 249 C67.5 248.5 70.5 251.8 72 254 C73.5 256.2 75.2 259.3 76 262 C76.8 264.7 77.2 267.7 77 270 C76.8 272.3 76 275 75 276 C74 277 72.5 277.2 71 276 C69.5 274.8 67.7 271.2 66 269 C64.3 266.8 61.7 264.5 61 263 C60.3 261.5 61 260 62 260 C63 260 65.8 263.5 67 263 C68.2 262.5 69 259.3 69 257 C69 254.7 66.5 249.5 67 249Z" fill="url(#pholes)"/><path d="M127.2 169.6 C127.7 166.7 129.3 161.8 131.1 159.4 C132.9 157 135.7 156.2 138.2 155.4 C140.7 154.6 144.1 154.3 146.1 154.3 C148.1 154.3 149.6 154.4 150 155.4 C150.4 156.4 147.6 158.6 148.4 160.2 C149.2 161.8 153.2 163.1 154.7 164.9 C156.1 166.7 157 168.8 157.1 171.2 C157.2 173.6 156.3 176.7 155.5 179.1 C154.7 181.5 152.7 183.4 152.4 185.4 C152.2 187.4 152.9 189.1 154 190.9 C155.1 192.7 157 194.3 158.7 196.4 C160.4 198.5 163.8 201.9 164 203.5 C164.2 205.1 161.2 206.4 160 206 C158.8 205.6 158.8 202.7 157.1 201.1 C155.4 199.5 152.1 198.2 150 196.4 C147.9 194.6 146.3 192.1 144.5 190.1 C142.7 188.1 141 185.9 139 184.6 C137 183.3 134.5 183.5 132.7 182.2 C130.9 180.9 128.9 178.8 128 176.7 C127.1 174.6 126.7 172.5 127.2 169.6Z" fill="#5bb894"/><path d="M127.2 169.6 C127.7 166.7 129.3 161.8 131.1 159.4 C132.9 157 135.7 156.2 138.2 155.4 C140.7 154.6 144.1 154.3 146.1 154.3 C148.1 154.3 149.6 154.4 150 155.4 C150.4 156.4 147.6 158.6 148.4 160.2 C149.2 161.8 153.2 163.1 154.7 164.9 C156.1 166.7 157 168.8 157.1 171.2 C157.2 173.6 156.3 176.7 155.5 179.1 C154.7 181.5 152.7 183.4 152.4 185.4 C152.2 187.4 152.9 189.1 154 190.9 C155.1 192.7 157 194.3 158.7 196.4 C160.4 198.5 163.8 201.9 164 203.5 C164.2 205.1 161.2 206.4 160 206 C158.8 205.6 158.8 202.7 157.1 201.1 C155.4 199.5 152.1 198.2 150 196.4 C147.9 194.6 146.3 192.1 144.5 190.1 C142.7 188.1 141 185.9 139 184.6 C137 183.3 134.5 183.5 132.7 182.2 C130.9 180.9 128.9 178.8 128 176.7 C127.1 174.6 126.7 172.5 127.2 169.6Z" fill="url(#pholes)"/><path d="M104 220.6 C105.4 218 111.2 215.5 115 213.3 C118.8 211.1 122.8 208.9 127 207.3 C131.2 205.7 134.9 204.4 140 203.6 C145.1 202.8 153.4 201.8 157.3 202.4 C161.2 203 161.3 205.9 163.3 207.3 C165.3 208.7 167.4 208.8 169.4 211 C171.4 213.2 173 217.6 175.4 220.6 C177.8 223.6 181 227 184 229 C187 231 190.4 231.9 193.6 232.7 C196.8 233.5 199.9 233.3 203 234 C206.1 234.7 210 235.7 212 237 C214 238.3 216.2 240.7 215 242 C213.8 243.3 208.2 244.3 205 245 C201.8 245.7 198.9 245.4 196 246 C193.1 246.6 190.3 247 187.5 248.4 C184.7 249.8 182 252 179 254.4 C176 256.8 172 260.6 169.4 263 C166.8 265.4 166.3 267.6 163.3 269 C160.3 270.4 155.2 271.2 151.2 271.4 C147.1 271.6 142.4 271.2 139 270.2 C135.6 269.2 133.7 267.1 130.7 265.3 C127.7 263.5 123.8 260.9 121 259.3 C118.2 257.7 115.1 257.5 113.7 255.7 C112.3 253.9 112.9 251.6 112.5 248.4 C112.1 245.2 112.3 239.5 111.3 236.3 C110.3 233.1 107.7 231.6 106.5 229 C105.3 226.4 102.6 223.2 104 220.6Z" fill="url(#pt75)"/><path d="M95.6 290.7 C96.6 289.9 99.6 294.8 102.8 295.6 C106 296.4 111 295.7 115 295.6 C119 295.5 123 295 127 295 C131 295 135.2 296.1 139 295.6 C142.8 295.1 147.8 293 150 292 C152.2 291 151.5 290.7 152.5 289.5 C153.5 288.3 155.2 286.5 156 284.7 C156.8 282.9 156.6 281.1 157.3 278.6 C158 276.2 158.6 272.4 160 270 C161.4 267.6 164.5 264 166 264 C167.5 264 169 266.9 169 270 C169 273.1 167.3 279.5 166 282.3 C164.7 285.1 162.2 285.4 161 287 C159.8 288.6 158.9 289.4 158.5 292 C158.1 294.6 159.1 299.6 158.5 302.8 C157.9 306 156.6 308.5 155 311.3 C153.4 314.1 151 317.4 148.8 319.8 C146.6 322.2 144.2 323.8 141.6 325.8 C139 327.8 135.4 330.7 133 331.9 C130.6 333.1 129 333.2 127 333 C125 332.8 123 332.3 121 330.7 C119 329.1 117.4 325.6 115 323.4 C112.6 321.2 108.9 319.6 106.5 317.4 C104.1 315.2 102 312.8 100.4 310 C98.8 307.2 97.6 303.6 96.8 300.4 C96 297.2 94.6 291.5 95.6 290.7Z" fill="#5bb894"/><path d="M95.6 290.7 C96.6 289.9 99.6 294.8 102.8 295.6 C106 296.4 111 295.7 115 295.6 C119 295.5 123 295 127 295 C131 295 135.2 296.1 139 295.6 C142.8 295.1 147.8 293 150 292 C152.2 291 151.5 290.7 152.5 289.5 C153.5 288.3 155.2 286.5 156 284.7 C156.8 282.9 156.6 281.1 157.3 278.6 C158 276.2 158.6 272.4 160 270 C161.4 267.6 164.5 264 166 264 C167.5 264 169 266.9 169 270 C169 273.1 167.3 279.5 166 282.3 C164.7 285.1 162.2 285.4 161 287 C159.8 288.6 158.9 289.4 158.5 292 C158.1 294.6 159.1 299.6 158.5 302.8 C157.9 306 156.6 308.5 155 311.3 C153.4 314.1 151 317.4 148.8 319.8 C146.6 322.2 144.2 323.8 141.6 325.8 C139 327.8 135.4 330.7 133 331.9 C130.6 333.1 129 333.2 127 333 C125 332.8 123 332.3 121 330.7 C119 329.1 117.4 325.6 115 323.4 C112.6 321.2 108.9 319.6 106.5 317.4 C104.1 315.2 102 312.8 100.4 310 C98.8 307.2 97.6 303.6 96.8 300.4 C96 297.2 94.6 291.5 95.6 290.7Z" fill="url(#pholes)"/><path d="M249.6 165.4 C251 164.8 256.7 164.2 260.5 164.3 C264.3 164.4 269 164.9 272.6 166 C276.2 167.1 279.9 169.3 282.3 170.9 C284.7 172.5 285.1 174.5 287.1 175.7 C289.1 176.9 290.8 177.3 294.4 178.1 C298 178.9 305.3 180.8 308.9 180.6 C312.5 180.4 314 177 316.2 177 C318.4 177 320.8 178.8 322.2 180.6 C323.6 182.4 324.2 185.2 324.6 187.8 C325 190.4 325.4 193.7 324.6 196.3 C323.8 198.9 322.4 201.8 319.8 203.6 C317.2 205.4 311.9 206.4 308.9 207.2 C305.9 208 303 207.2 301.6 208.4 C300.2 209.6 301.2 212 300.4 214.4 C299.6 216.8 297.4 219.9 296.8 222.9 C296.2 225.9 295.6 230.2 296.8 232.6 C298 235 301 235 304 237.4 C307 239.8 312.2 243.8 315 247 C317.8 250.2 319.8 253.2 321 256.8 C322.2 260.4 322.4 263.9 322.2 268.9 C322 273.9 321.2 281.6 319.8 287 C318.4 292.4 316.1 297.8 313.7 301.6 C311.3 305.4 309.1 308.6 305.3 310 C301.5 311.4 296.1 310.8 290.7 310 C285.2 309.2 278.7 306.4 272.6 305.2 C266.6 304 260.4 303.8 254.4 302.8 C248.3 301.8 242.4 301.1 236.3 299.1 C230.2 297.1 222.9 294.1 218.1 290.7 C213.3 287.3 210.3 281.6 207.3 278.6 C204.3 275.7 202.6 274.3 200 273 C197.4 271.7 193.8 272.5 192 271 C190.2 269.5 188.7 267 189 264 C189.3 261 192.2 256 194 253 C195.8 250 198 248.2 200 246 C202 243.8 205.5 242.3 206 240 C206.5 237.7 204 235 203 232 C202 229 200.2 225.2 200 222 C199.8 218.8 201.2 215.5 202 213 C202.8 210.5 203.1 208.3 204.8 207 C206.5 205.7 208.8 205.5 212 205 C215.2 204.5 219.5 204.4 224.2 204 C228.9 203.6 235 203.6 240 202.5 C245 201.4 250.2 199.7 254.4 197.7 C258.6 195.7 261.9 192.9 265.3 190.5 C268.7 188.1 272.5 185.4 275 183.2 C277.5 181 280 179.3 280.5 177.5 C281 175.7 279.3 173.8 278 172.5 C276.7 171.2 275.5 170.5 272.6 169.8 C269.7 169.1 263.9 168.6 260.5 168.3 C257.1 168 253.8 168.5 252 168 C250.2 167.5 248.2 166 249.6 165.4Z" fill="#5bb894"/><path d="M249.6 165.4 C251 164.8 256.7 164.2 260.5 164.3 C264.3 164.4 269 164.9 272.6 166 C276.2 167.1 279.9 169.3 282.3 170.9 C284.7 172.5 285.1 174.5 287.1 175.7 C289.1 176.9 290.8 177.3 294.4 178.1 C298 178.9 305.3 180.8 308.9 180.6 C312.5 180.4 314 177 316.2 177 C318.4 177 320.8 178.8 322.2 180.6 C323.6 182.4 324.2 185.2 324.6 187.8 C325 190.4 325.4 193.7 324.6 196.3 C323.8 198.9 322.4 201.8 319.8 203.6 C317.2 205.4 311.9 206.4 308.9 207.2 C305.9 208 303 207.2 301.6 208.4 C300.2 209.6 301.2 212 300.4 214.4 C299.6 216.8 297.4 219.9 296.8 222.9 C296.2 225.9 295.6 230.2 296.8 232.6 C298 235 301 235 304 237.4 C307 239.8 312.2 243.8 315 247 C317.8 250.2 319.8 253.2 321 256.8 C322.2 260.4 322.4 263.9 322.2 268.9 C322 273.9 321.2 281.6 319.8 287 C318.4 292.4 316.1 297.8 313.7 301.6 C311.3 305.4 309.1 308.6 305.3 310 C301.5 311.4 296.1 310.8 290.7 310 C285.2 309.2 278.7 306.4 272.6 305.2 C266.6 304 260.4 303.8 254.4 302.8 C248.3 301.8 242.4 301.1 236.3 299.1 C230.2 297.1 222.9 294.1 218.1 290.7 C213.3 287.3 210.3 281.6 207.3 278.6 C204.3 275.7 202.6 274.3 200 273 C197.4 271.7 193.8 272.5 192 271 C190.2 269.5 188.7 267 189 264 C189.3 261 192.2 256 194 253 C195.8 250 198 248.2 200 246 C202 243.8 205.5 242.3 206 240 C206.5 237.7 204 235 203 232 C202 229 200.2 225.2 200 222 C199.8 218.8 201.2 215.5 202 213 C202.8 210.5 203.1 208.3 204.8 207 C206.5 205.7 208.8 205.5 212 205 C215.2 204.5 219.5 204.4 224.2 204 C228.9 203.6 235 203.6 240 202.5 C245 201.4 250.2 199.7 254.4 197.7 C258.6 195.7 261.9 192.9 265.3 190.5 C268.7 188.1 272.5 185.4 275 183.2 C277.5 181 280 179.3 280.5 177.5 C281 175.7 279.3 173.8 278 172.5 C276.7 171.2 275.5 170.5 272.6 169.8 C269.7 169.1 263.9 168.6 260.5 168.3 C257.1 168 253.8 168.5 252 168 C250.2 167.5 248.2 166 249.6 165.4Z" fill="url(#pholes)"/><path d="M305 350.6 C305.4 349.9 307.4 353.3 309.5 354 C311.6 354.7 314.6 354.4 317.4 355 C320.2 355.6 324 356.2 326.4 357.3 C328.8 358.4 330.9 359.7 332 361.8 C333.1 363.9 334 367.9 333.1 369.7 C332.2 371.5 329.2 372.1 326.4 372.5 C323.6 372.9 318.5 371.7 316.3 372 C314.1 372.3 314.9 374.2 313 374.2 C311.1 374.2 306.3 373.3 305 372 C303.7 370.7 304.6 368.6 305 366.3 C305.4 364.1 307.3 361.1 307.3 358.5 C307.3 355.9 304.6 351.4 305 350.6Z" fill="url(#pt75)"/><path d="M335.5 204.2 C336.7 203.8 340.8 204.1 343 204.5 C345.2 204.9 347.6 206 349 206.8 C350.4 207.7 351.7 208.9 351.5 209.6 C351.3 210.3 349.6 211 348 211 C346.4 211 344 210.1 342 209.5 C340 208.9 337.1 208.1 336 207.2 C334.9 206.3 334.3 204.6 335.5 204.2Z" fill="#5bb894"/><path d="M335.5 204.2 C336.7 203.8 340.8 204.1 343 204.5 C345.2 204.9 347.6 206 349 206.8 C350.4 207.7 351.7 208.9 351.5 209.6 C351.3 210.3 349.6 211 348 211 C346.4 211 344 210.1 342 209.5 C340 208.9 337.1 208.1 336 207.2 C334.9 206.3 334.3 204.6 335.5 204.2Z" fill="url(#pholes)"/><path d="M209.7 174.2 C209.5 172.2 210.7 167.8 212.1 165.8 C213.5 163.8 216.1 162.7 218.1 162.1 C220.1 161.5 222.8 161.3 224.2 162.1 C225.6 162.9 225.6 165 226.6 167 C227.6 169 230 172.6 230.2 174.2 C230.4 175.8 229.4 176.4 227.8 176.6 C226.2 176.8 222 175 220.6 175.4 C219.2 175.8 220.6 178.6 219.4 179 C218.2 179.4 214.9 178.7 213.3 177.9 C211.7 177.1 209.9 176.2 209.7 174.2Z" fill="#5bb894"/><path d="M209.7 174.2 C209.5 172.2 210.7 167.8 212.1 165.8 C213.5 163.8 216.1 162.7 218.1 162.1 C220.1 161.5 222.8 161.3 224.2 162.1 C225.6 162.9 225.6 165 226.6 167 C227.6 169 230 172.6 230.2 174.2 C230.4 175.8 229.4 176.4 227.8 176.6 C226.2 176.8 222 175 220.6 175.4 C219.2 175.8 220.6 178.6 219.4 179 C218.2 179.4 214.9 178.7 213.3 177.9 C211.7 177.1 209.9 176.2 209.7 174.2Z" fill="url(#pholes)"/><path d="M177.4 351.7 C179 349.6 185.4 348.8 188.1 347.8 C190.8 346.8 190.9 345.8 193.7 345.5 C196.5 345.2 202.2 346.8 205 346 C207.8 345.2 208.2 341.8 210.6 340.5 C213 339.2 217.5 337.8 219.6 338.2 C221.7 338.6 222.6 340.4 223 342.7 C223.4 344.9 222.9 349.1 221.8 351.7 C220.7 354.3 217.7 355.9 216.2 358.5 C214.7 361.1 213.6 364.1 212.8 367.5 C212.1 370.9 212.6 375.7 211.7 378.7 C210.8 381.7 209.8 383.7 207.2 385.4 C204.6 387.1 199.4 388.8 196 388.8 C192.6 388.8 189.2 386.7 187 385.4 C184.8 384.1 183.6 383.6 182.5 381 C181.4 378.4 180.9 373.1 180.2 369.7 C179.5 366.3 179 363.7 178.5 360.7 C178 357.7 175.8 353.8 177.4 351.7Z" fill="#5bb894"/><path d="M177.4 351.7 C179 349.6 185.4 348.8 188.1 347.8 C190.8 346.8 190.9 345.8 193.7 345.5 C196.5 345.2 202.2 346.8 205 346 C207.8 345.2 208.2 341.8 210.6 340.5 C213 339.2 217.5 337.8 219.6 338.2 C221.7 338.6 222.6 340.4 223 342.7 C223.4 344.9 222.9 349.1 221.8 351.7 C220.7 354.3 217.7 355.9 216.2 358.5 C214.7 361.1 213.6 364.1 212.8 367.5 C212.1 370.9 212.6 375.7 211.7 378.7 C210.8 381.7 209.8 383.7 207.2 385.4 C204.6 387.1 199.4 388.8 196 388.8 C192.6 388.8 189.2 386.7 187 385.4 C184.8 384.1 183.6 383.6 182.5 381 C181.4 378.4 180.9 373.1 180.2 369.7 C179.5 366.3 179 363.7 178.5 360.7 C178 357.7 175.8 353.8 177.4 351.7Z" fill="url(#pholes)"/><path d="M331.3 86.7 C331.8 83.6 333.1 82.2 334.8 80.4 C336.6 78.6 339.5 76.3 341.8 75.6 C344.1 74.9 347.1 75.1 348.7 76.3 C350.3 77.5 352.1 81.6 351.5 82.5 C350.9 83.4 347.3 81.2 345.2 81.8 C343.1 82.4 340.6 84.1 339 86 C337.4 87.9 336.3 90.7 335.5 93 C334.7 95.3 334.6 99 334 100 C333.4 101 332.4 101.4 332 99.2 C331.6 97 330.8 89.8 331.3 86.7Z" fill="url(#pt55)"/><path d="M355.7 86 C356.9 85.3 360.3 86.1 362.6 86.7 C364.9 87.3 368.6 87.7 369.6 89.5 C370.7 91.3 369.4 95 368.9 97.8 C368.4 100.6 367 103.9 366.8 106.2 C366.6 108.5 366.5 110.4 367.5 111.8 C368.5 113.2 371.5 113.3 373 114.5 C374.5 115.7 376.2 117.2 376.5 118.7 C376.8 120.2 375.9 123 374.5 123.6 C373.1 124.2 370.1 122.8 368.2 122.2 C366.3 121.6 364.2 121.3 363.3 120.1 C362.4 118.9 362.4 116.8 362.6 115.2 C362.8 113.6 364.9 112.4 364.7 110.4 C364.5 108.4 362.1 105.5 361.2 103.4 C360.3 101.3 360.1 99.9 359.2 97.8 C358.3 95.7 356.3 92.9 355.7 90.9 C355.1 88.9 354.5 86.7 355.7 86Z" fill="url(#pt55)"/><path d="M326.4 100.6 C327 99.3 329.3 100.7 331.3 101.3 C333.3 101.9 336 103.5 338.3 104.1 C340.6 104.7 343.4 103.9 345.2 104.8 C347 105.7 348.8 108 349.4 109.7 C350 111.4 349.8 113.5 348.7 115.2 C347.6 116.9 345 119.5 343.1 120.1 C341.2 120.7 339.3 119.6 337.6 118.7 C335.9 117.8 334.3 116.1 332.7 114.5 C331.1 112.9 328.9 111.3 327.8 109 C326.8 106.7 325.8 101.9 326.4 100.6Z" fill="url(#pt55)"/><path d="M307 122.2 C306.8 120.1 308.1 118.5 309.7 117.3 C311.3 116.1 314.5 115 316.7 115.2 C318.9 115.4 321.6 117 323 118.7 C324.4 120.5 325 123.6 325 125.7 C325 127.8 324.3 130 323 131.2 C321.7 132.3 319.4 132.8 317.4 132.6 C315.4 132.4 312.8 131.5 311.1 129.8 C309.4 128.1 307.2 124.3 307 122.2Z" fill="url(#pt55)"/><path d="M311.1 144.5 C311.7 143.3 315.4 141.6 317.4 139.6 C319.4 137.6 321.8 132.6 323 132.6 C324.2 132.6 324.8 137.3 324.4 139.6 C324 141.9 322.6 145.3 320.9 146.5 C319.1 147.7 315.5 146.8 313.9 146.5 C312.3 146.2 310.5 145.7 311.1 144.5Z" fill="url(#pt55)"/><path d="M334.8 129.2 C336.4 128 342.6 129.8 345.2 129.2 C347.8 128.6 348.4 126.5 350.1 125.7 C351.9 124.9 353.6 123.7 355.7 124.3 C357.8 124.9 360.6 127.2 362.6 129.2 C364.6 131.2 366.6 133.8 367.5 136.1 C368.4 138.4 368.8 141.4 368.2 143.1 C367.6 144.8 365.9 146.5 364 146.5 C362.1 146.5 359.4 143.3 357.1 143.1 C354.8 142.9 352.2 144.6 350.1 145.2 C348 145.8 346.4 146.8 344.5 146.5 C342.6 146.2 340.5 144.8 339 143.1 C337.5 141.4 336.2 138.4 335.5 136.1 C334.8 133.8 333.2 130.3 334.8 129.2Z" fill="url(#pt55)"/><path d="M335.5 146.5 C336.2 145.6 339.6 145.9 341.8 146.5 C344 147.1 345.8 150 348.7 150 C351.6 150 356.6 146.5 359.2 146.5 C361.8 146.5 363.3 148.2 364 150 C364.7 151.8 363.8 155.2 363.3 157 C362.8 158.8 363.4 159.8 361.2 160.5 C359 161.2 353.1 161.8 350.1 161.2 C347.1 160.6 345.2 158.5 343.1 157 C341 155.5 338.9 153.8 337.6 152.1 C336.3 150.3 334.8 147.4 335.5 146.5Z" fill="url(#pt55)"/><path d="M329.2 154.9 C330.1 155.5 332.7 158.8 334.8 160.5 C336.9 162.2 339.8 163.9 341.8 165.3 C343.8 166.7 346 167.9 346.6 168.8 C347.2 169.7 346.5 170.9 345.2 170.9 C343.9 170.9 341.1 170.2 339 168.8 C336.9 167.4 334.3 164.6 332.7 162.6 C331.1 160.6 329.8 158.3 329.2 157 C328.6 155.7 328.3 154.3 329.2 154.9Z" fill="url(#pt55)"/><path d="M179.9 178.3 C179.6 177.1 181.2 175.2 182.3 173.6 C183.4 172 185.1 170.2 186.2 168.8 C187.2 167.4 187.5 165.4 188.6 164.9 C189.7 164.4 191.6 164.4 192.5 165.7 C193.4 167 194.2 170.8 194.1 172.8 C194 174.8 192.8 176.1 191.7 177.5 C190.6 178.9 189.1 180.9 187.8 181.4 C186.5 181.9 185.2 181.1 183.9 180.6 C182.6 180.1 180.2 179.5 179.9 178.3Z" fill="#5bb894"/><path d="M179.9 178.3 C179.6 177.1 181.2 175.2 182.3 173.6 C183.4 172 185.1 170.2 186.2 168.8 C187.2 167.4 187.5 165.4 188.6 164.9 C189.7 164.4 191.6 164.4 192.5 165.7 C193.4 167 194.2 170.8 194.1 172.8 C194 174.8 192.8 176.1 191.7 177.5 C190.6 178.9 189.1 180.9 187.8 181.4 C186.5 181.9 185.2 181.1 183.9 180.6 C182.6 180.1 180.2 179.5 179.9 178.3Z" fill="url(#pholes)"/><path d="M163.3 129.5 C163.7 129 165.8 129.1 166.5 129.8 C167.2 130.6 167.2 132.8 167.5 134 C167.8 135.2 168.2 137 168 137.3 C167.8 137.6 166.9 136.7 166.2 136 C165.5 135.3 164.5 134.1 164 133 C163.5 131.9 162.9 130 163.3 129.5Z" fill="#5bb894"/><path d="M163.3 129.5 C163.7 129 165.8 129.1 166.5 129.8 C167.2 130.6 167.2 132.8 167.5 134 C167.8 135.2 168.2 137 168 137.3 C167.8 137.6 166.9 136.7 166.2 136 C165.5 135.3 164.5 134.1 164 133 C163.5 131.9 162.9 130 163.3 129.5Z" fill="url(#pholes)"/><g clip-path="url(#c_S)"><path d="M130 0 L300 0 L300 80 L275 80 L262 40 L240 20 L210 12 L180 16 L150 32 L135 50 L128 50Z" fill="#e0e0e0"/><path d="M130 0 L300 0 L300 80 L275 80 L262 40 L240 20 L210 12 L180 16 L150 32 L135 50 L128 50Z" fill="url(#pt75)"/></g><g clip-path="url(#c_R_MAIN)"><path d="M228 236 L300 230 L330 240 L330 320 L200 320 L200 282 L215 262Z" fill="#e0e0e0"/><path d="M228 236 L300 230 L330 240 L330 320 L200 320 L200 282 L215 262Z" fill="url(#pt75)"/></g><g clip-path="url(#c_Y_RING)"><path d="M55 187 L65 186 L72 190 L70 200 L64 210 L58 220 L50 227 L42 231 L34 229 L31 222 L34 212 L42 202 L48 194Z" fill="#e0e0e0"/><path d="M55 187 L65 186 L72 190 L70 200 L64 210 L58 220 L50 227 L42 231 L34 229 L31 222 L34 212 L42 202 L48 194Z" fill="url(#pt35)"/></g><path d="M244 232 C244.3 230.2 247 227.4 250 226 C253 224.6 257.3 224.7 262 223.5 C266.7 222.3 273.3 220.3 278 219 C282.7 217.7 286.7 215.3 290 215.5 C293.3 215.7 296.3 217.4 298 220 C299.7 222.6 301.2 228.1 300 231 C298.8 233.9 295.2 236.2 291 237.5 C286.8 238.8 280.2 238.7 275 239 C269.8 239.3 264.5 239.8 260 239.5 C255.5 239.2 250.7 238.2 248 237 C245.3 235.8 243.7 233.8 244 232Z" fill="#eeeeee"/><path d="M244 232 C244.3 230.2 247 227.4 250 226 C253 224.6 257.3 224.7 262 223.5 C266.7 222.3 273.3 220.3 278 219 C282.7 217.7 286.7 215.3 290 215.5 C293.3 215.7 296.3 217.4 298 220 C299.7 222.6 301.2 228.1 300 231 C298.8 233.9 295.2 236.2 291 237.5 C286.8 238.8 280.2 238.7 275 239 C269.8 239.3 264.5 239.8 260 239.5 C255.5 239.2 250.7 238.2 248 237 C245.3 235.8 243.7 233.8 244 232Z" fill="url(#pt20)"/><ellipse cx="186.6" cy="198.8" rx="4" ry="2.5" transform="rotate(-35 186.6 198.8)" fill="#5bb894"/><circle cx="197.3" cy="193.2" r="1.8" fill="#5bb894"/><path d="M312.5 102 C313.8 103.3 317.4 107.7 320 110 C322.6 112.3 325.6 114 328 116 C330.4 118 332.5 120 334.5 122 C336.5 124 337.6 126.2 340 128 C342.4 129.8 347.2 132.2 348.7 133" fill="none" stroke="#5bb894" stroke-opacity="0.8" stroke-width="7.5" stroke-linecap="round"/><path d="M318.8 151.4 C320 150.7 323.1 148.6 326 147 C328.9 145.4 334.5 142.6 336.2 141.7" fill="none" stroke="#5bb894" stroke-opacity="0.8" stroke-width="3.6" stroke-linecap="round"/><path d="M373.8 152.8 C375.2 153.9 378.9 157.3 382 159.5 C385.1 161.7 390.8 164.9 392.6 166" fill="none" stroke="#5bb894" stroke-opacity="0.8" stroke-width="4.2" stroke-linecap="round"/><path d="M382.1 161.9 C381.5 163 379.6 166.4 378.5 168.5 C377.4 170.6 375.8 173.4 375.2 174.4" fill="none" stroke="#5bb894" stroke-opacity="0.8" stroke-width="3.8" stroke-linecap="round"/><path d="M366.8 168.1 C367.7 168.3 370.5 169.2 372 169.5 C373.5 169.8 375.3 169.9 376 170" fill="none" stroke="#5bb894" stroke-opacity="0.8" stroke-width="2.6" stroke-linecap="round"/><path d="M96.8 289.5 C98 288 101.6 282.9 104 280.5 C106.4 278.1 108.8 276.5 111 275 C113.2 273.5 116.3 272 117.4 271.4" fill="none" stroke="#5bb894" stroke-opacity="0.8" stroke-width="3.6" stroke-linecap="round"/><g clip-path="url(#c_Y_RING)"><path d="M10 215 L40 225 L70 215 L90 205 L100 260 L10 260Z" fill="url(#po35)"/></g><g fill="url(#porsprinkle)"><path d="M104 11.4 C105.8 10.6 106.7 10.6 108.1 11.4 C109.5 12.2 111.1 14.1 112.2 16.3 C113.3 18.5 114.3 21.8 114.6 24.5 C114.9 27.2 114.1 30.3 113.8 32.7 C113.5 35.2 113.8 37 113 39.2 C112.2 41.4 110.4 44.2 108.9 45.8 C107.4 47.4 105.6 48.2 104 49 C102.4 49.8 100.3 50.2 99.1 50.7 C97.9 51.2 97 49.8 96.7 52.3 C96.4 54.8 97.2 60.5 97.5 65.4 C97.8 70.3 97.8 78.2 98.3 81.7 C98.8 85.2 99.7 86 100.8 86.6 C101.9 87.1 103.7 86.4 104.8 85 C105.9 83.6 106.3 78.1 107.3 78.4 C108.3 78.7 109.5 84.2 110.6 86.6 C111.7 89 112.8 90.8 114 93 C115.2 95.2 116.5 98.2 118 99.5 C119.5 100.8 121.5 101.2 123 100.5 C124.5 99.8 126.1 96.8 127 95 C127.9 93.2 128 93.5 128.5 89.9 C129 86.3 129.5 79 130.2 73.5 C130.9 68 131.8 61.8 132.6 57.2 C133.4 52.6 133.6 48.8 135 45.8 C136.4 42.8 137.8 42.3 140.8 39.2 C143.8 36.1 148.9 30.4 153 27 C157.1 23.6 161.6 21.1 165.3 18.8 C169 16.6 170.4 15.1 175 13.5 C179.6 11.9 187 10.1 193 9 C199 8 205.7 7.4 210.9 7.2 C216.1 7 219.9 6.6 224.4 8.1 C228.9 9.6 233.4 13 237.9 16.2 C242.4 19.3 247.7 23.2 251.4 27 C255.2 30.8 257.8 34.8 260.4 38.7 C262.9 42.6 265 46.4 266.7 50.4 C268.4 54.4 269.2 58.7 270.3 63 C271.4 67.3 271.9 71.5 273 76.4 C274.1 81.3 275.2 88.4 276.6 92.4 C278 96.4 280.3 97.5 281.3 100.5 C282.3 103.5 282.9 107.8 282.6 110.6 C282.3 113.4 281.2 115.6 279.3 117.3 C277.4 119 273.7 119.6 271.2 120.7 C268.7 121.8 267.2 122.4 264.4 124.1 C261.6 125.8 257.7 128.8 254.3 130.8 C250.9 132.8 247.6 134.2 244.2 136.2 C240.8 138.2 237.5 141.1 234.1 143 C230.7 144.9 227.4 146.2 224 147.7 C220.6 149.1 217.7 150.8 213.8 151.7 C209.9 152.6 204.7 152.9 200.4 153.1 C196.1 153.3 191.1 154.6 188.2 153.1 C185.3 151.6 183.6 146.7 182.8 144.3 C182 141.9 181.7 140.1 183.5 138.9 C185.3 137.7 189.7 137 193.6 136.9 C197.5 136.8 203.2 138.1 207.1 138.2 C211 138.3 214.8 138.4 217.2 137.6 C219.6 136.8 221.1 135.6 221.3 133.5 C221.5 131.4 219.8 127.1 218.6 124.8 C217.3 122.5 216.3 121.2 213.8 119.4 C211.3 117.6 206.5 115.5 203.7 114 C200.9 112.5 198.7 112.3 197 110.6 C195.3 108.9 194.5 105.9 193.6 103.8 C192.7 101.7 191 100.3 191.6 97.8 C192.2 95.3 194.4 90.8 197 89 C199.6 87.2 204.3 87.7 207.1 87 C209.9 86.3 212.1 86.3 213.8 85 C215.5 83.7 215.9 81.4 217.2 78.9 C218.4 76.4 220.7 72.8 221.3 70.1 C221.9 67.4 221 66.3 220.8 63 C220.6 59.7 220.8 53.4 219.9 50.4 C219 47.4 217.7 46.5 215.4 45 C213.2 43.5 210.1 42 206.4 41.4 C202.7 40.8 197.5 40.9 193 41.4 C188.5 41.9 182.5 43.5 179.5 44.1 C176.5 44.7 178.1 44.5 175 45 C171.9 45.5 164.9 46.6 161.2 47.4 C157.5 48.2 154.9 48.2 153 49.8 C151.1 51.4 150.3 53.2 149.8 57.2 C149.3 61.2 149.8 68.7 149.8 73.5 C149.8 78.3 150.6 81.7 149.8 85.8 C149 89.9 146.4 93.9 144.9 98 C143.4 102.1 142.9 106.9 140.8 110.3 C138.8 113.7 136 116.2 132.6 118.5 C129.2 120.8 124.5 123 120.4 124.2 C116.3 125.4 111.6 125.4 108.1 125.8 C104.5 126.2 102.5 127.1 99.1 126.6 C95.7 126 91.7 124.5 87.7 122.5 C83.8 120.5 78.8 117.1 75.4 114.4 C72 111.7 69.5 109.6 67.3 106.2 C65.1 102.8 63.5 98.1 62.4 94 C61.3 89.9 60.9 85.8 60.7 81.7 C60.6 77.6 60.8 73.1 61.5 69.4 C62.2 65.7 63.2 62.3 64.8 59.6 C66.4 56.9 68.8 54.7 71.3 53.1 C73.8 51.5 76.5 50.6 79.5 49.8 C82.5 49 87.1 48.9 89.3 48.2 C91.5 47.5 92.6 47.7 92.6 45.8 C92.6 43.9 90 40.3 89.3 36.8 C88.6 33.2 88.2 27.2 88.5 24.5 C88.8 21.8 89.5 21.8 91 20.4 C92.5 19 95.3 17.8 97.5 16.3 C99.7 14.8 102.2 12.2 104 11.4Z"/><path d="M13.2 191.2 C14.4 187.7 15.8 183.1 18.7 180.1 C21.6 177.1 27.2 174.8 30.5 173.1 C33.8 171.4 35.1 170.5 38.4 170 C41.7 169.5 46.9 169.3 50.2 170 C53.5 170.7 54.1 173 58 173.9 C61.9 174.8 69.2 175 73.8 175.4 C78.4 175.8 82.6 175.1 85.5 176.2 C88.4 177.3 89.3 179.5 91 182 C92.7 184.5 94.5 188.4 95.5 191.2 C96.5 194 97.7 196.4 97.3 199 C96.9 201.6 94.3 204.4 93 207 C91.7 209.6 91 211.4 89.5 214.7 C88 217.9 85.3 223.2 84 226.5 C82.7 229.8 83.1 232 81.6 234.4 C80.1 236.8 77 239.3 75 241 C73 242.7 72.6 243.3 69.8 244.6 C67 245.8 61.5 247.7 58 248.5 C54.5 249.3 51.9 249.7 48.6 249.3 C45.3 248.9 41.2 248.4 38.4 246.2 C35.6 244 33.7 238.7 32 236 C30.3 233.3 30 231.5 28 230 C26 228.5 22.3 228.3 20 227 C17.7 225.7 15.4 224.5 14 222 C12.6 219.5 12 215.5 11.6 212 C11.2 208.5 11.3 204.5 11.6 201 C11.9 197.5 12 194.7 13.2 191.2Z"/><path d="M104 220.6 C105.4 218 111.2 215.5 115 213.3 C118.8 211.1 122.8 208.9 127 207.3 C131.2 205.7 134.9 204.4 140 203.6 C145.1 202.8 153.4 201.8 157.3 202.4 C161.2 203 161.3 205.9 163.3 207.3 C165.3 208.7 167.4 208.8 169.4 211 C171.4 213.2 173 217.6 175.4 220.6 C177.8 223.6 181 227 184 229 C187 231 190.4 231.9 193.6 232.7 C196.8 233.5 199.9 233.3 203 234 C206.1 234.7 210 235.7 212 237 C214 238.3 216.2 240.7 215 242 C213.8 243.3 208.2 244.3 205 245 C201.8 245.7 198.9 245.4 196 246 C193.1 246.6 190.3 247 187.5 248.4 C184.7 249.8 182 252 179 254.4 C176 256.8 172 260.6 169.4 263 C166.8 265.4 166.3 267.6 163.3 269 C160.3 270.4 155.2 271.2 151.2 271.4 C147.1 271.6 142.4 271.2 139 270.2 C135.6 269.2 133.7 267.1 130.7 265.3 C127.7 263.5 123.8 260.9 121 259.3 C118.2 257.7 115.1 257.5 113.7 255.7 C112.3 253.9 112.9 251.6 112.5 248.4 C112.1 245.2 112.3 239.5 111.3 236.3 C110.3 233.1 107.7 231.6 106.5 229 C105.3 226.4 102.6 223.2 104 220.6Z"/><path d="M95.6 290.7 C96.6 289.9 99.6 294.8 102.8 295.6 C106 296.4 111 295.7 115 295.6 C119 295.5 123 295 127 295 C131 295 135.2 296.1 139 295.6 C142.8 295.1 147.8 293 150 292 C152.2 291 151.5 290.7 152.5 289.5 C153.5 288.3 155.2 286.5 156 284.7 C156.8 282.9 156.6 281.1 157.3 278.6 C158 276.2 158.6 272.4 160 270 C161.4 267.6 164.5 264 166 264 C167.5 264 169 266.9 169 270 C169 273.1 167.3 279.5 166 282.3 C164.7 285.1 162.2 285.4 161 287 C159.8 288.6 158.9 289.4 158.5 292 C158.1 294.6 159.1 299.6 158.5 302.8 C157.9 306 156.6 308.5 155 311.3 C153.4 314.1 151 317.4 148.8 319.8 C146.6 322.2 144.2 323.8 141.6 325.8 C139 327.8 135.4 330.7 133 331.9 C130.6 333.1 129 333.2 127 333 C125 332.8 123 332.3 121 330.7 C119 329.1 117.4 325.6 115 323.4 C112.6 321.2 108.9 319.6 106.5 317.4 C104.1 315.2 102 312.8 100.4 310 C98.8 307.2 97.6 303.6 96.8 300.4 C96 297.2 94.6 291.5 95.6 290.7Z"/><path d="M249.6 165.4 C251 164.8 256.7 164.2 260.5 164.3 C264.3 164.4 269 164.9 272.6 166 C276.2 167.1 279.9 169.3 282.3 170.9 C284.7 172.5 285.1 174.5 287.1 175.7 C289.1 176.9 290.8 177.3 294.4 178.1 C298 178.9 305.3 180.8 308.9 180.6 C312.5 180.4 314 177 316.2 177 C318.4 177 320.8 178.8 322.2 180.6 C323.6 182.4 324.2 185.2 324.6 187.8 C325 190.4 325.4 193.7 324.6 196.3 C323.8 198.9 322.4 201.8 319.8 203.6 C317.2 205.4 311.9 206.4 308.9 207.2 C305.9 208 303 207.2 301.6 208.4 C300.2 209.6 301.2 212 300.4 214.4 C299.6 216.8 297.4 219.9 296.8 222.9 C296.2 225.9 295.6 230.2 296.8 232.6 C298 235 301 235 304 237.4 C307 239.8 312.2 243.8 315 247 C317.8 250.2 319.8 253.2 321 256.8 C322.2 260.4 322.4 263.9 322.2 268.9 C322 273.9 321.2 281.6 319.8 287 C318.4 292.4 316.1 297.8 313.7 301.6 C311.3 305.4 309.1 308.6 305.3 310 C301.5 311.4 296.1 310.8 290.7 310 C285.2 309.2 278.7 306.4 272.6 305.2 C266.6 304 260.4 303.8 254.4 302.8 C248.3 301.8 242.4 301.1 236.3 299.1 C230.2 297.1 222.9 294.1 218.1 290.7 C213.3 287.3 210.3 281.6 207.3 278.6 C204.3 275.7 202.6 274.3 200 273 C197.4 271.7 193.8 272.5 192 271 C190.2 269.5 188.7 267 189 264 C189.3 261 192.2 256 194 253 C195.8 250 198 248.2 200 246 C202 243.8 205.5 242.3 206 240 C206.5 237.7 204 235 203 232 C202 229 200.2 225.2 200 222 C199.8 218.8 201.2 215.5 202 213 C202.8 210.5 203.1 208.3 204.8 207 C206.5 205.7 208.8 205.5 212 205 C215.2 204.5 219.5 204.4 224.2 204 C228.9 203.6 235 203.6 240 202.5 C245 201.4 250.2 199.7 254.4 197.7 C258.6 195.7 261.9 192.9 265.3 190.5 C268.7 188.1 272.5 185.4 275 183.2 C277.5 181 280 179.3 280.5 177.5 C281 175.7 279.3 173.8 278 172.5 C276.7 171.2 275.5 170.5 272.6 169.8 C269.7 169.1 263.9 168.6 260.5 168.3 C257.1 168 253.8 168.5 252 168 C250.2 167.5 248.2 166 249.6 165.4Z"/><path d="M177.4 351.7 C179 349.6 185.4 348.8 188.1 347.8 C190.8 346.8 190.9 345.8 193.7 345.5 C196.5 345.2 202.2 346.8 205 346 C207.8 345.2 208.2 341.8 210.6 340.5 C213 339.2 217.5 337.8 219.6 338.2 C221.7 338.6 222.6 340.4 223 342.7 C223.4 344.9 222.9 349.1 221.8 351.7 C220.7 354.3 217.7 355.9 216.2 358.5 C214.7 361.1 213.6 364.1 212.8 367.5 C212.1 370.9 212.6 375.7 211.7 378.7 C210.8 381.7 209.8 383.7 207.2 385.4 C204.6 387.1 199.4 388.8 196 388.8 C192.6 388.8 189.2 386.7 187 385.4 C184.8 384.1 183.6 383.6 182.5 381 C181.4 378.4 180.9 373.1 180.2 369.7 C179.5 366.3 179 363.7 178.5 360.7 C178 357.7 175.8 353.8 177.4 351.7Z"/><path d="M127.2 169.6 C127.7 166.7 129.3 161.8 131.1 159.4 C132.9 157 135.7 156.2 138.2 155.4 C140.7 154.6 144.1 154.3 146.1 154.3 C148.1 154.3 149.6 154.4 150 155.4 C150.4 156.4 147.6 158.6 148.4 160.2 C149.2 161.8 153.2 163.1 154.7 164.9 C156.1 166.7 157 168.8 157.1 171.2 C157.2 173.6 156.3 176.7 155.5 179.1 C154.7 181.5 152.7 183.4 152.4 185.4 C152.2 187.4 152.9 189.1 154 190.9 C155.1 192.7 157 194.3 158.7 196.4 C160.4 198.5 163.8 201.9 164 203.5 C164.2 205.1 161.2 206.4 160 206 C158.8 205.6 158.8 202.7 157.1 201.1 C155.4 199.5 152.1 198.2 150 196.4 C147.9 194.6 146.3 192.1 144.5 190.1 C142.7 188.1 141 185.9 139 184.6 C137 183.3 134.5 183.5 132.7 182.2 C130.9 180.9 128.9 178.8 128 176.7 C127.1 174.6 126.7 172.5 127.2 169.6Z"/><path d="M31.5 119.8 C32.4 119 34.6 120.2 36 121 C37.4 121.8 38.5 122.6 40 124.6 C41.5 126.6 43.5 129.6 44.8 133 C46.1 136.4 47.1 141.8 47.8 145 C48.5 148.2 49.1 151.7 48.8 152.5 C48.5 153.3 47.3 151.8 46 150 C44.7 148.2 42.8 144.4 41 141.6 C39.2 138.8 36.7 135.6 35 133 C33.3 130.4 31.5 128 30.9 125.8 C30.3 123.6 30.6 120.6 31.5 119.8Z"/></g>
<path d="M43.3 356.2 L43.3 318.6 A37.6 37.6 0 0 1 44.2 318.6 Z" fill="#cbe8a2"/><path d="M43.3 356.2 L44.2 318.6 A37.6 37.6 0 0 1 45.8 318.6 Z" fill="#bcc4e4"/><path d="M43.3 356.2 L45.8 318.6 A37.6 37.6 0 0 1 66.4 326.5 Z" fill="#fcc4ae"/><path d="M43.3 356.2 L66.4 326.5 A37.6 37.6 0 1 1 43.3 318.6 Z" fill="#b2dfd3"/>
<rect x="0" y="0" width="400" height="399" fill="none" stroke="#000" stroke-width="1.3"/>
</g>
<g transform="translate(1379 110.3)">
<path d="M104 11.4 C105.8 10.6 106.7 10.6 108.1 11.4 C109.5 12.2 111.1 14.1 112.2 16.3 C113.3 18.5 114.3 21.8 114.6 24.5 C114.9 27.2 114.1 30.3 113.8 32.7 C113.5 35.2 113.8 37 113 39.2 C112.2 41.4 110.4 44.2 108.9 45.8 C107.4 47.4 105.6 48.2 104 49 C102.4 49.8 100.3 50.2 99.1 50.7 C97.9 51.2 97 49.8 96.7 52.3 C96.4 54.8 97.2 60.5 97.5 65.4 C97.8 70.3 97.8 78.2 98.3 81.7 C98.8 85.2 99.7 86 100.8 86.6 C101.9 87.1 103.7 86.4 104.8 85 C105.9 83.6 106.3 78.1 107.3 78.4 C108.3 78.7 109.5 84.2 110.6 86.6 C111.7 89 112.8 90.8 114 93 C115.2 95.2 116.5 98.2 118 99.5 C119.5 100.8 121.5 101.2 123 100.5 C124.5 99.8 126.1 96.8 127 95 C127.9 93.2 128 93.5 128.5 89.9 C129 86.3 129.5 79 130.2 73.5 C130.9 68 131.8 61.8 132.6 57.2 C133.4 52.6 133.6 48.8 135 45.8 C136.4 42.8 137.8 42.3 140.8 39.2 C143.8 36.1 148.9 30.4 153 27 C157.1 23.6 161.6 21.1 165.3 18.8 C169 16.6 170.4 15.1 175 13.5 C179.6 11.9 187 10.1 193 9 C199 8 205.7 7.4 210.9 7.2 C216.1 7 219.9 6.6 224.4 8.1 C228.9 9.6 233.4 13 237.9 16.2 C242.4 19.3 247.7 23.2 251.4 27 C255.2 30.8 257.8 34.8 260.4 38.7 C262.9 42.6 265 46.4 266.7 50.4 C268.4 54.4 269.2 58.7 270.3 63 C271.4 67.3 271.9 71.5 273 76.4 C274.1 81.3 275.2 88.4 276.6 92.4 C278 96.4 280.3 97.5 281.3 100.5 C282.3 103.5 282.9 107.8 282.6 110.6 C282.3 113.4 281.2 115.6 279.3 117.3 C277.4 119 273.7 119.6 271.2 120.7 C268.7 121.8 267.2 122.4 264.4 124.1 C261.6 125.8 257.7 128.8 254.3 130.8 C250.9 132.8 247.6 134.2 244.2 136.2 C240.8 138.2 237.5 141.1 234.1 143 C230.7 144.9 227.4 146.2 224 147.7 C220.6 149.1 217.7 150.8 213.8 151.7 C209.9 152.6 204.7 152.9 200.4 153.1 C196.1 153.3 191.1 154.6 188.2 153.1 C185.3 151.6 183.6 146.7 182.8 144.3 C182 141.9 181.7 140.1 183.5 138.9 C185.3 137.7 189.7 137 193.6 136.9 C197.5 136.8 203.2 138.1 207.1 138.2 C211 138.3 214.8 138.4 217.2 137.6 C219.6 136.8 221.1 135.6 221.3 133.5 C221.5 131.4 219.8 127.1 218.6 124.8 C217.3 122.5 216.3 121.2 213.8 119.4 C211.3 117.6 206.5 115.5 203.7 114 C200.9 112.5 198.7 112.3 197 110.6 C195.3 108.9 194.5 105.9 193.6 103.8 C192.7 101.7 191 100.3 191.6 97.8 C192.2 95.3 194.4 90.8 197 89 C199.6 87.2 204.3 87.7 207.1 87 C209.9 86.3 212.1 86.3 213.8 85 C215.5 83.7 215.9 81.4 217.2 78.9 C218.4 76.4 220.7 72.8 221.3 70.1 C221.9 67.4 221 66.3 220.8 63 C220.6 59.7 220.8 53.4 219.9 50.4 C219 47.4 217.7 46.5 215.4 45 C213.2 43.5 210.1 42 206.4 41.4 C202.7 40.8 197.5 40.9 193 41.4 C188.5 41.9 182.5 43.5 179.5 44.1 C176.5 44.7 178.1 44.5 175 45 C171.9 45.5 164.9 46.6 161.2 47.4 C157.5 48.2 154.9 48.2 153 49.8 C151.1 51.4 150.3 53.2 149.8 57.2 C149.3 61.2 149.8 68.7 149.8 73.5 C149.8 78.3 150.6 81.7 149.8 85.8 C149 89.9 146.4 93.9 144.9 98 C143.4 102.1 142.9 106.9 140.8 110.3 C138.8 113.7 136 116.2 132.6 118.5 C129.2 120.8 124.5 123 120.4 124.2 C116.3 125.4 111.6 125.4 108.1 125.8 C104.5 126.2 102.5 127.1 99.1 126.6 C95.7 126 91.7 124.5 87.7 122.5 C83.8 120.5 78.8 117.1 75.4 114.4 C72 111.7 69.5 109.6 67.3 106.2 C65.1 102.8 63.5 98.1 62.4 94 C61.3 89.9 60.9 85.8 60.7 81.7 C60.6 77.6 60.8 73.1 61.5 69.4 C62.2 65.7 63.2 62.3 64.8 59.6 C66.4 56.9 68.8 54.7 71.3 53.1 C73.8 51.5 76.5 50.6 79.5 49.8 C82.5 49 87.1 48.9 89.3 48.2 C91.5 47.5 92.6 47.7 92.6 45.8 C92.6 43.9 90 40.3 89.3 36.8 C88.6 33.2 88.2 27.2 88.5 24.5 C88.8 21.8 89.5 21.8 91 20.4 C92.5 19 95.3 17.8 97.5 16.3 C99.7 14.8 102.2 12.2 104 11.4Z" fill="#e0e0e0"/><path d="M31.5 119.8 C32.4 119 34.6 120.2 36 121 C37.4 121.8 38.5 122.6 40 124.6 C41.5 126.6 43.5 129.6 44.8 133 C46.1 136.4 47.1 141.8 47.8 145 C48.5 148.2 49.1 151.7 48.8 152.5 C48.5 153.3 47.3 151.8 46 150 C44.7 148.2 42.8 144.4 41 141.6 C39.2 138.8 36.7 135.6 35 133 C33.3 130.4 31.5 128 30.9 125.8 C30.3 123.6 30.6 120.6 31.5 119.8Z" fill="#e0e0e0"/><path d="M13.2 191.2 C14.4 187.7 15.8 183.1 18.7 180.1 C21.6 177.1 27.2 174.8 30.5 173.1 C33.8 171.4 35.1 170.5 38.4 170 C41.7 169.5 46.9 169.3 50.2 170 C53.5 170.7 54.1 173 58 173.9 C61.9 174.8 69.2 175 73.8 175.4 C78.4 175.8 82.6 175.1 85.5 176.2 C88.4 177.3 89.3 179.5 91 182 C92.7 184.5 94.5 188.4 95.5 191.2 C96.5 194 97.7 196.4 97.3 199 C96.9 201.6 94.3 204.4 93 207 C91.7 209.6 91 211.4 89.5 214.7 C88 217.9 85.3 223.2 84 226.5 C82.7 229.8 83.1 232 81.6 234.4 C80.1 236.8 77 239.3 75 241 C73 242.7 72.6 243.3 69.8 244.6 C67 245.8 61.5 247.7 58 248.5 C54.5 249.3 51.9 249.7 48.6 249.3 C45.3 248.9 41.2 248.4 38.4 246.2 C35.6 244 33.7 238.7 32 236 C30.3 233.3 30 231.5 28 230 C26 228.5 22.3 228.3 20 227 C17.7 225.7 15.4 224.5 14 222 C12.6 219.5 12 215.5 11.6 212 C11.2 208.5 11.3 204.5 11.6 201 C11.9 197.5 12 194.7 13.2 191.2Z" fill="#e0e0e0"/><path d="M67 249 C67.5 248.5 70.5 251.8 72 254 C73.5 256.2 75.2 259.3 76 262 C76.8 264.7 77.2 267.7 77 270 C76.8 272.3 76 275 75 276 C74 277 72.5 277.2 71 276 C69.5 274.8 67.7 271.2 66 269 C64.3 266.8 61.7 264.5 61 263 C60.3 261.5 61 260 62 260 C63 260 65.8 263.5 67 263 C68.2 262.5 69 259.3 69 257 C69 254.7 66.5 249.5 67 249Z" fill="#e0e0e0"/><path d="M127.2 169.6 C127.7 166.7 129.3 161.8 131.1 159.4 C132.9 157 135.7 156.2 138.2 155.4 C140.7 154.6 144.1 154.3 146.1 154.3 C148.1 154.3 149.6 154.4 150 155.4 C150.4 156.4 147.6 158.6 148.4 160.2 C149.2 161.8 153.2 163.1 154.7 164.9 C156.1 166.7 157 168.8 157.1 171.2 C157.2 173.6 156.3 176.7 155.5 179.1 C154.7 181.5 152.7 183.4 152.4 185.4 C152.2 187.4 152.9 189.1 154 190.9 C155.1 192.7 157 194.3 158.7 196.4 C160.4 198.5 163.8 201.9 164 203.5 C164.2 205.1 161.2 206.4 160 206 C158.8 205.6 158.8 202.7 157.1 201.1 C155.4 199.5 152.1 198.2 150 196.4 C147.9 194.6 146.3 192.1 144.5 190.1 C142.7 188.1 141 185.9 139 184.6 C137 183.3 134.5 183.5 132.7 182.2 C130.9 180.9 128.9 178.8 128 176.7 C127.1 174.6 126.7 172.5 127.2 169.6Z" fill="#e0e0e0"/><path d="M104 220.6 C105.4 218 111.2 215.5 115 213.3 C118.8 211.1 122.8 208.9 127 207.3 C131.2 205.7 134.9 204.4 140 203.6 C145.1 202.8 153.4 201.8 157.3 202.4 C161.2 203 161.3 205.9 163.3 207.3 C165.3 208.7 167.4 208.8 169.4 211 C171.4 213.2 173 217.6 175.4 220.6 C177.8 223.6 181 227 184 229 C187 231 190.4 231.9 193.6 232.7 C196.8 233.5 199.9 233.3 203 234 C206.1 234.7 210 235.7 212 237 C214 238.3 216.2 240.7 215 242 C213.8 243.3 208.2 244.3 205 245 C201.8 245.7 198.9 245.4 196 246 C193.1 246.6 190.3 247 187.5 248.4 C184.7 249.8 182 252 179 254.4 C176 256.8 172 260.6 169.4 263 C166.8 265.4 166.3 267.6 163.3 269 C160.3 270.4 155.2 271.2 151.2 271.4 C147.1 271.6 142.4 271.2 139 270.2 C135.6 269.2 133.7 267.1 130.7 265.3 C127.7 263.5 123.8 260.9 121 259.3 C118.2 257.7 115.1 257.5 113.7 255.7 C112.3 253.9 112.9 251.6 112.5 248.4 C112.1 245.2 112.3 239.5 111.3 236.3 C110.3 233.1 107.7 231.6 106.5 229 C105.3 226.4 102.6 223.2 104 220.6Z" fill="#e0e0e0"/><path d="M95.6 290.7 C96.6 289.9 99.6 294.8 102.8 295.6 C106 296.4 111 295.7 115 295.6 C119 295.5 123 295 127 295 C131 295 135.2 296.1 139 295.6 C142.8 295.1 147.8 293 150 292 C152.2 291 151.5 290.7 152.5 289.5 C153.5 288.3 155.2 286.5 156 284.7 C156.8 282.9 156.6 281.1 157.3 278.6 C158 276.2 158.6 272.4 160 270 C161.4 267.6 164.5 264 166 264 C167.5 264 169 266.9 169 270 C169 273.1 167.3 279.5 166 282.3 C164.7 285.1 162.2 285.4 161 287 C159.8 288.6 158.9 289.4 158.5 292 C158.1 294.6 159.1 299.6 158.5 302.8 C157.9 306 156.6 308.5 155 311.3 C153.4 314.1 151 317.4 148.8 319.8 C146.6 322.2 144.2 323.8 141.6 325.8 C139 327.8 135.4 330.7 133 331.9 C130.6 333.1 129 333.2 127 333 C125 332.8 123 332.3 121 330.7 C119 329.1 117.4 325.6 115 323.4 C112.6 321.2 108.9 319.6 106.5 317.4 C104.1 315.2 102 312.8 100.4 310 C98.8 307.2 97.6 303.6 96.8 300.4 C96 297.2 94.6 291.5 95.6 290.7Z" fill="#e0e0e0"/><path d="M249.6 165.4 C251 164.8 256.7 164.2 260.5 164.3 C264.3 164.4 269 164.9 272.6 166 C276.2 167.1 279.9 169.3 282.3 170.9 C284.7 172.5 285.1 174.5 287.1 175.7 C289.1 176.9 290.8 177.3 294.4 178.1 C298 178.9 305.3 180.8 308.9 180.6 C312.5 180.4 314 177 316.2 177 C318.4 177 320.8 178.8 322.2 180.6 C323.6 182.4 324.2 185.2 324.6 187.8 C325 190.4 325.4 193.7 324.6 196.3 C323.8 198.9 322.4 201.8 319.8 203.6 C317.2 205.4 311.9 206.4 308.9 207.2 C305.9 208 303 207.2 301.6 208.4 C300.2 209.6 301.2 212 300.4 214.4 C299.6 216.8 297.4 219.9 296.8 222.9 C296.2 225.9 295.6 230.2 296.8 232.6 C298 235 301 235 304 237.4 C307 239.8 312.2 243.8 315 247 C317.8 250.2 319.8 253.2 321 256.8 C322.2 260.4 322.4 263.9 322.2 268.9 C322 273.9 321.2 281.6 319.8 287 C318.4 292.4 316.1 297.8 313.7 301.6 C311.3 305.4 309.1 308.6 305.3 310 C301.5 311.4 296.1 310.8 290.7 310 C285.2 309.2 278.7 306.4 272.6 305.2 C266.6 304 260.4 303.8 254.4 302.8 C248.3 301.8 242.4 301.1 236.3 299.1 C230.2 297.1 222.9 294.1 218.1 290.7 C213.3 287.3 210.3 281.6 207.3 278.6 C204.3 275.7 202.6 274.3 200 273 C197.4 271.7 193.8 272.5 192 271 C190.2 269.5 188.7 267 189 264 C189.3 261 192.2 256 194 253 C195.8 250 198 248.2 200 246 C202 243.8 205.5 242.3 206 240 C206.5 237.7 204 235 203 232 C202 229 200.2 225.2 200 222 C199.8 218.8 201.2 215.5 202 213 C202.8 210.5 203.1 208.3 204.8 207 C206.5 205.7 208.8 205.5 212 205 C215.2 204.5 219.5 204.4 224.2 204 C228.9 203.6 235 203.6 240 202.5 C245 201.4 250.2 199.7 254.4 197.7 C258.6 195.7 261.9 192.9 265.3 190.5 C268.7 188.1 272.5 185.4 275 183.2 C277.5 181 280 179.3 280.5 177.5 C281 175.7 279.3 173.8 278 172.5 C276.7 171.2 275.5 170.5 272.6 169.8 C269.7 169.1 263.9 168.6 260.5 168.3 C257.1 168 253.8 168.5 252 168 C250.2 167.5 248.2 166 249.6 165.4Z" fill="#e0e0e0"/><path d="M305 350.6 C305.4 349.9 307.4 353.3 309.5 354 C311.6 354.7 314.6 354.4 317.4 355 C320.2 355.6 324 356.2 326.4 357.3 C328.8 358.4 330.9 359.7 332 361.8 C333.1 363.9 334 367.9 333.1 369.7 C332.2 371.5 329.2 372.1 326.4 372.5 C323.6 372.9 318.5 371.7 316.3 372 C314.1 372.3 314.9 374.2 313 374.2 C311.1 374.2 306.3 373.3 305 372 C303.7 370.7 304.6 368.6 305 366.3 C305.4 364.1 307.3 361.1 307.3 358.5 C307.3 355.9 304.6 351.4 305 350.6Z" fill="#e0e0e0"/><path d="M335.5 204.2 C336.7 203.8 340.8 204.1 343 204.5 C345.2 204.9 347.6 206 349 206.8 C350.4 207.7 351.7 208.9 351.5 209.6 C351.3 210.3 349.6 211 348 211 C346.4 211 344 210.1 342 209.5 C340 208.9 337.1 208.1 336 207.2 C334.9 206.3 334.3 204.6 335.5 204.2Z" fill="#e0e0e0"/><path d="M209.7 174.2 C209.5 172.2 210.7 167.8 212.1 165.8 C213.5 163.8 216.1 162.7 218.1 162.1 C220.1 161.5 222.8 161.3 224.2 162.1 C225.6 162.9 225.6 165 226.6 167 C227.6 169 230 172.6 230.2 174.2 C230.4 175.8 229.4 176.4 227.8 176.6 C226.2 176.8 222 175 220.6 175.4 C219.2 175.8 220.6 178.6 219.4 179 C218.2 179.4 214.9 178.7 213.3 177.9 C211.7 177.1 209.9 176.2 209.7 174.2Z" fill="#e0e0e0"/><path d="M177.4 351.7 C179 349.6 185.4 348.8 188.1 347.8 C190.8 346.8 190.9 345.8 193.7 345.5 C196.5 345.2 202.2 346.8 205 346 C207.8 345.2 208.2 341.8 210.6 340.5 C213 339.2 217.5 337.8 219.6 338.2 C221.7 338.6 222.6 340.4 223 342.7 C223.4 344.9 222.9 349.1 221.8 351.7 C220.7 354.3 217.7 355.9 216.2 358.5 C214.7 361.1 213.6 364.1 212.8 367.5 C212.1 370.9 212.6 375.7 211.7 378.7 C210.8 381.7 209.8 383.7 207.2 385.4 C204.6 387.1 199.4 388.8 196 388.8 C192.6 388.8 189.2 386.7 187 385.4 C184.8 384.1 183.6 383.6 182.5 381 C181.4 378.4 180.9 373.1 180.2 369.7 C179.5 366.3 179 363.7 178.5 360.7 C178 357.7 175.8 353.8 177.4 351.7Z" fill="#e0e0e0"/><path d="M331.3 86.7 C331.8 83.6 333.1 82.2 334.8 80.4 C336.6 78.6 339.5 76.3 341.8 75.6 C344.1 74.9 347.1 75.1 348.7 76.3 C350.3 77.5 352.1 81.6 351.5 82.5 C350.9 83.4 347.3 81.2 345.2 81.8 C343.1 82.4 340.6 84.1 339 86 C337.4 87.9 336.3 90.7 335.5 93 C334.7 95.3 334.6 99 334 100 C333.4 101 332.4 101.4 332 99.2 C331.6 97 330.8 89.8 331.3 86.7Z" fill="#e0e0e0"/><path d="M355.7 86 C356.9 85.3 360.3 86.1 362.6 86.7 C364.9 87.3 368.6 87.7 369.6 89.5 C370.7 91.3 369.4 95 368.9 97.8 C368.4 100.6 367 103.9 366.8 106.2 C366.6 108.5 366.5 110.4 367.5 111.8 C368.5 113.2 371.5 113.3 373 114.5 C374.5 115.7 376.2 117.2 376.5 118.7 C376.8 120.2 375.9 123 374.5 123.6 C373.1 124.2 370.1 122.8 368.2 122.2 C366.3 121.6 364.2 121.3 363.3 120.1 C362.4 118.9 362.4 116.8 362.6 115.2 C362.8 113.6 364.9 112.4 364.7 110.4 C364.5 108.4 362.1 105.5 361.2 103.4 C360.3 101.3 360.1 99.9 359.2 97.8 C358.3 95.7 356.3 92.9 355.7 90.9 C355.1 88.9 354.5 86.7 355.7 86Z" fill="#e0e0e0"/><path d="M326.4 100.6 C327 99.3 329.3 100.7 331.3 101.3 C333.3 101.9 336 103.5 338.3 104.1 C340.6 104.7 343.4 103.9 345.2 104.8 C347 105.7 348.8 108 349.4 109.7 C350 111.4 349.8 113.5 348.7 115.2 C347.6 116.9 345 119.5 343.1 120.1 C341.2 120.7 339.3 119.6 337.6 118.7 C335.9 117.8 334.3 116.1 332.7 114.5 C331.1 112.9 328.9 111.3 327.8 109 C326.8 106.7 325.8 101.9 326.4 100.6Z" fill="#e0e0e0"/><path d="M307 122.2 C306.8 120.1 308.1 118.5 309.7 117.3 C311.3 116.1 314.5 115 316.7 115.2 C318.9 115.4 321.6 117 323 118.7 C324.4 120.5 325 123.6 325 125.7 C325 127.8 324.3 130 323 131.2 C321.7 132.3 319.4 132.8 317.4 132.6 C315.4 132.4 312.8 131.5 311.1 129.8 C309.4 128.1 307.2 124.3 307 122.2Z" fill="#e0e0e0"/><path d="M311.1 144.5 C311.7 143.3 315.4 141.6 317.4 139.6 C319.4 137.6 321.8 132.6 323 132.6 C324.2 132.6 324.8 137.3 324.4 139.6 C324 141.9 322.6 145.3 320.9 146.5 C319.1 147.7 315.5 146.8 313.9 146.5 C312.3 146.2 310.5 145.7 311.1 144.5Z" fill="#e0e0e0"/><path d="M334.8 129.2 C336.4 128 342.6 129.8 345.2 129.2 C347.8 128.6 348.4 126.5 350.1 125.7 C351.9 124.9 353.6 123.7 355.7 124.3 C357.8 124.9 360.6 127.2 362.6 129.2 C364.6 131.2 366.6 133.8 367.5 136.1 C368.4 138.4 368.8 141.4 368.2 143.1 C367.6 144.8 365.9 146.5 364 146.5 C362.1 146.5 359.4 143.3 357.1 143.1 C354.8 142.9 352.2 144.6 350.1 145.2 C348 145.8 346.4 146.8 344.5 146.5 C342.6 146.2 340.5 144.8 339 143.1 C337.5 141.4 336.2 138.4 335.5 136.1 C334.8 133.8 333.2 130.3 334.8 129.2Z" fill="#e0e0e0"/><path d="M335.5 146.5 C336.2 145.6 339.6 145.9 341.8 146.5 C344 147.1 345.8 150 348.7 150 C351.6 150 356.6 146.5 359.2 146.5 C361.8 146.5 363.3 148.2 364 150 C364.7 151.8 363.8 155.2 363.3 157 C362.8 158.8 363.4 159.8 361.2 160.5 C359 161.2 353.1 161.8 350.1 161.2 C347.1 160.6 345.2 158.5 343.1 157 C341 155.5 338.9 153.8 337.6 152.1 C336.3 150.3 334.8 147.4 335.5 146.5Z" fill="#e0e0e0"/><path d="M329.2 154.9 C330.1 155.5 332.7 158.8 334.8 160.5 C336.9 162.2 339.8 163.9 341.8 165.3 C343.8 166.7 346 167.9 346.6 168.8 C347.2 169.7 346.5 170.9 345.2 170.9 C343.9 170.9 341.1 170.2 339 168.8 C336.9 167.4 334.3 164.6 332.7 162.6 C331.1 160.6 329.8 158.3 329.2 157 C328.6 155.7 328.3 154.3 329.2 154.9Z" fill="#e0e0e0"/><path d="M179.9 178.3 C179.6 177.1 181.2 175.2 182.3 173.6 C183.4 172 185.1 170.2 186.2 168.8 C187.2 167.4 187.5 165.4 188.6 164.9 C189.7 164.4 191.6 164.4 192.5 165.7 C193.4 167 194.2 170.8 194.1 172.8 C194 174.8 192.8 176.1 191.7 177.5 C190.6 178.9 189.1 180.9 187.8 181.4 C186.5 181.9 185.2 181.1 183.9 180.6 C182.6 180.1 180.2 179.5 179.9 178.3Z" fill="#e0e0e0"/><path d="M163.3 129.5 C163.7 129 165.8 129.1 166.5 129.8 C167.2 130.6 167.2 132.8 167.5 134 C167.8 135.2 168.2 137 168 137.3 C167.8 137.6 166.9 136.7 166.2 136 C165.5 135.3 164.5 134.1 164 133 C163.5 131.9 162.9 130 163.3 129.5Z" fill="#e0e0e0"/><path d="M312.5 102 C313.8 103.3 317.4 107.7 320 110 C322.6 112.3 325.6 114 328 116 C330.4 118 332.5 120 334.5 122 C336.5 124 337.6 126.2 340 128 C342.4 129.8 347.2 132.2 348.7 133" fill="none" stroke="#e0e0e0" stroke-width="7.5" stroke-linecap="round"/><path d="M318.8 151.4 C320 150.7 323.1 148.6 326 147 C328.9 145.4 334.5 142.6 336.2 141.7" fill="none" stroke="#e0e0e0" stroke-width="3.6" stroke-linecap="round"/><path d="M373.8 152.8 C375.2 153.9 378.9 157.3 382 159.5 C385.1 161.7 390.8 164.9 392.6 166" fill="none" stroke="#e0e0e0" stroke-width="4.2" stroke-linecap="round"/><path d="M382.1 161.9 C381.5 163 379.6 166.4 378.5 168.5 C377.4 170.6 375.8 173.4 375.2 174.4" fill="none" stroke="#e0e0e0" stroke-width="3.8" stroke-linecap="round"/><path d="M366.8 168.1 C367.7 168.3 370.5 169.2 372 169.5 C373.5 169.8 375.3 169.9 376 170" fill="none" stroke="#e0e0e0" stroke-width="2.6" stroke-linecap="round"/><path d="M96.8 289.5 C98 288 101.6 282.9 104 280.5 C106.4 278.1 108.8 276.5 111 275 C113.2 273.5 116.3 272 117.4 271.4" fill="none" stroke="#e0e0e0" stroke-width="3.6" stroke-linecap="round"/><path d="M104 11.4 C105.8 10.6 106.7 10.6 108.1 11.4 C109.5 12.2 111.1 14.1 112.2 16.3 C113.3 18.5 114.3 21.8 114.6 24.5 C114.9 27.2 114.1 30.3 113.8 32.7 C113.5 35.2 113.8 37 113 39.2 C112.2 41.4 110.4 44.2 108.9 45.8 C107.4 47.4 105.6 48.2 104 49 C102.4 49.8 100.3 50.2 99.1 50.7 C97.9 51.2 97 49.8 96.7 52.3 C96.4 54.8 97.2 60.5 97.5 65.4 C97.8 70.3 97.8 78.2 98.3 81.7 C98.8 85.2 99.7 86 100.8 86.6 C101.9 87.1 103.7 86.4 104.8 85 C105.9 83.6 106.3 78.1 107.3 78.4 C108.3 78.7 109.5 84.2 110.6 86.6 C111.7 89 112.8 90.8 114 93 C115.2 95.2 116.5 98.2 118 99.5 C119.5 100.8 121.5 101.2 123 100.5 C124.5 99.8 126.1 96.8 127 95 C127.9 93.2 128 93.5 128.5 89.9 C129 86.3 129.5 79 130.2 73.5 C130.9 68 131.8 61.8 132.6 57.2 C133.4 52.6 133.6 48.8 135 45.8 C136.4 42.8 137.8 42.3 140.8 39.2 C143.8 36.1 148.9 30.4 153 27 C157.1 23.6 161.6 21.1 165.3 18.8 C169 16.6 170.4 15.1 175 13.5 C179.6 11.9 187 10.1 193 9 C199 8 205.7 7.4 210.9 7.2 C216.1 7 219.9 6.6 224.4 8.1 C228.9 9.6 233.4 13 237.9 16.2 C242.4 19.3 247.7 23.2 251.4 27 C255.2 30.8 257.8 34.8 260.4 38.7 C262.9 42.6 265 46.4 266.7 50.4 C268.4 54.4 269.2 58.7 270.3 63 C271.4 67.3 271.9 71.5 273 76.4 C274.1 81.3 275.2 88.4 276.6 92.4 C278 96.4 280.3 97.5 281.3 100.5 C282.3 103.5 282.9 107.8 282.6 110.6 C282.3 113.4 281.2 115.6 279.3 117.3 C277.4 119 273.7 119.6 271.2 120.7 C268.7 121.8 267.2 122.4 264.4 124.1 C261.6 125.8 257.7 128.8 254.3 130.8 C250.9 132.8 247.6 134.2 244.2 136.2 C240.8 138.2 237.5 141.1 234.1 143 C230.7 144.9 227.4 146.2 224 147.7 C220.6 149.1 217.7 150.8 213.8 151.7 C209.9 152.6 204.7 152.9 200.4 153.1 C196.1 153.3 191.1 154.6 188.2 153.1 C185.3 151.6 183.6 146.7 182.8 144.3 C182 141.9 181.7 140.1 183.5 138.9 C185.3 137.7 189.7 137 193.6 136.9 C197.5 136.8 203.2 138.1 207.1 138.2 C211 138.3 214.8 138.4 217.2 137.6 C219.6 136.8 221.1 135.6 221.3 133.5 C221.5 131.4 219.8 127.1 218.6 124.8 C217.3 122.5 216.3 121.2 213.8 119.4 C211.3 117.6 206.5 115.5 203.7 114 C200.9 112.5 198.7 112.3 197 110.6 C195.3 108.9 194.5 105.9 193.6 103.8 C192.7 101.7 191 100.3 191.6 97.8 C192.2 95.3 194.4 90.8 197 89 C199.6 87.2 204.3 87.7 207.1 87 C209.9 86.3 212.1 86.3 213.8 85 C215.5 83.7 215.9 81.4 217.2 78.9 C218.4 76.4 220.7 72.8 221.3 70.1 C221.9 67.4 221 66.3 220.8 63 C220.6 59.7 220.8 53.4 219.9 50.4 C219 47.4 217.7 46.5 215.4 45 C213.2 43.5 210.1 42 206.4 41.4 C202.7 40.8 197.5 40.9 193 41.4 C188.5 41.9 182.5 43.5 179.5 44.1 C176.5 44.7 178.1 44.5 175 45 C171.9 45.5 164.9 46.6 161.2 47.4 C157.5 48.2 154.9 48.2 153 49.8 C151.1 51.4 150.3 53.2 149.8 57.2 C149.3 61.2 149.8 68.7 149.8 73.5 C149.8 78.3 150.6 81.7 149.8 85.8 C149 89.9 146.4 93.9 144.9 98 C143.4 102.1 142.9 106.9 140.8 110.3 C138.8 113.7 136 116.2 132.6 118.5 C129.2 120.8 124.5 123 120.4 124.2 C116.3 125.4 111.6 125.4 108.1 125.8 C104.5 126.2 102.5 127.1 99.1 126.6 C95.7 126 91.7 124.5 87.7 122.5 C83.8 120.5 78.8 117.1 75.4 114.4 C72 111.7 69.5 109.6 67.3 106.2 C65.1 102.8 63.5 98.1 62.4 94 C61.3 89.9 60.9 85.8 60.7 81.7 C60.6 77.6 60.8 73.1 61.5 69.4 C62.2 65.7 63.2 62.3 64.8 59.6 C66.4 56.9 68.8 54.7 71.3 53.1 C73.8 51.5 76.5 50.6 79.5 49.8 C82.5 49 87.1 48.9 89.3 48.2 C91.5 47.5 92.6 47.7 92.6 45.8 C92.6 43.9 90 40.3 89.3 36.8 C88.6 33.2 88.2 27.2 88.5 24.5 C88.8 21.8 89.5 21.8 91 20.4 C92.5 19 95.3 17.8 97.5 16.3 C99.7 14.8 102.2 12.2 104 11.4Z" fill="url(#pb55)"/><path d="M31.5 119.8 C32.4 119 34.6 120.2 36 121 C37.4 121.8 38.5 122.6 40 124.6 C41.5 126.6 43.5 129.6 44.8 133 C46.1 136.4 47.1 141.8 47.8 145 C48.5 148.2 49.1 151.7 48.8 152.5 C48.5 153.3 47.3 151.8 46 150 C44.7 148.2 42.8 144.4 41 141.6 C39.2 138.8 36.7 135.6 35 133 C33.3 130.4 31.5 128 30.9 125.8 C30.3 123.6 30.6 120.6 31.5 119.8Z" fill="url(#pb55)"/><path d="M13.2 191.2 C14.4 187.7 15.8 183.1 18.7 180.1 C21.6 177.1 27.2 174.8 30.5 173.1 C33.8 171.4 35.1 170.5 38.4 170 C41.7 169.5 46.9 169.3 50.2 170 C53.5 170.7 54.1 173 58 173.9 C61.9 174.8 69.2 175 73.8 175.4 C78.4 175.8 82.6 175.1 85.5 176.2 C88.4 177.3 89.3 179.5 91 182 C92.7 184.5 94.5 188.4 95.5 191.2 C96.5 194 97.7 196.4 97.3 199 C96.9 201.6 94.3 204.4 93 207 C91.7 209.6 91 211.4 89.5 214.7 C88 217.9 85.3 223.2 84 226.5 C82.7 229.8 83.1 232 81.6 234.4 C80.1 236.8 77 239.3 75 241 C73 242.7 72.6 243.3 69.8 244.6 C67 245.8 61.5 247.7 58 248.5 C54.5 249.3 51.9 249.7 48.6 249.3 C45.3 248.9 41.2 248.4 38.4 246.2 C35.6 244 33.7 238.7 32 236 C30.3 233.3 30 231.5 28 230 C26 228.5 22.3 228.3 20 227 C17.7 225.7 15.4 224.5 14 222 C12.6 219.5 12 215.5 11.6 212 C11.2 208.5 11.3 204.5 11.6 201 C11.9 197.5 12 194.7 13.2 191.2Z" fill="#3a6ea9"/><path d="M13.2 191.2 C14.4 187.7 15.8 183.1 18.7 180.1 C21.6 177.1 27.2 174.8 30.5 173.1 C33.8 171.4 35.1 170.5 38.4 170 C41.7 169.5 46.9 169.3 50.2 170 C53.5 170.7 54.1 173 58 173.9 C61.9 174.8 69.2 175 73.8 175.4 C78.4 175.8 82.6 175.1 85.5 176.2 C88.4 177.3 89.3 179.5 91 182 C92.7 184.5 94.5 188.4 95.5 191.2 C96.5 194 97.7 196.4 97.3 199 C96.9 201.6 94.3 204.4 93 207 C91.7 209.6 91 211.4 89.5 214.7 C88 217.9 85.3 223.2 84 226.5 C82.7 229.8 83.1 232 81.6 234.4 C80.1 236.8 77 239.3 75 241 C73 242.7 72.6 243.3 69.8 244.6 C67 245.8 61.5 247.7 58 248.5 C54.5 249.3 51.9 249.7 48.6 249.3 C45.3 248.9 41.2 248.4 38.4 246.2 C35.6 244 33.7 238.7 32 236 C30.3 233.3 30 231.5 28 230 C26 228.5 22.3 228.3 20 227 C17.7 225.7 15.4 224.5 14 222 C12.6 219.5 12 215.5 11.6 212 C11.2 208.5 11.3 204.5 11.6 201 C11.9 197.5 12 194.7 13.2 191.2Z" fill="url(#pholes)"/><path d="M67 249 C67.5 248.5 70.5 251.8 72 254 C73.5 256.2 75.2 259.3 76 262 C76.8 264.7 77.2 267.7 77 270 C76.8 272.3 76 275 75 276 C74 277 72.5 277.2 71 276 C69.5 274.8 67.7 271.2 66 269 C64.3 266.8 61.7 264.5 61 263 C60.3 261.5 61 260 62 260 C63 260 65.8 263.5 67 263 C68.2 262.5 69 259.3 69 257 C69 254.7 66.5 249.5 67 249Z" fill="url(#pb55)"/><path d="M127.2 169.6 C127.7 166.7 129.3 161.8 131.1 159.4 C132.9 157 135.7 156.2 138.2 155.4 C140.7 154.6 144.1 154.3 146.1 154.3 C148.1 154.3 149.6 154.4 150 155.4 C150.4 156.4 147.6 158.6 148.4 160.2 C149.2 161.8 153.2 163.1 154.7 164.9 C156.1 166.7 157 168.8 157.1 171.2 C157.2 173.6 156.3 176.7 155.5 179.1 C154.7 181.5 152.7 183.4 152.4 185.4 C152.2 187.4 152.9 189.1 154 190.9 C155.1 192.7 157 194.3 158.7 196.4 C160.4 198.5 163.8 201.9 164 203.5 C164.2 205.1 161.2 206.4 160 206 C158.8 205.6 158.8 202.7 157.1 201.1 C155.4 199.5 152.1 198.2 150 196.4 C147.9 194.6 146.3 192.1 144.5 190.1 C142.7 188.1 141 185.9 139 184.6 C137 183.3 134.5 183.5 132.7 182.2 C130.9 180.9 128.9 178.8 128 176.7 C127.1 174.6 126.7 172.5 127.2 169.6Z" fill="#3a6ea9"/><path d="M127.2 169.6 C127.7 166.7 129.3 161.8 131.1 159.4 C132.9 157 135.7 156.2 138.2 155.4 C140.7 154.6 144.1 154.3 146.1 154.3 C148.1 154.3 149.6 154.4 150 155.4 C150.4 156.4 147.6 158.6 148.4 160.2 C149.2 161.8 153.2 163.1 154.7 164.9 C156.1 166.7 157 168.8 157.1 171.2 C157.2 173.6 156.3 176.7 155.5 179.1 C154.7 181.5 152.7 183.4 152.4 185.4 C152.2 187.4 152.9 189.1 154 190.9 C155.1 192.7 157 194.3 158.7 196.4 C160.4 198.5 163.8 201.9 164 203.5 C164.2 205.1 161.2 206.4 160 206 C158.8 205.6 158.8 202.7 157.1 201.1 C155.4 199.5 152.1 198.2 150 196.4 C147.9 194.6 146.3 192.1 144.5 190.1 C142.7 188.1 141 185.9 139 184.6 C137 183.3 134.5 183.5 132.7 182.2 C130.9 180.9 128.9 178.8 128 176.7 C127.1 174.6 126.7 172.5 127.2 169.6Z" fill="url(#pholes)"/><path d="M104 220.6 C105.4 218 111.2 215.5 115 213.3 C118.8 211.1 122.8 208.9 127 207.3 C131.2 205.7 134.9 204.4 140 203.6 C145.1 202.8 153.4 201.8 157.3 202.4 C161.2 203 161.3 205.9 163.3 207.3 C165.3 208.7 167.4 208.8 169.4 211 C171.4 213.2 173 217.6 175.4 220.6 C177.8 223.6 181 227 184 229 C187 231 190.4 231.9 193.6 232.7 C196.8 233.5 199.9 233.3 203 234 C206.1 234.7 210 235.7 212 237 C214 238.3 216.2 240.7 215 242 C213.8 243.3 208.2 244.3 205 245 C201.8 245.7 198.9 245.4 196 246 C193.1 246.6 190.3 247 187.5 248.4 C184.7 249.8 182 252 179 254.4 C176 256.8 172 260.6 169.4 263 C166.8 265.4 166.3 267.6 163.3 269 C160.3 270.4 155.2 271.2 151.2 271.4 C147.1 271.6 142.4 271.2 139 270.2 C135.6 269.2 133.7 267.1 130.7 265.3 C127.7 263.5 123.8 260.9 121 259.3 C118.2 257.7 115.1 257.5 113.7 255.7 C112.3 253.9 112.9 251.6 112.5 248.4 C112.1 245.2 112.3 239.5 111.3 236.3 C110.3 233.1 107.7 231.6 106.5 229 C105.3 226.4 102.6 223.2 104 220.6Z" fill="url(#pb55)"/><path d="M95.6 290.7 C96.6 289.9 99.6 294.8 102.8 295.6 C106 296.4 111 295.7 115 295.6 C119 295.5 123 295 127 295 C131 295 135.2 296.1 139 295.6 C142.8 295.1 147.8 293 150 292 C152.2 291 151.5 290.7 152.5 289.5 C153.5 288.3 155.2 286.5 156 284.7 C156.8 282.9 156.6 281.1 157.3 278.6 C158 276.2 158.6 272.4 160 270 C161.4 267.6 164.5 264 166 264 C167.5 264 169 266.9 169 270 C169 273.1 167.3 279.5 166 282.3 C164.7 285.1 162.2 285.4 161 287 C159.8 288.6 158.9 289.4 158.5 292 C158.1 294.6 159.1 299.6 158.5 302.8 C157.9 306 156.6 308.5 155 311.3 C153.4 314.1 151 317.4 148.8 319.8 C146.6 322.2 144.2 323.8 141.6 325.8 C139 327.8 135.4 330.7 133 331.9 C130.6 333.1 129 333.2 127 333 C125 332.8 123 332.3 121 330.7 C119 329.1 117.4 325.6 115 323.4 C112.6 321.2 108.9 319.6 106.5 317.4 C104.1 315.2 102 312.8 100.4 310 C98.8 307.2 97.6 303.6 96.8 300.4 C96 297.2 94.6 291.5 95.6 290.7Z" fill="#3a6ea9"/><path d="M95.6 290.7 C96.6 289.9 99.6 294.8 102.8 295.6 C106 296.4 111 295.7 115 295.6 C119 295.5 123 295 127 295 C131 295 135.2 296.1 139 295.6 C142.8 295.1 147.8 293 150 292 C152.2 291 151.5 290.7 152.5 289.5 C153.5 288.3 155.2 286.5 156 284.7 C156.8 282.9 156.6 281.1 157.3 278.6 C158 276.2 158.6 272.4 160 270 C161.4 267.6 164.5 264 166 264 C167.5 264 169 266.9 169 270 C169 273.1 167.3 279.5 166 282.3 C164.7 285.1 162.2 285.4 161 287 C159.8 288.6 158.9 289.4 158.5 292 C158.1 294.6 159.1 299.6 158.5 302.8 C157.9 306 156.6 308.5 155 311.3 C153.4 314.1 151 317.4 148.8 319.8 C146.6 322.2 144.2 323.8 141.6 325.8 C139 327.8 135.4 330.7 133 331.9 C130.6 333.1 129 333.2 127 333 C125 332.8 123 332.3 121 330.7 C119 329.1 117.4 325.6 115 323.4 C112.6 321.2 108.9 319.6 106.5 317.4 C104.1 315.2 102 312.8 100.4 310 C98.8 307.2 97.6 303.6 96.8 300.4 C96 297.2 94.6 291.5 95.6 290.7Z" fill="url(#pholes)"/><path d="M249.6 165.4 C251 164.8 256.7 164.2 260.5 164.3 C264.3 164.4 269 164.9 272.6 166 C276.2 167.1 279.9 169.3 282.3 170.9 C284.7 172.5 285.1 174.5 287.1 175.7 C289.1 176.9 290.8 177.3 294.4 178.1 C298 178.9 305.3 180.8 308.9 180.6 C312.5 180.4 314 177 316.2 177 C318.4 177 320.8 178.8 322.2 180.6 C323.6 182.4 324.2 185.2 324.6 187.8 C325 190.4 325.4 193.7 324.6 196.3 C323.8 198.9 322.4 201.8 319.8 203.6 C317.2 205.4 311.9 206.4 308.9 207.2 C305.9 208 303 207.2 301.6 208.4 C300.2 209.6 301.2 212 300.4 214.4 C299.6 216.8 297.4 219.9 296.8 222.9 C296.2 225.9 295.6 230.2 296.8 232.6 C298 235 301 235 304 237.4 C307 239.8 312.2 243.8 315 247 C317.8 250.2 319.8 253.2 321 256.8 C322.2 260.4 322.4 263.9 322.2 268.9 C322 273.9 321.2 281.6 319.8 287 C318.4 292.4 316.1 297.8 313.7 301.6 C311.3 305.4 309.1 308.6 305.3 310 C301.5 311.4 296.1 310.8 290.7 310 C285.2 309.2 278.7 306.4 272.6 305.2 C266.6 304 260.4 303.8 254.4 302.8 C248.3 301.8 242.4 301.1 236.3 299.1 C230.2 297.1 222.9 294.1 218.1 290.7 C213.3 287.3 210.3 281.6 207.3 278.6 C204.3 275.7 202.6 274.3 200 273 C197.4 271.7 193.8 272.5 192 271 C190.2 269.5 188.7 267 189 264 C189.3 261 192.2 256 194 253 C195.8 250 198 248.2 200 246 C202 243.8 205.5 242.3 206 240 C206.5 237.7 204 235 203 232 C202 229 200.2 225.2 200 222 C199.8 218.8 201.2 215.5 202 213 C202.8 210.5 203.1 208.3 204.8 207 C206.5 205.7 208.8 205.5 212 205 C215.2 204.5 219.5 204.4 224.2 204 C228.9 203.6 235 203.6 240 202.5 C245 201.4 250.2 199.7 254.4 197.7 C258.6 195.7 261.9 192.9 265.3 190.5 C268.7 188.1 272.5 185.4 275 183.2 C277.5 181 280 179.3 280.5 177.5 C281 175.7 279.3 173.8 278 172.5 C276.7 171.2 275.5 170.5 272.6 169.8 C269.7 169.1 263.9 168.6 260.5 168.3 C257.1 168 253.8 168.5 252 168 C250.2 167.5 248.2 166 249.6 165.4Z" fill="url(#pb55)"/><path d="M305 350.6 C305.4 349.9 307.4 353.3 309.5 354 C311.6 354.7 314.6 354.4 317.4 355 C320.2 355.6 324 356.2 326.4 357.3 C328.8 358.4 330.9 359.7 332 361.8 C333.1 363.9 334 367.9 333.1 369.7 C332.2 371.5 329.2 372.1 326.4 372.5 C323.6 372.9 318.5 371.7 316.3 372 C314.1 372.3 314.9 374.2 313 374.2 C311.1 374.2 306.3 373.3 305 372 C303.7 370.7 304.6 368.6 305 366.3 C305.4 364.1 307.3 361.1 307.3 358.5 C307.3 355.9 304.6 351.4 305 350.6Z" fill="url(#pb35)"/><path d="M335.5 204.2 C336.7 203.8 340.8 204.1 343 204.5 C345.2 204.9 347.6 206 349 206.8 C350.4 207.7 351.7 208.9 351.5 209.6 C351.3 210.3 349.6 211 348 211 C346.4 211 344 210.1 342 209.5 C340 208.9 337.1 208.1 336 207.2 C334.9 206.3 334.3 204.6 335.5 204.2Z" fill="url(#pb55)"/><path d="M209.7 174.2 C209.5 172.2 210.7 167.8 212.1 165.8 C213.5 163.8 216.1 162.7 218.1 162.1 C220.1 161.5 222.8 161.3 224.2 162.1 C225.6 162.9 225.6 165 226.6 167 C227.6 169 230 172.6 230.2 174.2 C230.4 175.8 229.4 176.4 227.8 176.6 C226.2 176.8 222 175 220.6 175.4 C219.2 175.8 220.6 178.6 219.4 179 C218.2 179.4 214.9 178.7 213.3 177.9 C211.7 177.1 209.9 176.2 209.7 174.2Z" fill="url(#pb55)"/><path d="M177.4 351.7 C179 349.6 185.4 348.8 188.1 347.8 C190.8 346.8 190.9 345.8 193.7 345.5 C196.5 345.2 202.2 346.8 205 346 C207.8 345.2 208.2 341.8 210.6 340.5 C213 339.2 217.5 337.8 219.6 338.2 C221.7 338.6 222.6 340.4 223 342.7 C223.4 344.9 222.9 349.1 221.8 351.7 C220.7 354.3 217.7 355.9 216.2 358.5 C214.7 361.1 213.6 364.1 212.8 367.5 C212.1 370.9 212.6 375.7 211.7 378.7 C210.8 381.7 209.8 383.7 207.2 385.4 C204.6 387.1 199.4 388.8 196 388.8 C192.6 388.8 189.2 386.7 187 385.4 C184.8 384.1 183.6 383.6 182.5 381 C181.4 378.4 180.9 373.1 180.2 369.7 C179.5 366.3 179 363.7 178.5 360.7 C178 357.7 175.8 353.8 177.4 351.7Z" fill="url(#pb35)"/><path d="M331.3 86.7 C331.8 83.6 333.1 82.2 334.8 80.4 C336.6 78.6 339.5 76.3 341.8 75.6 C344.1 74.9 347.1 75.1 348.7 76.3 C350.3 77.5 352.1 81.6 351.5 82.5 C350.9 83.4 347.3 81.2 345.2 81.8 C343.1 82.4 340.6 84.1 339 86 C337.4 87.9 336.3 90.7 335.5 93 C334.7 95.3 334.6 99 334 100 C333.4 101 332.4 101.4 332 99.2 C331.6 97 330.8 89.8 331.3 86.7Z" fill="url(#pb55)"/><path d="M355.7 86 C356.9 85.3 360.3 86.1 362.6 86.7 C364.9 87.3 368.6 87.7 369.6 89.5 C370.7 91.3 369.4 95 368.9 97.8 C368.4 100.6 367 103.9 366.8 106.2 C366.6 108.5 366.5 110.4 367.5 111.8 C368.5 113.2 371.5 113.3 373 114.5 C374.5 115.7 376.2 117.2 376.5 118.7 C376.8 120.2 375.9 123 374.5 123.6 C373.1 124.2 370.1 122.8 368.2 122.2 C366.3 121.6 364.2 121.3 363.3 120.1 C362.4 118.9 362.4 116.8 362.6 115.2 C362.8 113.6 364.9 112.4 364.7 110.4 C364.5 108.4 362.1 105.5 361.2 103.4 C360.3 101.3 360.1 99.9 359.2 97.8 C358.3 95.7 356.3 92.9 355.7 90.9 C355.1 88.9 354.5 86.7 355.7 86Z" fill="url(#pb20)"/><path d="M326.4 100.6 C327 99.3 329.3 100.7 331.3 101.3 C333.3 101.9 336 103.5 338.3 104.1 C340.6 104.7 343.4 103.9 345.2 104.8 C347 105.7 348.8 108 349.4 109.7 C350 111.4 349.8 113.5 348.7 115.2 C347.6 116.9 345 119.5 343.1 120.1 C341.2 120.7 339.3 119.6 337.6 118.7 C335.9 117.8 334.3 116.1 332.7 114.5 C331.1 112.9 328.9 111.3 327.8 109 C326.8 106.7 325.8 101.9 326.4 100.6Z" fill="url(#pb55)"/><path d="M307 122.2 C306.8 120.1 308.1 118.5 309.7 117.3 C311.3 116.1 314.5 115 316.7 115.2 C318.9 115.4 321.6 117 323 118.7 C324.4 120.5 325 123.6 325 125.7 C325 127.8 324.3 130 323 131.2 C321.7 132.3 319.4 132.8 317.4 132.6 C315.4 132.4 312.8 131.5 311.1 129.8 C309.4 128.1 307.2 124.3 307 122.2Z" fill="url(#pb55)"/><path d="M311.1 144.5 C311.7 143.3 315.4 141.6 317.4 139.6 C319.4 137.6 321.8 132.6 323 132.6 C324.2 132.6 324.8 137.3 324.4 139.6 C324 141.9 322.6 145.3 320.9 146.5 C319.1 147.7 315.5 146.8 313.9 146.5 C312.3 146.2 310.5 145.7 311.1 144.5Z" fill="url(#pb20)"/><path d="M334.8 129.2 C336.4 128 342.6 129.8 345.2 129.2 C347.8 128.6 348.4 126.5 350.1 125.7 C351.9 124.9 353.6 123.7 355.7 124.3 C357.8 124.9 360.6 127.2 362.6 129.2 C364.6 131.2 366.6 133.8 367.5 136.1 C368.4 138.4 368.8 141.4 368.2 143.1 C367.6 144.8 365.9 146.5 364 146.5 C362.1 146.5 359.4 143.3 357.1 143.1 C354.8 142.9 352.2 144.6 350.1 145.2 C348 145.8 346.4 146.8 344.5 146.5 C342.6 146.2 340.5 144.8 339 143.1 C337.5 141.4 336.2 138.4 335.5 136.1 C334.8 133.8 333.2 130.3 334.8 129.2Z" fill="url(#pb35)"/><path d="M335.5 146.5 C336.2 145.6 339.6 145.9 341.8 146.5 C344 147.1 345.8 150 348.7 150 C351.6 150 356.6 146.5 359.2 146.5 C361.8 146.5 363.3 148.2 364 150 C364.7 151.8 363.8 155.2 363.3 157 C362.8 158.8 363.4 159.8 361.2 160.5 C359 161.2 353.1 161.8 350.1 161.2 C347.1 160.6 345.2 158.5 343.1 157 C341 155.5 338.9 153.8 337.6 152.1 C336.3 150.3 334.8 147.4 335.5 146.5Z" fill="url(#pb20)"/><path d="M329.2 154.9 C330.1 155.5 332.7 158.8 334.8 160.5 C336.9 162.2 339.8 163.9 341.8 165.3 C343.8 166.7 346 167.9 346.6 168.8 C347.2 169.7 346.5 170.9 345.2 170.9 C343.9 170.9 341.1 170.2 339 168.8 C336.9 167.4 334.3 164.6 332.7 162.6 C331.1 160.6 329.8 158.3 329.2 157 C328.6 155.7 328.3 154.3 329.2 154.9Z" fill="url(#pb20)"/><path d="M179.9 178.3 C179.6 177.1 181.2 175.2 182.3 173.6 C183.4 172 185.1 170.2 186.2 168.8 C187.2 167.4 187.5 165.4 188.6 164.9 C189.7 164.4 191.6 164.4 192.5 165.7 C193.4 167 194.2 170.8 194.1 172.8 C194 174.8 192.8 176.1 191.7 177.5 C190.6 178.9 189.1 180.9 187.8 181.4 C186.5 181.9 185.2 181.1 183.9 180.6 C182.6 180.1 180.2 179.5 179.9 178.3Z" fill="url(#pb55)"/><path d="M163.3 129.5 C163.7 129 165.8 129.1 166.5 129.8 C167.2 130.6 167.2 132.8 167.5 134 C167.8 135.2 168.2 137 168 137.3 C167.8 137.6 166.9 136.7 166.2 136 C165.5 135.3 164.5 134.1 164 133 C163.5 131.9 162.9 130 163.3 129.5Z" fill="url(#pb55)"/><g clip-path="url(#c_S)"><path d="M130 0 L300 0 L300 80 L275 80 L262 40 L240 20 L210 12 L180 16 L150 32 L135 50 L128 50Z" fill="#e0e0e0"/><path d="M130 0 L300 0 L300 80 L275 80 L262 40 L240 20 L210 12 L180 16 L150 32 L135 50 L128 50Z" fill="url(#pb35)"/></g><g clip-path="url(#c_S)"><path d="M180 112 L300 112 L300 160 L180 160Z" fill="#e0e0e0"/><path d="M180 112 L300 112 L300 160 L180 160Z" fill="url(#pb35)"/></g><g clip-path="url(#c_S)"><path d="M150 40 L175 30 L200 28 L222 36 L232 60 L232 84 L212 84 L220 60 L205 41 L180 44 L150 52Z" fill="#e0e0e0"/><path d="M150 40 L175 30 L200 28 L222 36 L232 60 L232 84 L212 84 L220 60 L205 41 L180 44 L150 52Z" fill="url(#pb75)"/></g><g clip-path="url(#c_S)"><path d="M195 84 L285 84 L285 112 L195 112Z" fill="#3a6ea9"/><path d="M195 84 L285 84 L285 112 L195 112Z" fill="url(#pholes)"/></g><g clip-path="url(#c_S)"><path d="M50 0 L118 0 L118 45 L98 60 L96 90 L98 130 L50 130Z" fill="#e0e0e0"/><path d="M50 0 L118 0 L118 45 L98 60 L96 90 L98 130 L50 130Z" fill="url(#pb75)"/></g><g clip-path="url(#c_R_MAIN)"><path d="M228 236 L300 230 L330 240 L330 320 L200 320 L200 282 L215 262Z" fill="#e0e0e0"/><path d="M228 236 L300 230 L330 240 L330 320 L200 320 L200 282 L215 262Z" fill="url(#pb35)"/></g><g clip-path="url(#c_R_MAIN)"><path d="M250 160 L330 160 L330 215 L260 225 L235 205Z" fill="#e0e0e0"/><path d="M250 160 L330 160 L330 215 L260 225 L235 205Z" fill="url(#pb75)"/></g><g clip-path="url(#c_Y_RING)"><path d="M55 187 L65 186 L72 190 L70 200 L64 210 L58 220 L50 227 L42 231 L34 229 L31 222 L34 212 L42 202 L48 194Z" fill="#e0e0e0"/><path d="M55 187 L65 186 L72 190 L70 200 L64 210 L58 220 L50 227 L42 231 L34 229 L31 222 L34 212 L42 202 L48 194Z" fill="url(#pb20)"/></g><path d="M244 232 C244.3 230.2 247 227.4 250 226 C253 224.6 257.3 224.7 262 223.5 C266.7 222.3 273.3 220.3 278 219 C282.7 217.7 286.7 215.3 290 215.5 C293.3 215.7 296.3 217.4 298 220 C299.7 222.6 301.2 228.1 300 231 C298.8 233.9 295.2 236.2 291 237.5 C286.8 238.8 280.2 238.7 275 239 C269.8 239.3 264.5 239.8 260 239.5 C255.5 239.2 250.7 238.2 248 237 C245.3 235.8 243.7 233.8 244 232Z" fill="#eeeeee"/><path d="M244 232 C244.3 230.2 247 227.4 250 226 C253 224.6 257.3 224.7 262 223.5 C266.7 222.3 273.3 220.3 278 219 C282.7 217.7 286.7 215.3 290 215.5 C293.3 215.7 296.3 217.4 298 220 C299.7 222.6 301.2 228.1 300 231 C298.8 233.9 295.2 236.2 291 237.5 C286.8 238.8 280.2 238.7 275 239 C269.8 239.3 264.5 239.8 260 239.5 C255.5 239.2 250.7 238.2 248 237 C245.3 235.8 243.7 233.8 244 232Z" fill="url(#pb20)"/><ellipse cx="186.6" cy="198.8" rx="4" ry="2.5" transform="rotate(-35 186.6 198.8)" fill="#3a6ea9"/><circle cx="197.3" cy="193.2" r="1.8" fill="#3a6ea9"/><path d="M312.5 102 C313.8 103.3 317.4 107.7 320 110 C322.6 112.3 325.6 114 328 116 C330.4 118 332.5 120 334.5 122 C336.5 124 337.6 126.2 340 128 C342.4 129.8 347.2 132.2 348.7 133" fill="none" stroke="#3a6ea9" stroke-opacity="0.8" stroke-width="7.5" stroke-linecap="round"/><path d="M318.8 151.4 C320 150.7 323.1 148.6 326 147 C328.9 145.4 334.5 142.6 336.2 141.7" fill="none" stroke="#3a6ea9" stroke-opacity="0.8" stroke-width="3.6" stroke-linecap="round"/><path d="M373.8 152.8 C375.2 153.9 378.9 157.3 382 159.5 C385.1 161.7 390.8 164.9 392.6 166" fill="none" stroke="#3a6ea9" stroke-opacity="0.8" stroke-width="4.2" stroke-linecap="round"/><path d="M382.1 161.9 C381.5 163 379.6 166.4 378.5 168.5 C377.4 170.6 375.8 173.4 375.2 174.4" fill="none" stroke="#3a6ea9" stroke-opacity="0.8" stroke-width="3.8" stroke-linecap="round"/><path d="M366.8 168.1 C367.7 168.3 370.5 169.2 372 169.5 C373.5 169.8 375.3 169.9 376 170" fill="none" stroke="#3a6ea9" stroke-opacity="0.8" stroke-width="2.6" stroke-linecap="round"/><path d="M96.8 289.5 C98 288 101.6 282.9 104 280.5 C106.4 278.1 108.8 276.5 111 275 C113.2 273.5 116.3 272 117.4 271.4" fill="none" stroke="#3a6ea9" stroke-opacity="0.8" stroke-width="3.6" stroke-linecap="round"/>
<path d="M41.6 357.6 L41.6 320.3 A37.3 37.3 0 0 1 78.7 353.5 Z" fill="#a1c0dc"/><path d="M41.6 357.6 L78.7 353.5 A37.3 37.3 0 1 1 41.6 320.3 Z" fill="#dfdfdf"/>
<rect x="0" y="0" width="400" height="399" fill="none" stroke="#000" stroke-width="1.3"/>
</g>
<text x="1.5" y="584" font-size="31" font-weight="bold" stroke="#000" stroke-width="0.6">e</text>
<rect x="88.6" y="577.6" width="160.8" height="46" rx="7" fill="#f0f0f0" stroke="#333" stroke-width="1.3"/>
<text x="168.5" y="610" text-anchor="middle">Clone size</text>
<line x1="108.9" x2="241.4" y1="681.4" y2="681.4" stroke="#ebebeb" stroke-width="1.2"/>
<line x1="108.9" x2="241.4" y1="726.2" y2="726.2" stroke="#ebebeb" stroke-width="1.2"/>
<line x1="108.9" x2="241.4" y1="771" y2="771" stroke="#ebebeb" stroke-width="1.2"/>
<line x1="108.9" x2="241.4" y1="815.8" y2="815.8" stroke="#ebebeb" stroke-width="1.2"/>
<line x1="108.9" x2="241.4" y1="860.6" y2="860.6" stroke="#ebebeb" stroke-width="1.2"/>
<line x1="108.9" x2="241.4" y1="905.4" y2="905.4" stroke="#ebebeb" stroke-width="1.2"/>
<line x1="117.2" x2="250.1" y1="950.3" y2="950.3" stroke="#ebebeb" stroke-width="1.2"/>
<text x="56" y="690.5">10<tspan dy="-13.5" font-size="18.5">3</tspan></text>
<text x="56" y="780.1">10<tspan dy="-13.5" font-size="18.5">2</tspan></text>
<text x="56" y="869.2">10<tspan dy="-13.5" font-size="18.5">1</tspan></text>
<text x="56" y="958.9">10<tspan dy="-13.5" font-size="18.5">0</tspan></text>
<text x="35" y="818.6" text-anchor="middle" transform="rotate(-90 35 818.6)"># cells per clone</text>
<line x1="129.3" x2="129.3" y1="856" y2="896.3" stroke="#333" stroke-width="1.3"/>
<line x1="174.6" x2="174.6" y1="856" y2="896.3" stroke="#333" stroke-width="1.3"/>
<line x1="219.9" x2="219.9" y1="741" y2="923.4" stroke="#555" stroke-width="1.3"/>
<rect x="113.1" y="896.3" width="32.7" height="27.1" fill="#4682b4" stroke="#333" stroke-width="1.3"/>
<line x1="113.1" x2="145.8" y1="907.4" y2="907.4" stroke="#333" stroke-width="1.3"/>
<rect x="158.3" y="896.3" width="32.5" height="27.1" fill="#e5e5e5" stroke="#333" stroke-width="1.3"/>
<line x1="158.3" x2="190.8" y1="907.4" y2="907.4" stroke="#333" stroke-width="1.3"/>
<rect x="204.2" y="831.2" width="32" height="76.2" fill="#fdd700" stroke="#333" stroke-width="1.3"/>
<line x1="204.2" x2="236.2" y1="880.3" y2="880.3" stroke="#333" stroke-width="1.3"/>
<g fill="#000"><circle cx="129.3" cy="856" r="3.2"/><circle cx="129.3" cy="853.5" r="3.2"/><circle cx="129.3" cy="851" r="3.2"/><circle cx="129.3" cy="848.5" r="3.2"/><circle cx="129.3" cy="846" r="3.2"/><circle cx="129.3" cy="843.5" r="3.2"/><circle cx="129.3" cy="841" r="3.2"/><circle cx="129.3" cy="838.5" r="3.2"/><circle cx="129.3" cy="836" r="3.2"/><circle cx="129.3" cy="833.5" r="3.2"/><circle cx="129.3" cy="831" r="3.2"/><circle cx="129.3" cy="828.5" r="3.2"/><circle cx="129.3" cy="826" r="3.2"/><circle cx="129.3" cy="823.5" r="3.2"/><circle cx="129.3" cy="821" r="3.2"/><circle cx="129.3" cy="818.5" r="3.2"/><circle cx="129.3" cy="816" r="3.2"/><circle cx="129.3" cy="813.5" r="3.2"/><circle cx="129.3" cy="811" r="3.2"/><circle cx="129.3" cy="808.5" r="3.2"/><circle cx="129.3" cy="806" r="3.2"/><circle cx="129.3" cy="802" r="3.2"/><circle cx="129.3" cy="798" r="3.2"/><circle cx="129.3" cy="794.5" r="3.2"/><circle cx="129.3" cy="787" r="3.2"/><circle cx="129.3" cy="783" r="3.2"/><circle cx="129.3" cy="779.5" r="3.2"/><circle cx="129.3" cy="776" r="3.2"/><circle cx="129.3" cy="764.8" r="3.2"/><circle cx="129.3" cy="756.4" r="3.2"/><circle cx="129.3" cy="753" r="3.2"/><circle cx="129.3" cy="741.8" r="3.2"/><circle cx="129.3" cy="706.2" r="3.2"/><circle cx="174.6" cy="856" r="3.2"/><circle cx="174.6" cy="853.5" r="3.2"/><circle cx="174.6" cy="851" r="3.2"/><circle cx="174.6" cy="848.5" r="3.2"/><circle cx="174.6" cy="846" r="3.2"/><circle cx="174.6" cy="843.5" r="3.2"/><circle cx="174.6" cy="841" r="3.2"/><circle cx="174.6" cy="838.5" r="3.2"/><circle cx="174.6" cy="836" r="3.2"/><circle cx="174.6" cy="833.5" r="3.2"/><circle cx="174.6" cy="831" r="3.2"/><circle cx="174.6" cy="828.5" r="3.2"/><circle cx="174.6" cy="826" r="3.2"/><circle cx="174.6" cy="823.5" r="3.2"/><circle cx="174.6" cy="821" r="3.2"/><circle cx="174.6" cy="818.5" r="3.2"/><circle cx="174.6" cy="816" r="3.2"/><circle cx="174.6" cy="813.5" r="3.2"/><circle cx="174.6" cy="811" r="3.2"/><circle cx="174.6" cy="805.5" r="3.2"/><circle cx="174.6" cy="802.4" r="3.2"/><circle cx="174.6" cy="765.5" r="3.2"/><circle cx="219.9" cy="706.2" r="3.2"/></g>
<g fill="#f00"><circle cx="129.3" cy="888.4" r="4.2"/><circle cx="174.7" cy="896.3" r="4.2"/><circle cx="219.9" cy="818.8" r="4.2"/></g>
<text x="138.8" y="962" text-anchor="end" transform="rotate(-90 138.8 962)">All cell types</text>
<text x="184.1" y="962" text-anchor="end" transform="rotate(-90 184.1 962)">w/o immune</text>
<text x="229.4" y="962" text-anchor="end" transform="rotate(-90 229.4 962)">Immune only</text>
<text x="273" y="584" font-size="31" font-weight="bold" stroke="#000" stroke-width="0.6">f</text>
<line x1="367.2" x2="876" y1="600.8" y2="600.8" stroke="#333" stroke-width="1.3"/>
<line x1="1292.3" x2="1774" y1="600.8" y2="600.8" stroke="#333" stroke-width="1.3"/>
<rect x="876" y="578" width="416.3" height="45.2" rx="7" fill="#f0f0f0" stroke="#333" stroke-width="1.3"/>
<text x="1084" y="610" text-anchor="middle">Clonal composition</text>
<text x="457.2" y="664.3" text-anchor="middle">Astroep.</text>
<text x="457.2" y="696.7" text-anchor="middle">(21.1%)</text>
<text x="609.6" y="664.3" text-anchor="middle">Immune</text>
<text x="609.6" y="696.7" text-anchor="middle">(21.4%)</text>
<text x="1372.5" y="670.6" text-anchor="middle">Interneurons</text>
<text x="1372.5" y="701.7" text-anchor="middle">(0.3%)</text>
<text x="1526.3" y="670.6" text-anchor="middle">Im. neu.</text>
<text x="1526.3" y="701.7" text-anchor="middle">(19.1%)</text>
<text x="1677.8" y="670.6" text-anchor="middle">Oligodendro.</text>
<text x="1677.8" y="701.7" text-anchor="middle">(32%)</text>
<text x="942.6" y="702" text-anchor="middle">Projection neurons (6.1%)</text>
<line x1="369" x2="1768.8" y1="910.52" y2="910.52" stroke="#ebebeb" stroke-width="1.2"/>
<line x1="369" x2="1768.8" y1="877.69" y2="877.69" stroke="#ebebeb" stroke-width="1.2"/>
<line x1="369" x2="1768.8" y1="844.86" y2="844.86" stroke="#ebebeb" stroke-width="1.2"/>
<line x1="369" x2="1768.8" y1="812.03" y2="812.03" stroke="#ebebeb" stroke-width="1.2"/>
<line x1="369" x2="1768.8" y1="779.2" y2="779.2" stroke="#ebebeb" stroke-width="1.2"/>
<line x1="369" x2="1768.8" y1="746.37" y2="746.37" stroke="#ebebeb" stroke-width="1.2"/>
<text x="356" y="756.4" text-anchor="end">1.5</text>
<text x="356" y="822.05" text-anchor="end">1</text>
<text x="356" y="887.7" text-anchor="end">0.5</text>
<text x="298.5" y="829.6" text-anchor="middle" transform="rotate(-90 298.5 829.6)"># cells (×10<tspan dy="-11" font-size="18.5">3</tspan><tspan dy="11">)</tspan></text>
<rect x="372.9" y="888.07" width="33" height="55.28" fill="#fcb499"/>
<rect x="409.6" y="722.9" width="33" height="220.45" fill="#ef9280"/>
<rect x="446.3" y="941.25" width="33" height="2.1" fill="#e2675d"/>
<rect x="483" y="913.41" width="33" height="29.94" fill="#d93d3e"/>
<rect x="519.7" y="930.35" width="33" height="13" fill="#c8171e"/>
<rect x="556.4" y="793.41" width="33" height="149.94" fill="#fcd700"/>
<rect x="593.1" y="772.92" width="33" height="170.43" fill="#ebb324"/>
<rect x="629.8" y="938.62" width="33" height="4.73" fill="#c9971f"/>
<rect x="666.5" y="942.43" width="33" height="0.92" fill="#e3f3dd"/>
<rect x="703.2" y="937.31" width="33" height="6.04" fill="#cfe5ca"/>
<rect x="739.9" y="934.82" width="33" height="8.53" fill="#c2dcbe"/>
<rect x="776.6" y="942.56" width="33" height="0.79" fill="#b4d3b1"/>
<rect x="813.3" y="928.64" width="33" height="14.71" fill="#a7c8a6"/>
<rect x="850" y="939.8" width="33" height="3.55" fill="#9ac09b"/>
<rect x="886.7" y="938.1" width="33" height="5.25" fill="#8db590"/>
<rect x="923.4" y="938.36" width="33" height="4.99" fill="#80ab85"/>
<rect x="960.1" y="942.56" width="33" height="0.79" fill="#72a07a"/>
<rect x="996.8" y="943.09" width="33" height="0.26" fill="#65966f"/>
<rect x="1033.5" y="938.75" width="33" height="4.6" fill="#588b64"/>
<rect x="1070.2" y="941.51" width="33" height="1.84" fill="#4b8058"/>
<rect x="1106.9" y="933.24" width="33" height="10.11" fill="#3d744d"/>
<rect x="1143.6" y="923.79" width="33" height="19.56" fill="#336b44"/>
<rect x="1180.3" y="939.02" width="33" height="4.33" fill="#225a34"/>
<rect x="1217" y="942.43" width="33" height="0.92" fill="#14492a"/>
<rect x="1253.7" y="937.57" width="33" height="5.78" fill="#063d1d"/>
<rect x="1290.4" y="942.3" width="33" height="1.05" fill="#fdad6b"/>
<rect x="1327.1" y="942.56" width="33" height="0.79" fill="#d9834e"/>
<rect x="1363.8" y="942.17" width="33" height="1.18" fill="#bb6433"/>
<rect x="1400.5" y="942.96" width="33" height="0.39" fill="#a34f25"/>
<rect x="1437.2" y="942.56" width="33" height="0.79" fill="#7f2704"/>
<rect x="1473.9" y="841.2" width="33" height="102.15" fill="#c6dbef"/>
<rect x="1510.6" y="877.96" width="33" height="65.39" fill="#74a6d3"/>
<rect x="1547.3" y="821.11" width="33" height="122.24" fill="#2271b4"/>
<rect x="1584" y="775.15" width="33" height="168.2" fill="#dadaeb"/>
<rect x="1620.7" y="799.18" width="33" height="144.17" fill="#b2a2cf"/>
<rect x="1657.4" y="878.36" width="33" height="64.99" fill="#8c6bb1"/>
<rect x="1694.1" y="892.8" width="33" height="50.55" fill="#6a3d9a"/>
<rect x="1730.8" y="885.05" width="33" height="58.3" fill="#3f007d"/>
<line x1="554.55" x2="554.55" y1="714.2" y2="943" stroke="#000" stroke-width="1.3" stroke-dasharray="3,2"/>
<line x1="664.65" x2="664.65" y1="714.2" y2="943" stroke="#000" stroke-width="1.3" stroke-dasharray="3,2"/>
<line x1="1288.55" x2="1288.55" y1="714.2" y2="943" stroke="#000" stroke-width="1.3" stroke-dasharray="3,2"/>
<line x1="1472.05" x2="1472.05" y1="714.2" y2="943" stroke="#000" stroke-width="1.3" stroke-dasharray="3,2"/>
<line x1="1582.15" x2="1582.15" y1="714.2" y2="943" stroke="#000" stroke-width="1.3" stroke-dasharray="3,2"/>
<rect x="367.2" y="714.2" width="1406.6" height="228.8" fill="none" stroke="#222" stroke-width="1.4"/>
<text x="399.7" y="892" text-anchor="end" transform="rotate(-90 399.7 892)">421</text>
<text x="436.4" y="735.2" text-anchor="end" transform="rotate(-90 436.4 735.2)">1,679</text>
<text x="473.1" y="937.45" transform="rotate(-90 473.1 937.45)">16</text>
<text x="509.8" y="909.61" transform="rotate(-90 509.8 909.61)">228</text>
<text x="546.5" y="926.55" transform="rotate(-90 546.5 926.55)">99</text>
<text x="583.2" y="800.6" text-anchor="end" transform="rotate(-90 583.2 800.6)">1,142</text>
<text x="619.9" y="778" text-anchor="end" transform="rotate(-90 619.9 778)">1,298</text>
<text x="656.6" y="934.82" transform="rotate(-90 656.6 934.82)">36</text>
<text x="693.3" y="938.63" transform="rotate(-90 693.3 938.63)">7</text>
<text x="730" y="933.51" transform="rotate(-90 730 933.51)">46</text>
<text x="766.7" y="931.02" transform="rotate(-90 766.7 931.02)">65</text>
<text x="803.4" y="938.76" transform="rotate(-90 803.4 938.76)">6</text>
<text x="840.1" y="924.84" transform="rotate(-90 840.1 924.84)">112</text>
<text x="876.8" y="936" transform="rotate(-90 876.8 936)">27</text>
<text x="913.5" y="934.3" transform="rotate(-90 913.5 934.3)">40</text>
<text x="950.2" y="934.56" transform="rotate(-90 950.2 934.56)">38</text>
<text x="986.9" y="938.76" transform="rotate(-90 986.9 938.76)">6</text>
<text x="1023.6" y="939.29" transform="rotate(-90 1023.6 939.29)">2</text>
<text x="1060.3" y="934.95" transform="rotate(-90 1060.3 934.95)">35</text>
<text x="1097" y="937.71" transform="rotate(-90 1097 937.71)">14</text>
<text x="1133.7" y="929.44" transform="rotate(-90 1133.7 929.44)">77</text>
<text x="1170.4" y="919.99" transform="rotate(-90 1170.4 919.99)">149</text>
<text x="1207.1" y="935.22" transform="rotate(-90 1207.1 935.22)">33</text>
<text x="1243.8" y="938.63" transform="rotate(-90 1243.8 938.63)">7</text>
<text x="1280.5" y="933.77" transform="rotate(-90 1280.5 933.77)">44</text>
<text x="1317.2" y="938.5" transform="rotate(-90 1317.2 938.5)">8</text>
<text x="1353.9" y="938.76" transform="rotate(-90 1353.9 938.76)">6</text>
<text x="1390.6" y="938.37" transform="rotate(-90 1390.6 938.37)">9</text>
<text x="1427.3" y="939.16" transform="rotate(-90 1427.3 939.16)">3</text>
<text x="1464" y="938.76" transform="rotate(-90 1464 938.76)">6</text>
<text x="1500.7" y="837.4" transform="rotate(-90 1500.7 837.4)">778</text>
<text x="1537.4" y="874.16" transform="rotate(-90 1537.4 874.16)">498</text>
<text x="1574.1" y="817.31" transform="rotate(-90 1574.1 817.31)">931</text>
<text x="1608.8" y="785.5" text-anchor="end" transform="rotate(-90 1608.8 785.5)">1,281</text>
<text x="1647.5" y="795.38" transform="rotate(-90 1647.5 795.38)">1,098</text>
<text x="1684.2" y="874.56" transform="rotate(-90 1684.2 874.56)">495</text>
<text x="1720.9" y="889" transform="rotate(-90 1720.9 889)">385</text>
<text x="1757.6" y="881.25" transform="rotate(-90 1757.6 881.25)">444</text>
<text x="400.4" y="953.5" text-anchor="end" transform="rotate(-90 400.4 953.5)">ACTE1</text>
<text x="437.1" y="953.5" text-anchor="end" transform="rotate(-90 437.1 953.5)">ACTE2</text>
<text x="473.8" y="953.5" text-anchor="end" transform="rotate(-90 473.8 953.5)">EPEN</text>
<text x="510.5" y="953.5" text-anchor="end" transform="rotate(-90 510.5 953.5)">RGDG</text>
<text x="547.2" y="953.5" text-anchor="end" transform="rotate(-90 547.2 953.5)">RGSZ</text>
<text x="583.9" y="953.5" text-anchor="end" transform="rotate(-90 583.9 953.5)">MGL1</text>
<text x="620.6" y="953.5" text-anchor="end" transform="rotate(-90 620.6 953.5)">MGL3</text>
<text x="657.3" y="953.5" text-anchor="end" transform="rotate(-90 657.3 953.5)">PVM1</text>
<text x="694" y="953.5" text-anchor="end" transform="rotate(-90 694 953.5)">TEGLU1</text>
<text x="730.7" y="953.5" text-anchor="end" transform="rotate(-90 730.7 953.5)">TEGLU2</text>
<text x="767.4" y="953.5" text-anchor="end" transform="rotate(-90 767.4 953.5)">TEGLU3</text>
<text x="804.1" y="953.5" text-anchor="end" transform="rotate(-90 804.1 953.5)">TEGLU4</text>
<text x="840.8" y="953.5" text-anchor="end" transform="rotate(-90 840.8 953.5)">TEGLU7</text>
<text x="877.5" y="953.5" text-anchor="end" transform="rotate(-90 877.5 953.5)">TEGLU8</text>
<text x="914.2" y="953.5" text-anchor="end" transform="rotate(-90 914.2 953.5)">TEGLU10</text>
<text x="950.9" y="953.5" text-anchor="end" transform="rotate(-90 950.9 953.5)">TEGLU11</text>
<text x="987.6" y="953.5" text-anchor="end" transform="rotate(-90 987.6 953.5)">TEGLU12</text>
<text x="1024.3" y="953.5" text-anchor="end" transform="rotate(-90 1024.3 953.5)">TEGLU16</text>
<text x="1061" y="953.5" text-anchor="end" transform="rotate(-90 1061 953.5)">TEGLU18</text>
<text x="1097.7" y="953.5" text-anchor="end" transform="rotate(-90 1097.7 953.5)">TEGLU23</text>
<text x="1134.4" y="953.5" text-anchor="end" transform="rotate(-90 1134.4 953.5)">TEGLU24</text>
<text x="1171.1" y="953.5" text-anchor="end" transform="rotate(-90 1171.1 953.5)">CR</text>
<text x="1207.8" y="953.5" text-anchor="end" transform="rotate(-90 1207.8 953.5)">DGGRC1</text>
<text x="1244.5" y="953.5" text-anchor="end" transform="rotate(-90 1244.5 953.5)">DGGRC2</text>
<text x="1281.2" y="953.5" text-anchor="end" transform="rotate(-90 1281.2 953.5)">MSN1</text>
<text x="1317.9" y="953.5" text-anchor="end" transform="rotate(-90 1317.9 953.5)">TEINH4</text>
<text x="1354.6" y="953.5" text-anchor="end" transform="rotate(-90 1354.6 953.5)">TEINH21</text>
<text x="1391.3" y="953.5" text-anchor="end" transform="rotate(-90 1391.3 953.5)">TEINH16</text>
<text x="1428" y="953.5" text-anchor="end" transform="rotate(-90 1428 953.5)">OBDOP</text>
<text x="1464.7" y="953.5" text-anchor="end" transform="rotate(-90 1464.7 953.5)">OBNBL5</text>
<text x="1501.4" y="953.5" text-anchor="end" transform="rotate(-90 1501.4 953.5)">SZNBL</text>
<text x="1538.1" y="953.5" text-anchor="end" transform="rotate(-90 1538.1 953.5)">OBNBL3</text>
<text x="1574.8" y="953.5" text-anchor="end" transform="rotate(-90 1574.8 953.5)">DGNBL1</text>
<text x="1611.5" y="953.5" text-anchor="end" transform="rotate(-90 1611.5 953.5)">OPC</text>
<text x="1648.2" y="953.5" text-anchor="end" transform="rotate(-90 1648.2 953.5)">COP1</text>
<text x="1684.9" y="953.5" text-anchor="end" transform="rotate(-90 1684.9 953.5)">NFOL1</text>
<text x="1721.6" y="953.5" text-anchor="end" transform="rotate(-90 1721.6 953.5)">MFOL2</text>
<text x="1758.3" y="953.5" text-anchor="end" transform="rotate(-90 1758.3 953.5)">MOL1</text>
<text x="1.5" y="1168" font-size="31" font-weight="bold" stroke="#000" stroke-width="0.6">g</text>
<line x1="110.6" x2="690.3" y1="1186.3" y2="1186.3" stroke="#222" stroke-width="1.3"/>
<line x1="1106.1" x2="1630.5" y1="1186.3" y2="1186.3" stroke="#222" stroke-width="1.3"/>
<rect x="690.3" y="1163.6" width="415.8" height="44.9" rx="7" fill="#f0f0f0" stroke="#222" stroke-width="1.3"/>
<text x="898.2" y="1194.5" text-anchor="middle">Proportion of cells in clones</text>
<rect x="110.7" y="1320.51" width="36.4" height="14.69" fill="#fcb499"/>
<text x="138.6" y="1315.01" transform="rotate(-90 138.6 1315.01)">12.1</text>
<rect x="150.47" y="1320.26" width="36.4" height="14.94" fill="#ef9280"/>
<text x="178.37" y="1314.76" transform="rotate(-90 178.37 1314.76)">12.3</text>
<rect x="190.24" y="1331.19" width="36.4" height="4.01" fill="#e2675d"/>
<text x="218.14" y="1325.69" transform="rotate(-90 218.14 1325.69)">3.3</text>
<rect x="230.01" y="1307.27" width="36.4" height="27.93" fill="#d93d3e"/>
<text x="257.91" y="1301.77" transform="rotate(-90 257.91 1301.77)">23</text>
<rect x="269.78" y="1313.22" width="36.4" height="21.98" fill="#c8171e"/>
<text x="297.68" y="1307.72" transform="rotate(-90 297.68 1307.72)">18.1</text>
<rect x="309.55" y="1291.24" width="36.4" height="43.96" fill="#fcd700"/>
<text x="337.45" y="1285.74" transform="rotate(-90 337.45 1285.74)">36.2</text>
<rect x="349.32" y="1257.6" width="36.4" height="77.6" fill="#ebb324"/>
<text x="377.22" y="1252.1" transform="rotate(-90 377.22 1252.1)">63.9</text>
<rect x="389.09" y="1288.2" width="36.4" height="47" fill="#c9971f"/>
<text x="416.99" y="1282.7" transform="rotate(-90 416.99 1282.7)">38.7</text>
<rect x="428.86" y="1269.74" width="36.4" height="65.46" fill="#e3f3dd"/>
<text x="456.76" y="1264.24" transform="rotate(-90 456.76 1264.24)">53.9</text>
<rect x="468.63" y="1321.23" width="36.4" height="13.97" fill="#cfe5ca"/>
<text x="496.53" y="1315.73" transform="rotate(-90 496.53 1315.73)">11.5</text>
<rect x="508.4" y="1310.3" width="36.4" height="24.9" fill="#c2dcbe"/>
<text x="536.3" y="1304.8" transform="rotate(-90 536.3 1304.8)">20.5</text>
<rect x="548.17" y="1327.79" width="36.4" height="7.41" fill="#b4d3b1"/>
<text x="576.07" y="1322.29" transform="rotate(-90 576.07 1322.29)">6.1</text>
<rect x="587.94" y="1307.03" width="36.4" height="28.17" fill="#a7c8a6"/>
<text x="615.84" y="1301.53" transform="rotate(-90 615.84 1301.53)">23.2</text>
<rect x="627.71" y="1317.23" width="36.4" height="17.97" fill="#9ac09b"/>
<text x="655.61" y="1311.73" transform="rotate(-90 655.61 1311.73)">14.8</text>
<rect x="667.48" y="1305.81" width="36.4" height="29.39" fill="#8db590"/>
<text x="695.38" y="1300.31" transform="rotate(-90 695.38 1300.31)">24.2</text>
<rect x="707.25" y="1311.03" width="36.4" height="24.17" fill="#80ab85"/>
<text x="735.15" y="1305.53" transform="rotate(-90 735.15 1305.53)">19.9</text>
<rect x="747.02" y="1320.63" width="36.4" height="14.57" fill="#72a07a"/>
<text x="774.92" y="1315.13" transform="rotate(-90 774.92 1315.13)">12</text>
<rect x="786.79" y="1332.16" width="36.4" height="3.04" fill="#65966f"/>
<text x="814.69" y="1326.66" transform="rotate(-90 814.69 1326.66)">2.5</text>
<rect x="826.56" y="1322.81" width="36.4" height="12.39" fill="#588b64"/>
<text x="854.46" y="1317.31" transform="rotate(-90 854.46 1317.31)">10.2</text>
<rect x="866.33" y="1304.84" width="36.4" height="30.36" fill="#4b8058"/>
<text x="894.23" y="1299.34" transform="rotate(-90 894.23 1299.34)">25</text>
<rect x="906.1" y="1279.58" width="36.4" height="55.62" fill="#3d744d"/>
<text x="934" y="1274.08" transform="rotate(-90 934 1274.08)">45.8</text>
<rect x="945.87" y="1327.79" width="36.4" height="7.41" fill="#336b44"/>
<text x="973.77" y="1322.29" transform="rotate(-90 973.77 1322.29)">6.1</text>
<rect x="985.64" y="1277.15" width="36.4" height="58.05" fill="#225a34"/>
<text x="1013.54" y="1271.65" transform="rotate(-90 1013.54 1271.65)">47.8</text>
<rect x="1025.41" y="1318.56" width="36.4" height="16.64" fill="#14492a"/>
<text x="1053.31" y="1313.06" transform="rotate(-90 1053.31 1313.06)">13.7</text>
<rect x="1065.18" y="1316.98" width="36.4" height="18.22" fill="#063d1d"/>
<text x="1093.08" y="1311.48" transform="rotate(-90 1093.08 1311.48)">15</text>
<rect x="1104.95" y="1322.93" width="36.4" height="12.27" fill="#fdad6b"/>
<text x="1132.85" y="1317.43" transform="rotate(-90 1132.85 1317.43)">10.1</text>
<rect x="1144.72" y="1325.73" width="36.4" height="9.47" fill="#d9834e"/>
<text x="1172.62" y="1320.23" transform="rotate(-90 1172.62 1320.23)">7.8</text>
<rect x="1184.49" y="1320.38" width="36.4" height="14.82" fill="#bb6433"/>
<text x="1212.39" y="1314.88" transform="rotate(-90 1212.39 1314.88)">12.2</text>
<rect x="1224.26" y="1324.15" width="36.4" height="11.05" fill="#a34f25"/>
<text x="1252.16" y="1318.65" transform="rotate(-90 1252.16 1318.65)">9.1</text>
<rect x="1264.03" y="1321.72" width="36.4" height="13.48" fill="#7f2704"/>
<text x="1291.93" y="1316.22" transform="rotate(-90 1291.93 1316.22)">11.1</text>
<rect x="1303.8" y="1294.64" width="36.4" height="40.56" fill="#c6dbef"/>
<text x="1331.7" y="1289.14" transform="rotate(-90 1331.7 1289.14)">33.4</text>
<rect x="1343.57" y="1284.44" width="36.4" height="50.76" fill="#74a6d3"/>
<text x="1371.47" y="1278.94" transform="rotate(-90 1371.47 1278.94)">41.8</text>
<rect x="1383.34" y="1278.97" width="36.4" height="56.23" fill="#2271b4"/>
<text x="1411.24" y="1273.47" transform="rotate(-90 1411.24 1273.47)">46.3</text>
<rect x="1423.11" y="1310.3" width="36.4" height="24.9" fill="#dadaeb"/>
<text x="1451.01" y="1304.8" transform="rotate(-90 1451.01 1304.8)">20.5</text>
<rect x="1462.88" y="1303.14" width="36.4" height="32.06" fill="#b2a2cf"/>
<text x="1490.78" y="1297.64" transform="rotate(-90 1490.78 1297.64)">26.4</text>
<rect x="1502.65" y="1299.01" width="36.4" height="36.19" fill="#8c6bb1"/>
<text x="1530.55" y="1293.51" transform="rotate(-90 1530.55 1293.51)">29.8</text>
<rect x="1542.42" y="1295.61" width="36.4" height="39.59" fill="#6a3d9a"/>
<text x="1570.32" y="1290.11" transform="rotate(-90 1570.32 1290.11)">32.6</text>
<rect x="1582.19" y="1269.38" width="36.4" height="65.82" fill="#3f007d"/>
<text x="1610.09" y="1263.88" transform="rotate(-90 1610.09 1263.88)">54.2</text>
<text x="80.5" y="1279.2" text-anchor="middle" transform="rotate(-90 80.5 1279.2)">Total (%)</text>
<line x1="112" x2="1629" y1="1369.5" y2="1369.5" stroke="#ebebeb" stroke-width="1.2"/>
<line x1="112" x2="1629" y1="1432.7" y2="1432.7" stroke="#ebebeb" stroke-width="1.2"/>
<line x1="112" x2="1629" y1="1491.2" y2="1491.2" stroke="#ebebeb" stroke-width="1.2"/>
<line x1="129.7" x2="129.7" y1="1340" y2="1520" stroke="#ebebeb" stroke-width="1.2"/>
<line x1="169.47" x2="169.47" y1="1340" y2="1520" stroke="#ebebeb" stroke-width="1.2"/>
<line x1="209.24" x2="209.24" y1="1340" y2="1520" stroke="#ebebeb" stroke-width="1.2"/>
<line x1="249.01" x2="249.01" y1="1340" y2="1520" stroke="#ebebeb" stroke-width="1.2"/>
<line x1="288.78" x2="288.78" y1="1340" y2="1520" stroke="#ebebeb" stroke-width="1.2"/>
<line x1="328.55" x2="328.55" y1="1340" y2="1520" stroke="#ebebeb" stroke-width="1.2"/>
<line x1="368.32" x2="368.32" y1="1340" y2="1520" stroke="#ebebeb" stroke-width="1.2"/>
<line x1="408.09" x2="408.09" y1="1340" y2="1520" stroke="#ebebeb" stroke-width="1.2"/>
<line x1="447.86" x2="447.86" y1="1340" y2="1520" stroke="#ebebeb" stroke-width="1.2"/>
<line x1="487.63" x2="487.63" y1="1340" y2="1520" stroke="#ebebeb" stroke-width="1.2"/>
<line x1="527.4" x2="527.4" y1="1340" y2="1520" stroke="#ebebeb" stroke-width="1.2"/>
<line x1="567.17" x2="567.17" y1="1340" y2="1520" stroke="#ebebeb" stroke-width="1.2"/>
<line x1="606.94" x2="606.94" y1="1340" y2="1520" stroke="#ebebeb" stroke-width="1.2"/>
<line x1="646.71" x2="646.71" y1="1340" y2="1520" stroke="#ebebeb" stroke-width="1.2"/>
<line x1="686.48" x2="686.48" y1="1340" y2="1520" stroke="#ebebeb" stroke-width="1.2"/>
<line x1="726.25" x2="726.25" y1="1340" y2="1520" stroke="#ebebeb" stroke-width="1.2"/>
<line x1="766.02" x2="766.02" y1="1340" y2="1520" stroke="#ebebeb" stroke-width="1.2"/>
<line x1="805.79" x2="805.79" y1="1340" y2="1520" stroke="#ebebeb" stroke-width="1.2"/>
<line x1="845.56" x2="845.56" y1="1340" y2="1520" stroke="#ebebeb" stroke-width="1.2"/>
<line x1="885.33" x2="885.33" y1="1340" y2="1520" stroke="#ebebeb" stroke-width="1.2"/>
<line x1="925.1" x2="925.1" y1="1340" y2="1520" stroke="#ebebeb" stroke-width="1.2"/>
<line x1="964.87" x2="964.87" y1="1340" y2="1520" stroke="#ebebeb" stroke-width="1.2"/>
<line x1="1004.64" x2="1004.64" y1="1340" y2="1520" stroke="#ebebeb" stroke-width="1.2"/>
<line x1="1044.41" x2="1044.41" y1="1340" y2="1520" stroke="#ebebeb" stroke-width="1.2"/>
<line x1="1084.18" x2="1084.18" y1="1340" y2="1520" stroke="#ebebeb" stroke-width="1.2"/>
<line x1="1123.95" x2="1123.95" y1="1340" y2="1520" stroke="#ebebeb" stroke-width="1.2"/>
<line x1="1163.72" x2="1163.72" y1="1340" y2="1520" stroke="#ebebeb" stroke-width="1.2"/>
<line x1="1203.49" x2="1203.49" y1="1340" y2="1520" stroke="#ebebeb" stroke-width="1.2"/>
<line x1="1243.26" x2="1243.26" y1="1340" y2="1520" stroke="#ebebeb" stroke-width="1.2"/>
<line x1="1283.03" x2="1283.03" y1="1340" y2="1520" stroke="#ebebeb" stroke-width="1.2"/>
<line x1="1322.8" x2="1322.8" y1="1340" y2="1520" stroke="#ebebeb" stroke-width="1.2"/>
<line x1="1362.57" x2="1362.57" y1="1340" y2="1520" stroke="#ebebeb" stroke-width="1.2"/>
<line x1="1402.34" x2="1402.34" y1="1340" y2="1520" stroke="#ebebeb" stroke-width="1.2"/>
<line x1="1442.11" x2="1442.11" y1="1340" y2="1520" stroke="#ebebeb" stroke-width="1.2"/>
<line x1="1481.88" x2="1481.88" y1="1340" y2="1520" stroke="#ebebeb" stroke-width="1.2"/>
<line x1="1521.65" x2="1521.65" y1="1340" y2="1520" stroke="#ebebeb" stroke-width="1.2"/>
<line x1="1561.42" x2="1561.42" y1="1340" y2="1520" stroke="#ebebeb" stroke-width="1.2"/>
<line x1="1601.19" x2="1601.19" y1="1340" y2="1520" stroke="#ebebeb" stroke-width="1.2"/>
<circle cx="129.7" cy="1369.5" r="11.6" fill="#fbbda6" fill-opacity="0.85"/>
<circle cx="129.7" cy="1432.7" r="12.9" fill="#fbbda6" fill-opacity="0.85"/>
<circle cx="129.7" cy="1491.2" r="13.4" fill="#fbbda6" fill-opacity="0.85"/>
<circle cx="169.47" cy="1369.5" r="11.2" fill="#ec9486" fill-opacity="0.85"/>
<circle cx="169.47" cy="1432.7" r="13.5" fill="#ec9486" fill-opacity="0.85"/>
<circle cx="169.47" cy="1491.2" r="14.2" fill="#ec9486" fill-opacity="0.85"/>
<circle cx="209.24" cy="1369.5" r="6.5" fill="#e06f6a" fill-opacity="0.85"/>
<circle cx="209.24" cy="1432.7" r="9.3" fill="#e06f6a" fill-opacity="0.85"/>
<circle cx="209.24" cy="1491.2" r="8.2" fill="#e06f6a" fill-opacity="0.85"/>
<circle cx="249.01" cy="1432.7" r="15.7" fill="#dc5256" fill-opacity="0.85"/>
<circle cx="288.78" cy="1491.2" r="14.2" fill="#cf2a33" fill-opacity="0.85"/>
<circle cx="328.55" cy="1369.5" r="19.9" fill="#fdd816" fill-opacity="0.85"/>
<circle cx="328.55" cy="1432.7" r="19" fill="#fdd816" fill-opacity="0.85"/>
<circle cx="328.55" cy="1491.2" r="15.7" fill="#fdd816" fill-opacity="0.85"/>
<circle cx="368.32" cy="1369.5" r="25.1" fill="#ebb73a" fill-opacity="0.85"/>
<circle cx="368.32" cy="1432.7" r="18" fill="#ebb73a" fill-opacity="0.85"/>
<circle cx="368.32" cy="1491.2" r="22.5" fill="#ebb73a" fill-opacity="0.85"/>
<circle cx="408.09" cy="1369.5" r="17.4" fill="#cc9d32" fill-opacity="0.85"/>
<circle cx="408.09" cy="1432.7" r="18" fill="#cc9d32" fill-opacity="0.85"/>
<circle cx="408.09" cy="1491.2" r="21.6" fill="#cc9d32" fill-opacity="0.85"/>
<circle cx="447.86" cy="1369.5" r="21.9" fill="#e5f4df" fill-opacity="0.85"/>
<circle cx="487.63" cy="1369.5" r="12" fill="#d2e6ce" fill-opacity="0.85"/>
<circle cx="527.4" cy="1369.5" r="15.1" fill="#c6ddc3" fill-opacity="0.85"/>
<circle cx="567.17" cy="1369.5" r="10" fill="#b9d3b7" fill-opacity="0.85"/>
<circle cx="606.94" cy="1369.5" r="15.6" fill="#aecbab" fill-opacity="0.85"/>
<circle cx="646.71" cy="1369.5" r="13.4" fill="#a2c2a1" fill-opacity="0.85"/>
<circle cx="686.48" cy="1369.5" r="16" fill="#97ba97" fill-opacity="0.85"/>
<circle cx="726.25" cy="1369.5" r="14.7" fill="#8cb28d" fill-opacity="0.85"/>
<circle cx="766.02" cy="1369.5" r="12.4" fill="#80a983" fill-opacity="0.85"/>
<circle cx="805.79" cy="1369.5" r="7.8" fill="#75a078" fill-opacity="0.85"/>
<circle cx="845.56" cy="1369.5" r="11.7" fill="#6a986f" fill-opacity="0.85"/>
<circle cx="885.33" cy="1432.7" r="16.1" fill="#5f8f66" fill-opacity="0.85"/>
<circle cx="925.1" cy="1432.7" r="20.5" fill="#558860" fill-opacity="0.85"/>
<circle cx="964.87" cy="1369.5" r="9.6" fill="#4a7f57" fill-opacity="0.85"/>
<circle cx="964.87" cy="1432.7" r="10.1" fill="#4a7f57" fill-opacity="0.85"/>
<circle cx="1004.64" cy="1432.7" r="20.8" fill="#3f764f" fill-opacity="0.85"/>
<circle cx="1044.41" cy="1432.7" r="12.9" fill="#356d46" fill-opacity="0.85"/>
<circle cx="1084.18" cy="1491.2" r="13.3" fill="#2a653f" fill-opacity="0.85"/>
<circle cx="1123.95" cy="1369.5" r="11.7" fill="#fdb878" fill-opacity="0.85"/>
<circle cx="1163.72" cy="1369.5" r="10.7" fill="#d98d5d" fill-opacity="0.85"/>
<circle cx="1203.49" cy="1369.5" r="12.4" fill="#c77d4f" fill-opacity="0.85"/>
<circle cx="1243.26" cy="1369.5" r="11.4" fill="#b1683f" fill-opacity="0.85"/>
<circle cx="1283.03" cy="1369.5" r="12.1" fill="#8a3c1c" fill-opacity="0.85"/>
<circle cx="1322.8" cy="1369.5" r="14" fill="#cde0f1" fill-opacity="0.85"/>
<circle cx="1322.8" cy="1432.7" r="19" fill="#cde0f1" fill-opacity="0.85"/>
<circle cx="1322.8" cy="1491.2" r="18.6" fill="#cde0f1" fill-opacity="0.85"/>
<circle cx="1362.57" cy="1369.5" r="16.3" fill="#86b2da" fill-opacity="0.85"/>
<circle cx="1362.57" cy="1491.2" r="20.7" fill="#86b2da" fill-opacity="0.85"/>
<circle cx="1402.34" cy="1432.7" r="20.5" fill="#3f87c2" fill-opacity="0.85"/>
<circle cx="1442.11" cy="1369.5" r="13.8" fill="#dedeed" fill-opacity="0.85"/>
<circle cx="1442.11" cy="1432.7" r="16.6" fill="#dedeed" fill-opacity="0.85"/>
<circle cx="1442.11" cy="1491.2" r="16.1" fill="#dedeed" fill-opacity="0.85"/>
<circle cx="1481.88" cy="1369.5" r="14.9" fill="#bcaed6" fill-opacity="0.85"/>
<circle cx="1481.88" cy="1432.7" r="18.2" fill="#bcaed6" fill-opacity="0.85"/>
<circle cx="1481.88" cy="1491.2" r="16.8" fill="#bcaed6" fill-opacity="0.85"/>
<circle cx="1521.65" cy="1369.5" r="17.2" fill="#9c82c0" fill-opacity="0.85"/>
<circle cx="1521.65" cy="1432.7" r="18.6" fill="#9c82c0" fill-opacity="0.85"/>
<circle cx="1521.65" cy="1491.2" r="16.7" fill="#9c82c0" fill-opacity="0.85"/>
<circle cx="1561.42" cy="1369.5" r="16.4" fill="#7c52ad" fill-opacity="0.85"/>
<circle cx="1561.42" cy="1432.7" r="22.6" fill="#7c52ad" fill-opacity="0.85"/>
<circle cx="1561.42" cy="1491.2" r="18.1" fill="#7c52ad" fill-opacity="0.85"/>
<circle cx="1601.19" cy="1369.5" r="21.6" fill="#5a2895" fill-opacity="0.85"/>
<circle cx="1601.19" cy="1432.7" r="21.9" fill="#5a2895" fill-opacity="0.85"/>
<circle cx="1601.19" cy="1491.2" r="22.3" fill="#5a2895" fill-opacity="0.85"/>
<rect x="110.6" y="1339.2" width="1519.9" height="181.7" fill="none" stroke="#111" stroke-width="1.4"/>
<text x="97.8" y="1375.1" text-anchor="end">CX</text>
<text x="97.8" y="1441.8" text-anchor="end">HC</text>
<text x="97.8" y="1499" text-anchor="end">STR</text>
<text x="22.1" y="1430" text-anchor="middle" transform="rotate(-90 22.1 1430)">Region</text>
<text x="138.5" y="1532" text-anchor="end" transform="rotate(-90 138.5 1532)">ACTE1</text>
<text x="178.27" y="1532" text-anchor="end" transform="rotate(-90 178.27 1532)">ACTE2</text>
<text x="218.04" y="1532" text-anchor="end" transform="rotate(-90 218.04 1532)">EPEN</text>
<text x="257.81" y="1532" text-anchor="end" transform="rotate(-90 257.81 1532)">RGDG</text>
<text x="297.58" y="1532" text-anchor="end" transform="rotate(-90 297.58 1532)">RGSZ</text>
<text x="337.35" y="1532" text-anchor="end" transform="rotate(-90 337.35 1532)">MGL1</text>
<text x="377.12" y="1532" text-anchor="end" transform="rotate(-90 377.12 1532)">MGL3</text>
<text x="416.89" y="1532" text-anchor="end" transform="rotate(-90 416.89 1532)">PVM1</text>
<text x="456.66" y="1532" text-anchor="end" transform="rotate(-90 456.66 1532)">TEGLU1</text>
<text x="496.43" y="1532" text-anchor="end" transform="rotate(-90 496.43 1532)">TEGLU2</text>
<text x="536.2" y="1532" text-anchor="end" transform="rotate(-90 536.2 1532)">TEGLU3</text>
<text x="575.97" y="1532" text-anchor="end" transform="rotate(-90 575.97 1532)">TEGLU4</text>
<text x="615.74" y="1532" text-anchor="end" transform="rotate(-90 615.74 1532)">TEGLU7</text>
<text x="655.51" y="1532" text-anchor="end" transform="rotate(-90 655.51 1532)">TEGLU8</text>
<text x="695.28" y="1532" text-anchor="end" transform="rotate(-90 695.28 1532)">TEGLU10</text>
<text x="735.05" y="1532" text-anchor="end" transform="rotate(-90 735.05 1532)">TEGLU11</text>
<text x="774.82" y="1532" text-anchor="end" transform="rotate(-90 774.82 1532)">TEGLU12</text>
<text x="814.59" y="1532" text-anchor="end" transform="rotate(-90 814.59 1532)">TEGLU16</text>
<text x="854.36" y="1532" text-anchor="end" transform="rotate(-90 854.36 1532)">TEGLU18</text>
<text x="894.13" y="1532" text-anchor="end" transform="rotate(-90 894.13 1532)">TEGLU23</text>
<text x="933.9" y="1532" text-anchor="end" transform="rotate(-90 933.9 1532)">TEGLU24</text>
<text x="973.67" y="1532" text-anchor="end" transform="rotate(-90 973.67 1532)">CR</text>
<text x="1013.44" y="1532" text-anchor="end" transform="rotate(-90 1013.44 1532)">DGGRC1</text>
<text x="1053.21" y="1532" text-anchor="end" transform="rotate(-90 1053.21 1532)">DGGRC2</text>
<text x="1092.98" y="1532" text-anchor="end" transform="rotate(-90 1092.98 1532)">MSN1</text>
<text x="1132.75" y="1532" text-anchor="end" transform="rotate(-90 1132.75 1532)">TEINH4</text>
<text x="1172.52" y="1532" text-anchor="end" transform="rotate(-90 1172.52 1532)">TEINH21</text>
<text x="1212.29" y="1532" text-anchor="end" transform="rotate(-90 1212.29 1532)">TEINH16</text>
<text x="1252.06" y="1532" text-anchor="end" transform="rotate(-90 1252.06 1532)">OBDOP</text>
<text x="1291.83" y="1532" text-anchor="end" transform="rotate(-90 1291.83 1532)">OBNBL5</text>
<text x="1331.6" y="1532" text-anchor="end" transform="rotate(-90 1331.6 1532)">SZNBL</text>
<text x="1371.37" y="1532" text-anchor="end" transform="rotate(-90 1371.37 1532)">OBNBL3</text>
<text x="1411.14" y="1532" text-anchor="end" transform="rotate(-90 1411.14 1532)">DGNBL1</text>
<text x="1450.91" y="1532" text-anchor="end" transform="rotate(-90 1450.91 1532)">OPC</text>
<text x="1490.68" y="1532" text-anchor="end" transform="rotate(-90 1490.68 1532)">COP1</text>
<text x="1530.45" y="1532" text-anchor="end" transform="rotate(-90 1530.45 1532)">NFOL1</text>
<text x="1570.22" y="1532" text-anchor="end" transform="rotate(-90 1570.22 1532)">MFOL2</text>
<text x="1609.99" y="1532" text-anchor="end" transform="rotate(-90 1609.99 1532)">MOL1</text>
<text x="1653.2" y="1284">% of cells</text>
<circle cx="1730.6" cy="1312" r="9.1" fill="#404040"/>
<text x="1694.5" y="1318.6" text-anchor="end">5</text>
<circle cx="1730.6" cy="1347.6" r="14.6" fill="#404040"/>
<text x="1694.5" y="1354.1" text-anchor="end">20</text>
<circle cx="1730.6" cy="1394.1" r="19.3" fill="#404040"/>
<text x="1694.5" y="1400.7" text-anchor="end">40</text>
<circle cx="1730.6" cy="1441.8" r="22.9" fill="#404040"/>
<text x="1694.5" y="1448.1" text-anchor="end">60</text>
<circle cx="1730.6" cy="1495.3" r="25.7" fill="#404040"/>
<text x="1694.5" y="1502.3" text-anchor="end">80</text>
</svg></body></html>
